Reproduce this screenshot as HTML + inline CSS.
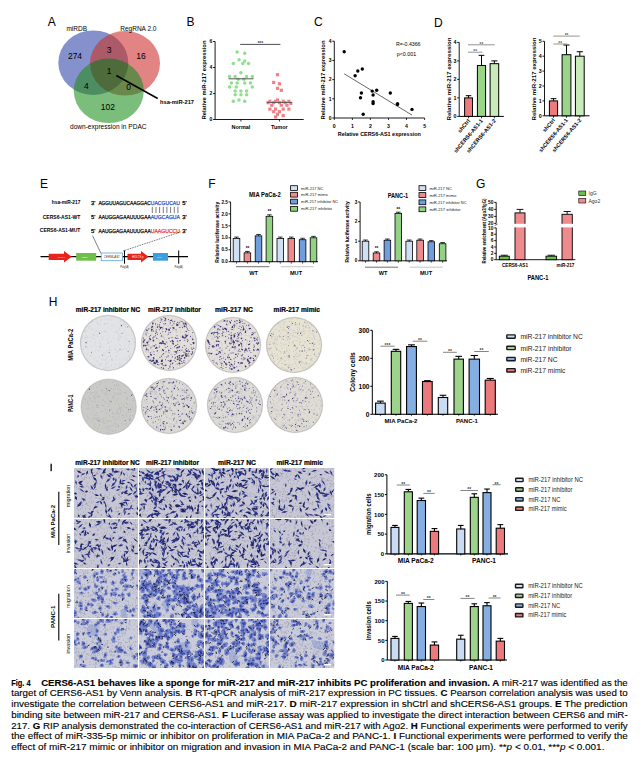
<!DOCTYPE html><html><head><meta charset="utf-8"><style>html,body{margin:0;padding:0;background:#fff}body{width:641px;height:766px;position:relative;overflow:hidden;font-family:"Liberation Sans",sans-serif}svg{position:absolute;left:0;top:0}svg text{font-family:"Liberation Sans",sans-serif}.cap{position:absolute;left:11.2px;width:616.5px;font-size:8.6px;line-height:10.7px;white-space:nowrap;text-align:justify;text-align-last:justify;color:#111}.cap b{font-weight:bold}</style></head><body>
<svg width="641" height="766" viewBox="0 0 641 766">
<text x="47.7" y="25.8" font-size="12">A</text>
<text x="186.5" y="26.2" font-size="12">B</text>
<text x="314" y="26" font-size="12">C</text>
<text x="434" y="26.5" font-size="12">D</text>
<text x="40" y="187.7" font-size="12">E</text>
<text x="208.3" y="187.7" font-size="12">F</text>
<text x="475.9" y="187.9" font-size="12">G</text>
<text x="48.7" y="306.2" font-size="12">H</text>
<rect x="50.5" y="463.7" width="1.3" height="7.5" fill="#000"/>
<g>
<ellipse cx="93.3" cy="62.7" rx="35" ry="32.3" fill="#5567b8" fill-opacity="0.72"/>
<ellipse cx="125" cy="63.3" rx="35" ry="32.3" fill="#d64a4a" fill-opacity="0.68"/>
<ellipse cx="108.8" cy="90.8" rx="35" ry="32.3" fill="#3c9e3c" fill-opacity="0.68"/>
<defs><clipPath id="vb"><ellipse cx="93.3" cy="62.7" rx="35" ry="32.3"/></clipPath><clipPath id="vr"><ellipse cx="125" cy="63.3" rx="35" ry="32.3"/></clipPath></defs>
<ellipse cx="125" cy="63.3" rx="35" ry="32.3" fill="#000" fill-opacity="0.08" clip-path="url(#vb)"/>
<ellipse cx="108.8" cy="90.8" rx="35" ry="32.3" fill="#000" fill-opacity="0.08" clip-path="url(#vb)"/>
<ellipse cx="108.8" cy="90.8" rx="35" ry="32.3" fill="#000" fill-opacity="0.08" clip-path="url(#vr)"/>
</g>
<text x="66.4" y="31" font-size="7" textLength="20.6" lengthAdjust="spacingAndGlyphs">miRDB</text>
<text x="120.2" y="31" font-size="7" textLength="36.3" lengthAdjust="spacingAndGlyphs">RegRNA 2.0</text>
<text x="75" y="59" font-size="8.5" text-anchor="middle">274</text>
<text x="109.2" y="53" font-size="8.5" text-anchor="middle">3</text>
<text x="140.9" y="58.5" font-size="8.5" text-anchor="middle">16</text>
<text x="109.2" y="74" font-size="8.5" text-anchor="middle">1</text>
<text x="86.3" y="88.5" font-size="8.5" text-anchor="middle">4</text>
<text x="128.5" y="89.5" font-size="8.5" text-anchor="middle">0</text>
<text x="107.8" y="109.5" font-size="8.5" text-anchor="middle">102</text>
<text x="70" y="129" font-size="7" textLength="76.5" lengthAdjust="spacingAndGlyphs">down-expression in PDAC</text>
<line x1="116.3" y1="75.5" x2="157.7" y2="98.5" stroke="#000" stroke-width="1.5"/>
<text x="160" y="104" font-size="6" font-weight="bold" textLength="34" lengthAdjust="spacingAndGlyphs">hsa-miR-217</text>
<line x1="215.1" y1="41.5" x2="215.1" y2="119.5" stroke="#000" stroke-width="0.9"/><line x1="213.1" y1="119.5" x2="215.1" y2="119.5" stroke="#000" stroke-width="0.9"/><text x="212.29999999999998" y="121.3" font-size="5" font-weight="bold" text-anchor="end">0</text><line x1="213.1" y1="93.5" x2="215.1" y2="93.5" stroke="#000" stroke-width="0.9"/><text x="212.29999999999998" y="95.3" font-size="5" font-weight="bold" text-anchor="end">2</text><line x1="213.1" y1="67.5" x2="215.1" y2="67.5" stroke="#000" stroke-width="0.9"/><text x="212.29999999999998" y="69.3" font-size="5" font-weight="bold" text-anchor="end">4</text><line x1="213.1" y1="41.5" x2="215.1" y2="41.5" stroke="#000" stroke-width="0.9"/><text x="212.29999999999998" y="43.3" font-size="5" font-weight="bold" text-anchor="end">6</text>
<line x1="215.1" y1="119.5" x2="303.7" y2="119.5" stroke="#000" stroke-width="0.9"/>
<line x1="240.9" y1="119.5" x2="240.9" y2="121.5" stroke="#000" stroke-width="0.8"/>
<line x1="279.4" y1="119.5" x2="279.4" y2="121.5" stroke="#000" stroke-width="0.8"/>
<text x="240.9" y="128.5" font-size="5.5" font-weight="bold" text-anchor="middle">Normal</text>
<text x="279.4" y="128.5" font-size="5.5" font-weight="bold" text-anchor="middle">Tumor</text>
<text transform="translate(206.0 80.0) rotate(-90)" font-size="5.6" text-anchor="middle" font-weight="bold" textLength="79" lengthAdjust="spacingAndGlyphs">Relative miR-217 expression</text>
<line x1="240.2" y1="44.4" x2="280.4" y2="44.4" stroke="#000" stroke-width="0.7"/><text x="260.29999999999995" y="45.3" font-size="5" font-weight="bold" text-anchor="middle" fill="#444">***</text>
<circle cx="237.1" cy="51.9" r="1.75" fill="#8ee08e"/>
<circle cx="244.7" cy="53.2" r="1.75" fill="#8ee08e"/>
<circle cx="239.0" cy="59.7" r="1.75" fill="#8ee08e"/>
<circle cx="244.7" cy="61.0" r="1.75" fill="#8ee08e"/>
<circle cx="233.3" cy="63.6" r="1.75" fill="#8ee08e"/>
<circle cx="242.8" cy="63.6" r="1.75" fill="#8ee08e"/>
<circle cx="248.5" cy="63.6" r="1.75" fill="#8ee08e"/>
<circle cx="240.9" cy="72.7" r="1.75" fill="#8ee08e"/>
<circle cx="229.5" cy="76.6" r="1.75" fill="#8ee08e"/>
<circle cx="235.2" cy="76.6" r="1.75" fill="#8ee08e"/>
<circle cx="246.6" cy="76.6" r="1.75" fill="#8ee08e"/>
<circle cx="252.3" cy="76.6" r="1.75" fill="#8ee08e"/>
<circle cx="238.1" cy="79.2" r="1.75" fill="#8ee08e"/>
<circle cx="243.8" cy="79.2" r="1.75" fill="#8ee08e"/>
<circle cx="231.4" cy="83.1" r="1.75" fill="#8ee08e"/>
<circle cx="237.1" cy="83.1" r="1.75" fill="#8ee08e"/>
<circle cx="244.7" cy="83.1" r="1.75" fill="#8ee08e"/>
<circle cx="250.4" cy="83.1" r="1.75" fill="#8ee08e"/>
<circle cx="229.5" cy="87.0" r="1.75" fill="#8ee08e"/>
<circle cx="252.3" cy="87.0" r="1.75" fill="#8ee08e"/>
<circle cx="236.2" cy="87.0" r="1.75" fill="#8ee08e"/>
<circle cx="235.2" cy="90.9" r="1.75" fill="#8ee08e"/>
<circle cx="240.9" cy="90.9" r="1.75" fill="#8ee08e"/>
<circle cx="246.6" cy="90.9" r="1.75" fill="#8ee08e"/>
<circle cx="235.2" cy="94.8" r="1.75" fill="#8ee08e"/>
<circle cx="240.9" cy="94.8" r="1.75" fill="#8ee08e"/>
<circle cx="246.6" cy="94.8" r="1.75" fill="#8ee08e"/>
<circle cx="239.0" cy="100.0" r="1.75" fill="#8ee08e"/>
<circle cx="233.3" cy="101.3" r="1.75" fill="#8ee08e"/>
<circle cx="244.7" cy="101.3" r="1.75" fill="#8ee08e"/>
<rect x="275.9" y="73.1" width="3.2" height="3.2" fill="#f27f85"/>
<rect x="272.1" y="80.8" width="3.2" height="3.2" fill="#f27f85"/>
<rect x="277.8" y="82.2" width="3.2" height="3.2" fill="#f27f85"/>
<rect x="275.9" y="86.7" width="3.2" height="3.2" fill="#f27f85"/>
<rect x="279.7" y="88.7" width="3.2" height="3.2" fill="#f27f85"/>
<rect x="275.9" y="98.4" width="3.2" height="3.2" fill="#f27f85"/>
<rect x="268.3" y="99.7" width="3.2" height="3.2" fill="#f27f85"/>
<rect x="274.0" y="99.7" width="3.2" height="3.2" fill="#f27f85"/>
<rect x="281.6" y="99.7" width="3.2" height="3.2" fill="#f27f85"/>
<rect x="287.3" y="99.7" width="3.2" height="3.2" fill="#f27f85"/>
<rect x="266.4" y="101.0" width="3.2" height="3.2" fill="#f27f85"/>
<rect x="272.1" y="101.0" width="3.2" height="3.2" fill="#f27f85"/>
<rect x="277.8" y="101.0" width="3.2" height="3.2" fill="#f27f85"/>
<rect x="283.5" y="101.0" width="3.2" height="3.2" fill="#f27f85"/>
<rect x="289.2" y="101.7" width="3.2" height="3.2" fill="#f27f85"/>
<rect x="270.2" y="103.6" width="3.2" height="3.2" fill="#f27f85"/>
<rect x="279.7" y="103.6" width="3.2" height="3.2" fill="#f27f85"/>
<rect x="285.4" y="103.6" width="3.2" height="3.2" fill="#f27f85"/>
<rect x="268.3" y="107.5" width="3.2" height="3.2" fill="#f27f85"/>
<rect x="274.0" y="107.5" width="3.2" height="3.2" fill="#f27f85"/>
<rect x="281.6" y="107.5" width="3.2" height="3.2" fill="#f27f85"/>
<rect x="287.3" y="107.5" width="3.2" height="3.2" fill="#f27f85"/>
<rect x="272.1" y="110.1" width="3.2" height="3.2" fill="#f27f85"/>
<rect x="277.8" y="110.1" width="3.2" height="3.2" fill="#f27f85"/>
<rect x="275.9" y="112.7" width="3.2" height="3.2" fill="#f27f85"/>
<rect x="281.6" y="114.0" width="3.2" height="3.2" fill="#f27f85"/>
<rect x="274.0" y="115.3" width="3.2" height="3.2" fill="#f27f85"/>
<line x1="228.5" y1="78.8" x2="253.5" y2="78.8" stroke="#555" stroke-width="1"/>
<line x1="267" y1="102.5" x2="292" y2="102.5" stroke="#555" stroke-width="0.9"/>
<line x1="334.3" y1="41.2" x2="334.3" y2="118.0" stroke="#000" stroke-width="0.9"/><line x1="332.3" y1="118.0" x2="334.3" y2="118.0" stroke="#000" stroke-width="0.9"/><text x="331.5" y="119.8" font-size="5" font-weight="bold" text-anchor="end">0</text><line x1="332.3" y1="98.8" x2="334.3" y2="98.8" stroke="#000" stroke-width="0.9"/><text x="331.5" y="100.6" font-size="5" font-weight="bold" text-anchor="end">1</text><line x1="332.3" y1="79.6" x2="334.3" y2="79.6" stroke="#000" stroke-width="0.9"/><text x="331.5" y="81.39999999999999" font-size="5" font-weight="bold" text-anchor="end">2</text><line x1="332.3" y1="60.400000000000006" x2="334.3" y2="60.400000000000006" stroke="#000" stroke-width="0.9"/><text x="331.5" y="62.2" font-size="5" font-weight="bold" text-anchor="end">3</text><line x1="332.3" y1="41.2" x2="334.3" y2="41.2" stroke="#000" stroke-width="0.9"/><text x="331.5" y="43.0" font-size="5" font-weight="bold" text-anchor="end">4</text>
<line x1="334.3" y1="118" x2="424.6" y2="118" stroke="#000" stroke-width="0.9"/>
<line x1="334.3" y1="118" x2="334.3" y2="120" stroke="#000" stroke-width="0.8"/>
<text x="334.3" y="127.8" font-size="5.2" font-weight="bold" text-anchor="middle">0</text>
<line x1="352.4" y1="118" x2="352.4" y2="120" stroke="#000" stroke-width="0.8"/>
<text x="352.4" y="127.8" font-size="5.2" font-weight="bold" text-anchor="middle">1</text>
<line x1="370.4" y1="118" x2="370.4" y2="120" stroke="#000" stroke-width="0.8"/>
<text x="370.4" y="127.8" font-size="5.2" font-weight="bold" text-anchor="middle">2</text>
<line x1="388.5" y1="118" x2="388.5" y2="120" stroke="#000" stroke-width="0.8"/>
<text x="388.5" y="127.8" font-size="5.2" font-weight="bold" text-anchor="middle">3</text>
<line x1="406.5" y1="118" x2="406.5" y2="120" stroke="#000" stroke-width="0.8"/>
<text x="406.5" y="127.8" font-size="5.2" font-weight="bold" text-anchor="middle">4</text>
<line x1="424.6" y1="118" x2="424.6" y2="120" stroke="#000" stroke-width="0.8"/>
<text x="424.6" y="127.8" font-size="5.2" font-weight="bold" text-anchor="middle">5</text>
<text x="337.8" y="136.3" font-size="5.8" font-weight="bold" textLength="83" lengthAdjust="spacingAndGlyphs">Relative CERS6-AS1 expression</text>
<text transform="translate(324.5 80.0) rotate(-90)" font-size="5.6" text-anchor="middle" font-weight="bold" textLength="79" lengthAdjust="spacingAndGlyphs">Relative miR-217 expression</text>
<circle cx="344.2" cy="51.8" r="1.7" fill="#000"/>
<circle cx="355.1" cy="75.8" r="1.7" fill="#000"/>
<circle cx="357.8" cy="71.0" r="1.7" fill="#000"/>
<circle cx="362.3" cy="69.0" r="1.7" fill="#000"/>
<circle cx="361.4" cy="93.0" r="1.7" fill="#000"/>
<circle cx="360.5" cy="97.8" r="1.7" fill="#000"/>
<circle cx="363.2" cy="114.2" r="1.7" fill="#000"/>
<circle cx="372.2" cy="91.1" r="1.7" fill="#000"/>
<circle cx="373.1" cy="95.0" r="1.7" fill="#000"/>
<circle cx="376.7" cy="90.2" r="1.7" fill="#000"/>
<circle cx="373.1" cy="101.7" r="1.7" fill="#000"/>
<circle cx="373.1" cy="103.6" r="1.7" fill="#000"/>
<circle cx="390.3" cy="93.0" r="1.7" fill="#000"/>
<circle cx="397.5" cy="103.6" r="1.7" fill="#000"/>
<circle cx="397.5" cy="104.6" r="1.7" fill="#000"/>
<circle cx="412.0" cy="109.4" r="1.7" fill="#000"/>
<line x1="344.2" y1="73.8" x2="412.0" y2="115.1" stroke="#000" stroke-width="0.6"/>
<text x="396" y="46" font-size="5.3" textLength="24.5" lengthAdjust="spacingAndGlyphs">R=-0.4366</text>
<text x="396.7" y="56" font-size="5.3" textLength="19.5" lengthAdjust="spacingAndGlyphs">p&lt;0.001</text>
<line x1="459.2" y1="42.400000000000006" x2="459.2" y2="116.4" stroke="#000" stroke-width="0.9"/><line x1="457.2" y1="116.4" x2="459.2" y2="116.4" stroke="#000" stroke-width="0.9"/><text x="456.4" y="118.308" font-size="5.3" font-weight="bold" text-anchor="end">0</text><line x1="457.2" y1="97.9" x2="459.2" y2="97.9" stroke="#000" stroke-width="0.9"/><text x="456.4" y="99.808" font-size="5.3" font-weight="bold" text-anchor="end">1</text><line x1="457.2" y1="79.4" x2="459.2" y2="79.4" stroke="#000" stroke-width="0.9"/><text x="456.4" y="81.308" font-size="5.3" font-weight="bold" text-anchor="end">2</text><line x1="457.2" y1="60.900000000000006" x2="459.2" y2="60.900000000000006" stroke="#000" stroke-width="0.9"/><text x="456.4" y="62.80800000000001" font-size="5.3" font-weight="bold" text-anchor="end">3</text><line x1="457.2" y1="42.400000000000006" x2="459.2" y2="42.400000000000006" stroke="#000" stroke-width="0.9"/><text x="456.4" y="44.30800000000001" font-size="5.3" font-weight="bold" text-anchor="end">4</text><line x1="459.2" y1="116.4" x2="503.8" y2="116.4" stroke="#000" stroke-width="1"/><line x1="468.55" y1="95.68" x2="468.55" y2="97.9" stroke="#000" stroke-width="1"/><line x1="465.785" y1="95.68" x2="471.315" y2="95.68" stroke="#000" stroke-width="1"/><rect x="464.6" y="97.9" width="7.899999999999977" height="18.5" fill="#ec7b7d" stroke="#000" stroke-width="1"/><line x1="468.55" y1="116.4" x2="468.55" y2="118.4" stroke="#000" stroke-width="0.8"/><line x1="481.5" y1="55.35000000000001" x2="481.5" y2="65.525" stroke="#000" stroke-width="1"/><line x1="478.63" y1="55.35000000000001" x2="484.37" y2="55.35000000000001" stroke="#000" stroke-width="1"/><rect x="477.4" y="65.525" width="8.200000000000045" height="50.875" fill="#9ad489" stroke="#000" stroke-width="1"/><line x1="481.5" y1="116.4" x2="481.5" y2="118.4" stroke="#000" stroke-width="0.8"/><line x1="494.4" y1="60.900000000000006" x2="494.4" y2="63.675000000000004" stroke="#000" stroke-width="1"/><line x1="491.39" y1="60.900000000000006" x2="497.40999999999997" y2="60.900000000000006" stroke="#000" stroke-width="1"/><rect x="490.1" y="63.675000000000004" width="8.599999999999966" height="52.725" fill="#c9eab9" stroke="#000" stroke-width="1"/><line x1="494.4" y1="116.4" x2="494.4" y2="118.4" stroke="#000" stroke-width="0.8"/><line x1="468" y1="52.2" x2="482.3" y2="52.2" stroke="#888" stroke-width="0.9"/><text x="475.15" y="53.400000000000006" font-size="4.6" font-weight="bold" text-anchor="middle" fill="#555">**</text><line x1="468" y1="44.8" x2="494.8" y2="44.8" stroke="#888" stroke-width="0.9"/><text x="481.4" y="46.0" font-size="4.6" font-weight="bold" text-anchor="middle" fill="#555">**</text><text transform="translate(450.5 79.0) rotate(-90)" font-size="5.9" text-anchor="middle" font-weight="bold" textLength="83" lengthAdjust="spacingAndGlyphs">Relative miR-217 expression</text><text transform="translate(470.4 121.0) rotate(-50)" font-size="5.5" font-weight="bold" text-anchor="end">shCtrl</text><text transform="translate(483.3 121.0) rotate(-50)" font-size="5.5" font-weight="bold" text-anchor="end">shCERS6-AS1-1</text><text transform="translate(496.2 121.0) rotate(-50)" font-size="5.5" font-weight="bold" text-anchor="end">shCERS6-AS1-2</text>
<line x1="544.5" y1="41.3" x2="544.5" y2="115.8" stroke="#000" stroke-width="0.9"/><line x1="542.5" y1="115.8" x2="544.5" y2="115.8" stroke="#000" stroke-width="0.9"/><text x="541.7" y="117.708" font-size="5.3" font-weight="bold" text-anchor="end">0</text><line x1="542.5" y1="100.89999999999999" x2="544.5" y2="100.89999999999999" stroke="#000" stroke-width="0.9"/><text x="541.7" y="102.80799999999999" font-size="5.3" font-weight="bold" text-anchor="end">1</text><line x1="542.5" y1="86.0" x2="544.5" y2="86.0" stroke="#000" stroke-width="0.9"/><text x="541.7" y="87.908" font-size="5.3" font-weight="bold" text-anchor="end">2</text><line x1="542.5" y1="71.1" x2="544.5" y2="71.1" stroke="#000" stroke-width="0.9"/><text x="541.7" y="73.008" font-size="5.3" font-weight="bold" text-anchor="end">3</text><line x1="542.5" y1="56.199999999999996" x2="544.5" y2="56.199999999999996" stroke="#000" stroke-width="0.9"/><text x="541.7" y="58.108" font-size="5.3" font-weight="bold" text-anchor="end">4</text><line x1="542.5" y1="41.3" x2="544.5" y2="41.3" stroke="#000" stroke-width="0.9"/><text x="541.7" y="43.208" font-size="5.3" font-weight="bold" text-anchor="end">5</text><line x1="544.5" y1="115.8" x2="589.5" y2="115.8" stroke="#000" stroke-width="1"/><line x1="553.5" y1="98.66499999999999" x2="553.5" y2="100.89999999999999" stroke="#000" stroke-width="1"/><line x1="550.63" y1="98.66499999999999" x2="556.37" y2="98.66499999999999" stroke="#000" stroke-width="1"/><rect x="549.4" y="100.89999999999999" width="8.200000000000045" height="14.900000000000006" fill="#ec7b7d" stroke="#000" stroke-width="1"/><line x1="553.5" y1="115.8" x2="553.5" y2="117.8" stroke="#000" stroke-width="0.8"/><line x1="566.5" y1="45.02499999999999" x2="566.5" y2="54.71" stroke="#000" stroke-width="1"/><line x1="563.4200000000001" y1="45.02499999999999" x2="569.5799999999999" y2="45.02499999999999" stroke="#000" stroke-width="1"/><rect x="562.1" y="54.71" width="8.799999999999955" height="61.089999999999996" fill="#9ad489" stroke="#000" stroke-width="1"/><line x1="566.5" y1="115.8" x2="566.5" y2="117.8" stroke="#000" stroke-width="0.8"/><line x1="579.8" y1="51.730000000000004" x2="579.8" y2="56.199999999999996" stroke="#000" stroke-width="1"/><line x1="576.7199999999999" y1="51.730000000000004" x2="582.88" y2="51.730000000000004" stroke="#000" stroke-width="1"/><rect x="575.4" y="56.199999999999996" width="8.800000000000068" height="59.6" fill="#c9eab9" stroke="#000" stroke-width="1"/><line x1="579.8" y1="115.8" x2="579.8" y2="117.8" stroke="#000" stroke-width="0.8"/><line x1="553.3" y1="44" x2="567" y2="44" stroke="#888" stroke-width="0.9"/><text x="560.15" y="45.2" font-size="4.6" font-weight="bold" text-anchor="middle" fill="#555">**</text><line x1="553.3" y1="36.1" x2="579.7" y2="36.1" stroke="#888" stroke-width="0.9"/><text x="566.5" y="37.300000000000004" font-size="4.6" font-weight="bold" text-anchor="middle" fill="#555">**</text><text transform="translate(535.8 79.0) rotate(-90)" font-size="5.9" text-anchor="middle" font-weight="bold" textLength="83" lengthAdjust="spacingAndGlyphs">Relative miR-217 expression</text><text transform="translate(555.3 120.4) rotate(-50)" font-size="5.5" font-weight="bold" text-anchor="end">shCtrl</text><text transform="translate(568.3 120.4) rotate(-50)" font-size="5.5" font-weight="bold" text-anchor="end">shCERS6-AS1-1</text><text transform="translate(581.6 120.4) rotate(-50)" font-size="5.5" font-weight="bold" text-anchor="end">shCERS6-AS1-2</text>
<text x="51.8" y="204.3" font-size="5.6" font-weight="bold" textLength="28.6" lengthAdjust="spacingAndGlyphs">hsa-miR-217</text>
<text x="42.7" y="218.6" font-size="5.6" font-weight="bold" textLength="37.7" lengthAdjust="spacingAndGlyphs">CERS6-AS1-WT</text>
<text x="39.8" y="232.2" font-size="5.6" font-weight="bold" textLength="40.6" lengthAdjust="spacingAndGlyphs">CERS6-AS1-MUT</text>
<text x="91" y="204.70000000000002" font-size="5.8" stroke="#000" stroke-width="0.25">3'</text>
<text x="98.4" y="204.70000000000002" font-size="5.8" textLength="52.3" lengthAdjust="spacingAndGlyphs" stroke="#000" stroke-width="0.25">AGGUUAGUCAAGGAC</text>
<text x="150.7" y="204.70000000000002" font-size="5.8" fill="#2a4dc0" textLength="29.3" lengthAdjust="spacingAndGlyphs" stroke="#2a4dc0" stroke-width="0.25">UACGUCAU</text>
<text x="182.3" y="204.70000000000002" font-size="5.8" stroke="#000" stroke-width="0.25">5'</text>
<text x="91" y="219.0" font-size="5.8" stroke="#000" stroke-width="0.25">5'</text>
<text x="98.4" y="219.0" font-size="5.8" textLength="52.3" lengthAdjust="spacingAndGlyphs" stroke="#000" stroke-width="0.25">AAUGGAGAAUUUGAA</text>
<text x="150.7" y="219.0" font-size="5.8" fill="#2a4dc0" textLength="29.3" lengthAdjust="spacingAndGlyphs" stroke="#2a4dc0" stroke-width="0.25">AUGCAGUA</text>
<text x="182.3" y="219.0" font-size="5.8" stroke="#000" stroke-width="0.25">3'</text>
<text x="91" y="232.6" font-size="5.8" stroke="#000" stroke-width="0.25">5'</text>
<text x="98.4" y="232.6" font-size="5.8" textLength="52.3" lengthAdjust="spacingAndGlyphs" stroke="#000" stroke-width="0.25">AAUGGAGAAUUUGAA</text>
<text x="150.7" y="232.6" font-size="5.8" fill="#e8302a" textLength="29.3" lengthAdjust="spacingAndGlyphs" stroke="#e8302a" stroke-width="0.25">UAAGUCCU</text>
<text x="182.3" y="232.6" font-size="5.8" stroke="#000" stroke-width="0.25">3'</text>
<line x1="152.3" y1="206.8" x2="152.3" y2="213" stroke="#222" stroke-width="0.6"/>
<line x1="156.0" y1="206.8" x2="156.0" y2="213" stroke="#222" stroke-width="0.6"/>
<line x1="159.6" y1="206.8" x2="159.6" y2="213" stroke="#222" stroke-width="0.6"/>
<line x1="163.3" y1="206.8" x2="163.3" y2="213" stroke="#222" stroke-width="0.6"/>
<line x1="166.9" y1="206.8" x2="166.9" y2="213" stroke="#222" stroke-width="0.6"/>
<line x1="170.6" y1="206.8" x2="170.6" y2="213" stroke="#222" stroke-width="0.6"/>
<line x1="174.3" y1="206.8" x2="174.3" y2="213" stroke="#222" stroke-width="0.6"/>
<line x1="177.9" y1="206.8" x2="177.9" y2="213" stroke="#222" stroke-width="0.6"/>
<line x1="40.5" y1="256.7" x2="188" y2="256.7" stroke="#000" stroke-width="1.2"/>
<polygon points="48.7,253.7 64,253.7 64,251 71.7,256.8 64,262.5 64,260 48.7,260" fill="#e8231c"/>
<polygon points="127.5,253.7 141,253.7 141,251 148.7,256.8 141,262.5 141,260 127.5,260" fill="#e8231c"/>
<rect x="76.2" y="253" width="20" height="7.7" fill="#6ec04a"/>
<rect x="101.2" y="253" width="21.3" height="7.7" fill="#fff" stroke="#58a7e0" stroke-width="0.8"/>
<rect x="153" y="253" width="15" height="7.7" fill="#3b9ede"/>
<line x1="124.5" y1="250.5" x2="124.5" y2="263.7" stroke="#000" stroke-width="1"/>
<line x1="178.7" y1="250.5" x2="178.7" y2="263.7" stroke="#000" stroke-width="1"/>
<text x="58" y="258" font-size="2.2" fill="#fdd">EF1a p</text>
<text x="82" y="258" font-size="2.2" fill="#efe">hRluc</text>
<text x="111.8" y="258.2" font-size="2.8" text-anchor="middle" fill="#333" font-style="italic">CERS6-AS1</text>
<text x="132" y="258" font-size="2.6" fill="#fee">HSV-TK p</text>
<text x="157" y="258" font-size="2.2" fill="#def">hluc+</text>
<text x="124.5" y="267.5" font-size="2.6" text-anchor="middle" fill="#222">Poly(A)</text>
<text x="178.7" y="267.5" font-size="2.6" text-anchor="middle" fill="#222">Poly(A)</text>
<line x1="92.5" y1="235.5" x2="100.8" y2="253" stroke="#000" stroke-width="0.5"/>
<line x1="180.5" y1="232" x2="123" y2="251" stroke="#000" stroke-width="0.6" stroke-dasharray="1,0.8"/>
<line x1="230.6" y1="201.95" x2="230.6" y2="261.7" stroke="#000" stroke-width="0.9"/><line x1="228.6" y1="261.7" x2="230.6" y2="261.7" stroke="#000" stroke-width="0.9"/><text x="227.79999999999998" y="263.356" font-size="4.6" font-weight="bold" text-anchor="end">0.0</text><line x1="228.6" y1="249.75" x2="230.6" y2="249.75" stroke="#000" stroke-width="0.9"/><text x="227.79999999999998" y="251.406" font-size="4.6" font-weight="bold" text-anchor="end">0.5</text><line x1="228.6" y1="237.79999999999998" x2="230.6" y2="237.79999999999998" stroke="#000" stroke-width="0.9"/><text x="227.79999999999998" y="239.456" font-size="4.6" font-weight="bold" text-anchor="end">1.0</text><line x1="228.6" y1="225.85" x2="230.6" y2="225.85" stroke="#000" stroke-width="0.9"/><text x="227.79999999999998" y="227.506" font-size="4.6" font-weight="bold" text-anchor="end">1.5</text><line x1="228.6" y1="213.89999999999998" x2="230.6" y2="213.89999999999998" stroke="#000" stroke-width="0.9"/><text x="227.79999999999998" y="215.55599999999998" font-size="4.6" font-weight="bold" text-anchor="end">2.0</text><line x1="228.6" y1="201.95" x2="230.6" y2="201.95" stroke="#000" stroke-width="0.9"/><text x="227.79999999999998" y="203.606" font-size="4.6" font-weight="bold" text-anchor="end">2.5</text><line x1="230.6" y1="261.7" x2="318" y2="261.7" stroke="#000" stroke-width="0.9"/><line x1="236.5" y1="237.083" x2="236.5" y2="238.517" stroke="#000" stroke-width="0.8"/><line x1="234.19" y1="237.083" x2="238.81" y2="237.083" stroke="#000" stroke-width="0.8"/><rect x="233.2" y="238.517" width="6.600000000000023" height="23.182999999999993" fill="#cfe0f5" stroke="#000" stroke-width="0.8"/><line x1="236.5" y1="261.7" x2="236.5" y2="263.7" stroke="#000" stroke-width="0.6"/><line x1="247.4" y1="251.423" x2="247.4" y2="252.857" stroke="#000" stroke-width="0.8"/><line x1="245.09" y1="251.423" x2="249.71" y2="251.423" stroke="#000" stroke-width="0.8"/><rect x="244.1" y="252.857" width="6.600000000000023" height="8.84299999999999" fill="#ef8b8e" stroke="#000" stroke-width="0.8"/><line x1="247.4" y1="261.7" x2="247.4" y2="263.7" stroke="#000" stroke-width="0.6"/><text x="247.4" y="249.923" font-size="4.5" font-weight="bold" text-anchor="middle">**</text><line x1="258.5" y1="234.45399999999998" x2="258.5" y2="235.88799999999998" stroke="#000" stroke-width="0.8"/><line x1="256.19" y1="234.45399999999998" x2="260.81" y2="234.45399999999998" stroke="#000" stroke-width="0.8"/><rect x="255.2" y="235.88799999999998" width="6.600000000000023" height="25.812000000000012" fill="#6f9ddd" stroke="#000" stroke-width="0.8"/><line x1="258.5" y1="261.7" x2="258.5" y2="263.7" stroke="#000" stroke-width="0.6"/><line x1="269.4" y1="214.856" x2="269.4" y2="216.29" stroke="#000" stroke-width="0.8"/><line x1="267.09" y1="214.856" x2="271.71" y2="214.856" stroke="#000" stroke-width="0.8"/><rect x="266.09999999999997" y="216.29" width="6.600000000000023" height="45.41" fill="#92d383" stroke="#000" stroke-width="0.8"/><line x1="269.4" y1="261.7" x2="269.4" y2="263.7" stroke="#000" stroke-width="0.6"/><text x="269.4" y="213.356" font-size="4.5" font-weight="bold" text-anchor="middle">**</text><line x1="280.3" y1="237.083" x2="280.3" y2="238.517" stroke="#000" stroke-width="0.8"/><line x1="277.99" y1="237.083" x2="282.61" y2="237.083" stroke="#000" stroke-width="0.8"/><rect x="277.0" y="238.517" width="6.600000000000023" height="23.182999999999993" fill="#cfe0f5" stroke="#000" stroke-width="0.8"/><line x1="280.3" y1="261.7" x2="280.3" y2="263.7" stroke="#000" stroke-width="0.6"/><line x1="291.3" y1="237.083" x2="291.3" y2="238.517" stroke="#000" stroke-width="0.8"/><line x1="288.99" y1="237.083" x2="293.61" y2="237.083" stroke="#000" stroke-width="0.8"/><rect x="288.0" y="238.517" width="6.600000000000023" height="23.182999999999993" fill="#ef8b8e" stroke="#000" stroke-width="0.8"/><line x1="291.3" y1="261.7" x2="291.3" y2="263.7" stroke="#000" stroke-width="0.6"/><line x1="302.6" y1="238.278" x2="302.6" y2="239.712" stroke="#000" stroke-width="0.8"/><line x1="300.29" y1="238.278" x2="304.91" y2="238.278" stroke="#000" stroke-width="0.8"/><rect x="299.3" y="239.712" width="6.600000000000023" height="21.988" fill="#6f9ddd" stroke="#000" stroke-width="0.8"/><line x1="302.6" y1="261.7" x2="302.6" y2="263.7" stroke="#000" stroke-width="0.6"/><line x1="313.5" y1="236.36599999999999" x2="313.5" y2="237.79999999999998" stroke="#000" stroke-width="0.8"/><line x1="311.19" y1="236.36599999999999" x2="315.81" y2="236.36599999999999" stroke="#000" stroke-width="0.8"/><rect x="310.2" y="237.79999999999998" width="6.600000000000023" height="23.900000000000006" fill="#92d383" stroke="#000" stroke-width="0.8"/><line x1="313.5" y1="261.7" x2="313.5" y2="263.7" stroke="#000" stroke-width="0.6"/><text x="264.9" y="196.6" font-size="6.6" font-weight="bold" text-anchor="middle" textLength="31.8" lengthAdjust="spacingAndGlyphs">MIA PaCa-2</text><text transform="translate(219.2 232.3) rotate(-90)" font-size="4.8" text-anchor="middle" font-weight="bold" textLength="61" lengthAdjust="spacingAndGlyphs">Relative luciferase activity</text><rect x="290.6" y="185.7" width="6.8" height="4.8" fill="#cfe0f5" stroke="#000" stroke-width="0.8"/><text x="301.1" y="189.7" font-size="4.4" fill="#222" textLength="22.4" lengthAdjust="spacingAndGlyphs">miR-217 NC</text><rect x="290.6" y="192.29999999999998" width="6.8" height="4.8" fill="#ef8b8e" stroke="#000" stroke-width="0.8"/><text x="301.1" y="196.29999999999998" font-size="4.4" fill="#222" textLength="27.3" lengthAdjust="spacingAndGlyphs">miR-217 mimic</text><rect x="290.6" y="199.2" width="6.8" height="4.8" fill="#6f9ddd" stroke="#000" stroke-width="0.8"/><text x="301.1" y="203.2" font-size="4.4" fill="#222" textLength="37.1" lengthAdjust="spacingAndGlyphs">miR-217 inhibitor NC</text><rect x="290.6" y="206.4" width="6.8" height="4.8" fill="#92d383" stroke="#000" stroke-width="0.8"/><text x="301.1" y="210.4" font-size="4.4" fill="#222" textLength="31.1" lengthAdjust="spacingAndGlyphs">miR-217 inhibitor</text><line x1="236" y1="266.7" x2="269.4" y2="266.7" stroke="#333" stroke-width="0.7"/><line x1="280.8" y1="266.7" x2="313.5" y2="266.7" stroke="#aaa" stroke-width="0.7"/><text x="253.5" y="274.7" font-size="5.6" font-weight="bold" text-anchor="middle">WT</text><text x="296" y="274.7" font-size="5.6" font-weight="bold" text-anchor="middle">MUT</text>
<line x1="360.1" y1="202.0" x2="360.1" y2="260.8" stroke="#000" stroke-width="0.9"/><line x1="358.1" y1="260.8" x2="360.1" y2="260.8" stroke="#000" stroke-width="0.9"/><text x="357.3" y="262.456" font-size="4.6" font-weight="bold" text-anchor="end">0</text><line x1="358.1" y1="241.20000000000002" x2="360.1" y2="241.20000000000002" stroke="#000" stroke-width="0.9"/><text x="357.3" y="242.85600000000002" font-size="4.6" font-weight="bold" text-anchor="end">1</text><line x1="358.1" y1="221.60000000000002" x2="360.1" y2="221.60000000000002" stroke="#000" stroke-width="0.9"/><text x="357.3" y="223.25600000000003" font-size="4.6" font-weight="bold" text-anchor="end">2</text><line x1="358.1" y1="202.0" x2="360.1" y2="202.0" stroke="#000" stroke-width="0.9"/><text x="357.3" y="203.656" font-size="4.6" font-weight="bold" text-anchor="end">3</text><line x1="360.1" y1="260.8" x2="447" y2="260.8" stroke="#000" stroke-width="0.9"/><line x1="365.5" y1="240.024" x2="365.5" y2="241.20000000000002" stroke="#000" stroke-width="0.8"/><line x1="363.19" y1="240.024" x2="367.81" y2="240.024" stroke="#000" stroke-width="0.8"/><rect x="362.2" y="241.20000000000002" width="6.600000000000023" height="19.599999999999994" fill="#cfe0f5" stroke="#000" stroke-width="0.8"/><line x1="365.5" y1="260.8" x2="365.5" y2="262.8" stroke="#000" stroke-width="0.6"/><line x1="376.5" y1="251.78400000000002" x2="376.5" y2="252.96" stroke="#000" stroke-width="0.8"/><line x1="374.19" y1="251.78400000000002" x2="378.81" y2="251.78400000000002" stroke="#000" stroke-width="0.8"/><rect x="373.2" y="252.96" width="6.600000000000023" height="7.840000000000003" fill="#ef8b8e" stroke="#000" stroke-width="0.8"/><line x1="376.5" y1="260.8" x2="376.5" y2="262.8" stroke="#000" stroke-width="0.6"/><text x="376.5" y="250.28400000000002" font-size="4.5" font-weight="bold" text-anchor="middle">**</text><line x1="387.4" y1="239.044" x2="387.4" y2="240.22" stroke="#000" stroke-width="0.8"/><line x1="385.09" y1="239.044" x2="389.71" y2="239.044" stroke="#000" stroke-width="0.8"/><rect x="384.09999999999997" y="240.22" width="6.600000000000023" height="20.580000000000013" fill="#6f9ddd" stroke="#000" stroke-width="0.8"/><line x1="387.4" y1="260.8" x2="387.4" y2="262.8" stroke="#000" stroke-width="0.6"/><line x1="398.3" y1="212.192" x2="398.3" y2="213.368" stroke="#000" stroke-width="0.8"/><line x1="395.99" y1="212.192" x2="400.61" y2="212.192" stroke="#000" stroke-width="0.8"/><rect x="395.0" y="213.368" width="6.600000000000023" height="47.432000000000016" fill="#92d383" stroke="#000" stroke-width="0.8"/><line x1="398.3" y1="260.8" x2="398.3" y2="262.8" stroke="#000" stroke-width="0.6"/><text x="398.3" y="210.692" font-size="4.5" font-weight="bold" text-anchor="middle">**</text><line x1="409.2" y1="240.024" x2="409.2" y2="241.20000000000002" stroke="#000" stroke-width="0.8"/><line x1="406.89" y1="240.024" x2="411.51" y2="240.024" stroke="#000" stroke-width="0.8"/><rect x="405.9" y="241.20000000000002" width="6.600000000000023" height="19.599999999999994" fill="#cfe0f5" stroke="#000" stroke-width="0.8"/><line x1="409.2" y1="260.8" x2="409.2" y2="262.8" stroke="#000" stroke-width="0.6"/><line x1="420.1" y1="239.044" x2="420.1" y2="240.22" stroke="#000" stroke-width="0.8"/><line x1="417.79" y1="239.044" x2="422.41" y2="239.044" stroke="#000" stroke-width="0.8"/><rect x="416.8" y="240.22" width="6.600000000000023" height="20.580000000000013" fill="#ef8b8e" stroke="#000" stroke-width="0.8"/><line x1="420.1" y1="260.8" x2="420.1" y2="262.8" stroke="#000" stroke-width="0.6"/><line x1="431.3" y1="240.61200000000002" x2="431.3" y2="241.788" stroke="#000" stroke-width="0.8"/><line x1="428.99" y1="240.61200000000002" x2="433.61" y2="240.61200000000002" stroke="#000" stroke-width="0.8"/><rect x="428.0" y="241.788" width="6.600000000000023" height="19.012" fill="#6f9ddd" stroke="#000" stroke-width="0.8"/><line x1="431.3" y1="260.8" x2="431.3" y2="262.8" stroke="#000" stroke-width="0.6"/><line x1="442.6" y1="242.572" x2="442.6" y2="243.74800000000002" stroke="#000" stroke-width="0.8"/><line x1="440.29" y1="242.572" x2="444.91" y2="242.572" stroke="#000" stroke-width="0.8"/><rect x="439.3" y="243.74800000000002" width="6.600000000000023" height="17.051999999999992" fill="#92d383" stroke="#000" stroke-width="0.8"/><line x1="442.6" y1="260.8" x2="442.6" y2="262.8" stroke="#000" stroke-width="0.6"/><text x="397.9" y="197.6" font-size="6.6" font-weight="bold" text-anchor="middle" textLength="20.5" lengthAdjust="spacingAndGlyphs">PANC-1</text><text transform="translate(348.7 231.9) rotate(-90)" font-size="4.8" text-anchor="middle" font-weight="bold" textLength="61" lengthAdjust="spacingAndGlyphs">Relative luciferase activity</text><rect x="419" y="185.7" width="6.8" height="4.8" fill="#cfe0f5" stroke="#000" stroke-width="0.8"/><text x="429.5" y="189.7" font-size="4.4" fill="#222" textLength="22.4" lengthAdjust="spacingAndGlyphs">miR-217 NC</text><rect x="419" y="192.6" width="6.8" height="4.8" fill="#ef8b8e" stroke="#000" stroke-width="0.8"/><text x="429.5" y="196.6" font-size="4.4" fill="#222" textLength="27.3" lengthAdjust="spacingAndGlyphs">miR-217 mimic</text><rect x="419" y="199.9" width="6.8" height="4.8" fill="#6f9ddd" stroke="#000" stroke-width="0.8"/><text x="429.5" y="203.9" font-size="4.4" fill="#222" textLength="37.1" lengthAdjust="spacingAndGlyphs">miR-217 inhibitor NC</text><rect x="419" y="206.9" width="6.8" height="4.8" fill="#92d383" stroke="#000" stroke-width="0.8"/><text x="429.5" y="210.9" font-size="4.4" fill="#222" textLength="31.1" lengthAdjust="spacingAndGlyphs">miR-217 inhibitor</text><line x1="365" y1="267.2" x2="398" y2="267.2" stroke="#333" stroke-width="0.7"/><line x1="409.5" y1="267.2" x2="442.6" y2="267.2" stroke="#aaa" stroke-width="0.7"/><text x="383" y="275.2" font-size="5.6" font-weight="bold" text-anchor="middle">WT</text><text x="426" y="275.2" font-size="5.6" font-weight="bold" text-anchor="middle">MUT</text>
<line x1="496.2" y1="227.9" x2="496.2" y2="259.7" stroke="#000" stroke-width="0.9"/><line x1="494.2" y1="259.7" x2="496.2" y2="259.7" stroke="#000" stroke-width="0.9"/><text x="493.4" y="261.428" font-size="4.8" font-weight="bold" text-anchor="end">0</text><line x1="494.2" y1="253.34" x2="496.2" y2="253.34" stroke="#000" stroke-width="0.9"/><text x="493.4" y="255.068" font-size="4.8" font-weight="bold" text-anchor="end">2</text><line x1="494.2" y1="246.98" x2="496.2" y2="246.98" stroke="#000" stroke-width="0.9"/><text x="493.4" y="248.708" font-size="4.8" font-weight="bold" text-anchor="end">4</text><line x1="494.2" y1="240.62" x2="496.2" y2="240.62" stroke="#000" stroke-width="0.9"/><text x="493.4" y="242.348" font-size="4.8" font-weight="bold" text-anchor="end">6</text><line x1="494.2" y1="234.26" x2="496.2" y2="234.26" stroke="#000" stroke-width="0.9"/><text x="493.4" y="235.988" font-size="4.8" font-weight="bold" text-anchor="end">8</text><line x1="494.2" y1="227.9" x2="496.2" y2="227.9" stroke="#000" stroke-width="0.9"/><text x="493.4" y="229.62800000000001" font-size="4.8" font-weight="bold" text-anchor="end">10</text>
<line x1="496.2" y1="202.4" x2="496.2" y2="223.4" stroke="#000" stroke-width="0.9"/><line x1="494.2" y1="223.4" x2="496.2" y2="223.4" stroke="#000" stroke-width="0.9"/><text x="493.4" y="225.12800000000001" font-size="4.8" font-weight="bold" text-anchor="end">20</text><line x1="494.2" y1="216.4" x2="496.2" y2="216.4" stroke="#000" stroke-width="0.9"/><text x="493.4" y="218.12800000000001" font-size="4.8" font-weight="bold" text-anchor="end">30</text><line x1="494.2" y1="209.4" x2="496.2" y2="209.4" stroke="#000" stroke-width="0.9"/><text x="493.4" y="211.12800000000001" font-size="4.8" font-weight="bold" text-anchor="end">40</text><line x1="494.2" y1="202.4" x2="496.2" y2="202.4" stroke="#000" stroke-width="0.9"/><text x="493.4" y="204.12800000000001" font-size="4.8" font-weight="bold" text-anchor="end">50</text>
<line x1="496.2" y1="259.7" x2="575.4" y2="259.7" stroke="#000" stroke-width="0.9"/>
<line x1="494.7" y1="225.5" x2="497.7" y2="224" stroke="#000" stroke-width="0.6"/>
<line x1="504.3" y1="255.248" x2="504.3" y2="256.202" stroke="#000" stroke-width="0.9"/><line x1="500.8" y1="255.248" x2="507.8" y2="255.248" stroke="#000" stroke-width="0.9"/><rect x="499.3" y="256.202" width="10.0" height="3.4979999999999905" fill="#6cc04a" stroke="#000" stroke-width="0.9"/>
<line x1="520.0" y1="209.4" x2="520.0" y2="212.9" stroke="#000" stroke-width="0.9"/><line x1="516.5" y1="209.4" x2="523.5" y2="209.4" stroke="#000" stroke-width="0.9"/><rect x="515" y="212.9" width="10" height="46.79999999999998" fill="#ef8b8e" stroke="#000" stroke-width="0.9"/>
<line x1="551.3" y1="255.248" x2="551.3" y2="256.202" stroke="#000" stroke-width="0.9"/><line x1="547.5899999999999" y1="255.248" x2="555.01" y2="255.248" stroke="#000" stroke-width="0.9"/><rect x="546" y="256.202" width="10.600000000000023" height="3.4979999999999905" fill="#6cc04a" stroke="#000" stroke-width="0.9"/>
<line x1="567.15" y1="211.5" x2="567.15" y2="214.3" stroke="#000" stroke-width="0.9"/><line x1="563.545" y1="211.5" x2="570.755" y2="211.5" stroke="#000" stroke-width="0.9"/><rect x="562" y="214.3" width="10.299999999999955" height="45.39999999999998" fill="#ef8b8e" stroke="#000" stroke-width="0.9"/>
<rect x="510" y="223.8" width="70" height="3.6" fill="#fff"/>
<line x1="496.2" y1="223.4" x2="496.2" y2="227.9" stroke="#000" stroke-width="0" />
<text x="502" y="267" font-size="6" font-weight="bold" textLength="26" lengthAdjust="spacingAndGlyphs">CERS6-AS1</text>
<text x="556.6" y="267" font-size="6.2" font-weight="bold" textLength="17.8" lengthAdjust="spacingAndGlyphs">miR-217</text>
<text x="527.4" y="279.8" font-size="6.6" font-weight="bold" textLength="21" lengthAdjust="spacingAndGlyphs">PANC-1</text>
<text transform="translate(486.2 231.0) rotate(-90)" font-size="4.8" text-anchor="middle" font-weight="bold" textLength="65" lengthAdjust="spacingAndGlyphs">Relative enrichment (Ago2/IgG)</text>
<rect x="578.8" y="191" width="7" height="4.6" fill="#6cc04a" stroke="#000" stroke-width="0.6"/>
<rect x="578.8" y="198.4" width="7" height="4.6" fill="#ef8b8e" stroke="#000" stroke-width="0.6"/>
<text x="588.5" y="195.3" font-size="5" fill="#333">IgG</text>
<text x="588.5" y="202.7" font-size="5" fill="#333">Ago2</text>
<line x1="372.3" y1="330.3" x2="372.3" y2="414.3" stroke="#000" stroke-width="1"/><line x1="370.3" y1="414.3" x2="372.3" y2="414.3" stroke="#000" stroke-width="1"/><text x="369.5" y="416.676" font-size="6.6" font-weight="bold" text-anchor="end">0</text><line x1="370.3" y1="386.3" x2="372.3" y2="386.3" stroke="#000" stroke-width="1"/><text x="369.5" y="388.676" font-size="6.6" font-weight="bold" text-anchor="end">100</text><line x1="370.3" y1="358.3" x2="372.3" y2="358.3" stroke="#000" stroke-width="1"/><text x="369.5" y="360.676" font-size="6.6" font-weight="bold" text-anchor="end">200</text><line x1="370.3" y1="330.3" x2="372.3" y2="330.3" stroke="#000" stroke-width="1"/><text x="369.5" y="332.676" font-size="6.6" font-weight="bold" text-anchor="end">300</text><line x1="372.3" y1="414.3" x2="498" y2="414.3" stroke="#000" stroke-width="1.1"/><line x1="380.4" y1="401.14" x2="380.4" y2="403.1" stroke="#000" stroke-width="1.1"/><line x1="377.03999999999996" y1="401.14" x2="383.76" y2="401.14" stroke="#000" stroke-width="1.1"/><rect x="375.6" y="403.1" width="9.599999999999966" height="11.199999999999989" fill="#c9dcf3" stroke="#000" stroke-width="1.1"/><line x1="396.0" y1="349.34000000000003" x2="396.0" y2="351.3" stroke="#000" stroke-width="1.1"/><line x1="392.71000000000004" y1="349.34000000000003" x2="399.28999999999996" y2="349.34000000000003" stroke="#000" stroke-width="1.1"/><rect x="391.3" y="351.3" width="9.399999999999977" height="63.0" fill="#9ed38b" stroke="#000" stroke-width="1.1"/><line x1="411.5" y1="344.86" x2="411.5" y2="346.54" stroke="#000" stroke-width="1.1"/><line x1="408.07" y1="344.86" x2="414.93" y2="344.86" stroke="#000" stroke-width="1.1"/><rect x="406.6" y="346.54" width="9.799999999999955" height="67.75999999999999" fill="#85afe3" stroke="#000" stroke-width="1.1"/><line x1="427.35" y1="380.7" x2="427.35" y2="381.54" stroke="#000" stroke-width="1.1"/><line x1="423.95500000000004" y1="380.7" x2="430.745" y2="380.7" stroke="#000" stroke-width="1.1"/><rect x="422.5" y="381.54" width="9.699999999999989" height="32.75999999999999" fill="#ec7a7c" stroke="#000" stroke-width="1.1"/><line x1="443.0" y1="395.26" x2="443.0" y2="397.5" stroke="#000" stroke-width="1.1"/><line x1="439.71000000000004" y1="395.26" x2="446.28999999999996" y2="395.26" stroke="#000" stroke-width="1.1"/><rect x="438.3" y="397.5" width="9.399999999999977" height="16.80000000000001" fill="#c9dcf3" stroke="#000" stroke-width="1.1"/><line x1="458.7" y1="356.34000000000003" x2="458.7" y2="359.14" stroke="#000" stroke-width="1.1"/><line x1="455.40999999999997" y1="356.34000000000003" x2="461.99" y2="356.34000000000003" stroke="#000" stroke-width="1.1"/><rect x="454" y="359.14" width="9.399999999999977" height="55.160000000000025" fill="#9ed38b" stroke="#000" stroke-width="1.1"/><line x1="474.3" y1="355.5" x2="474.3" y2="359.14" stroke="#000" stroke-width="1.1"/><line x1="470.66" y1="355.5" x2="477.94" y2="355.5" stroke="#000" stroke-width="1.1"/><rect x="469.1" y="359.14" width="10.399999999999977" height="55.160000000000025" fill="#85afe3" stroke="#000" stroke-width="1.1"/><line x1="490.25" y1="378.46000000000004" x2="490.25" y2="380.14" stroke="#000" stroke-width="1.1"/><line x1="486.715" y1="378.46000000000004" x2="493.785" y2="378.46000000000004" stroke="#000" stroke-width="1.1"/><rect x="485.2" y="380.14" width="10.100000000000023" height="34.160000000000025" fill="#ec7a7c" stroke="#000" stroke-width="1.1"/><line x1="380.4" y1="414.3" x2="380.4" y2="416.1" stroke="#000" stroke-width="0.6"/><line x1="396.0" y1="414.3" x2="396.0" y2="416.1" stroke="#000" stroke-width="0.6"/><line x1="411.5" y1="414.3" x2="411.5" y2="416.1" stroke="#000" stroke-width="0.6"/><line x1="427.35" y1="414.3" x2="427.35" y2="416.1" stroke="#000" stroke-width="0.6"/><line x1="443.0" y1="414.3" x2="443.0" y2="416.1" stroke="#000" stroke-width="0.6"/><line x1="458.7" y1="414.3" x2="458.7" y2="416.1" stroke="#000" stroke-width="0.6"/><line x1="474.3" y1="414.3" x2="474.3" y2="416.1" stroke="#000" stroke-width="0.6"/><line x1="490.25" y1="414.3" x2="490.25" y2="416.1" stroke="#000" stroke-width="0.6"/><line x1="380.4" y1="346.2" x2="394.6" y2="346.2" stroke="#666" stroke-width="0.8"/><text x="387.5" y="347.09999999999997" font-size="5" font-weight="bold" text-anchor="middle" fill="#444">***</text><line x1="412.7" y1="341.2" x2="427.3" y2="341.2" stroke="#666" stroke-width="0.8"/><text x="420.0" y="342.09999999999997" font-size="5" font-weight="bold" text-anchor="middle" fill="#444">**</text><line x1="443" y1="352.3" x2="456.8" y2="352.3" stroke="#666" stroke-width="0.8"/><text x="449.9" y="353.2" font-size="5" font-weight="bold" text-anchor="middle" fill="#444">**</text><line x1="474.2" y1="351.5" x2="488.8" y2="351.5" stroke="#666" stroke-width="0.8"/><text x="481.5" y="352.4" font-size="5" font-weight="bold" text-anchor="middle" fill="#444">**</text><text transform="translate(354.6 372.0) rotate(-90)" font-size="7.3" text-anchor="middle" font-weight="bold" textLength="39.5" lengthAdjust="spacingAndGlyphs">Colony cells</text><text x="401" y="423" font-size="6" font-weight="bold" text-anchor="middle">MIA PaCa-2</text><text x="466.9" y="423" font-size="6" font-weight="bold" text-anchor="middle">PANC-1</text><rect x="506.8" y="334.90000000000003" width="8.4" height="3.4" fill="#c9dcf3" stroke="#1a1a1a" stroke-width="1.4" rx="0.5"/><text x="520.5" y="339.48" font-size="8" fill="#222" textLength="62.3" lengthAdjust="spacingAndGlyphs">miR-217 inhibitor NC</text><rect x="506.8" y="346.2" width="8.4" height="3.4" fill="#9ed38b" stroke="#1a1a1a" stroke-width="1.4" rx="0.5"/><text x="520.5" y="350.78" font-size="8" fill="#222" textLength="51.1" lengthAdjust="spacingAndGlyphs">miR-217 inhibitor</text><rect x="506.8" y="357.40000000000003" width="8.4" height="3.4" fill="#85afe3" stroke="#1a1a1a" stroke-width="1.4" rx="0.5"/><text x="520.5" y="361.98" font-size="8" fill="#222" textLength="37.1" lengthAdjust="spacingAndGlyphs">miR-217 NC</text><rect x="506.8" y="368.6" width="8.4" height="3.4" fill="#ec7a7c" stroke="#1a1a1a" stroke-width="1.4" rx="0.5"/><text x="520.5" y="373.18" font-size="8" fill="#222" textLength="44.9" lengthAdjust="spacingAndGlyphs">miR-217 mimic</text>
<line x1="386.9" y1="474.8" x2="386.9" y2="553.9" stroke="#000" stroke-width="1"/><line x1="384.9" y1="553.9" x2="386.9" y2="553.9" stroke="#000" stroke-width="1"/><text x="384.09999999999997" y="556.06" font-size="6" font-weight="bold" text-anchor="end">0</text><line x1="384.9" y1="534.125" x2="386.9" y2="534.125" stroke="#000" stroke-width="1"/><text x="384.09999999999997" y="536.285" font-size="6" font-weight="bold" text-anchor="end">50</text><line x1="384.9" y1="514.35" x2="386.9" y2="514.35" stroke="#000" stroke-width="1"/><text x="384.09999999999997" y="516.51" font-size="6" font-weight="bold" text-anchor="end">100</text><line x1="384.9" y1="494.575" x2="386.9" y2="494.575" stroke="#000" stroke-width="1"/><text x="384.09999999999997" y="496.735" font-size="6" font-weight="bold" text-anchor="end">150</text><line x1="384.9" y1="474.8" x2="386.9" y2="474.8" stroke="#000" stroke-width="1"/><text x="384.09999999999997" y="476.96000000000004" font-size="6" font-weight="bold" text-anchor="end">200</text><line x1="386.9" y1="553.9" x2="508" y2="553.9" stroke="#000" stroke-width="1.1"/><line x1="394.95" y1="525.424" x2="394.95" y2="527.4014999999999" stroke="#000" stroke-width="1.1"/><line x1="392.185" y1="525.424" x2="397.715" y2="525.424" stroke="#000" stroke-width="1.1"/><rect x="391" y="527.4014999999999" width="7.899999999999977" height="26.498500000000035" fill="#c9dcf3" stroke="#000" stroke-width="1.1"/><line x1="408.35" y1="489.4335" x2="408.35" y2="491.8065" stroke="#000" stroke-width="1.1"/><line x1="405.51500000000004" y1="489.4335" x2="411.185" y2="489.4335" stroke="#000" stroke-width="1.1"/><rect x="404.3" y="491.8065" width="8.099999999999966" height="62.09349999999995" fill="#9ed38b" stroke="#000" stroke-width="1.1"/><line x1="421.35" y1="498.1345" x2="421.35" y2="500.5075" stroke="#000" stroke-width="1.1"/><line x1="418.445" y1="498.1345" x2="424.25500000000005" y2="498.1345" stroke="#000" stroke-width="1.1"/><rect x="417.2" y="500.5075" width="8.300000000000011" height="53.392499999999984" fill="#85afe3" stroke="#000" stroke-width="1.1"/><line x1="434.45000000000005" y1="528.588" x2="434.45000000000005" y2="531.3565" stroke="#000" stroke-width="1.1"/><line x1="431.545" y1="528.588" x2="437.3550000000001" y2="528.588" stroke="#000" stroke-width="1.1"/><rect x="430.3" y="531.3565" width="8.300000000000011" height="22.543499999999995" fill="#ec7a7c" stroke="#000" stroke-width="1.1"/><line x1="460.75" y1="525.424" x2="460.75" y2="528.9834999999999" stroke="#000" stroke-width="1.1"/><line x1="457.91499999999996" y1="525.424" x2="463.58500000000004" y2="525.424" stroke="#000" stroke-width="1.1"/><rect x="456.7" y="528.9834999999999" width="8.100000000000023" height="24.916500000000042" fill="#c9dcf3" stroke="#000" stroke-width="1.1"/><line x1="474.3" y1="493.784" x2="474.3" y2="497.3435" stroke="#000" stroke-width="1.1"/><line x1="471.5" y1="493.784" x2="477.1" y2="493.784" stroke="#000" stroke-width="1.1"/><rect x="470.3" y="497.3435" width="8.0" height="56.55649999999997" fill="#9ed38b" stroke="#000" stroke-width="1.1"/><line x1="487.0" y1="489.038" x2="487.0" y2="492.5975" stroke="#000" stroke-width="1.1"/><line x1="484.2" y1="489.038" x2="489.8" y2="489.038" stroke="#000" stroke-width="1.1"/><rect x="483" y="492.5975" width="8" height="61.30249999999995" fill="#85afe3" stroke="#000" stroke-width="1.1"/><line x1="500.35" y1="524.633" x2="500.35" y2="528.1925" stroke="#000" stroke-width="1.1"/><line x1="497.445" y1="524.633" x2="503.25500000000005" y2="524.633" stroke="#000" stroke-width="1.1"/><rect x="496.2" y="528.1925" width="8.300000000000011" height="25.707499999999982" fill="#ec7a7c" stroke="#000" stroke-width="1.1"/><line x1="394.95" y1="553.9" x2="394.95" y2="555.6999999999999" stroke="#000" stroke-width="0.6"/><line x1="408.35" y1="553.9" x2="408.35" y2="555.6999999999999" stroke="#000" stroke-width="0.6"/><line x1="421.35" y1="553.9" x2="421.35" y2="555.6999999999999" stroke="#000" stroke-width="0.6"/><line x1="434.45000000000005" y1="553.9" x2="434.45000000000005" y2="555.6999999999999" stroke="#000" stroke-width="0.6"/><line x1="460.75" y1="553.9" x2="460.75" y2="555.6999999999999" stroke="#000" stroke-width="0.6"/><line x1="474.3" y1="553.9" x2="474.3" y2="555.6999999999999" stroke="#000" stroke-width="0.6"/><line x1="487.0" y1="553.9" x2="487.0" y2="555.6999999999999" stroke="#000" stroke-width="0.6"/><line x1="500.35" y1="553.9" x2="500.35" y2="555.6999999999999" stroke="#000" stroke-width="0.6"/><line x1="396.7" y1="485" x2="409.8" y2="485" stroke="#666" stroke-width="0.8"/><text x="403.25" y="485.9" font-size="5" font-weight="bold" text-anchor="middle" fill="#444">**</text><line x1="423.3" y1="493.4" x2="434.7" y2="493.4" stroke="#666" stroke-width="0.8"/><text x="429.0" y="494.29999999999995" font-size="5" font-weight="bold" text-anchor="middle" fill="#444">**</text><line x1="460.4" y1="490.5" x2="478" y2="490.5" stroke="#666" stroke-width="0.8"/><text x="469.2" y="491.4" font-size="5" font-weight="bold" text-anchor="middle" fill="#444">**</text><line x1="492.5" y1="484.7" x2="500.6" y2="484.7" stroke="#666" stroke-width="0.8"/><text x="496.55" y="485.59999999999997" font-size="5" font-weight="bold" text-anchor="middle" fill="#444">**</text><text transform="translate(370.9 514.2) rotate(-90)" font-size="6.3" text-anchor="middle" font-weight="bold" textLength="41.5" lengthAdjust="spacingAndGlyphs">migration cells</text><text x="415.7" y="563.3" font-size="6.6" font-weight="bold" text-anchor="middle">MIA PaCa-2</text><text x="484" y="563.3" font-size="6.6" font-weight="bold" text-anchor="middle">PANC-1</text><rect x="515.6999999999999" y="478.2" width="7.4" height="3.4" fill="#c9dcf3" stroke="#1a1a1a" stroke-width="1.4" rx="0.5"/><text x="528.4" y="482.16799999999995" font-size="6.3" fill="#222" textLength="54.6" lengthAdjust="spacingAndGlyphs">miR-217 inhibitor NC</text><rect x="515.6999999999999" y="487.8" width="7.4" height="3.4" fill="#9ed38b" stroke="#1a1a1a" stroke-width="1.4" rx="0.5"/><text x="528.4" y="491.768" font-size="6.3" fill="#222" textLength="44.1" lengthAdjust="spacingAndGlyphs">miR-217 inhibitor</text><rect x="515.6999999999999" y="497.6" width="7.4" height="3.4" fill="#85afe3" stroke="#1a1a1a" stroke-width="1.4" rx="0.5"/><text x="528.4" y="501.568" font-size="6.3" fill="#222" textLength="32.1" lengthAdjust="spacingAndGlyphs">miR-217 NC</text><rect x="515.6999999999999" y="507.0" width="7.4" height="3.4" fill="#ec7a7c" stroke="#1a1a1a" stroke-width="1.4" rx="0.5"/><text x="528.4" y="510.96799999999996" font-size="6.3" fill="#222" textLength="38.2" lengthAdjust="spacingAndGlyphs">miR-217 mimic</text>
<line x1="387.3" y1="581.4" x2="387.3" y2="660.0" stroke="#000" stroke-width="1"/><line x1="385.3" y1="660.0" x2="387.3" y2="660.0" stroke="#000" stroke-width="1"/><text x="384.5" y="662.16" font-size="6" font-weight="bold" text-anchor="end">0</text><line x1="385.3" y1="640.35" x2="387.3" y2="640.35" stroke="#000" stroke-width="1"/><text x="384.5" y="642.51" font-size="6" font-weight="bold" text-anchor="end">50</text><line x1="385.3" y1="620.7" x2="387.3" y2="620.7" stroke="#000" stroke-width="1"/><text x="384.5" y="622.86" font-size="6" font-weight="bold" text-anchor="end">100</text><line x1="385.3" y1="601.05" x2="387.3" y2="601.05" stroke="#000" stroke-width="1"/><text x="384.5" y="603.2099999999999" font-size="6" font-weight="bold" text-anchor="end">150</text><line x1="385.3" y1="581.4" x2="387.3" y2="581.4" stroke="#000" stroke-width="1"/><text x="384.5" y="583.56" font-size="6" font-weight="bold" text-anchor="end">200</text><line x1="387.3" y1="660" x2="507" y2="660" stroke="#000" stroke-width="1.1"/><line x1="394.95" y1="636.42" x2="394.95" y2="638.385" stroke="#000" stroke-width="1.1"/><line x1="392.185" y1="636.42" x2="397.715" y2="636.42" stroke="#000" stroke-width="1.1"/><rect x="391" y="638.385" width="7.899999999999977" height="21.61500000000001" fill="#c9dcf3" stroke="#000" stroke-width="1.1"/><line x1="408.35" y1="601.443" x2="408.35" y2="603.408" stroke="#000" stroke-width="1.1"/><line x1="405.51500000000004" y1="601.443" x2="411.185" y2="601.443" stroke="#000" stroke-width="1.1"/><rect x="404.3" y="603.408" width="8.099999999999966" height="56.591999999999985" fill="#9ed38b" stroke="#000" stroke-width="1.1"/><line x1="421.35" y1="603.015" x2="421.35" y2="606.552" stroke="#000" stroke-width="1.1"/><line x1="418.445" y1="603.015" x2="424.25500000000005" y2="603.015" stroke="#000" stroke-width="1.1"/><rect x="417.2" y="606.552" width="8.300000000000011" height="53.44799999999998" fill="#85afe3" stroke="#000" stroke-width="1.1"/><line x1="434.45000000000005" y1="641.922" x2="434.45000000000005" y2="645.066" stroke="#000" stroke-width="1.1"/><line x1="431.545" y1="641.922" x2="437.3550000000001" y2="641.922" stroke="#000" stroke-width="1.1"/><rect x="430.3" y="645.066" width="8.300000000000011" height="14.933999999999969" fill="#ec7a7c" stroke="#000" stroke-width="1.1"/><line x1="460.75" y1="635.241" x2="460.75" y2="639.171" stroke="#000" stroke-width="1.1"/><line x1="457.91499999999996" y1="635.241" x2="463.58500000000004" y2="635.241" stroke="#000" stroke-width="1.1"/><rect x="456.7" y="639.171" width="8.100000000000023" height="20.82899999999995" fill="#c9dcf3" stroke="#000" stroke-width="1.1"/><line x1="474.3" y1="603.8009999999999" x2="474.3" y2="606.552" stroke="#000" stroke-width="1.1"/><line x1="471.5" y1="603.8009999999999" x2="477.1" y2="603.8009999999999" stroke="#000" stroke-width="1.1"/><rect x="470.3" y="606.552" width="8.0" height="53.44799999999998" fill="#9ed38b" stroke="#000" stroke-width="1.1"/><line x1="487.0" y1="602.622" x2="487.0" y2="605.766" stroke="#000" stroke-width="1.1"/><line x1="484.2" y1="602.622" x2="489.8" y2="602.622" stroke="#000" stroke-width="1.1"/><rect x="483" y="605.766" width="8" height="54.23400000000004" fill="#85afe3" stroke="#000" stroke-width="1.1"/><line x1="500.35" y1="638.385" x2="500.35" y2="641.136" stroke="#000" stroke-width="1.1"/><line x1="497.445" y1="638.385" x2="503.25500000000005" y2="638.385" stroke="#000" stroke-width="1.1"/><rect x="496.2" y="641.136" width="8.300000000000011" height="18.864000000000033" fill="#ec7a7c" stroke="#000" stroke-width="1.1"/><line x1="394.95" y1="660" x2="394.95" y2="661.8" stroke="#000" stroke-width="0.6"/><line x1="408.35" y1="660" x2="408.35" y2="661.8" stroke="#000" stroke-width="0.6"/><line x1="421.35" y1="660" x2="421.35" y2="661.8" stroke="#000" stroke-width="0.6"/><line x1="434.45000000000005" y1="660" x2="434.45000000000005" y2="661.8" stroke="#000" stroke-width="0.6"/><line x1="460.75" y1="660" x2="460.75" y2="661.8" stroke="#000" stroke-width="0.6"/><line x1="474.3" y1="660" x2="474.3" y2="661.8" stroke="#000" stroke-width="0.6"/><line x1="487.0" y1="660" x2="487.0" y2="661.8" stroke="#000" stroke-width="0.6"/><line x1="500.35" y1="660" x2="500.35" y2="661.8" stroke="#000" stroke-width="0.6"/><line x1="396" y1="595.1" x2="409.8" y2="595.1" stroke="#666" stroke-width="0.8"/><text x="402.9" y="596.0" font-size="5" font-weight="bold" text-anchor="middle" fill="#444">**</text><line x1="423.3" y1="599.5" x2="434.3" y2="599.5" stroke="#666" stroke-width="0.8"/><text x="428.8" y="600.4" font-size="5" font-weight="bold" text-anchor="middle" fill="#444">**</text><line x1="460.4" y1="598.4" x2="474.6" y2="598.4" stroke="#666" stroke-width="0.8"/><text x="467.5" y="599.3" font-size="5" font-weight="bold" text-anchor="middle" fill="#444">**</text><line x1="488.6" y1="598" x2="500.6" y2="598" stroke="#666" stroke-width="0.8"/><text x="494.6" y="598.9" font-size="5" font-weight="bold" text-anchor="middle" fill="#444">**</text><text transform="translate(370.9 620.8) rotate(-90)" font-size="6.3" text-anchor="middle" font-weight="bold" textLength="39" lengthAdjust="spacingAndGlyphs">invasion cells</text><text x="415.7" y="669.5" font-size="6.6" font-weight="bold" text-anchor="middle">MIA PaCa-2</text><text x="481" y="669.5" font-size="6.6" font-weight="bold" text-anchor="middle">PANC-1</text><rect x="515.5" y="584.3" width="7.4" height="3.4" fill="#c9dcf3" stroke="#1a1a1a" stroke-width="1.4" rx="0.5"/><text x="528.2" y="588.268" font-size="6.3" fill="#222" textLength="54.6" lengthAdjust="spacingAndGlyphs">miR-217 inhibitor NC</text><rect x="515.5" y="594.0999999999999" width="7.4" height="3.4" fill="#9ed38b" stroke="#1a1a1a" stroke-width="1.4" rx="0.5"/><text x="528.2" y="598.068" font-size="6.3" fill="#222" textLength="44.1" lengthAdjust="spacingAndGlyphs">miR-217 inhibitor</text><rect x="515.5" y="603.9" width="7.4" height="3.4" fill="#85afe3" stroke="#1a1a1a" stroke-width="1.4" rx="0.5"/><text x="528.2" y="607.868" font-size="6.3" fill="#222" textLength="32.1" lengthAdjust="spacingAndGlyphs">miR-217 NC</text><rect x="515.5" y="613.5" width="7.4" height="3.4" fill="#ec7a7c" stroke="#1a1a1a" stroke-width="1.4" rx="0.5"/><text x="528.2" y="617.4680000000001" font-size="6.3" fill="#222" textLength="38.2" lengthAdjust="spacingAndGlyphs">miR-217 mimic</text>
<defs><clipPath id="pc"><circle cx="0" cy="0" r="27.2"/></clipPath><filter id="bl" x="-5%" y="-5%" width="110%" height="110%"><feGaussianBlur stdDeviation="0.3"/></filter><filter id="bl2" x="-5%" y="-5%" width="110%" height="110%"><feGaussianBlur stdDeviation="0.4"/></filter><filter id="bl3" x="-5%" y="-5%" width="110%" height="110%"><feGaussianBlur stdDeviation="0.6"/></filter></defs>
<g transform="translate(108 343)" filter="url(#bl)"><circle r="28.2" fill="#d8d8d8"/><circle r="27.6" fill="#b9bbc0"/><circle r="27" fill="#e2e3e5"/><g clip-path="url(#pc)"><path d="M20.9 3.3h0M2.3 13.7h0M-10.1 -20.4h0M21.4 13.0h0M16.9 3.2h0M-12.4 -0.4h0M1.4 4.1h0M-20.5 -6.0h0M-10.5 -6.6h0M23.8 1.0h0M-7.6 -22.5h0M8.6 12.8h0M-13.4 22.2h0M6.6 4.6h0M-19.4 -14.8h0M-3.0 -23.6h0M19.1 -3.3h0M-15.4 -5.2h0M-17.7 -16.4h0M-21.8 -11.5h0M21.3 6.3h0M-3.1 12.3h0M0.8 7.4h0M-1.5 8.3h0M-14.0 15.9h0M4.1 15.6h0M12.6 -5.3h0M-16.5 -13.5h0M-1.4 -10.9h0M-7.8 7.4h0M-16.8 -20.3h0M-7.9 -18.1h0M4.0 -24.0h0M12.4 2.5h0M-1.7 14.8h0M11.4 -4.3h0M-9.8 22.8h0M-17.0 13.1h0M-24.5 6.5h0M0.3 13.6h0M-1.6 19.8h0M16.2 -12.1h0M3.2 16.4h0M-26.4 -1.6h0M7.6 2.3h0M-6.1 -6.3h0M-20.8 11.1h0M-4.9 4.5h0M-26.0 -4.8h0M16.7 -20.0h0M-0.5 -2.8h0M-21.3 -5.0h0M-8.7 -10.6h0M-8.1 3.5h0M17.1 -5.1h0M-2.1 24.7h0M8.1 16.9h0M17.4 -18.4h0M-9.3 -11.1h0M11.9 16.9h0M-22.4 -5.7h0M-23.0 -4.4h0M-0.3 0.6h0M3.3 -1.6h0M12.2 -21.6h0M13.7 5.2h0M23.5 -8.1h0M-7.7 0.7h0M0.5 -7.0h0M16.0 16.7h0M-17.4 -5.6h0M9.5 -9.8h0M4.1 16.7h0M-2.4 -19.3h0M-4.5 11.0h0M-15.6 -21.4h0M-17.4 -1.9h0M1.5 9.1h0M-13.1 -8.1h0M2.4 12.5h0M-4.8 -5.2h0M10.5 -7.1h0M22.2 10.6h0M-6.3 -11.3h0M8.3 9.1h0M-23.1 -11.1h0M3.9 -17.8h0M8.7 22.2h0M-7.5 3.5h0M-16.9 3.5h0M-10.5 -20.1h0M21.4 15.2h0M-8.9 14.2h0M0.2 24.6h0M-11.0 3.7h0M-3.1 16.9h0M11.7 -6.1h0M11.4 -13.5h0M18.7 6.1h0M13.6 -22.7h0M23.3 -11.6h0M12.3 21.1h0M4.2 18.0h0M15.7 6.0h0M16.2 -1.5h0M2.9 -13.3h0M-15.8 8.3h0M25.9 -0.7h0M-3.9 -19.4h0M-3.0 10.0h0M-22.9 -12.4h0M-0.2 -19.5h0M-5.5 -3.2h0M11.3 -15.0h0M10.2 -2.6h0M2.9 6.9h0M-9.3 -18.2h0M9.4 8.8h0M0.6 25.0h0M-14.9 -13.9h0M-14.8 -8.6h0M17.6 -7.6h0M-2.5 -11.7h0M-10.3 7.9h0M-6.7 20.7h0M0.2 -14.9h0M-6.9 1.8h0M26.5 -0.6h0M1.6 7.0h0M12.5 -5.6h0M18.1 -17.1h0M8.8 13.5h0M-7.0 -23.2h0M20.7 -1.7h0M21.4 1.1h0M-7.3 22.8h0M20.0 -8.1h0M7.3 6.4h0M-8.2 -2.8h0M-10.9 -8.5h0M6.5 21.5h0M-1.9 21.0h0M15.3 -10.4h0M20.4 13.4h0M-2.9 17.0h0M0.2 -1.6h0M-1.6 21.1h0M-21.6 -7.3h0M17.3 1.1h0M5.4 -4.9h0M-24.2 -7.1h0M-21.0 -12.0h0M7.1 7.3h0M11.8 -8.7h0M15.2 -18.2h0M6.2 24.3h0M10.6 8.0h0M17.5 -15.6h0M-12.3 -11.6h0M9.4 -4.4h0M24.4 -3.7h0M17.5 -16.2h0M-0.4 -4.2h0M13.9 -6.4h0M15.6 -17.9h0M-2.5 23.7h0M18.3 14.8h0M15.6 -19.2h0M5.1 -11.4h0M-6.1 16.9h0M3.3 23.4h0M1.4 3.8h0M10.0 -11.4h0M-4.7 25.6h0M-17.1 12.5h0M-25.6 -5.9h0M19.2 17.0h0M11.3 23.5h0M-2.5 25.9h0M-8.0 3.5h0M-8.8 20.8h0M-20.6 -1.5h0M-14.6 -7.6h0M-3.4 -12.9h0M1.0 -0.5h0M-3.7 -19.1h0M-10.9 -20.0h0M14.5 6.8h0M-10.4 18.9h0M8.6 -12.1h0M-7.0 21.4h0M-12.4 8.0h0M-4.8 16.1h0M-8.3 4.5h0M-11.3 -23.1h0M-18.8 -16.7h0M-13.9 -4.3h0M-0.1 0.5h0M-15.2 -8.4h0M-20.9 4.7h0M4.0 17.2h0M14.8 -10.6h0M11.4 20.7h0M-7.7 -0.7h0M-10.8 18.1h0M0.2 -24.0h0M3.4 21.5h0M11.7 1.8h0M-13.0 2.0h0M21.9 10.8h0M-11.7 -12.4h0M-3.9 -11.0h0M0.7 18.6h0M21.5 0.7h0M2.9 -22.8h0M-7.7 3.9h0M10.7 -2.9h0M18.1 5.9h0M7.7 -10.8h0M5.7 -17.0h0" stroke="#4a3c8a" stroke-width="0.6" stroke-linecap="round" opacity="0.22"/><path d="M21.2 -1.6h0M19.7 -16.0h0M-22.1 3.6h0M12.0 6.4h0M-5.7 12.3h0M1.1 9.6h0M20.1 8.6h0M-16.5 9.7h0M13.9 -9.5h0" stroke="#30267a" stroke-width="0.71" stroke-linecap="round" opacity="0.85"/><path d="M-22.0 -0.7l0.1 0.6M-8.4 -9.8l0.0 0.2M13.5 -17.0l-0.2 -0.8" stroke="#261e68" stroke-width="0.89" stroke-linecap="round" opacity="0.85"/></g></g>
<g transform="translate(169 343)" filter="url(#bl)"><circle r="28.2" fill="#d8d8d8"/><circle r="27.6" fill="#b9b6b0"/><circle r="27" fill="#e3e0d9"/><g clip-path="url(#pc)"><path d="M0.3 -15.7h0M23.4 -7.1h0M-0.3 -17.2h0M-15.6 -11.8h0M2.4 12.2h0M17.2 3.2h0M-6.6 -13.9h0M8.6 14.5h0M12.6 13.0h0M20.6 3.5h0M-15.3 -6.5h0M-2.7 -3.4h0M-9.5 2.3h0M-4.3 4.1h0M-5.7 10.8h0M-16.8 15.9h0M11.3 -20.0h0M11.6 6.6h0M-3.6 -0.9h0M-15.6 21.4h0M4.2 -21.0h0M0.6 -21.4h0M8.1 24.5h0M2.2 3.1h0M-4.6 -8.2h0M4.0 19.5h0M2.3 -22.0h0M-8.5 -6.8h0M17.2 15.1h0M23.4 -5.3h0M8.6 1.4h0M-6.5 -13.3h0M-20.7 15.7h0M19.9 10.3h0M-15.4 -15.8h0M1.2 -8.4h0M-19.7 -14.4h0M9.2 -0.9h0M-13.4 19.2h0M-11.9 12.6h0M-10.2 15.8h0M10.7 -21.9h0M8.3 -2.1h0M10.0 -18.6h0M-20.5 8.8h0M22.2 -4.9h0M4.9 -12.9h0M-19.3 2.0h0M-2.1 -17.4h0M8.2 -11.0h0M20.7 12.5h0M1.0 24.9h0M-13.9 -11.5h0M16.0 2.9h0M10.2 22.2h0M3.6 -11.7h0M11.3 -10.6h0M-3.6 21.9h0M2.5 -0.9h0M-1.4 -7.6h0M0.9 -18.5h0M-13.4 -17.5h0M4.9 -17.9h0M1.4 8.0h0M-7.6 20.7h0M-19.9 3.4h0M-17.2 8.7h0M-11.1 20.0h0M-2.9 22.0h0M9.6 9.1h0M8.5 7.9h0M1.5 -19.3h0M2.4 11.1h0M-2.9 -18.2h0M-25.9 -4.0h0M11.4 8.3h0M1.6 11.6h0M11.2 1.0h0M-2.9 19.1h0M-24.7 -8.6h0M15.5 15.8h0M-24.7 1.4h0M-22.1 -11.1h0M-16.9 6.6h0M10.8 3.6h0M-25.5 3.6h0M-19.5 14.0h0M-5.0 -5.2h0M3.6 4.9h0M-6.6 18.8h0M19.4 17.9h0M-18.2 -14.4h0M3.6 23.3h0M-18.2 5.9h0M11.3 -13.6h0M-9.0 24.8h0M-16.1 -13.3h0M21.6 -7.4h0M2.9 11.7h0M11.9 18.0h0M9.8 5.0h0M-1.3 0.4h0M-5.2 19.7h0M-3.4 -12.3h0M-21.3 6.3h0M19.5 -10.1h0M-16.6 -16.6h0M19.7 -8.7h0M-16.6 -4.8h0M17.9 -11.6h0M21.7 10.5h0M-3.8 10.1h0M-20.8 -9.7h0M10.1 10.0h0M-6.8 -20.9h0M-25.7 -0.1h0M16.3 9.0h0M-4.8 2.2h0M-0.0 15.0h0M7.8 -1.9h0M-21.6 -11.0h0M25.8 -0.1h0M-2.7 21.6h0M0.2 -5.3h0M-10.5 -14.8h0M10.6 23.0h0M-13.4 -15.2h0M15.6 10.1h0M-7.8 13.5h0M13.6 -16.9h0M-5.3 -14.3h0M13.4 -4.8h0M-22.7 -7.4h0M-7.0 16.4h0M14.8 -2.8h0M-16.8 -1.5h0M-14.4 -22.0h0M-16.7 10.1h0M-7.4 8.8h0M-16.3 -16.3h0M6.6 22.1h0M17.6 -8.6h0M-5.6 -16.6h0M9.1 -1.6h0M1.4 20.6h0M-10.0 -3.3h0M16.4 10.9h0M22.5 -13.7h0M13.3 12.1h0M-24.2 0.2h0M-22.4 -1.2h0M7.0 -11.9h0M1.0 26.2h0M-14.6 13.1h0M-25.4 -1.3h0M16.3 -18.7h0M3.5 -13.5h0M15.6 -6.9h0M8.1 -17.1h0M-4.2 13.4h0M20.3 -0.1h0M11.0 14.9h0M-10.9 16.1h0M-19.0 -5.3h0M-7.8 16.1h0M-3.7 -10.9h0M2.1 19.9h0M22.5 6.3h0M-6.3 -22.0h0M-18.0 15.7h0M9.3 -19.5h0M-26.2 0.8h0M-5.1 -0.1h0M13.9 -14.9h0M-23.1 9.1h0M-18.5 5.1h0M-19.0 12.1h0M12.1 17.7h0M17.8 -3.5h0M-5.4 -14.4h0M12.7 -17.1h0M15.5 -18.9h0M-6.6 14.9h0M1.3 -22.4h0M24.1 5.5h0M-4.7 -5.1h0M25.4 -0.4h0M-21.0 9.2h0M-5.5 -6.2h0M-23.2 8.6h0M18.1 -12.6h0M1.6 -5.4h0M-10.1 10.2h0M-9.9 -2.0h0M5.3 -19.2h0M9.6 5.2h0M-18.1 -16.9h0M11.1 -6.8h0M-9.7 2.4h0M-0.4 13.3h0M0.9 -2.4h0M-11.1 -22.6h0M-9.8 3.8h0M-13.3 -8.1h0M-18.8 9.7h0M7.5 -10.9h0M-8.9 7.8h0M1.5 18.4h0M-17.9 -9.1h0M-7.4 25.3h0M-14.3 -22.0h0M-12.7 -5.6h0M-0.7 -21.9h0M-4.6 -3.6h0M15.4 -10.6h0M4.3 -13.5h0M-12.4 16.5h0M-15.3 -14.6h0M-4.0 -21.5h0M11.3 -18.3h0" stroke="#4a3c8a" stroke-width="0.6" stroke-linecap="round" opacity="0.35"/><path d="M16.9 -11.8h0M-13.5 5.3h0M18.8 11.9h0M10.1 20.1h0M18.8 -3.4h0M12.0 -21.7h0M8.6 -2.0h0M-8.2 -15.5h0M3.1 -2.7h0M4.5 24.5h0M19.9 -12.7h0M6.2 -5.3h0M12.6 18.5h0M-8.2 0.5h0M24.8 5.2h0M19.0 -2.7h0M6.1 15.2h0M-23.0 6.7h0M-17.1 -11.9h0M0.9 23.0h0M-11.5 21.4h0M5.9 11.6h0M3.1 -17.7h0M-24.0 -3.3h0M23.7 9.5h0M-6.4 -15.2h0M22.2 11.0h0M18.6 8.1h0M-19.7 -6.2h0M-25.5 -4.9h0M-4.2 -22.4h0M2.4 17.3h0M-15.1 8.8h0M-8.6 -14.6h0M9.0 -4.7h0M19.8 13.1h0M8.5 -20.7h0M-18.4 -7.5h0M-5.5 7.2h0M-13.6 -7.3h0M3.4 20.8h0M-7.9 20.3h0M1.4 -1.5h0M10.3 12.8h0M-0.1 -4.6h0M-9.1 14.2h0M3.7 -21.8h0M7.2 2.5h0M-9.4 -18.1h0M-21.1 1.9h0M0.4 -13.6h0M-3.5 16.7h0M-9.0 -15.7h0M-13.3 -9.6h0M3.4 13.9h0M-6.2 11.6h0M10.1 20.1h0M23.3 6.3h0M16.2 -19.0h0M-5.0 -19.1h0M8.7 1.2h0M1.0 23.9h0M-14.9 11.5h0M-7.6 13.1h0M14.0 12.2h0M7.7 10.1h0M1.3 -20.1h0M1.6 -10.8h0M1.4 -22.5h0M-23.0 -9.9h0M13.5 -15.5h0M9.2 4.2h0M-2.2 14.1h0M-6.9 17.2h0M3.0 -5.4h0M14.8 -19.1h0M-18.0 4.3h0M18.4 -14.1h0M-13.5 -19.1h0M10.5 14.6h0M6.7 -5.0h0M-22.0 -0.6h0M-12.0 4.9h0M10.2 15.8h0M-11.6 7.5h0M4.9 -19.5h0M5.5 3.7h0M-2.3 -13.7h0M17.3 -17.7h0M12.5 15.4h0M-8.1 -24.2h0M18.6 -7.6h0M-8.8 -20.5h0M-18.5 9.7h0M6.6 14.2h0M-25.2 2.2h0M17.7 -15.9h0M1.5 -15.0h0M-9.8 4.0h0M1.7 21.3h0M-0.1 -13.9h0M-0.0 9.7h0M-22.9 -8.2h0M14.2 -19.2h0M4.4 24.9h0M15.2 2.6h0M13.3 -21.2h0M15.0 17.6h0M-7.9 -22.3h0M-20.7 6.9h0M14.5 12.1h0M13.6 4.2h0M-22.3 6.2h0M-20.3 -14.1h0M0.9 18.6h0M-12.8 -11.2h0M-8.6 -14.4h0M23.4 10.6h0M18.5 -1.4h0M-16.0 3.0h0M-0.6 25.7h0M-11.0 19.4h0M7.5 -17.7h0M-22.4 5.1h0M7.8 -19.1h0M-22.1 6.0h0M1.7 5.2h0M8.2 21.0h0M15.3 -17.2h0M15.9 -2.7h0M16.3 -8.4h0M-3.3 -23.0h0M8.9 -18.1h0M12.9 7.1h0M-11.5 -8.7h0M-12.9 17.3h0M22.6 11.5h0M4.9 -14.9h0M15.8 19.8h0M22.4 5.0h0M-15.3 17.1h0M-15.5 -12.0h0M-9.7 -13.2h0M-0.8 -8.7h0M-15.0 -6.1h0M14.8 9.1h0M-10.1 21.7h0M5.2 -14.9h0M17.4 10.5h0M-5.1 -25.5h0M10.1 -20.4h0M-16.1 -20.0h0M10.8 -2.3h0M23.3 8.5h0M5.2 8.7h0M-8.6 -9.8h0M-3.0 8.7h0M4.2 1.2h0M-12.8 -13.1h0M6.5 2.6h0M5.2 17.3h0M-6.5 6.8h0M-14.4 3.1h0M10.6 7.4h0M-12.1 -10.7h0M13.0 20.4h0M-6.6 17.1h0M10.9 -15.6h0M6.7 18.5h0M17.6 5.2h0M-14.8 2.5h0M-20.1 -2.0h0M7.1 -13.3h0M-3.5 -19.4h0M-7.4 -7.8h0M14.3 19.1h0M4.4 -1.5h0M-1.4 3.3h0M20.6 8.5h0M-5.4 10.5h0M-7.3 17.4h0M-13.6 20.8h0M-4.2 -22.5h0M-16.7 -13.8h0M-12.1 -4.6h0M-7.6 24.5h0M-3.3 -11.4h0M-5.9 22.6h0M-12.5 18.1h0M-13.1 1.7h0M17.4 -7.8h0M-7.2 -6.4h0M-6.2 -11.2h0M19.6 6.7h0M11.3 -2.6h0M17.5 -11.4h0M8.0 -7.3h0M24.9 -0.4h0M-2.3 -1.0h0M14.9 -20.3h0M8.7 7.4h0M-0.8 17.6h0M5.7 -21.6h0M16.0 9.7h0M7.1 8.6h0M-0.9 12.9h0M21.6 -6.4h0M22.0 1.6h0M20.0 8.2h0M-11.9 8.1h0M-7.1 -23.6h0M7.7 -4.5h0M3.9 20.0h0M-0.1 -10.2h0M-16.0 -5.1h0M-9.8 -16.4h0M19.2 10.3h0M-6.2 -1.9h0M11.6 15.9h0M14.0 12.5h0M16.7 10.7h0M-22.4 6.7h0M16.4 6.2h0M-3.9 -23.0h0M-0.6 -23.5h0M-3.1 4.6h0M23.8 -10.4h0M24.6 5.0h0M-11.3 -18.3h0M-12.1 17.2h0" stroke="#30267a" stroke-width="1.11" stroke-linecap="round" opacity="0.85"/><path d="M-23.5 2.7l0.4 -0.3M16.3 -19.7l0.8 0.7M-15.5 17.4l-0.8 0.1M8.7 -17.9l-0.6 -0.4M10.6 12.8l-0.3 -0.0M-8.4 -15.4l0.7 -0.1M16.5 -5.3l-0.6 0.3M17.7 8.2l-0.5 -0.5M24.7 0.4l-0.6 -0.6M4.2 0.4l-0.4 -0.3M10.3 3.5l0.0 0.4M-8.6 -0.2l-0.7 0.5M16.4 11.8l0.6 0.2M15.2 -16.6l0.7 0.2M-16.1 17.7l0.1 0.5M23.6 -3.8l0.2 0.2M3.8 -1.8l-0.4 -0.5M-21.8 -0.0l0.5 -0.7M-17.2 -15.7l0.7 -0.7M-14.5 20.1l0.5 0.5M4.1 -15.4l0.3 0.5M8.5 4.5l-0.6 0.4M8.4 13.6l0.4 0.5M-6.9 17.7l-0.0 0.5M14.9 -5.1l-0.1 -0.3M-15.8 -2.8l0.5 0.5M-3.2 22.5l-0.6 -0.1M1.6 18.3l-0.2 -0.8M-0.3 7.3l0.1 0.4M-13.0 19.1l0.2 0.4M-25.0 -2.4l0.1 -0.4M-6.2 6.8l0.4 0.6M-14.6 19.4l-0.4 0.8M-17.6 18.2l0.1 0.0M-12.5 4.4l-0.3 0.7M13.1 12.7l-0.1 0.6M-6.4 -1.7l0.6 0.3M-16.2 -19.1l0.0 -0.6M7.5 8.9l-0.8 0.1M-12.0 17.8l0.4 0.2M-12.4 18.0l0.6 0.6M9.0 16.1l-0.6 0.3M-17.4 -13.5l0.1 0.5M-11.5 -16.1l-0.1 0.2M-25.3 2.7l0.3 -0.3M-2.9 -14.3l0.6 0.8M-7.6 18.2l-0.0 0.0M-25.3 -0.9l-0.5 -0.2M-5.8 0.2l0.2 -0.0M-3.4 -24.2l-0.2 -0.2M-7.0 -0.2l-0.4 0.8M15.7 14.6l-0.2 0.5M14.0 -5.7l-0.5 0.0M10.6 17.4l0.4 -0.3M-6.7 20.8l-0.2 0.3M-22.3 -12.9l0.4 0.3M-4.2 0.7l0.5 0.4M-18.3 11.5l0.7 0.6M14.0 -6.2l-0.4 -0.6M-15.6 14.7l0.5 0.7M17.8 13.0l-0.8 0.1M-20.9 13.8l0.6 -0.0M-19.2 -4.3l0.7 0.7M16.9 -7.1l0.7 0.6M-5.6 25.2l0.1 -0.0M10.2 20.2l0.6 0.5M0.4 -12.9l-0.7 -0.1M2.3 -22.7l0.2 -0.1M-19.2 17.4l0.7 -0.2M-18.7 -3.4l-0.4 -0.8" stroke="#261e68" stroke-width="1.39" stroke-linecap="round" opacity="0.85"/></g></g>
<g transform="translate(233 345)" filter="url(#bl)"><circle r="28.2" fill="#d8d8d8"/><circle r="27.6" fill="#b9b6b0"/><circle r="27" fill="#e3e0da"/><g clip-path="url(#pc)"><path d="M-1.2 3.8h0M-20.9 -6.0h0M8.6 -17.3h0M-7.5 10.8h0M12.9 -5.3h0M17.1 14.7h0M-20.8 11.6h0M17.3 -15.5h0M0.9 3.2h0M8.2 1.8h0M-5.9 -19.6h0M-0.3 -5.8h0M1.7 16.7h0M8.1 -9.3h0M-6.3 -0.2h0M5.7 -13.1h0M-9.5 20.6h0M-9.6 -18.1h0M-4.8 14.2h0M-5.4 -8.5h0M-3.9 11.8h0M6.2 -2.1h0M21.1 -13.1h0M-18.8 9.3h0M18.4 -3.2h0M-12.2 -22.6h0M-9.8 21.3h0M10.1 13.8h0M0.5 -16.3h0M10.7 -14.8h0M-3.8 -14.0h0M20.5 -12.1h0M19.5 -4.0h0M13.2 14.8h0M3.8 12.5h0M18.8 -10.0h0M20.4 13.4h0M8.2 21.0h0M-6.3 -12.2h0M14.4 -14.7h0M0.8 -11.5h0M-21.0 -8.2h0M12.5 -13.4h0M14.7 -4.1h0M3.0 -1.3h0M19.2 17.5h0M-26.3 3.5h0M-10.3 -8.0h0M10.3 -6.1h0M3.1 -19.4h0M-16.0 -3.4h0M-1.2 15.8h0M-19.0 0.3h0M8.3 -1.0h0M9.7 -15.3h0M-17.4 18.4h0M-15.8 -6.5h0M7.6 9.9h0M12.4 -5.4h0M-17.5 10.0h0M-5.0 9.1h0M8.2 -14.1h0M-10.6 -15.5h0M-1.0 21.9h0M23.5 -5.0h0M-21.2 1.3h0M3.0 -10.4h0M-2.0 -10.7h0M16.1 -9.2h0M-12.3 -15.2h0M6.3 1.4h0M23.0 -8.2h0M1.9 -21.6h0M9.3 -14.2h0M-3.4 -12.3h0M-2.5 -0.1h0M-12.0 -10.9h0M-16.1 -14.5h0M-18.4 1.4h0M-2.0 -0.7h0M-2.8 -0.5h0M13.8 -2.0h0M1.3 -3.2h0M7.5 -20.4h0M19.8 15.7h0M4.9 6.6h0M-11.4 -1.9h0M-2.6 23.8h0M-11.7 11.9h0M-15.5 -6.7h0M4.0 26.1h0M12.6 -17.9h0M13.5 -16.7h0M19.2 12.8h0M-15.4 -5.3h0M6.3 0.4h0M-11.0 0.0h0M3.7 -17.1h0M12.5 -15.5h0M-8.1 -1.4h0M1.3 5.3h0M18.8 -16.0h0M17.5 5.3h0M6.5 -3.3h0M-23.2 -9.8h0M4.3 -2.1h0M14.4 -3.6h0M0.3 -20.3h0M-18.0 13.3h0M3.8 6.3h0M6.6 -11.2h0M13.2 -10.0h0M0.5 -15.3h0M9.9 -0.7h0M-22.6 -0.1h0M24.7 8.7h0M9.3 -14.9h0M1.8 -15.4h0M-20.6 15.7h0M22.9 4.3h0M13.8 -0.6h0M-11.5 14.6h0M-23.4 10.7h0M-11.6 -18.5h0M-5.7 -5.3h0M-5.4 -23.0h0M4.3 6.3h0M-14.9 -16.7h0M-9.3 20.8h0M8.6 0.3h0M-9.4 11.3h0M9.3 10.2h0M-10.9 3.6h0M-16.5 10.8h0M-2.6 3.4h0M-6.6 -4.7h0M-11.3 10.0h0M-10.9 9.3h0M6.3 -4.5h0M25.0 -3.4h0M9.7 17.5h0M10.5 12.5h0M-14.5 0.6h0M-6.1 2.7h0M-17.1 1.7h0M-0.1 7.3h0M-9.3 -9.3h0M6.9 19.2h0M-2.9 8.2h0M-12.7 22.4h0M7.0 -19.7h0M-7.7 13.1h0M15.2 -18.5h0M17.2 19.7h0M14.2 -4.9h0M-4.7 10.9h0M25.5 -5.1h0M-4.8 -13.5h0M-16.5 -8.5h0M-9.3 9.2h0M-18.7 14.9h0M-8.2 -3.5h0M-19.6 -5.8h0M-20.8 -6.8h0M-25.1 6.2h0M-20.7 8.4h0M-5.0 -13.4h0M6.8 -23.0h0M-17.0 0.1h0M1.1 21.1h0M-4.7 -21.0h0M21.0 10.6h0M-26.2 3.4h0M-16.8 -0.7h0M-9.1 -23.7h0M4.9 -18.9h0M12.6 -9.7h0M-12.5 -14.8h0M0.9 -7.7h0M-13.2 17.0h0M20.5 5.9h0M-11.6 -23.6h0M0.3 -16.7h0M-23.6 11.0h0M-0.1 2.7h0M-18.8 -2.2h0M-18.0 -9.2h0M-13.7 11.2h0M-19.8 -12.3h0M-10.5 15.5h0M3.3 2.5h0M16.6 -4.1h0M8.4 -3.3h0M-3.8 9.2h0M4.8 17.2h0M-18.2 2.7h0M-5.8 -16.6h0M-4.6 14.2h0M17.9 15.8h0M-14.6 -19.6h0M11.2 18.7h0M1.0 26.3h0M5.9 9.4h0M19.2 -5.1h0M-10.6 7.2h0M-7.2 -8.8h0M17.1 3.2h0M6.7 19.6h0M-15.6 13.1h0M6.1 21.4h0M8.3 -21.4h0M5.3 4.0h0M9.5 22.8h0M-14.6 4.0h0M8.8 -10.3h0M-12.4 -14.8h0M-15.7 -13.2h0M-11.7 16.6h0M-18.0 -16.4h0M-6.5 -23.0h0" stroke="#4a3c8a" stroke-width="0.6" stroke-linecap="round" opacity="0.35"/><path d="M-10.7 -9.3h0M7.0 6.4h0M-3.9 -10.4h0M10.9 12.8h0M-7.4 -8.4h0M20.9 -0.0h0M11.6 14.0h0M16.5 5.8h0M-7.3 -16.8h0M-23.8 1.7h0M0.3 -4.6h0M-13.3 -3.2h0M-1.0 -5.2h0M-24.7 8.1h0M-19.9 -12.3h0M-14.7 -16.2h0M2.6 9.3h0M-3.7 5.1h0M24.0 -2.2h0M1.7 -23.6h0M-16.1 -8.5h0M-16.0 5.0h0M20.3 13.5h0M12.6 -5.3h0M-11.8 22.4h0M14.3 6.0h0M-11.0 5.2h0M6.4 -11.9h0M-18.1 -8.0h0M-6.3 -13.9h0M1.7 -8.0h0M5.7 -7.1h0M0.7 -0.2h0M14.6 15.9h0M9.5 -4.3h0M-0.1 21.0h0M12.5 21.3h0M-4.5 -13.7h0M-6.0 -20.2h0M12.1 13.3h0M21.4 1.3h0M23.4 -1.7h0M8.5 4.1h0M17.8 13.3h0M16.2 20.3h0M-1.4 -1.9h0M-15.3 -15.9h0M-19.1 -12.0h0M-10.1 23.5h0M11.8 6.9h0M-6.7 20.0h0M-0.3 -18.6h0M-15.3 -10.2h0M-13.0 14.7h0M12.9 3.3h0M-23.1 -1.0h0M-3.5 20.1h0M10.5 -17.9h0M-7.0 3.1h0M-6.6 -20.9h0M1.8 -9.1h0M3.3 -24.3h0M-3.2 23.1h0M-19.4 -10.2h0M-11.2 13.5h0M-13.2 14.5h0M3.6 -4.1h0M-13.2 12.0h0M15.7 -19.6h0M-1.5 -24.8h0M24.7 -7.3h0M0.7 2.2h0M-10.3 -10.0h0M0.7 22.7h0M1.8 16.6h0M-3.4 -23.7h0M1.4 18.9h0M6.3 4.3h0M21.0 10.7h0M16.7 -3.8h0M-2.0 14.5h0M2.2 -11.5h0M5.3 8.8h0M9.8 9.2h0M9.9 -19.1h0M2.7 -4.5h0M0.1 7.9h0M-8.2 -16.7h0M25.4 5.0h0M-0.2 -17.5h0M5.9 -16.7h0M-10.8 -11.6h0M-23.2 8.6h0M11.8 -21.7h0M-5.2 1.3h0M8.6 -17.7h0M-1.8 -4.1h0M4.6 11.1h0M23.9 5.3h0M-3.6 12.4h0M17.9 7.2h0M-4.6 10.0h0M4.4 -24.2h0M-4.5 -6.9h0M20.4 -11.7h0M13.4 -19.7h0M6.9 -18.8h0M-14.4 0.9h0M2.4 12.3h0M0.6 -0.3h0M23.4 -5.9h0M-20.0 15.4h0M9.3 10.8h0M9.0 17.8h0M24.4 -5.1h0M18.0 -7.6h0M-2.0 -7.5h0M-23.1 8.1h0M11.8 5.4h0M8.5 0.1h0M15.4 11.4h0M-14.1 -19.6h0M22.7 11.4h0M-1.8 -15.8h0M20.5 13.6h0M-20.2 2.2h0M4.3 11.0h0M-2.8 -21.9h0M1.1 13.8h0M10.5 -16.6h0M-14.0 6.9h0M-17.1 -12.5h0M2.0 3.7h0M4.1 -6.2h0M-16.4 1.1h0M-7.5 -2.1h0M-16.7 17.9h0M-13.0 2.9h0M9.9 -21.7h0M12.8 -14.1h0M-24.1 3.6h0M-5.5 -24.1h0M7.7 -23.4h0M9.2 -23.9h0M16.9 -1.2h0M22.7 10.2h0M-7.5 14.6h0M-14.5 8.6h0M-1.9 8.1h0M-12.9 8.1h0M-14.0 -11.5h0M8.4 10.7h0M-2.7 14.1h0M7.9 -15.4h0M-10.2 -13.3h0M-23.5 -2.3h0M-14.5 -0.6h0M17.4 -16.5h0M-7.0 -23.9h0M-23.6 -0.8h0M9.0 1.7h0M8.4 13.8h0M15.9 -20.0h0M-2.6 21.3h0M-16.8 -12.4h0M4.4 -12.3h0M-16.0 -20.0h0M-9.3 13.0h0M-6.1 19.4h0M6.6 -0.5h0M-10.7 -17.0h0M3.8 21.8h0M19.2 -12.8h0M5.6 5.8h0M1.9 -23.3h0M-11.0 18.4h0M-0.6 -15.5h0M-11.3 20.1h0M8.4 -11.3h0M12.4 -13.6h0M4.0 -21.6h0M9.2 18.5h0M1.5 -18.1h0M-13.6 -15.2h0M-19.0 17.1h0M-8.1 8.3h0M7.4 -12.8h0M-15.0 -15.3h0M-12.1 18.0h0M-13.7 -8.5h0M-7.0 22.5h0M-18.2 -12.6h0M24.5 -0.7h0M-15.6 19.1h0M22.0 -12.4h0M-1.8 -12.3h0M-18.8 -11.9h0M-9.2 -12.8h0M-0.9 24.3h0M5.7 -0.2h0M20.9 2.6h0M-12.3 11.5h0M10.2 14.7h0M-6.5 19.6h0M-2.6 21.0h0M4.7 -8.4h0" stroke="#30267a" stroke-width="1.07" stroke-linecap="round" opacity="0.85"/><path d="M1.7 1.9l0.7 0.0M-0.8 -17.6l0.1 -0.6M1.4 -8.7l-0.2 0.5M20.7 15.5l0.4 -0.3M-21.8 8.8l0.4 -0.4M-8.5 17.1l-0.3 -0.4M7.8 -1.9l0.7 0.8M16.9 17.3l-0.4 0.3M-2.5 -22.7l-0.1 0.3M15.9 18.5l0.4 -0.6M-6.5 -15.4l-0.7 -0.6M-15.7 -12.6l0.3 0.6M4.9 -3.6l-0.0 -0.6M25.6 -2.1l-0.6 0.6M21.8 -6.4l-0.8 -0.7M-15.9 9.3l-0.7 0.1M5.4 17.8l0.1 -0.2M-2.1 -6.3l0.6 -0.7M-7.4 18.9l0.4 -0.6M-25.1 -3.7l0.4 -0.5M-7.5 -3.7l-0.4 0.0M-12.8 7.4l-0.4 -0.7M-15.9 -0.2l-0.5 0.5M-3.6 17.4l-0.3 0.1M-20.0 0.8l-0.5 0.6M17.1 -16.6l-0.8 0.3M6.4 -0.1l-0.7 0.7M-24.4 -3.0l-0.2 0.8M-5.3 12.2l0.3 0.4M-16.2 -3.7l-0.5 -0.3M1.4 -2.5l-0.6 0.5M-1.1 19.8l-0.8 -0.7M3.0 9.2l0.0 0.2M6.5 -22.4l0.5 -0.2M-19.1 1.8l0.0 -0.2M-25.4 -4.8l0.8 0.8M5.0 25.5l0.5 -0.2M24.5 4.4l0.7 0.1M7.4 18.1l0.6 -0.0M-1.9 -9.2l0.6 -0.3M-3.3 -2.0l0.4 0.6M6.6 -24.5l0.2 -0.5M-8.9 -24.0l0.5 -0.4M15.0 15.5l0.7 0.7M16.3 -0.6l-0.7 0.2M1.7 22.4l-0.5 0.6M21.8 -4.3l-0.0 -0.2M9.4 4.7l-0.3 -0.3M12.8 21.7l-0.5 -0.6M12.5 5.1l0.3 -0.7M-14.7 -3.9l0.1 0.1M14.9 14.0l-0.5 0.8M-18.1 -18.6l-0.4 0.7M12.3 -12.6l0.2 0.0M1.0 -19.9l0.7 0.1M21.0 5.2l-0.3 -0.4M19.7 -10.7l-0.8 0.5M17.7 12.6l-0.6 0.8M5.4 -10.7l0.4 0.6M5.7 -9.9l-0.4 -0.1M8.8 18.0l0.1 -0.2M8.3 -6.5l0.3 -0.3M0.7 -3.6l-0.8 0.7M-7.8 -15.9l-0.2 -0.6M-9.7 -15.8l-0.2 0.2M-1.7 24.1l0.6 -0.3M1.0 -10.0l0.5 0.5M-12.4 -18.3l-0.4 -0.1M15.8 3.6l0.1 -0.5M10.4 -15.3l0.6 -0.5M-20.9 -12.1l-0.7 0.6M13.4 4.7l-0.6 -0.5M-15.1 -7.0l-0.1 -0.3M-0.3 1.8l-0.5 0.4" stroke="#261e68" stroke-width="1.33" stroke-linecap="round" opacity="0.85"/></g></g>
<g transform="translate(294 345)" filter="url(#bl)"><circle r="28.2" fill="#d8d8d8"/><circle r="27.6" fill="#b8b5a8"/><circle r="27" fill="#e6e3d3"/><g clip-path="url(#pc)"><path d="M16.6 15.1h0M7.0 5.5h0M3.7 11.2h0M-13.4 -2.0h0M-3.4 -11.4h0M14.0 3.5h0M4.9 18.0h0M-12.4 22.4h0M-0.7 -1.2h0M12.9 -21.7h0M12.8 17.5h0M-7.9 -0.6h0M18.1 13.4h0M1.6 13.3h0M-7.5 25.3h0M14.6 10.6h0M10.7 2.7h0M4.6 -13.5h0M-1.1 -14.8h0M0.4 -8.2h0M3.4 -4.6h0M10.3 18.9h0M-14.6 6.0h0M15.1 -14.4h0M3.2 -7.4h0M-9.2 6.6h0M-3.6 25.8h0M9.7 -13.3h0M-14.1 -19.1h0M17.9 15.4h0M20.6 8.0h0M13.9 21.7h0M-14.4 -9.2h0M-10.3 -21.4h0M-8.2 7.7h0M15.6 2.9h0M11.6 -18.6h0M17.8 19.1h0M19.3 16.6h0M16.3 4.8h0M-5.3 12.5h0M-9.7 -20.0h0M-20.6 -10.8h0M19.7 -2.8h0M-11.4 18.4h0M-5.9 -18.2h0M-4.3 -7.0h0M-7.5 10.9h0M-16.3 14.4h0M-22.7 -8.7h0M24.8 8.9h0M11.7 17.7h0M14.6 -19.6h0M22.0 11.2h0M1.1 18.6h0M24.8 8.1h0M-7.8 -9.8h0M1.6 16.8h0M5.7 -17.0h0M11.0 -13.9h0M13.0 12.0h0M-10.7 -15.3h0M-7.2 4.4h0M19.8 0.0h0M-6.3 -4.9h0M-7.0 19.6h0M5.1 18.2h0M20.7 -6.7h0M15.1 5.3h0M-12.0 3.5h0M-14.5 -13.6h0M-10.0 -15.2h0M16.9 14.7h0M4.1 22.7h0M7.4 -13.6h0M-6.8 25.1h0M-5.7 -18.3h0M2.9 4.9h0M-2.1 -9.7h0M17.6 14.0h0M7.9 19.1h0M-20.0 15.9h0M3.5 -17.6h0M17.5 14.1h0M15.3 -7.6h0M-20.6 -12.8h0M-22.2 7.1h0M20.7 -5.8h0M-9.7 0.1h0M18.4 5.8h0M13.6 -21.7h0M-18.4 -1.0h0M11.2 22.8h0M-2.5 -20.0h0M-7.2 6.2h0M15.2 -13.8h0M-14.1 12.5h0M22.7 -13.2h0M-3.4 22.9h0M25.6 -4.8h0M11.9 13.3h0M-5.3 -16.2h0M-6.9 21.9h0M14.2 -17.0h0M20.5 -8.8h0M6.4 20.1h0M-5.3 20.3h0M-7.3 -13.8h0M-15.4 -21.2h0M-25.9 -0.6h0M-9.7 19.8h0M-5.4 7.2h0M-16.6 -7.9h0M-18.8 10.7h0M12.4 -19.2h0M8.1 -11.6h0M-23.6 -3.4h0M2.6 3.3h0M6.7 20.6h0M12.2 19.5h0M-0.1 14.2h0M-8.9 -22.6h0M0.3 -14.4h0M1.9 -4.4h0M5.7 -6.3h0M15.1 -17.1h0M-21.2 -8.6h0M2.8 -12.6h0M-5.5 23.0h0M19.3 -9.6h0M15.9 -4.4h0M-10.0 24.2h0M19.6 1.6h0M-9.7 -9.1h0M16.0 -17.1h0M20.5 -12.7h0M-13.3 -17.8h0M-22.0 -6.6h0M3.4 -20.3h0M-7.1 25.0h0M-4.6 -10.2h0M5.3 10.2h0M-13.6 13.2h0M-16.3 -6.0h0M-8.3 -4.8h0M-6.5 11.7h0M12.6 18.4h0M-4.6 9.3h0M5.4 -2.5h0M-10.9 -17.7h0M-16.7 -8.2h0M3.4 -15.5h0M2.8 14.7h0M10.3 4.7h0M-16.3 9.5h0M16.3 10.6h0M2.8 12.1h0M-9.8 11.7h0M0.2 -12.4h0M19.3 -0.4h0M23.9 -2.8h0M-1.2 -2.2h0M14.6 -10.0h0M-15.0 -14.3h0M-10.7 -23.7h0M13.0 -7.6h0M-19.4 16.9h0M-4.0 19.1h0M11.1 -22.7h0M5.3 -15.3h0M17.0 4.8h0M8.9 23.5h0M18.0 -6.1h0M10.4 -2.9h0M19.4 0.9h0M-3.3 -5.9h0M15.4 -17.5h0M13.7 10.5h0M-5.7 -18.6h0M4.1 -25.9h0M19.8 -7.9h0M13.0 18.8h0M-8.8 15.6h0M7.4 2.6h0M-22.1 -8.4h0M2.8 19.9h0M-10.3 8.7h0M-19.2 8.6h0M-1.6 -3.1h0M-12.2 -15.0h0M0.8 -20.8h0M-6.2 -19.3h0M6.4 -3.1h0M2.0 -8.4h0M12.5 7.5h0M-21.4 8.8h0M-8.9 -14.1h0M-17.8 -3.8h0M-7.6 6.2h0M-22.7 -6.7h0M16.0 20.4h0M18.7 -11.2h0M-3.1 -23.4h0M15.4 -5.1h0M-18.5 -6.7h0M9.3 0.3h0M-19.9 -4.7h0M-8.7 24.3h0M18.8 -13.1h0M-13.3 8.1h0M-21.2 -1.7h0M1.9 10.5h0M8.3 22.7h0M3.5 -10.7h0M14.6 -19.7h0M25.6 -0.9h0M-17.1 -5.5h0M13.0 5.9h0M-1.3 -8.2h0M-9.0 16.2h0M-5.3 -7.9h0M-6.1 -5.7h0M-10.4 22.9h0M-13.2 -11.9h0M-12.6 -7.4h0M-13.1 15.0h0M-13.4 6.5h0M0.0 1.8h0M-0.8 -12.4h0M9.4 -14.8h0M-1.0 -9.7h0M-24.2 5.7h0M-5.4 14.9h0M8.9 17.6h0M11.3 -17.3h0M15.7 18.9h0M-1.6 19.4h0M22.1 11.5h0M7.2 0.8h0M18.5 3.7h0M-16.7 11.3h0M16.9 -11.3h0M-19.0 -5.3h0M-26.1 4.6h0M-15.5 17.4h0M1.7 -12.4h0M-5.8 21.9h0M-18.0 -1.2h0M-16.7 -0.2h0M12.5 -17.6h0M-17.9 -15.6h0M-10.7 -1.0h0M7.6 16.0h0M-13.9 -21.7h0M-2.3 -26.0h0M-11.6 14.3h0M-12.4 1.0h0M-4.5 4.9h0M1.5 5.3h0M-16.2 19.3h0M-17.4 5.1h0M5.7 -0.7h0M-4.3 -14.5h0M9.2 -16.8h0M-2.0 24.1h0M9.0 17.4h0M-14.2 16.0h0M11.0 -18.4h0M-13.6 13.4h0M-25.1 -2.6h0M10.6 -11.6h0M-18.4 2.1h0M-20.6 -0.2h0M5.0 8.5h0M-4.6 -5.8h0M4.7 11.2h0M-3.3 -15.6h0M1.1 9.0h0M-4.4 -23.5h0M-18.2 2.4h0M6.4 10.3h0M24.0 3.4h0M-4.9 -2.5h0M-7.3 -7.7h0M-4.7 -2.3h0M-0.3 6.3h0M10.9 -2.9h0M-18.9 -8.0h0M-0.7 -3.6h0M-4.5 21.1h0M-7.4 2.4h0M17.7 -19.6h0M5.3 -9.6h0M5.7 -19.7h0M10.0 21.8h0M-2.0 21.4h0M-12.4 18.8h0M-15.0 -9.6h0M-9.6 8.4h0M2.6 8.3h0" stroke="#4a3c8a" stroke-width="0.6" stroke-linecap="round" opacity="0.35"/><path d="M-24.1 -0.7h0M8.3 5.7h0M12.3 13.2h0M15.2 4.3h0M1.6 -22.3h0M5.4 6.1h0M7.9 -9.7h0M-20.4 13.2h0M5.4 -21.2h0M8.9 0.4h0M-8.7 19.7h0M-5.9 -8.3h0M-21.3 11.1h0M-12.4 13.1h0M-4.6 12.3h0M-5.4 -16.5h0M-9.8 7.0h0M1.6 1.0h0M-23.0 9.9h0M10.7 5.9h0M16.0 -1.6h0M-4.5 -18.2h0M10.8 -22.9h0M5.1 16.4h0M-5.2 22.7h0M-20.0 -2.0h0M10.4 2.4h0M-14.0 -8.4h0M20.3 9.3h0M-10.7 -8.5h0M-22.3 -11.4h0M13.0 10.3h0M-20.9 -10.6h0M-17.1 4.3h0M3.2 2.9h0M20.7 -0.8h0M0.3 23.7h0M9.2 -19.2h0M-24.8 3.7h0M0.0 11.7h0M1.8 -20.3h0M-5.3 0.6h0M22.3 -13.0h0M-10.9 -5.7h0M-23.0 3.2h0" stroke="#30267a" stroke-width="0.71" stroke-linecap="round" opacity="0.85"/><path d="M19.8 5.0l0.0 -0.6M18.9 -14.3l0.2 0.0M4.0 -11.8l-0.2 0.1M-5.8 -12.4l-0.1 0.5M-1.9 -21.8l0.3 0.4M-6.3 -18.2l-0.5 0.7M0.2 0.4l0.4 -0.2M6.7 -12.2l-0.2 0.7M13.3 -4.6l0.7 0.6M-23.6 -9.9l0.4 0.7M-5.0 11.4l0.0 -0.8M-2.9 24.4l0.3 0.7M5.7 17.5l0.6 -0.5M8.0 6.4l0.3 0.3M18.2 -1.7l0.6 -0.0" stroke="#261e68" stroke-width="0.89" stroke-linecap="round" opacity="0.85"/></g></g>
<g transform="translate(108.7 406.8)" filter="url(#bl)"><circle r="28.2" fill="#d8d8d8"/><circle r="27.6" fill="#b8b8b5"/><circle r="27" fill="#cacac7"/><g clip-path="url(#pc)"><path d="M-14.7 11.6h0M10.0 19.5h0M-8.4 -24.8h0M-6.7 -16.7h0M0.7 2.8h0M-9.2 18.0h0M-1.3 20.7h0M1.6 19.6h0M-13.8 -11.9h0M-16.0 0.1h0M-3.7 -11.6h0M9.9 -12.8h0M6.0 12.7h0M-8.5 -4.4h0M10.3 7.4h0M1.2 13.7h0M-12.8 11.9h0M9.8 -2.6h0M3.5 -9.6h0M-11.1 0.0h0M15.5 -21.5h0M-3.5 -18.7h0M-7.3 22.3h0M-18.1 -8.2h0M-6.1 -15.6h0M2.5 -6.0h0M-12.5 -13.3h0M-9.0 15.3h0M-14.8 -5.9h0M-1.2 25.6h0M2.7 2.6h0M24.0 -5.7h0M-10.5 -5.4h0M9.7 19.0h0M-14.4 18.5h0M-21.7 1.7h0M17.5 -14.5h0M-3.7 15.9h0M12.9 16.6h0M3.8 -10.1h0M-10.4 -11.3h0M11.7 -16.3h0M3.7 6.0h0M-5.2 11.6h0M-1.6 14.2h0M-2.8 21.1h0M11.5 -13.4h0M-13.6 -8.3h0M-22.3 13.4h0M11.2 1.6h0M-11.9 -19.2h0M-7.8 -24.5h0M3.7 6.5h0M7.8 3.3h0M-23.7 -7.4h0M-3.4 2.6h0M20.1 11.6h0M7.6 11.2h0M16.1 -14.1h0M0.2 14.7h0M-9.9 -10.1h0M5.1 -8.2h0M-2.3 -3.8h0M-11.2 21.9h0M18.1 -2.9h0M-2.7 19.3h0M17.4 -3.4h0M9.8 19.8h0M-13.9 -15.0h0M-19.4 -8.3h0M-12.3 -14.7h0M-8.5 12.1h0M6.6 -18.3h0M-11.7 13.2h0M-4.5 12.7h0M0.1 -0.2h0M-13.6 20.3h0M18.1 0.9h0M24.0 -8.3h0M18.3 1.0h0M-4.6 16.8h0M12.7 0.6h0M-13.8 8.5h0M-15.7 12.2h0M-0.9 -10.7h0M-11.9 11.4h0M-12.0 6.4h0M1.2 -12.9h0M8.9 -23.6h0M-4.7 21.4h0M8.2 -21.3h0M10.3 -13.6h0M-2.8 11.0h0M-15.6 -14.3h0M-9.9 -9.6h0M11.4 1.4h0M-5.8 -1.3h0M9.1 6.8h0M-3.0 -13.4h0M2.4 22.5h0M-10.3 0.4h0M-5.8 14.4h0M23.7 -0.3h0M4.6 -17.4h0M8.4 -12.7h0M24.3 8.9h0M21.0 10.1h0M6.5 17.0h0M10.0 -22.2h0M17.4 16.7h0M0.2 23.2h0M-21.8 8.2h0M22.3 4.8h0M2.4 -17.8h0M19.0 -2.1h0M-7.6 -16.6h0M-6.6 13.3h0M20.3 5.5h0M-25.4 -3.4h0M-8.6 -10.2h0M9.0 -7.7h0M5.0 24.1h0M-6.0 -6.6h0M7.5 13.1h0M10.2 9.5h0M23.5 1.3h0M1.1 -5.3h0M-15.0 -10.4h0M13.7 8.6h0M8.8 5.7h0M18.9 -8.8h0M-18.7 -18.7h0M-4.0 -5.1h0M5.7 -21.4h0M1.0 9.3h0M6.3 -25.5h0M7.9 -21.7h0M6.2 16.4h0M-13.8 17.1h0M7.8 -5.8h0M-17.1 7.1h0M-4.7 -13.6h0M4.5 10.6h0M-1.7 -15.5h0M6.8 -12.1h0M-23.9 -8.5h0M3.9 5.8h0M-1.2 14.4h0M16.1 0.1h0M-15.3 14.6h0M11.3 1.3h0M4.0 -24.2h0M-2.3 -12.7h0M-20.9 -5.2h0M-16.3 -2.5h0M-17.7 -5.9h0M-9.1 18.6h0M16.3 13.6h0M17.5 7.8h0M16.6 17.6h0M7.3 23.7h0M15.0 10.7h0M10.3 -17.2h0M-21.2 -3.5h0M-0.8 22.2h0M-12.6 -9.9h0M6.4 -3.0h0M-12.1 0.7h0M21.9 12.0h0M22.0 8.8h0M18.3 -7.5h0M-11.6 12.5h0M10.0 -20.0h0M13.2 3.5h0M-2.3 6.6h0M25.0 -6.3h0M-1.3 -8.2h0M7.2 17.9h0M0.1 19.2h0M9.1 18.9h0M-19.8 11.7h0M-5.5 -6.6h0M-15.3 4.1h0M16.0 -14.5h0M4.6 9.8h0M-8.8 14.3h0M10.5 -0.1h0M-10.6 14.1h0M14.9 -0.8h0M-10.5 10.9h0M-21.0 9.8h0M-17.5 -14.2h0M4.5 19.4h0M20.7 -10.4h0M13.0 -3.2h0M-14.1 10.7h0M22.5 -2.4h0M-20.3 -2.3h0M-8.5 25.0h0M2.6 14.3h0M24.3 3.3h0M-8.9 -22.3h0M-13.1 -4.6h0M17.7 -8.9h0M10.1 2.4h0M10.2 12.1h0M-14.0 -7.9h0M4.8 -11.9h0M-6.5 4.7h0M-2.5 -25.3h0M6.0 -21.7h0M5.0 -9.8h0M-19.5 -10.1h0M-20.9 -14.2h0M-1.7 -14.4h0M17.7 9.5h0M0.8 -6.2h0M6.4 -14.3h0M11.5 -12.6h0M3.6 24.5h0M-17.1 -12.8h0M0.5 -2.8h0M-5.5 15.4h0M-5.2 -1.3h0M-10.2 -0.2h0M11.8 3.9h0M-17.7 14.1h0M-14.6 -10.0h0M3.3 18.5h0M-11.2 8.8h0M8.4 4.8h0M19.1 6.1h0M14.4 8.5h0M2.8 -18.6h0M6.3 7.2h0M-19.8 1.5h0M7.1 20.2h0M-1.9 -20.7h0M11.8 5.7h0M-10.4 20.9h0" stroke="#4a3c8a" stroke-width="0.6" stroke-linecap="round" opacity="0.28"/><path d="M21.1 13.3h0M-9.8 13.8h0M19.8 3.0h0M2.3 -5.0h0M16.6 13.9h0M1.0 3.8h0M-11.6 -1.7h0M-2.3 -17.9h0M21.6 2.5h0" stroke="#30267a" stroke-width="0.71" stroke-linecap="round" opacity="0.85"/><path d="M-19.3 -17.2l-0.1 -0.6M0.8 -15.9l-0.6 -0.7M22.7 -11.3l0.5 -0.8" stroke="#261e68" stroke-width="0.89" stroke-linecap="round" opacity="0.85"/></g></g>
<g transform="translate(169 406)" filter="url(#bl)"><circle r="28.2" fill="#d8d8d8"/><circle r="27.6" fill="#b6b5b0"/><circle r="27" fill="#dbdad5"/><g clip-path="url(#pc)"><path d="M20.8 5.8h0M-2.3 10.7h0M-17.4 -15.9h0M-3.4 -5.0h0M-1.9 1.6h0M8.3 -11.1h0M14.2 -16.2h0M2.5 -2.7h0M2.5 21.2h0M16.2 -2.4h0M-3.3 7.7h0M-24.2 -4.9h0M-11.4 -0.0h0M16.0 -8.0h0M0.1 3.9h0M-9.7 16.7h0M9.2 13.9h0M-9.3 12.5h0M1.8 20.9h0M-26.2 -0.2h0M-16.8 -17.0h0M19.2 -15.8h0M23.5 4.4h0M-3.7 19.4h0M8.2 -6.2h0M18.3 11.3h0M15.9 -4.0h0M-14.6 -14.7h0M0.8 12.6h0M10.2 -1.9h0M-12.1 22.2h0M5.2 18.8h0M-9.5 -2.5h0M15.4 -18.0h0M-4.1 -14.1h0M12.7 14.4h0M26.1 -4.0h0M9.2 -4.1h0M-10.4 23.1h0M18.8 -6.3h0M-3.8 8.3h0M-3.6 -24.6h0M16.9 -15.9h0M-14.5 9.0h0M16.1 -7.1h0M22.9 -10.2h0M2.5 -13.6h0M3.5 7.9h0M-17.6 -15.0h0M-12.5 -5.6h0M1.4 12.7h0M-13.9 17.0h0M-21.7 3.2h0M-14.9 -11.5h0M-15.7 15.9h0M-24.4 1.3h0M3.4 9.2h0M0.4 -4.7h0M-0.4 3.2h0M-0.8 -17.0h0M1.3 -26.3h0M6.1 -3.0h0M17.7 -19.5h0M-8.4 16.5h0M0.4 17.9h0M16.3 4.4h0M-16.6 15.5h0M-11.3 -9.6h0M-19.0 -12.7h0M13.6 -13.5h0M-23.3 -3.0h0M8.3 -15.8h0M5.5 -0.1h0M-15.1 11.6h0M-21.2 -8.1h0M-13.0 -13.9h0M-1.5 5.7h0M-5.6 15.7h0M-23.4 5.8h0M-13.1 -11.2h0M-6.2 -0.7h0M4.8 -8.8h0M-3.0 -17.5h0M1.6 -8.8h0M-8.5 -24.2h0M-8.3 5.0h0M7.7 16.0h0M-4.7 -19.8h0M-11.4 3.3h0M-4.7 -12.4h0M7.3 -24.2h0M16.0 15.7h0M-8.5 2.8h0M-15.8 -2.4h0M4.2 -15.9h0M18.0 -5.9h0M-11.9 11.1h0M19.8 -12.2h0M-10.7 -16.8h0M7.0 -7.5h0M-2.6 -10.9h0M-6.3 16.0h0M-21.9 7.7h0M15.5 14.1h0M2.8 9.2h0M-0.4 20.9h0M11.0 -14.2h0M19.5 0.7h0M1.9 24.8h0M-20.1 3.1h0M14.9 8.1h0M0.7 20.5h0M-14.3 -13.4h0M9.0 -17.6h0M3.5 4.7h0M20.9 4.9h0M-12.2 -21.2h0M-7.3 23.1h0M24.2 7.7h0M7.5 15.4h0M-16.6 -14.0h0M-18.2 -12.4h0M10.4 21.1h0M-15.7 -8.5h0M21.3 14.1h0M-9.8 10.7h0M14.9 6.7h0M-16.5 -5.4h0M9.5 10.7h0M-3.4 21.8h0M-19.0 -3.0h0M-16.8 -14.3h0M-1.1 -8.7h0M20.9 -1.7h0M-6.9 -17.1h0M25.5 -2.2h0M-11.0 -9.0h0M-14.7 -2.4h0M-16.1 21.0h0M-8.8 -3.7h0M-12.9 -14.1h0M7.9 16.8h0M-5.3 -20.0h0M26.2 0.3h0M-2.9 -2.9h0M5.3 -7.4h0M23.7 -0.2h0M-8.6 14.7h0M-12.9 -15.1h0M0.9 2.7h0M3.5 -13.6h0M-14.7 -0.6h0M15.1 0.6h0M-11.9 18.4h0M-16.8 -15.0h0M2.0 4.0h0M-8.0 13.0h0M18.8 -10.9h0M-14.4 -18.8h0M-12.8 -13.2h0M-24.4 -5.8h0M3.3 -15.0h0M-0.8 -17.0h0M-7.4 23.1h0M-9.0 20.7h0M5.0 18.7h0M6.7 -20.9h0M-15.1 19.9h0M-5.0 25.6h0M4.7 -0.5h0M11.5 -17.5h0M-15.4 12.8h0M13.5 -15.4h0M-6.4 -22.1h0M14.6 2.9h0M-17.0 0.3h0M-12.3 3.8h0M5.5 25.3h0M11.1 9.4h0M4.1 -23.1h0M-23.8 8.8h0M-4.2 0.5h0M6.9 17.4h0M-2.8 -25.3h0M3.1 -18.9h0M6.9 -7.2h0M22.2 -9.1h0M14.6 16.1h0M-21.8 5.7h0M-22.2 -3.1h0M1.5 -0.7h0M-18.2 -12.3h0M-7.7 1.6h0M-5.6 -0.7h0M-8.2 19.9h0M-7.7 18.6h0M-10.8 22.6h0M-1.9 11.5h0M-14.0 5.4h0M5.4 7.3h0M13.8 1.3h0M-20.8 -1.8h0M-7.1 9.7h0M9.4 11.6h0M-4.6 21.8h0M11.8 5.7h0M-11.0 17.6h0M12.1 12.9h0M-8.2 -16.2h0M8.1 2.9h0M7.5 15.6h0M-17.1 -11.3h0M-7.6 -23.0h0M-8.0 19.2h0M-5.5 -23.3h0M-21.2 -4.5h0M0.9 -26.1h0M12.2 13.3h0M20.9 -11.6h0M-17.4 5.0h0M-5.4 -21.2h0M2.1 18.0h0M8.1 -9.6h0M17.8 -10.8h0M-5.2 -15.8h0M5.2 -21.0h0M-23.8 7.2h0M-4.6 0.7h0M-15.2 3.8h0M1.2 -10.9h0M14.3 14.8h0M3.5 -7.7h0M-10.9 21.0h0M5.6 -20.6h0M-15.7 11.3h0M-12.4 -11.7h0M19.4 -3.2h0M-8.9 13.8h0M-20.1 -12.9h0M-21.6 9.3h0" stroke="#4a3c8a" stroke-width="0.6" stroke-linecap="round" opacity="0.35"/><path d="M-22.2 -6.4h0M-19.5 4.6h0M3.1 -23.2h0M-9.8 -15.4h0M5.9 8.0h0M-14.3 -7.6h0M-8.7 19.6h0M12.9 8.1h0M-21.3 14.6h0M-9.6 10.3h0M-11.8 10.9h0M-20.9 3.3h0M14.1 15.9h0M-0.6 -3.2h0M17.1 -1.1h0M-18.0 10.5h0M-18.3 -14.1h0M-11.0 -0.7h0M-10.7 13.8h0M-16.0 -4.8h0M-22.4 5.0h0M20.8 12.9h0M21.7 -5.5h0M6.2 -19.8h0M-1.8 -17.7h0M7.6 -24.3h0M-6.4 1.1h0M8.6 -10.7h0M4.0 7.7h0M9.1 -4.0h0M16.9 15.1h0M-4.4 -15.4h0M6.8 -7.2h0M-23.8 7.9h0M-10.4 -23.3h0M-12.3 20.7h0M-4.6 -6.7h0M-5.5 -14.1h0M-7.9 2.8h0M4.8 13.0h0M7.3 -3.0h0M22.6 -7.3h0M6.1 -1.8h0M-5.4 -24.3h0M-6.3 -3.0h0M13.8 -10.5h0M19.0 -8.5h0M-25.2 1.5h0M10.5 -23.1h0M18.0 -7.8h0M-17.4 12.6h0M21.4 13.7h0M22.3 12.3h0M-13.6 -18.2h0M-3.8 3.4h0M17.3 -13.1h0M13.4 7.9h0M14.2 17.2h0M-18.4 -12.2h0M-6.3 -1.6h0M9.6 -16.4h0M25.2 6.0h0M22.2 6.1h0M-11.6 -20.3h0M15.1 -15.2h0M17.6 -9.0h0M-5.6 -8.1h0M8.3 -18.2h0M5.6 -17.5h0M14.6 -2.2h0M10.9 10.4h0M-5.5 -15.8h0M15.4 -7.8h0M4.7 -6.7h0M22.8 2.2h0M0.9 1.9h0M15.9 -13.7h0M3.3 -23.1h0M-7.5 -9.1h0M15.4 -6.3h0M2.1 4.6h0M9.3 8.5h0M-12.3 -19.2h0M3.3 -11.0h0M-25.3 4.1h0M20.5 5.7h0M-12.7 5.5h0M1.2 -23.3h0M19.9 -10.2h0M-22.9 2.2h0M-4.4 -24.2h0M4.7 14.1h0M2.7 -14.6h0M-13.3 11.4h0M20.1 7.9h0M-23.2 6.2h0M11.5 -10.0h0M-14.9 -17.6h0M18.2 -0.5h0M22.3 4.8h0M-8.5 -11.3h0M-15.9 16.8h0M13.2 -15.9h0M-12.2 21.3h0M-13.6 15.3h0M9.6 8.3h0M-7.4 9.9h0M-3.6 21.1h0M-15.2 1.3h0M-2.3 -8.8h0M-5.0 18.3h0M-23.7 6.4h0M13.8 -2.7h0M-5.4 7.8h0M-5.4 20.2h0M-9.3 -12.1h0M2.3 -9.2h0M-14.9 4.2h0M-5.9 -24.3h0M13.7 -21.7h0M12.1 17.4h0M-2.1 4.8h0M5.3 12.2h0M-2.0 4.4h0M-15.4 -3.9h0M12.5 -6.8h0M11.2 14.5h0M-21.5 3.6h0M25.1 -3.1h0" stroke="#30267a" stroke-width="0.84" stroke-linecap="round" opacity="0.85"/><path d="M18.7 9.9l0.1 -0.0M10.5 21.1l-0.7 -0.6M17.8 -15.3l0.2 -0.8M-8.4 23.4l-0.1 0.8M-1.7 -5.7l-0.2 0.6M2.2 24.1l-0.2 -0.3M14.3 -7.4l-0.6 0.8M-17.8 -9.5l-0.4 0.0M-23.4 -10.7l-0.6 -0.0M13.6 16.8l0.8 0.8M-3.3 5.0l-0.0 0.0M4.3 -2.3l0.4 0.1M5.9 -0.4l0.2 -0.3M-7.5 -0.3l-0.4 -0.6M-9.5 3.3l-0.4 0.3M5.5 -17.2l-0.3 -0.7M18.3 -0.7l-0.4 -0.1M5.1 20.1l-0.2 0.2M-5.2 15.6l0.4 0.1M-16.2 -18.9l-0.1 0.7M-0.1 -22.9l0.1 -0.5M-9.0 -17.0l-0.8 -0.6M16.0 15.0l-0.6 0.3M-22.6 -9.9l0.6 0.3M-12.8 2.7l0.2 0.7M-12.3 6.1l0.4 -0.3M9.4 4.7l-0.2 -0.3M-17.2 0.9l0.2 -0.5M11.3 14.3l-0.5 0.2M-4.1 -12.8l0.1 0.0M4.6 -23.4l0.1 -0.8M23.9 7.1l-0.6 -0.5M-2.0 5.4l-0.1 -0.5M-20.9 10.4l0.8 0.3M5.0 -8.2l0.4 0.1M-17.7 -18.2l-0.2 -0.8M-5.2 6.1l0.1 -0.4M-0.6 -8.1l-0.2 -0.4M-17.8 1.7l-0.6 0.7M-14.9 -16.3l-0.5 -0.6M10.5 -2.0l-0.7 0.6M-4.3 23.4l0.4 -0.4M-13.1 -7.1l0.1 -0.6M19.7 0.6l-0.7 -0.0M5.3 -17.2l-0.1 -0.4M19.4 1.5l0.7 -0.6M-6.1 17.0l0.6 0.4M-3.9 1.1l0.6 -0.2M-2.1 16.8l0.1 0.5M20.2 11.2l0.4 -0.7M-11.5 -22.5l-0.6 -0.2M17.7 7.9l-0.5 0.8M-22.1 -12.2l-0.5 0.4M21.9 -7.8l0.7 -0.7M-5.9 23.9l-0.6 -0.4M-21.7 0.5l0.0 0.2M2.7 24.1l0.2 -0.1M-6.6 -18.9l-0.1 -0.3M-13.2 1.3l0.4 -0.7M14.7 0.4l0.8 -0.3M-9.1 -4.0l-0.1 0.3" stroke="#261e68" stroke-width="1.06" stroke-linecap="round" opacity="0.85"/></g></g>
<g transform="translate(235 405)" filter="url(#bl)"><circle r="28.2" fill="#d8d8d8"/><circle r="27.6" fill="#b6b5b0"/><circle r="27" fill="#dcdbd7"/><g clip-path="url(#pc)"><path d="M18.4 -13.3h0M-9.4 -3.1h0M-12.0 8.5h0M-22.9 8.1h0M7.6 2.7h0M-18.4 -10.6h0M11.5 -4.9h0M13.8 2.0h0M-18.3 6.5h0M18.5 11.3h0M6.5 17.8h0M-11.8 -9.2h0M21.6 -14.0h0M9.5 12.8h0M-16.7 17.9h0M-3.5 15.8h0M15.6 -2.2h0M21.1 13.0h0M-21.2 7.8h0M8.7 -24.9h0M4.9 -13.4h0M-23.2 12.0h0M16.0 19.3h0M17.4 10.5h0M-11.9 1.9h0M24.6 -2.1h0M6.6 -1.7h0M19.6 12.2h0M14.6 -8.7h0M-16.0 -5.9h0M0.7 -22.3h0M3.8 9.0h0M-15.4 -5.4h0M2.5 -4.8h0M-8.0 22.8h0M-19.3 4.5h0M4.3 0.1h0M13.1 -3.7h0M-23.8 4.2h0M16.7 -13.4h0M-17.1 0.9h0M0.7 22.0h0M-1.6 9.0h0M24.1 10.8h0M-20.0 -11.2h0M13.5 -14.7h0M-20.8 3.1h0M16.1 15.1h0M-16.9 -8.6h0M12.7 20.8h0M-2.7 5.8h0M16.4 18.7h0M-1.5 10.6h0M14.6 -9.0h0M-3.9 15.3h0M17.8 -7.5h0M2.0 -18.9h0M9.4 6.3h0M-22.1 -6.2h0M11.5 -21.9h0M-6.9 20.8h0M-8.3 -20.3h0M-7.2 -4.0h0M24.0 1.9h0M-13.3 13.7h0M-9.9 15.6h0M20.2 15.2h0M1.9 10.2h0M9.2 -6.9h0M10.2 -18.1h0M-18.8 -3.8h0M0.8 -19.7h0M-8.7 2.2h0M3.1 -6.7h0M-25.3 3.3h0M-9.6 11.2h0M18.4 -15.3h0M1.7 -20.4h0M-3.9 -15.0h0M1.8 -4.1h0M7.8 -9.8h0M1.5 9.9h0M6.4 6.8h0M-2.7 -6.9h0M20.7 11.0h0M1.1 -23.3h0M4.3 3.4h0M-23.5 -2.0h0M4.7 4.4h0M12.2 5.4h0M0.6 -21.6h0M20.5 -11.3h0M9.8 -7.0h0M-6.8 9.2h0M4.5 -6.6h0M24.4 -8.1h0M8.3 13.2h0M-2.5 -18.6h0M-11.8 -5.6h0M-7.4 -3.9h0M0.6 3.1h0M-2.3 11.4h0M-24.5 -5.8h0M21.3 15.2h0M-12.3 -0.3h0M-14.9 16.6h0M-18.9 7.5h0M10.9 23.5h0M-11.5 10.8h0M1.7 12.1h0M8.9 -0.9h0M7.2 6.0h0M0.8 -9.7h0M-20.8 -7.8h0M-2.5 4.7h0M-1.9 8.8h0M-7.8 19.0h0M-24.6 9.0h0M-5.0 19.1h0M9.2 22.7h0M3.8 -5.9h0M-7.9 -16.5h0M11.2 -0.1h0M14.7 11.4h0M-9.5 -14.7h0M4.8 6.1h0M-14.1 -9.0h0M7.5 -3.8h0M24.1 10.4h0M-13.8 22.2h0M20.4 -1.2h0M4.9 -7.9h0M-4.0 22.2h0M-19.5 -11.0h0M3.4 -13.4h0M-17.2 12.5h0M-14.6 -11.0h0M-16.8 1.6h0M1.6 -13.9h0M-0.0 8.7h0M-12.9 -13.5h0M7.9 5.7h0M5.5 2.5h0M21.5 -3.8h0M-7.1 -14.8h0M-7.5 -7.2h0M7.3 3.8h0M2.5 -22.8h0M7.0 22.5h0M-21.5 1.3h0M-7.5 11.3h0M-23.5 -7.1h0M25.4 5.1h0M15.0 -8.9h0M-6.5 15.1h0M-15.7 4.1h0M-4.5 -1.7h0M-8.0 23.2h0M-22.2 1.2h0M-2.1 -9.5h0M14.3 11.7h0M-11.7 -18.4h0M-19.7 -9.6h0M11.1 -14.5h0M-14.6 11.9h0M18.3 -3.4h0M-12.5 16.6h0M-11.2 23.7h0M4.3 1.2h0M-14.1 19.7h0M22.5 3.8h0M-13.6 21.0h0M-4.7 6.8h0M-9.4 12.7h0M0.3 21.5h0M-17.8 -11.7h0M23.2 10.1h0M-7.7 12.5h0M-1.7 3.3h0M11.8 -13.6h0M16.3 -11.6h0M-4.6 -12.9h0M20.2 -1.8h0M-12.6 10.4h0M7.2 -18.7h0M-3.8 -7.5h0M-15.4 -0.3h0M-12.4 19.6h0M-13.6 15.7h0M-17.5 0.3h0M5.6 -23.7h0M-23.7 -5.4h0M13.6 4.2h0M-21.6 15.3h0M-0.6 -12.6h0M4.5 -6.7h0M-4.2 7.0h0M2.2 -6.5h0M4.6 17.7h0M-13.7 -19.3h0M4.9 -13.7h0M-16.9 -4.3h0M-9.7 6.8h0M-20.1 6.1h0M9.8 21.0h0M-1.0 -3.5h0M-21.8 -11.4h0M11.9 -2.9h0M-22.3 4.7h0M-25.1 -5.2h0M2.5 -20.6h0M-16.0 -7.0h0M-20.8 -2.9h0M9.6 12.8h0M-4.1 -9.4h0M-13.3 5.7h0M7.2 -13.1h0M1.9 6.4h0M7.6 -15.2h0M-0.9 21.3h0M-17.1 11.5h0M3.2 8.3h0M6.1 -11.6h0M-16.8 -6.6h0M-10.6 -14.0h0M2.7 4.3h0M-0.5 9.8h0M-12.9 -19.9h0M6.7 -8.9h0M-25.9 2.3h0M2.4 -2.9h0M-6.2 -4.6h0M20.0 -14.4h0M-11.1 12.8h0M18.1 11.5h0M-4.1 -25.4h0M7.6 6.4h0M20.7 -9.3h0M9.1 -16.8h0M23.5 -10.8h0" stroke="#4a3c8a" stroke-width="0.6" stroke-linecap="round" opacity="0.35"/><path d="M9.8 -8.7h0M3.2 -8.5h0M-19.9 1.2h0M-10.3 23.1h0M9.5 -19.8h0M5.2 -21.0h0M16.1 -2.2h0M3.4 -7.0h0M-18.9 12.6h0M-21.7 -0.9h0M-3.7 -4.6h0M15.2 17.5h0M-8.0 19.0h0M-1.5 22.2h0M7.2 -22.5h0M24.4 -4.0h0M10.6 19.0h0M-1.1 17.0h0M14.9 -5.1h0M-2.0 -8.7h0M4.8 -23.6h0M-6.1 -12.4h0M10.1 13.2h0M17.6 1.1h0M-5.2 -13.8h0M-3.1 5.5h0M21.6 6.3h0M-6.6 19.4h0M15.5 -3.2h0M-1.3 19.8h0M18.1 -17.4h0M-14.4 -2.8h0M8.5 2.4h0M12.2 2.8h0M-4.0 -15.0h0M10.2 22.0h0M-25.3 -4.2h0M-1.8 -3.8h0M3.6 -6.5h0M16.8 -4.9h0M1.9 -0.4h0M4.7 19.0h0M-9.3 18.7h0M6.6 -2.1h0M15.3 14.5h0M5.9 -16.0h0M14.6 15.8h0M-23.6 -1.9h0M-24.2 3.6h0M16.4 4.3h0M2.9 17.5h0M-10.2 0.3h0M-4.8 18.2h0M-24.5 3.5h0M5.0 2.6h0M-7.6 3.9h0M-19.2 -8.8h0M11.4 6.5h0M-4.6 -7.5h0M-8.7 6.9h0M-7.2 23.3h0M-8.4 -15.4h0M1.5 1.3h0M-17.1 13.2h0M9.2 0.8h0M-19.3 8.2h0M8.4 21.5h0M-17.5 2.9h0M-20.7 -12.3h0M9.9 -17.0h0M-18.4 -12.6h0M-14.0 1.1h0M-15.3 -12.9h0M17.0 -6.8h0M21.5 2.8h0M-6.3 9.5h0M10.3 -6.6h0M11.1 -16.9h0M-9.1 -7.2h0M16.8 -0.7h0M11.4 3.5h0M-15.2 19.1h0M18.6 -14.6h0M-5.9 2.8h0M1.5 8.9h0M-9.3 12.0h0M-2.7 24.2h0M-21.5 -2.1h0M19.6 -9.7h0M9.6 -14.7h0M4.2 3.3h0M20.6 -12.9h0M-13.1 5.0h0M18.1 13.0h0M0.2 -10.1h0M4.0 -11.8h0M2.7 3.6h0M21.9 -8.1h0M14.5 -1.7h0M0.4 -6.4h0M17.0 -12.0h0M-4.7 -20.1h0M-5.3 18.0h0M-20.2 -7.1h0M18.9 -12.1h0M4.8 -24.0h0M-3.7 10.9h0M11.6 7.6h0M0.8 -18.8h0M1.3 -4.2h0M-4.4 4.6h0M14.8 4.6h0M23.3 -1.6h0M-17.1 -17.7h0M-11.8 16.2h0M-5.0 -22.5h0M-21.8 -2.7h0M10.4 -19.3h0M5.0 -4.2h0M-11.8 12.7h0M-19.8 -2.4h0M-13.4 0.1h0M15.7 -7.2h0M11.5 -22.9h0M-2.2 -9.0h0M14.3 -16.5h0M-20.4 -15.1h0M-8.1 -3.9h0M14.5 18.0h0M13.1 12.6h0M-21.1 12.0h0" stroke="#30267a" stroke-width="0.84" stroke-linecap="round" opacity="0.85"/><path d="M-15.3 12.7l-0.4 -0.1M4.5 8.8l-0.1 -0.4M20.9 -4.9l0.7 -0.2M-20.1 -15.8l0.3 0.7M-7.0 18.0l-0.2 0.5M6.1 -6.7l-0.2 0.7M9.2 -7.6l0.2 0.6M10.7 -21.7l-0.0 -0.1M-4.9 -23.3l0.5 0.5M7.8 -18.6l-0.1 -0.8M-10.3 -1.1l0.5 0.4M-9.4 -22.0l-0.3 -0.0M6.9 15.2l0.7 0.6M11.7 -3.9l0.2 0.2M-20.2 8.7l-0.1 0.3M12.5 13.3l0.2 0.8M-9.8 -9.0l-0.2 0.3M-5.7 -21.2l-0.4 -0.6M24.8 -0.5l0.7 0.2M12.3 -20.9l0.7 -0.3M-18.5 -15.9l-0.4 -0.3M-9.8 22.5l0.4 -0.6M-13.2 -20.1l-0.7 -0.6M-20.1 8.5l0.7 -0.7M10.3 -15.0l-0.6 -0.7M-2.6 18.4l0.1 0.1M14.9 7.8l0.3 0.6M-13.8 -8.8l0.5 -0.6M-11.5 22.6l0.4 0.7M7.2 14.8l0.6 -0.7M12.5 20.5l-0.3 0.4M0.7 -16.9l0.2 -0.1M7.6 -5.3l0.0 -0.3M13.1 -2.8l-0.5 -0.5M-17.8 -13.7l-0.6 0.1M-6.4 -16.8l0.7 0.2M-13.3 -12.3l-0.2 0.3M3.2 -0.6l-0.5 0.2M6.1 8.7l0.7 -0.0M-1.6 -1.7l0.8 0.6M-23.4 1.8l0.0 -0.1M13.5 5.7l-0.1 -0.0M-2.5 9.1l0.7 0.5M-2.1 -21.2l0.5 0.6M-4.2 20.1l0.3 -0.6M-6.5 -5.4l0.7 0.5M9.7 11.5l-0.1 -0.1M0.7 22.8l-0.3 0.0M-5.3 5.5l-0.2 0.3M-16.1 4.3l0.5 -0.2M-13.5 -2.4l0.3 -0.1M-11.3 -3.2l0.2 0.3M-2.3 -14.9l-0.6 0.8M1.9 -12.6l0.8 -0.6M-2.7 8.8l-0.1 0.8M-12.9 -7.4l-0.2 -0.6M-11.8 2.0l0.7 -0.2M-7.0 7.4l-0.3 -0.0M4.5 -3.5l-0.5 0.5" stroke="#261e68" stroke-width="1.06" stroke-linecap="round" opacity="0.85"/></g></g>
<g transform="translate(295 405)" filter="url(#bl)"><circle r="28.2" fill="#d8d8d8"/><circle r="27.6" fill="#b7b5af"/><circle r="27" fill="#dedcd5"/><g clip-path="url(#pc)"><path d="M16.1 -11.7h0M-23.1 3.6h0M-17.7 -13.9h0M-23.1 -0.7h0M-17.1 5.6h0M11.9 -13.2h0M4.7 -14.4h0M-18.2 11.6h0M-10.1 7.8h0M18.8 -5.1h0M-2.2 -24.9h0M14.2 -15.9h0M-20.0 -9.7h0M-6.3 -22.8h0M14.1 13.9h0M7.0 18.5h0M-18.5 -9.7h0M-5.5 -2.6h0M-11.4 1.7h0M18.3 17.2h0M11.0 23.2h0M0.8 -3.6h0M-3.6 -12.6h0M-23.4 8.6h0M-18.6 -14.8h0M16.1 4.7h0M24.3 3.6h0M-15.1 8.9h0M-10.1 22.4h0M10.1 8.9h0M4.1 7.3h0M-0.4 10.1h0M-2.8 7.4h0M8.2 14.8h0M-9.5 18.5h0M4.1 1.6h0M-7.0 15.0h0M-7.7 15.2h0M7.6 -14.3h0M2.7 8.8h0M-19.7 -11.8h0M0.3 -18.6h0M12.3 10.9h0M-6.4 1.4h0M-16.8 1.7h0M1.7 16.8h0M-3.0 24.8h0M-11.8 -23.2h0M-12.4 -4.4h0M-7.9 22.1h0M14.6 8.5h0M6.1 20.2h0M-18.2 18.6h0M5.3 -25.8h0M-17.2 9.0h0M-24.1 7.6h0M-0.8 0.2h0M-5.9 23.4h0M26.1 0.1h0M-25.4 2.9h0M10.9 -17.3h0M-9.7 13.1h0M-18.1 -10.7h0M18.2 5.3h0M-21.0 -8.8h0M-11.5 8.9h0M5.9 7.1h0M-3.6 19.4h0M-13.4 -11.1h0M-10.8 23.6h0M-12.0 18.3h0M0.2 -13.5h0M0.5 17.8h0M-14.3 22.0h0M-14.6 -10.5h0M-1.2 -3.1h0M21.3 0.3h0M14.9 -10.6h0M-18.6 11.3h0M-7.3 -24.0h0M-22.5 -5.5h0M-13.9 -18.9h0M7.2 1.4h0M-11.4 -21.3h0M-13.1 17.3h0M11.2 -21.1h0M7.0 14.2h0M-7.6 -21.9h0M-2.4 0.6h0M-24.1 8.7h0M12.4 1.5h0M12.4 -6.7h0M13.4 8.5h0M-6.8 19.6h0M2.2 22.3h0M-12.1 14.1h0M11.6 -7.9h0M5.7 21.5h0M5.1 -10.6h0M11.4 -12.2h0M-20.0 0.8h0M-10.6 -16.6h0M-8.2 -18.2h0M18.3 8.0h0M8.7 3.8h0M-12.2 -5.7h0M-12.5 -1.8h0M8.4 21.9h0M21.8 -1.1h0M-21.6 -4.5h0M-12.4 -4.9h0M16.5 -6.8h0M19.9 -7.4h0M5.6 -2.3h0M17.4 -0.5h0M-5.9 -12.6h0M-11.7 13.8h0M17.2 -15.4h0M-2.2 12.4h0M-16.3 5.4h0M0.6 1.8h0M-6.8 -3.3h0M-0.3 -4.2h0M-23.3 12.1h0M0.0 7.2h0M-4.0 10.0h0M17.2 12.0h0M6.5 -17.2h0M-14.3 -14.5h0M-0.0 15.3h0M0.6 8.7h0M14.6 5.2h0M4.2 -14.7h0M4.1 -25.4h0M1.8 -20.8h0M-18.4 -10.0h0M7.2 2.9h0M-1.9 4.5h0M22.4 9.7h0M8.3 -4.6h0M-5.6 16.7h0M19.2 8.4h0M-20.3 -7.9h0M-10.6 9.8h0M0.1 -8.2h0M-10.4 -7.5h0M21.5 1.4h0M4.6 -15.8h0M-18.2 -16.9h0M14.3 -5.9h0M-22.5 6.7h0M5.4 14.2h0M-7.0 -4.8h0M1.7 -6.7h0M-10.4 -5.2h0M-0.8 21.1h0M-2.7 -17.0h0M0.8 17.7h0M22.0 8.8h0M-13.6 5.8h0M0.7 -26.0h0M11.1 -9.8h0M14.0 18.7h0M-8.1 12.3h0M16.1 0.8h0M-8.8 -18.3h0M-6.3 -0.3h0M15.3 -18.8h0M5.8 16.2h0M10.0 -6.5h0M-12.8 19.7h0M-7.4 -20.4h0M-21.3 -15.4h0M-13.4 -7.2h0M-19.4 -17.3h0M9.0 14.6h0M4.4 -17.3h0M1.0 5.3h0M0.3 1.6h0M-9.1 -8.9h0M-1.3 -12.9h0M-12.7 22.5h0M6.3 21.9h0M11.4 -0.7h0M14.3 7.1h0M3.4 3.0h0M4.9 13.4h0M2.0 -20.2h0M5.5 1.0h0M5.4 10.5h0M-4.9 -24.5h0M-14.6 -5.2h0M11.1 1.5h0M20.6 -13.0h0M-1.7 -3.4h0M3.8 -15.9h0M8.1 -3.4h0M0.9 14.6h0M-12.7 -20.2h0M25.4 -3.7h0M19.5 -17.9h0M22.8 9.9h0M8.9 -4.6h0M8.5 22.1h0M-11.5 11.6h0M20.3 -3.0h0M12.6 3.8h0M7.8 19.3h0M4.8 -18.8h0M14.3 5.0h0M16.5 -16.9h0M24.0 -4.8h0M6.3 24.1h0M-7.4 1.4h0M19.8 8.6h0M0.2 -18.9h0M-21.2 -1.2h0M-18.2 4.2h0M-10.6 10.7h0M-4.7 -21.6h0M-2.1 18.5h0M14.8 -8.0h0M19.7 4.6h0M3.6 11.9h0M-19.5 15.0h0M11.2 -9.4h0M18.4 -7.9h0M-15.4 -5.1h0M8.4 4.9h0M-10.5 14.2h0M-19.8 4.4h0M-18.7 9.4h0M-15.2 9.8h0M-9.7 21.7h0M7.0 14.8h0M-7.8 -10.1h0M13.8 7.9h0M-24.2 -2.0h0M4.8 -20.7h0M20.8 14.8h0M6.9 1.7h0M3.9 11.2h0M-4.9 14.4h0M-9.7 -21.9h0M-3.8 -13.3h0M26.5 -0.3h0M-1.5 -22.9h0M25.3 1.4h0M6.4 -13.0h0M-19.3 13.3h0M-14.8 -8.1h0M-21.1 3.8h0M1.3 -18.9h0M-8.2 6.1h0M-0.1 -12.6h0M-18.2 -1.8h0M1.1 -23.5h0M-21.9 5.4h0M-9.1 21.8h0M1.4 -11.4h0M5.6 21.4h0M-16.6 -6.4h0M-14.3 -7.6h0M8.9 -3.3h0M1.0 -2.4h0M-12.9 20.5h0M-6.7 -15.8h0M3.0 -16.6h0M-8.9 17.3h0M0.9 -3.9h0M14.5 20.9h0M-12.5 22.6h0M-16.8 -12.7h0M13.9 -15.3h0M7.4 25.2h0M-16.2 -3.6h0M8.9 7.3h0M-19.1 6.0h0M20.9 13.9h0M-8.1 -2.8h0" stroke="#4a3c8a" stroke-width="0.6" stroke-linecap="round" opacity="0.35"/><path d="M-1.7 -4.3h0M19.1 9.0h0M-8.4 -2.0h0M-4.3 -16.5h0M18.7 -7.5h0M-7.3 -16.9h0M1.4 1.8h0M5.8 -15.4h0M18.0 -17.1h0M-1.6 -19.7h0M7.5 -18.9h0M-10.1 -4.7h0M12.1 -7.1h0M4.5 21.6h0M-10.5 20.2h0M-13.1 -0.5h0M-19.2 14.5h0M7.6 -4.4h0M-22.4 2.2h0M11.4 20.9h0M-2.3 7.9h0M3.2 15.2h0M4.5 20.9h0M9.0 -22.0h0M17.6 -13.3h0M13.7 4.7h0M5.3 9.2h0M-4.0 7.5h0M3.0 10.9h0M18.3 17.3h0M7.2 13.8h0M-11.2 9.4h0M2.7 -6.1h0M14.4 6.5h0M15.3 -20.9h0M-8.9 -24.1h0M15.5 -13.8h0M-23.8 2.7h0M-17.5 -10.3h0M2.3 20.7h0M2.8 25.7h0M-4.5 4.5h0M2.9 9.7h0M-5.0 20.3h0M-11.7 20.9h0M15.9 -10.6h0M-13.8 5.2h0M21.9 10.3h0M13.0 16.1h0M-1.1 -7.2h0M0.7 22.1h0M-2.9 12.7h0M8.1 14.3h0M-12.4 12.4h0M4.6 5.3h0M3.8 9.5h0M-2.8 -18.2h0M-17.7 -11.0h0M4.5 -2.4h0M6.7 18.4h0M-7.1 -20.4h0M-2.3 -24.9h0M1.9 -4.5h0M-6.9 -20.2h0M-12.8 3.7h0M-24.5 -2.9h0M8.1 -14.8h0M14.0 -2.9h0M-5.7 15.0h0M-3.4 -24.1h0M3.5 -20.4h0M10.5 -23.6h0M-2.3 -6.5h0M-2.2 -20.9h0M-4.5 -15.3h0M10.5 -3.5h0M9.2 21.6h0M0.6 -11.1h0M-20.8 13.4h0M13.9 -15.1h0M-10.1 9.8h0" stroke="#30267a" stroke-width="0.76" stroke-linecap="round" opacity="0.85"/><path d="M10.2 4.8l-0.3 -0.4M8.8 16.5l-0.1 -0.5M6.5 -1.9l-0.6 -0.5M-23.5 6.6l0.3 -0.3M10.5 -7.6l-0.1 0.7M1.6 25.2l-0.4 0.2M-24.5 -8.4l-0.7 -0.6M-2.4 -6.6l-0.2 0.4M0.9 19.2l-0.6 0.5M14.4 7.6l0.3 -0.6M2.5 -22.7l-0.2 -0.4M-6.9 3.7l-0.3 -0.5M3.9 20.9l0.5 0.5M-11.6 -8.3l-0.6 0.1M-20.6 -14.9l0.3 0.3M-8.9 23.0l0.4 0.2M-20.4 -14.4l0.4 -0.3M-8.5 -10.8l0.0 0.8M-5.0 -12.0l0.2 -0.2M-6.6 -4.3l0.7 -0.4M-2.8 20.5l-0.7 0.8M-1.7 -18.4l0.5 0.5M-2.7 2.5l0.4 0.7M11.5 16.4l-0.4 -0.1M23.3 -9.2l-0.2 -0.0M11.2 -6.8l0.0 -0.0M-10.5 -7.8l0.5 -0.8M-14.1 -18.0l-0.2 0.1M-0.1 -9.8l-0.2 -0.3" stroke="#261e68" stroke-width="0.95" stroke-linecap="round" opacity="0.85"/></g></g>
<text x="108" y="311.6" font-size="6.9" font-weight="bold" text-anchor="middle" textLength="64.3" lengthAdjust="spacingAndGlyphs" stroke="#000" stroke-width="0.22">miR-217 inhibitor NC</text>
<text x="174.4" y="311.6" font-size="6.9" font-weight="bold" text-anchor="middle" textLength="53" lengthAdjust="spacingAndGlyphs" stroke="#000" stroke-width="0.22">miR-217 inhibitor</text>
<text x="234" y="311.6" font-size="6.9" font-weight="bold" text-anchor="middle" textLength="38" lengthAdjust="spacingAndGlyphs" stroke="#000" stroke-width="0.22">miR-217 NC</text>
<text x="296.8" y="311.6" font-size="6.9" font-weight="bold" text-anchor="middle" textLength="46.4" lengthAdjust="spacingAndGlyphs" stroke="#000" stroke-width="0.22">miR-217 mimic</text>
<text transform="translate(72.9 344.7) rotate(-90)" font-size="6.6" text-anchor="middle" font-weight="bold" textLength="32" lengthAdjust="spacingAndGlyphs">MIA PaCa-2</text>
<text transform="translate(72.9 403.2) rotate(-90)" font-size="6.6" text-anchor="middle" font-weight="bold" textLength="17" lengthAdjust="spacingAndGlyphs">PANC-1</text>
<rect x="74" y="468" width="64.0" height="50.0" fill="#c6c6d5"/><svg x="74" y="468" width="64.0" height="50.0" viewBox="74 468 64.0 50.0" overflow="hidden"><g filter="url(#bl)"><path d="M95.9 497.3h0M104.6 501.6h0M80.5 471.1h0M122.1 468.4h0M111.3 517.4h0M80.2 494.1h0M74.5 498.1h0M137.2 506.1h0M133.7 491.7h0M95.6 489.5h0M97.7 512.5h0M138.0 508.8h0M134.2 501.3h0M98.2 470.9h0M96.8 484.5h0M80.4 490.8h0M118.7 504.3h0M130.8 474.9h0M112.5 511.5h0M91.9 503.0h0M126.2 486.4h0M113.6 500.9h0M104.4 488.7h0M86.0 517.3h0M135.3 508.6h0M75.1 486.0h0M76.9 508.4h0M94.8 490.2h0M112.8 488.0h0M113.2 472.1h0M101.4 514.6h0M133.6 517.3h0M128.9 513.3h0M121.0 482.7h0M86.5 475.2h0M107.3 496.6h0M128.8 493.2h0M82.2 507.8h0M93.3 501.7h0M109.1 511.7h0M84.8 490.3h0M81.4 501.1h0M89.4 478.6h0M122.2 501.0h0M79.7 489.7h0M119.8 476.0h0M133.5 513.1h0M123.0 479.0h0M90.5 491.8h0M131.4 474.2h0M82.7 494.7h0M120.4 472.5h0M118.3 511.6h0M133.6 506.3h0M112.4 500.2h0M98.1 503.9h0M121.1 487.1h0M115.1 496.1h0M128.8 508.4h0M88.3 473.8h0M79.6 472.5h0M121.4 514.9h0M121.7 473.8h0M97.5 510.7h0M135.1 496.8h0M74.1 471.1h0M108.3 510.4h0M136.7 484.0h0M97.4 502.0h0M125.0 494.0h0M112.5 479.1h0M99.3 494.9h0M103.5 475.2h0M134.3 509.9h0M106.0 490.8h0M112.5 475.3h0M116.6 508.1h0M119.0 497.9h0M93.8 517.5h0M81.9 517.8h0M119.2 491.9h0M127.0 492.8h0M119.1 486.8h0M136.8 484.7h0M127.0 478.5h0M120.9 508.5h0M118.8 470.6h0M129.4 477.0h0M105.2 487.6h0M137.0 501.0h0M128.3 517.6h0M109.1 484.9h0M117.4 517.5h0M122.5 487.6h0M107.8 482.2h0M118.6 477.8h0M128.8 487.7h0M82.4 505.6h0M111.1 508.3h0M128.4 503.5h0M103.3 476.2h0M82.8 502.8h0M92.6 475.2h0M88.0 505.4h0M121.1 468.5h0M120.5 496.8h0M117.4 517.4h0M83.4 515.5h0M101.3 510.1h0M133.3 472.8h0M136.3 477.0h0M77.4 517.0h0M115.6 497.7h0M136.1 499.3h0M99.9 469.7h0M89.4 492.4h0M118.0 515.7h0M115.8 486.8h0M118.3 507.8h0M116.1 506.9h0M129.4 500.5h0M91.6 500.7h0M97.5 474.0h0M79.3 492.5h0M116.8 493.5h0M75.5 496.6h0M110.6 481.7h0M121.7 507.7h0M85.6 492.2h0M115.3 489.7h0M110.6 473.0h0M78.1 513.4h0M124.9 477.2h0M126.0 469.0h0M109.6 494.8h0M126.0 492.4h0M107.2 497.2h0M119.7 507.5h0M81.9 505.6h0M135.8 512.9h0M85.6 498.0h0M85.5 495.7h0M125.2 474.2h0M82.2 478.3h0M84.3 496.1h0M128.5 469.8h0M136.7 493.3h0M97.3 495.2h0M101.1 515.3h0M74.0 483.0h0M134.6 494.0h0M124.1 501.0h0M102.5 496.9h0M118.5 494.1h0M137.1 485.6h0M108.4 478.5h0M80.3 509.0h0M89.2 477.4h0M93.2 509.6h0M135.3 498.1h0M87.8 486.0h0M82.2 499.1h0M78.8 480.7h0M98.4 513.2h0M99.6 472.2h0M90.3 489.3h0M118.4 494.8h0M78.5 504.6h0M137.7 502.8h0M86.3 486.6h0M116.1 509.0h0M112.7 489.0h0M83.8 517.6h0M101.8 469.3h0M112.6 471.9h0M82.0 473.5h0M109.1 471.3h0M115.0 486.1h0M95.3 481.7h0M129.6 479.3h0M74.6 486.9h0M136.0 486.9h0M80.7 514.3h0M85.2 504.4h0M93.6 509.1h0M105.3 494.4h0M118.8 511.3h0M109.3 498.4h0M131.4 476.5h0M134.6 487.5h0M96.1 505.1h0M136.0 494.6h0M112.1 510.5h0M104.5 474.4h0M74.6 493.7h0M84.0 474.3h0M98.2 504.8h0M77.4 504.3h0M136.4 503.4h0M89.9 498.4h0M119.2 477.2h0M137.1 507.9h0M106.1 481.8h0M101.4 515.1h0M130.4 508.7h0M93.5 510.9h0M134.6 488.3h0M94.0 472.5h0M79.1 504.5h0M134.5 476.3h0M77.7 505.2h0M109.5 492.6h0M130.0 516.1h0M101.1 493.4h0M120.8 492.0h0M107.0 517.9h0M130.8 502.9h0M100.0 498.8h0M132.3 505.3h0M119.7 503.1h0M122.0 480.2h0M121.3 515.5h0M126.7 512.0h0M107.8 498.5h0M112.9 516.2h0M117.2 512.1h0M107.5 479.3h0M78.8 510.0h0M106.9 515.6h0M101.1 487.0h0M97.9 473.7h0M132.5 480.5h0M108.5 506.3h0M81.5 483.0h0M92.8 478.7h0M121.2 496.4h0M87.9 483.2h0M133.7 500.1h0M126.8 469.8h0M103.6 498.9h0M105.2 485.8h0M113.4 484.4h0M96.6 468.3h0M131.0 477.3h0M96.7 473.1h0M105.5 472.2h0M106.9 475.7h0M81.9 492.4h0M84.0 500.8h0M88.5 487.8h0M93.2 489.4h0M85.7 508.6h0M81.0 489.9h0M127.7 476.1h0M96.6 489.7h0M97.0 511.5h0M86.7 477.5h0M76.6 487.7h0M121.6 513.0h0M84.3 477.9h0M104.7 501.3h0M91.0 489.1h0M109.2 508.0h0M119.7 484.2h0M122.9 512.1h0M106.1 514.2h0M128.0 487.4h0M81.0 473.4h0M75.4 475.8h0M106.0 506.4h0M89.1 501.9h0M95.9 516.8h0M121.2 489.7h0M92.5 492.3h0M122.7 480.4h0M83.8 493.6h0M90.0 506.3h0M129.3 517.7h0M89.8 509.0h0M86.7 503.3h0M125.8 503.1h0M106.1 477.1h0M137.5 497.6h0M114.6 479.5h0M82.5 469.9h0M137.4 514.5h0M101.3 498.8h0M79.8 470.5h0M100.1 483.3h0M114.5 479.6h0M95.5 492.0h0M106.6 500.2h0M93.5 481.5h0M92.0 485.6h0M100.8 484.0h0M77.0 470.0h0M77.3 505.2h0M87.6 491.6h0M132.1 473.0h0M85.8 515.4h0M97.3 483.2h0M80.2 468.7h0M109.3 511.1h0M95.2 505.1h0M97.1 506.9h0M107.8 486.6h0M115.6 478.5h0M98.6 512.4h0M82.4 505.1h0M81.7 497.3h0M132.4 500.7h0M86.2 503.2h0M133.2 471.7h0M109.0 485.1h0M120.4 517.5h0M86.9 504.0h0M76.8 477.6h0M109.2 480.6h0M130.1 510.7h0M132.0 516.8h0M131.3 490.4h0M119.9 513.5h0M78.3 489.0h0M133.6 493.2h0M75.4 498.0h0M118.6 474.4h0M76.9 496.3h0M124.8 502.7h0M121.4 487.9h0M117.8 511.5h0M136.2 476.3h0M122.0 487.2h0M123.9 488.0h0M91.4 477.2h0M84.2 478.9h0M118.6 512.0h0M124.6 490.8h0M119.3 494.3h0M93.4 479.0h0M119.3 495.6h0M85.0 470.3h0M89.2 470.0h0M83.5 512.2h0M133.3 481.5h0M124.6 500.1h0M89.9 509.2h0M108.2 468.1h0M96.2 498.3h0M97.6 472.2h0M119.1 495.5h0M120.2 488.4h0M113.1 484.2h0M77.7 508.8h0M126.7 479.0h0M135.8 476.8h0M136.2 494.9h0M136.6 506.9h0M124.0 473.3h0M121.7 487.1h0M115.8 511.5h0M114.6 495.5h0M126.3 479.0h0M91.2 497.1h0M125.7 505.6h0M84.0 479.6h0M120.5 486.4h0M131.7 472.7h0M85.6 477.3h0M129.2 477.4h0M105.4 504.5h0M115.4 469.1h0M84.4 476.9h0M99.2 498.4h0M78.4 471.6h0M89.7 513.5h0M136.1 473.0h0M107.7 504.3h0M125.7 498.2h0M98.2 469.0h0M126.9 506.2h0M115.2 470.2h0M89.9 472.2h0M83.1 499.4h0M74.9 516.3h0M135.3 473.3h0M121.1 484.9h0M119.3 478.1h0M104.7 496.1h0M102.4 476.2h0M95.2 475.7h0M77.6 502.6h0M114.2 474.2h0M126.8 473.1h0M93.0 493.6h0M127.5 475.1h0M132.4 469.2h0M101.3 475.4h0M115.9 479.3h0M130.3 487.2h0M130.6 509.1h0M81.2 476.5h0M81.0 473.1h0M135.2 485.9h0M113.4 473.9h0M133.1 514.0h0M131.3 498.2h0M85.4 494.5h0M112.4 502.0h0M83.6 501.4h0M93.3 508.9h0M96.3 473.2h0M132.6 501.1h0M133.7 508.5h0M119.5 471.8h0M74.1 514.7h0M83.5 500.8h0M94.5 487.5h0M120.2 507.3h0M104.6 471.4h0M111.0 516.0h0" stroke="#2a2a40" stroke-width="0.65" stroke-linecap="round" opacity="0.42"/><path d="M90.5 469.0l.6 3.8l2.0 3.2l-.6-3.8zM123.9 503.1l-2.0-.6l-2.1 .7l2.1 .6zM113.0 471.4l3.3 1.4l3.4-.8l-3.2-1.4zM76.6 470.6l2.0 2.2l3.0 .3l-2.0-2.2zM120.7 502.5l.1 3.2l1.6 2.7l-.1-3.2zM126.0 502.0l-2.3 .1l-1.7 1.5l2.3-.1zM111.6 506.7l-2.9 2.3l-1.5 3.3l2.9-2.2zM81.6 515.6l2.0 2.1l2.9-.1l-2.0-2.0zM128.1 490.3l-2.4 .3l-1.4 2.0l2.4-.3zM119.7 483.2l2.6 1.2l2.9-.6l-2.7-1.3zM133.8 495.8l2.6 1.4l2.9-.6l-2.6-1.4zM133.7 466.2l0 2.4l1.4 2.0l.1-2.5zM118.6 503.2l3.2 2.1l3.8 .1l-3.2-2.0zM122.3 469.9l-1.6 3.0l-.2 3.4l1.6-3.0zM97.9 506.3l-2.4 .2l-1.7 1.8l2.4-.3zM131.8 504.5l-1.5 2.0l-.1 2.5l1.5-2.0zM105.9 515.5l2.9 1.6l3.3 .3l-2.9-1.6zM131.7 475.5l1.8 1.4l2.3-.2l-1.8-1.4zM85.5 473.0l-2.8 .6l-2.2 1.8l2.8-.6zM116.4 498.5l-3.1 1.0l-2.3 2.4l3.1-1.1zM126.8 482.1l1.6 1.2l2.0-.4l-1.6-1.2zM106.0 471.9l-2.7-.1l-2.1 1.7l2.7 .1zM82.2 502.2l-3.4 1.5l-1.9 3.2l3.4-1.5zM97.3 480.9l-2.9 2.5l-1.5 3.5l2.9-2.5zM92.6 468.2l-1.6 1.3l0 2.0l1.6-1.2zM75.0 495.9l0 2.6l2.0 1.7l0-2.6zM106.2 467.8l-2.8 2.3l-1.0 3.5l2.9-2.3zM132.4 492.7l-3.0 .9l-2.2 2.2l3.0-.9zM130.2 482.3l.8 3.2l2.1 2.5l-.8-3.2zM96.6 474.5l-2.6 .4l-2.0 1.7l2.6-.4zM105.7 508.3l-.5 3.2l1.3 2.9l.6-3.2zM94.0 494.2l2.1 1.9l2.9 0l-2.1-1.9zM138.3 506.7l-1.5 1.3l.3 1.9l1.5-1.2zM75.7 480.1l-.4 2.5l1.1 2.3l.4-2.5zM88.2 491.0l-2.0-.6l-1.4 1.5l2.0 .7zM125.3 500.3l.6 3.2l1.8 2.7l-.6-3.2zM93.8 510.7l-2.3 .4l-1.1 2.1l2.4-.4zM87.3 511.9l1.9 1.7l2.4 .6l-1.8-1.8zM87.8 470.3l-1.6 2.1l.2 2.7l1.6-2.1zM120.4 512.8l-1.8 .6l-.5 1.8l1.8-.6zM105.2 498.8l-2.4 0l-2.0 1.5l2.5 0zM92.3 511.9l-1.7 2.6l.3 3.0l1.6-2.5zM105.0 497.2l-1.9-.2l-1.4 1.3l1.9 .2zM105.5 482.7l-.7 3.4l.9 3.4l.7-3.4zM78.1 514.4l-.3 1.9l1.6 1.2l.3-1.9zM106.4 474.1l2.0 2.7l3.2 .9l-2.0-2.7zM73.8 492.9l1.3 1.7l2.1-.4l-1.3-1.7zM92.9 476.7l1.3 3.1l2.9 1.6l-1.3-3.1zM136.9 483.5l-2.5 1.4l-1.3 2.5l2.5-1.4zM78.5 474.8l-1.3 1.3l.5 1.7l1.2-1.2zM123.3 499.9l3.6 1.2l3.7-.5l-3.6-1.2zM95.7 505.5l-1.7 1.7l-.5 2.4l1.7-1.7zM122.8 472.2l.6 2.2l1.7 1.6l-.6-2.2zM83.2 480.7l-3.1 .2l-2.1 2.2l3.1-.2zM129.4 486.4l1.0 3.1l2.4 2.3l-1.0-3.1zM121.9 491.5l3.1 2.2l3.8 .6l-3.1-2.2zM120.9 478.6l-1.4 3.0l.3 3.3l1.4-3.0zM78.9 486.3l2.8 1.1l2.9-.2l-2.7-1.1zM78.1 482.6l2.2 2.3l3.0 .8l-2.1-2.3z" fill="#1e2266"/><path d="M99.9 500.6l.3 2.6l2.1 1.6l-.3-2.6zM116.1 477.9l-1.2 2.3l.7 2.6l1.1-2.4zM127.2 484.5l-1.5 2.5l.1 2.9l1.6-2.5zM108.1 512.7l1.0 3.5l2.3 2.9l-1.1-3.5zM131.4 508.0l-2.3 .3l-1.6 1.6l2.3-.3zM129.4 478.7l2.8 2.0l3.3 .8l-2.8-2.0zM118.4 485.4l-.4 1.9l1.6 1.0l.5-1.9zM122.9 491.9l-1.7 .7l.1 1.9l1.7-.7zM114.0 477.1l-1.4 1.7l.7 2.1l1.4-1.7zM123.5 499.9l1.7 1.2l2.1-.3l-1.7-1.1zM126.1 469.0l1.9 1.3l2.3-.4l-1.9-1.4zM111.3 508.5l-.5 2.2l1.0 2.1l.5-2.2zM81.6 500.8l-2.6 2.6l-.7 3.6l2.6-2.6zM85.5 513.8l-2.1 1.9l-.3 2.8l2.1-1.9zM81.4 498.3l1.9 2.1l2.8 .2l-1.9-2.1zM125.8 479.9l-2.7 .2l-2.0 1.7l2.6-.2zM130.4 513.0l-2.0 .1l-1.2 1.6l2.0-.1zM100.4 501.1l-2.7 .3l-2.2 1.7l2.8-.3zM113.7 470.8l.3 1.8l1.7 .9l-.3-1.9zM103.6 500.8l-.1 2.1l1.7 1.2l.1-2.1zM95.7 467.7l2.9 1.7l3.4-.1l-2.9-1.7zM116.0 481.5l-3.4 1.9l-1.7 3.5l3.3-1.9zM135.7 485.7l-.2 2.7l1.0 2.6l.3-2.8zM79.2 488.1l2.4 2.9l3.3 1.8l-2.4-2.9zM100.0 493.6l.1 2.0l1.6 1.3l-.1-2.0zM134.7 496.8l1.5 1.1l1.6-.9l-1.5-1.2zM100.4 474.2l.2 3.0l1.9 2.3l-.2-3.0zM120.1 489.4l-2.3-.4l-1.9 1.4l2.3 .4zM105.1 502.1l-.1 3.7l1.4 3.4l0-3.7zM129.1 508.6l-2.9-.4l-2.8 1.1l3.0 .5zM91.1 515.7l-2.2 .2l-1.1 1.8l2.1-.2zM108.5 472.9l1.9 2.5l3.1 .5l-1.9-2.5zM107.1 488.1l-1.1 1.7l1.1 1.7l1.0-1.7zM124.7 507.3l-1.3 2.7l.3 3.0l1.3-2.7zM110.7 478.1l-3.1 1.4l-1.8 2.9l3.1-1.4zM130.5 507.4l1.3 1.6l1.9 .4l-1.2-1.5zM112.6 465.9l-1.0 3.7l1.4 3.7l.9-3.8zM107.9 486.4l-1.7 1.2l-.4 2.0l1.6-1.2zM90.4 485.3l.7 2.9l2.4 1.8l-.7-2.9zM137.5 489.9l-3.1 1.9l-1.8 3.1l3.1-1.9zM112.9 496.1l.1 2.6l1.8 2.0l-.1-2.7zM125.8 510.3l-1.7 2.4l0 2.8l1.6-2.3zM96.1 484.6l-1.9 2.2l-.5 2.8l1.9-2.1zM136.6 511.5l-.4 2.4l1.7 1.7l.4-2.4zM129.9 469.1l2.6 1.5l3.0 .2l-2.6-1.5zM115.9 486.3l-3.1 .6l-2.4 2.2l3.2-.6z" fill="#2d3488"/></g></svg>
<rect x="139" y="468" width="65.0" height="50.0" fill="#c6c6d5"/><svg x="139" y="468" width="65.0" height="50.0" viewBox="139 468 65.0 50.0" overflow="hidden"><g filter="url(#bl)"><path d="M197.6 486.4h0M197.7 517.5h0M199.7 511.4h0M155.9 507.2h0M146.2 515.4h0M143.9 484.5h0M178.8 508.6h0M156.5 476.5h0M148.0 491.0h0M147.2 511.1h0M187.9 512.4h0M201.8 488.7h0M168.0 474.1h0M173.3 496.9h0M182.0 516.8h0M159.9 504.5h0M153.7 481.2h0M158.3 472.1h0M175.3 511.6h0M181.9 504.8h0M152.4 471.9h0M202.2 471.0h0M139.9 478.8h0M192.2 477.4h0M145.8 478.4h0M177.4 494.4h0M194.8 506.0h0M159.3 490.7h0M149.0 493.2h0M198.4 478.9h0M162.6 516.8h0M195.4 493.7h0M189.7 477.4h0M157.1 476.2h0M159.0 511.5h0M181.1 475.4h0M196.0 505.3h0M154.6 512.7h0M151.2 469.4h0M182.0 490.6h0M156.3 514.3h0M144.5 489.6h0M148.8 493.1h0M172.0 470.7h0M156.7 472.9h0M181.2 504.6h0M166.5 482.7h0M165.2 497.7h0M173.4 492.7h0M167.2 502.1h0M181.0 515.9h0M153.3 470.7h0M141.3 481.3h0M143.3 473.1h0M153.7 499.0h0M185.5 487.6h0M145.6 504.7h0M196.2 481.4h0M152.4 507.3h0M161.6 482.4h0M177.8 504.7h0M145.1 493.2h0M184.5 491.8h0M158.8 513.3h0M154.5 483.8h0M143.5 477.4h0M197.5 475.1h0M139.8 491.7h0M160.7 476.9h0M156.1 471.8h0M183.1 510.7h0M177.6 516.5h0M176.9 492.4h0M155.1 473.5h0M192.2 496.4h0M203.4 509.8h0M173.1 476.4h0M148.5 472.7h0M158.8 504.8h0M168.4 504.7h0M203.3 480.9h0M170.6 486.2h0M139.9 485.6h0M185.2 512.6h0M189.3 510.8h0M197.6 497.8h0M146.3 502.3h0M186.3 469.0h0M202.6 510.8h0M181.9 475.1h0M171.4 480.2h0M187.2 516.7h0M162.4 505.2h0M151.6 515.7h0M180.5 516.3h0M196.0 501.9h0M197.4 490.5h0M201.3 494.3h0M156.2 502.0h0M196.7 487.6h0M166.1 517.7h0M159.1 470.1h0M172.8 485.2h0M178.8 489.7h0M168.6 516.4h0M190.5 482.4h0M202.0 492.9h0M183.6 491.3h0M148.8 516.3h0M179.5 501.2h0M158.7 482.4h0M191.0 468.8h0M141.7 482.2h0M177.5 470.7h0M158.9 489.5h0M181.9 468.0h0M155.3 485.5h0M157.4 511.0h0M182.2 506.4h0M149.1 472.3h0M156.6 517.8h0M151.8 497.3h0M144.2 478.9h0M169.8 485.7h0M191.8 499.9h0M166.5 516.3h0M145.4 481.1h0M158.6 483.5h0M175.7 501.9h0M160.0 496.9h0M183.4 478.0h0M147.8 495.7h0M158.6 472.3h0M175.8 499.4h0M174.5 486.8h0M195.9 489.8h0M148.0 490.1h0M159.4 514.7h0M185.3 491.4h0M166.8 489.0h0M165.7 469.4h0M175.3 515.9h0M166.4 505.8h0M179.0 483.1h0M154.8 493.6h0M147.3 495.2h0M175.8 482.7h0M188.1 487.6h0M165.2 468.3h0M191.5 511.7h0M168.9 470.7h0M142.6 509.5h0M181.2 484.7h0M145.3 482.5h0M170.3 484.6h0M143.0 505.0h0M182.8 505.0h0M142.4 478.3h0M148.4 505.0h0M171.2 479.2h0M182.9 510.6h0M158.6 483.5h0M203.3 468.3h0M170.5 502.4h0M146.5 468.0h0M178.2 474.1h0M145.3 478.2h0M169.8 509.6h0M167.8 470.8h0M146.9 488.2h0M202.9 509.0h0M193.7 495.3h0M192.4 502.1h0M194.9 498.9h0M167.1 499.8h0M151.0 508.9h0M181.7 476.5h0M187.2 495.3h0M170.0 482.5h0M182.4 516.0h0M171.0 501.4h0M164.4 502.9h0M146.0 488.8h0M166.6 469.4h0M168.7 496.2h0M139.7 483.1h0M180.9 512.7h0M179.3 470.1h0M198.0 516.1h0M169.4 504.2h0M157.0 517.1h0M162.3 510.8h0M171.7 485.4h0M184.9 487.5h0M143.1 500.8h0M161.9 504.0h0M161.1 503.8h0M190.1 481.9h0M188.6 483.1h0M164.6 513.8h0M180.9 486.8h0M169.7 500.9h0M176.4 514.4h0M189.4 494.3h0M147.4 484.2h0M201.1 485.4h0M179.1 488.2h0M141.9 510.6h0M149.3 472.8h0M145.9 514.7h0M170.0 506.0h0M202.8 508.4h0M186.6 479.8h0M197.5 476.7h0M197.0 505.8h0M166.3 471.2h0M178.8 473.7h0M194.0 471.6h0M188.6 498.3h0M193.6 514.2h0M159.9 502.9h0M163.5 517.4h0M176.3 478.0h0M155.4 489.9h0M157.6 478.1h0M149.5 508.7h0M191.6 477.6h0M176.8 499.5h0M182.5 478.2h0M191.7 512.7h0M162.4 488.4h0M174.5 471.6h0M151.0 504.5h0M198.2 500.1h0M171.3 509.6h0M176.1 491.7h0M161.9 498.9h0M175.3 474.9h0M143.4 489.4h0M163.4 471.5h0M144.1 507.1h0M158.4 473.9h0M154.0 498.1h0M160.5 479.2h0M200.1 514.1h0M155.3 503.2h0M143.4 511.6h0M201.9 471.7h0M176.4 510.7h0M199.6 493.0h0M164.9 470.8h0M184.3 473.5h0M169.6 513.9h0M156.1 469.5h0M161.0 481.0h0M160.7 506.2h0M148.1 495.4h0M186.7 514.2h0M182.1 511.9h0M154.3 471.6h0M200.6 513.2h0M184.7 506.3h0M141.3 517.1h0M200.7 497.9h0M178.8 472.0h0M174.8 515.3h0M156.6 470.1h0M141.3 493.4h0M181.3 489.6h0M158.7 510.5h0M202.1 469.1h0M142.6 506.7h0M191.7 494.7h0M194.9 502.1h0M187.0 495.6h0M142.4 506.3h0M184.2 489.5h0M166.7 474.9h0M167.5 512.9h0M202.9 486.4h0M151.6 489.8h0M142.8 479.6h0M177.3 479.4h0M187.6 512.4h0M190.6 496.4h0M203.4 468.7h0M185.8 508.6h0M144.0 474.3h0M150.7 470.2h0M161.7 500.8h0M154.9 482.6h0M178.4 491.9h0M147.0 471.8h0M155.3 495.2h0M171.2 504.8h0M162.2 513.8h0M153.3 503.7h0M200.2 507.0h0M158.0 500.7h0M173.2 481.4h0M184.4 493.2h0M142.5 513.0h0M184.9 499.1h0M157.2 478.2h0M147.9 516.8h0M154.0 505.1h0M152.7 486.6h0M192.1 475.1h0M202.6 502.9h0M181.2 490.7h0M146.4 492.9h0M141.2 481.9h0M164.0 509.4h0M144.5 482.0h0M178.6 492.8h0M195.1 487.2h0M141.9 478.3h0M151.0 489.6h0M142.4 483.3h0M174.2 485.4h0M140.7 498.4h0M197.1 514.1h0M198.0 508.5h0M177.4 505.9h0M161.2 509.5h0M167.2 489.4h0M186.4 504.8h0M142.7 473.5h0M164.2 504.1h0M183.1 510.9h0M200.0 491.2h0M176.2 496.4h0M172.7 476.1h0M163.8 505.3h0M199.1 474.6h0M140.0 508.0h0M200.8 472.3h0M155.2 495.1h0M160.9 487.7h0M179.0 486.1h0M181.8 507.1h0M191.7 498.4h0M147.1 496.4h0M159.9 481.2h0M150.6 491.1h0M167.6 491.3h0M201.8 492.0h0M193.9 478.9h0M142.8 514.9h0M157.0 498.5h0M159.4 471.2h0M150.7 506.3h0M156.9 511.5h0M147.3 499.5h0M148.5 498.9h0M142.2 473.7h0M141.5 502.2h0M194.9 497.0h0M141.7 503.9h0M143.0 503.7h0M155.8 480.9h0M183.1 510.9h0M162.0 503.9h0M178.0 485.5h0M144.0 490.2h0M172.2 479.8h0M160.2 486.6h0M192.5 488.8h0M180.7 511.8h0M148.3 484.3h0M190.2 484.7h0M165.5 500.6h0M169.6 516.7h0M179.4 476.0h0M141.9 514.5h0M198.3 469.3h0M178.6 508.4h0M172.2 507.0h0M172.0 497.1h0M161.4 478.7h0M193.0 469.6h0M186.2 487.1h0M203.9 471.9h0M144.0 514.8h0M153.6 493.2h0M176.3 495.4h0M166.2 504.7h0M194.1 494.4h0M142.3 491.6h0M173.1 490.1h0M156.5 509.8h0M158.0 480.2h0M154.8 506.4h0M162.5 490.8h0M187.6 473.8h0M154.7 504.6h0M196.2 486.1h0M161.9 493.3h0M198.5 500.7h0M178.3 490.4h0M166.2 496.5h0M192.7 474.3h0M173.9 506.8h0M165.5 497.2h0M148.0 481.0h0M157.6 483.7h0M144.3 489.1h0M202.9 496.8h0M180.1 506.6h0M197.5 511.8h0M140.0 474.0h0M156.1 495.7h0M199.5 505.1h0M147.2 469.7h0M167.0 502.5h0M203.3 474.6h0M195.3 513.9h0M197.8 485.7h0M165.2 495.8h0M185.3 474.0h0" stroke="#2a2a40" stroke-width="0.65" stroke-linecap="round" opacity="0.42"/><path d="M200.2 512.9l-2.8-.9l-2.9 1.0l2.9 .9zM166.3 489.5l-2.8-.5l-2.4 1.4l2.8 .5zM204.2 493.3l-3.2 1.1l-2.5 2.2l3.2-1.1zM157.6 470.4l-.5 3.2l1.6 2.9l.5-3.2zM152.6 509.9l3.1 2.3l3.9 .4l-3.1-2.3zM144.2 504.5l-.9 3.1l.8 3.2l.8-3.1zM193.4 468.6l2.4 1.8l2.9 .6l-2.4-1.8zM136.9 469.9l1.9 2.1l2.8 .8l-2.0-2.1zM189.9 479.2l-2.5 2.8l-1.1 3.6l2.5-2.8zM168.5 506.5l1.3 2.4l2.5 1.1l-1.3-2.4zM174.4 510.3l-2.9 1.6l-2.0 2.7l2.9-1.6zM162.0 486.9l-2.6-.1l-2.2 1.5l2.6 .1zM150.8 475.6l-2.1 2.3l.1 3.1l2.0-2.3zM198.5 503.6l-1.1 2.7l.8 2.8l1.1-2.7zM200.1 484.2l-2.1-.6l-1.8 1.3l2.1 .7zM140.2 513.3l-.8 1.8l1.0 1.7l.7-1.8zM156.5 477.1l1.5 3.0l2.7 1.9l-1.5-3.0zM188.8 499.4l.4 2.0l2.0 .7l-.4-2.0zM157.6 482.2l1.2 2.4l2.3 1.6l-1.3-2.4zM172.9 489.7l1.9 3.1l3.2 1.8l-1.9-3.1zM169.1 486.9l1.9 1.7l2.5-.1l-1.9-1.7zM174.0 476.9l1.2 3.1l2.4 2.3l-1.2-3.2zM189.3 505.3l-2.0 2.1l-.5 2.7l2.0-2.0zM181.8 492.9l3.0 2.0l3.6-.3l-3.0-1.9zM186.7 484.5l-2.8 1.8l-1.7 2.8l2.8-1.8zM169.0 503.3l.9 2.7l2.4 1.7l-1.0-2.7zM159.2 511.3l-1.9 2.5l-.2 3.2l1.9-2.6zM191.7 474.7l2.6 1.1l2.8-.9l-2.7-1.2zM172.5 483.8l1.0 1.6l1.9-.1l-1.0-1.5zM194.8 495.1l-.3 2.4l1.6 1.8l.3-2.4zM175.3 499.7l-1.7 .8l-.5 1.7l1.6-.8zM158.5 470.9l-3.1 1.5l-1.8 2.9l3.1-1.5zM151.8 475.1l-3.5 .3l-3.1 1.9l3.6-.3zM172.3 487.0l-.8 3.0l.8 3.0l.8-3.0zM174.3 487.7l.3 2.4l1.6 1.8l-.4-2.4zM184.7 468.7l-2.9 1.9l-1.5 3.1l2.9-1.9zM154.0 495.3l-3.5 1.4l-2.3 3.1l3.5-1.4zM163.8 498.8l-2.7 .4l-1.6 2.1l2.6-.4zM194.9 485.1l-2.2 1.7l-1.0 2.7l2.2-1.8zM190.3 469.3l-.4 3.3l1.1 3.1l.4-3.3zM147.0 499.1l-1.2 1.7l.2 2.0l1.2-1.7zM160.5 490.3l-2.0 .5l-1.2 1.7l2.0-.6zM174.8 488.0l.9 2.5l2.5 .9l-1.0-2.4zM200.0 493.0l-2.6-.7l-2.2 1.4l2.5 .7zM201.7 480.3l-.6 3.3l1.4 3.1l.7-3.3zM135.7 474.5l3.2 1.6l3.6 .1l-3.2-1.6zM154.0 471.6l-2.3 .1l-1.3 1.8l2.2-.1zM179.5 508.7l2.6 1.9l3.3-.1l-2.6-1.9zM175.5 504.1l2.8 2.4l3.7 .6l-2.9-2.4zM152.2 487.6l-.4 2.4l1.4 2.0l.5-2.4zM163.8 507.5l-.7 1.8l1.5 1.3l.7-1.8zM184.8 507.6l-2.0 1.7l-.8 2.5l2.0-1.7zM195.4 506.7l-1.1 1.3l.4 1.7l1.1-1.3zM171.3 489.9l-3.3 1.8l-2.2 3.0l3.3-1.8zM155.4 496.9l-.6 3.0l1.5 2.6l.6-2.9zM176.9 474.6l-.5 3.4l1.4 3.2l.6-3.4zM155.7 482.7l-1.3 2.0l.7 2.3l1.4-2.0zM162.9 466.7l-1.6 1.8l.3 2.5l1.6-1.9zM181.3 487.8l-2.1 1.1l-.3 2.4l2.2-1.1zM192.3 506.6l-.5 3.2l1.3 3.0l.5-3.2zM166.7 474.0l-3.8 .4l-3.1 2.3l3.8-.5zM201.9 468.5l-.1 3.7l1.8 3.3l.2-3.8zM203.4 479.4l-3.1 .5l-2.1 2.4l3.1-.5zM156.6 506.3l-2.3 1.0l-1.1 2.2l2.3-1.0zM182.4 479.3l0 2.5l1.3 2.2l0-2.5zM153.5 495.6l2.3 3.0l3.4 1.7l-2.3-3.0zM177.9 484.3l2.3 1.2l2.4-1.0l-2.3-1.2zM174.7 483.5l-.3 2.3l1.9 1.3l.2-2.3zM158.1 500.9l.9 1.6l1.8 0l-.9-1.6zM167.3 516.3l-1.4 1.3l.9 1.8l1.3-1.4zM155.9 513.2l-2.0 0l-1.2 1.6l2.0 .1zM159.6 492.4l-1.0 2.4l1.1 2.4l1.0-2.4zM202.3 495.3l.7 3.3l2.6 2.1l-.7-3.3zM178.5 493.9l2.5 2.6l3.5 .7l-2.5-2.6zM193.9 473.7l1.0 3.7l2.8 2.4l-.9-3.6zM191.6 514.2l-1.5 2.3l-.2 2.7l1.5-2.3zM196.3 475.9l2.5 1.2l2.6-1.1l-2.5-1.2zM179.3 510.5l3.4 1.9l3.9-.3l-3.4-1.8zM190.4 483.4l-2.2 2.4l-.6 3.1l2.2-2.3zM148.6 473.8l-2.2 .7l-.8 2.2l2.2-.7zM151.8 487.3l-2.5 .5l-1.1 2.2l2.4-.5zM145.3 498.4l-1.1 1.7l1.2 1.6l1.0-1.7zM176.2 504.9l.9 1.8l1.9 .5l-.9-1.7zM164.1 479.3l-2.1 3.0l-.9 3.6l2.2-3.0zM164.7 481.3l2.4 2.3l3.3 .5l-2.4-2.3zM149.1 483.7l.1 2.1l1.9 1.0l-.1-2.1zM138.2 513.9l1.2 2.1l2.3 .8l-1.2-2.0zM198.2 506.6l-1.3 3.3l.8 3.5l1.3-3.3zM150.9 499.2l.6 2.4l1.8 1.7l-.6-2.4zM178.1 494.4l-3.3-.8l-3.0 1.4l3.2 .8zM187.1 482.9l2.5 1.7l3.0 .4l-2.5-1.8zM179.4 489.4l-1.4 1.1l.5 1.8l1.4-1.2zM200.3 490.2l-.9 2.3l1.3 2.1l.9-2.3zM155.0 512.6l.6 2.7l2.4 1.5l-.6-2.7zM160.0 482.6l-.1 3.3l1.6 2.9l.1-3.3zM149.5 477.9l2.1 1.9l2.9-.2l-2.2-1.9zM163.3 491.7l-3.2-.6l-3.0 1.2l3.2 .6zM148.6 472.6l-3.0 1.4l-1.9 2.7l3.0-1.4zM146.8 474.9l1.9 1.3l2.3-.1l-1.9-1.3zM175.0 504.5l.5 2.2l2.0 1.1l-.5-2.2zM197.5 486.8l-.4 3.5l1.1 3.4l.4-3.5zM162.8 499.7l-2.7 1.7l-1.6 2.7l2.7-1.7z" fill="#1e2266"/><path d="M186.6 483.3l-.4 2.6l1.2 2.4l.4-2.7zM159.1 490.6l-1.8 .7l-.9 1.7l1.9-.6zM198.5 469.0l.5 3.6l2.3 2.9l-.5-3.7zM159.0 482.4l-1.8 2.4l.4 3.0l1.8-2.4zM164.7 483.2l1.7 1.6l2.3 .3l-1.7-1.6zM187.2 515.5l-1.3 1.7l.4 2.1l1.3-1.7zM145.1 480.5l-.4 1.9l1.1 1.6l.4-1.9zM161.4 513.0l-3.9-.1l-3.3 1.9l3.8 .1zM144.8 478.1l3.3 1.3l3.4-.7l-3.2-1.3zM152.4 512.3l-1.2 2.7l.8 2.9l1.2-2.8zM178.2 490.9l.9 3.3l2.7 2.1l-1.0-3.2zM170.1 513.0l-3.3 .9l-2.5 2.2l3.3-.8zM202.1 500.5l-2.1 .6l-1.4 1.7l2.2-.5zM160.5 476.4l-3.6 .5l-2.7 2.5l3.7-.5zM156.0 484.2l-.8 2.9l1.1 2.7l.8-2.8zM150.6 481.0l-.7 2.1l.9 1.9l.7-2.0zM162.1 485.0l2.2 1.5l2.6 .3l-2.1-1.6zM170.3 482.5l-1.9 .8l-.2 2.0l1.8-.8zM185.4 481.8l.2 3.4l1.7 3.0l-.2-3.4zM175.3 468.1l2.7 1.9l3.3-.2l-2.7-1.8zM149.9 474.1l1.3 2.6l2.8 1.0l-1.4-2.6zM140.6 504.0l3.2 1.0l3.2-.7l-3.1-1.0zM175.7 473.8l2.0 2.7l3.2 .9l-2.0-2.6zM153.7 500.1l2.2 1.5l2.7 0l-2.2-1.5zM202.8 485.9l-1.2 1.8l.4 2.2l1.2-1.9zM157.4 506.6l2.8 2.5l3.6 1.2l-2.9-2.4zM170.7 478.7l-.8 1.9l1.1 1.7l.8-1.9zM146.0 484.0l2.8 .9l2.7-.8l-2.7-.9zM166.1 515.8l.9 1.6l1.8 0l-.9-1.5zM182.2 472.6l-1.6 2.2l-.3 2.8l1.7-2.2zM175.2 480.0l-2.7-.5l-2.3 1.7l2.8 .5zM145.7 469.3l2.6 2.7l3.5 1.4l-2.6-2.7zM173.4 477.1l1.0 2.9l2.8 1.5l-1.1-2.9zM191.1 496.8l-2.4-.1l-1.5 1.8l2.4 .1zM166.6 475.5l2.8 2.0l3.5-.2l-2.8-2.0zM174.1 484.9l.6 2.5l2.0 1.4l-.5-2.4zM176.8 511.6l-3.5-.5l-3.2 1.7l3.5 .5zM187.4 508.3l-2.7 1.0l-1.7 2.4l2.8-1.0zM184.5 504.4l-2.0-.9l-2.0 .9l2.0 .9zM163.3 473.8l-.1 3.2l1.3 3.1l0-3.3zM138.2 482.3l.6 1.8l1.8 .6l-.6-1.8zM176.3 469.4l2.0 1.2l2.2-.6l-2.0-1.2zM158.8 497.7l-3.8 .6l-2.9 2.5l3.8-.6zM206.2 498.6l-2.7 .2l-2.1 1.8l2.7-.2zM190.1 469.2l.9 1.7l1.9-.3l-.9-1.6zM193.2 474.2l2.2 1.5l2.6-.6l-2.2-1.5zM140.8 471.3l1.6 2.5l2.9 .6l-1.6-2.5zM142.2 507.2l-2.7 2.2l-1.5 3.2l2.8-2.2zM176.3 512.7l-.3 2.9l1.9 2.2l.3-2.9zM166.2 480.8l1.2 1.8l2.1 .2l-1.2-1.8zM192.4 466.3l.3 2.3l1.7 1.4l-.3-2.2zM181.8 495.6l2.2 1.4l2.7 0l-2.3-1.4zM166.1 470.5l-3.1 .9l-2.4 2.2l3.1-.9zM194.4 477.0l3.0 1.2l3.3-.1l-3.0-1.3zM148.7 473.8l1.4 1.9l2.3 .6l-1.4-1.9zM150.4 479.7l-.7 3.1l.9 3.0l.7-3.1zM191.7 505.8l-1.0 2.0l1.0 1.9l1.0-1.9zM164.2 496.0l-1.5 1.1l.3 1.8l1.5-1.1zM137.4 488.4l1.8 1.6l2.5-.2l-1.9-1.6zM163.0 501.1l-2.4-.2l-1.6 1.8l2.4 .3zM144.4 493.2l-3.7-.7l-3.4 1.5l3.7 .7zM150.3 513.9l1.0 3.1l2.2 2.4l-1.0-3.1zM171.5 483.2l-2.3 1.5l-.7 2.7l2.3-1.5zM191.3 472.9l-3.3 .8l-2.2 2.7l3.4-.8zM167.7 486.5l-1.8 .6l-.5 1.8l1.8-.6zM151.9 495.6l.8 3.2l2.3 2.5l-.8-3.3zM171.9 483.1l-2.6 1.0l-1.6 2.4l2.6-1.1zM172.1 484.5l.8 3.0l2.2 2.3l-.9-3.0zM159.8 473.2l-2.7 .1l-2.2 1.7l2.7-.1zM139.4 504.3l1.8 1.3l2.1-.1l-1.7-1.3zM146.7 475.5l-.9 2.0l.7 2.2l.9-2.1zM188.2 504.9l-1.6 1.7l.2 2.3l1.6-1.7zM161.9 470.1l-2.4 .2l-1.3 2.0l2.4-.2zM159.5 488.7l1.4 2.4l2.6 .7l-1.4-2.3zM184.3 480.6l-1.7-.9l-1.4 1.2l1.6 .9zM150.7 516.3l2.1 2.0l2.8 .7l-2.1-2.0zM186.1 485.7l-.4 2.6l1.6 2.1l.4-2.6zM161.5 485.9l-1.9-.9l-1.5 1.3l1.8 .9zM190.5 487.7l1.6 3.3l2.8 2.3l-1.6-3.2zM160.0 489.4l-.4 2.2l1.8 1.3l.3-2.1zM199.7 487.3l2.3 2.1l3.0 .4l-2.2-2.1zM177.2 490.4l-1.8 .7l-.6 1.8l1.8-.7zM197.9 475.9l-1.5 2.2l-.1 2.6l1.5-2.1zM156.7 502.2l-1.7 1.1l.1 2.1l1.7-1.2zM139.6 489.1l.2 3.2l1.8 2.8l-.3-3.3zM157.4 480.7l-2.3 1.4l-.6 2.6l2.3-1.4zM163.1 498.6l.3 1.7l1.5 .8l-.3-1.7zM154.9 501.0l-.2 3.4l2.1 2.7l.1-3.4zM193.6 491.3l1.1 1.8l2.1 .2l-1.1-1.8zM189.2 504.5l-.4 3.0l1.2 2.9l.4-3.1zM177.0 478.7l-2.0 1.1l-.3 2.3l2.0-1.1zM155.8 500.1l-1.5 2.2l-.2 2.6l1.5-2.2zM148.2 476.5l-3.4 .4l-3.0 1.6l3.4-.3zM142.6 476.6l-.6 2.9l1.2 2.7l.7-2.9zM152.3 493.2l-1.3 1.7l.4 2.2l1.3-1.8zM192.1 471.6l2.3 2.9l3.4 1.1l-2.2-2.8zM148.9 491.2l.7 2.8l2.4 1.5l-.6-2.8zM154.7 479.1l-.3 2.9l1.3 2.5l.3-2.8zM142.9 487.5l-.7 2.3l1.5 2.0l.7-2.3zM171.5 475.1l1.9 2.8l3.2 1.2l-1.9-2.8zM160.4 492.9l-1.3 1.4l.1 1.9l1.4-1.4zM151.9 474.4l-3.4 .5l-2.4 2.4l3.4-.5zM152.1 513.6l-3.5 1.5l-2.3 3.1l3.5-1.5zM165.0 504.0l.1 2.7l2.0 1.6l0-2.6zM201.2 505.4l.6 1.7l1.8 .2l-.6-1.8zM157.0 484.8l.3 2.4l2.0 1.4l-.2-2.4zM179.6 499.7l1.6 3.3l2.9 2.2l-1.6-3.3zM162.2 470.4l.4 3.0l1.9 2.4l-.4-3.0zM187.4 468.7l1.0 3.3l2.6 2.2l-1.0-3.3zM144.4 488.2l2.2 1.2l2.5-.5l-2.2-1.2zM196.8 493.5l1.4 1.0l1.7-.7l-1.5-1.0zM192.0 505.1l-1.9 2.0l-.2 2.8l1.9-2.0zM178.4 514.8l-3.2 1.2l-2.1 2.7l3.2-1.2z" fill="#2d3488"/></g></svg>
<rect x="205" y="468" width="64.0" height="50.0" fill="#c6c6d5"/><svg x="205" y="468" width="64.0" height="50.0" viewBox="205 468 64.0 50.0" overflow="hidden"><g filter="url(#bl)"><path d="M210.6 514.1h0M244.0 517.6h0M253.1 506.4h0M232.6 481.8h0M233.9 512.0h0M252.3 500.5h0M209.7 500.4h0M226.7 494.4h0M249.3 509.0h0M232.7 469.1h0M241.8 468.3h0M258.0 468.9h0M219.4 489.4h0M221.6 479.1h0M248.2 484.3h0M234.3 501.3h0M254.3 496.7h0M227.7 512.0h0M260.5 475.6h0M254.5 478.3h0M216.6 469.3h0M243.5 510.2h0M254.9 495.0h0M266.1 484.4h0M225.2 479.5h0M218.4 483.1h0M232.2 481.6h0M264.9 478.9h0M227.7 474.9h0M262.5 490.0h0M258.4 486.8h0M233.4 505.2h0M252.4 487.0h0M233.6 488.0h0M218.2 487.0h0M257.1 472.6h0M216.2 513.7h0M251.4 474.1h0M253.4 474.0h0M236.3 498.2h0M253.0 483.8h0M217.2 517.3h0M256.2 486.0h0M221.3 473.6h0M234.2 468.4h0M256.4 488.0h0M259.9 485.7h0M265.5 509.8h0M232.8 510.4h0M224.2 518.0h0M210.4 500.2h0M229.9 491.6h0M265.9 481.7h0M246.4 484.2h0M214.0 480.4h0M241.1 474.4h0M215.0 502.8h0M253.8 471.1h0M256.4 511.3h0M247.3 486.6h0M231.6 475.9h0M216.0 514.8h0M266.8 505.1h0M256.9 477.1h0M261.3 473.5h0M215.4 492.9h0M224.6 499.3h0M263.2 481.3h0M225.5 507.2h0M226.2 512.4h0M207.2 511.6h0M263.5 470.3h0M229.1 497.9h0M238.6 475.9h0M206.0 512.9h0M210.9 517.4h0M212.2 491.8h0M267.9 510.8h0M239.4 474.7h0M243.6 499.8h0M224.9 491.5h0M262.8 474.4h0M247.0 486.3h0M244.3 503.8h0M235.6 505.4h0M259.5 477.8h0M219.0 474.5h0M265.3 479.3h0M210.3 472.7h0M230.8 512.3h0M211.7 479.3h0M216.8 501.0h0M226.0 516.7h0M247.8 494.0h0M241.9 512.2h0M253.6 474.6h0M232.0 501.1h0M242.1 514.7h0M207.2 513.3h0M229.6 470.4h0M217.7 477.1h0M214.1 469.7h0M255.9 476.1h0M225.6 496.6h0M236.0 485.2h0M245.2 508.8h0M241.9 490.6h0M218.7 499.1h0M239.9 473.9h0M222.9 506.4h0M264.1 484.9h0M262.1 480.8h0M256.6 492.4h0M240.1 501.2h0M247.8 485.1h0M238.2 471.2h0M228.4 500.1h0M266.7 474.3h0M219.5 490.9h0M212.1 495.5h0M223.9 511.7h0M224.6 489.8h0M268.0 472.1h0M260.5 493.2h0M230.4 515.1h0M268.9 477.7h0M258.8 479.1h0M206.1 504.7h0M227.7 498.0h0M214.7 511.0h0M238.6 508.0h0M228.2 479.5h0M265.6 494.5h0M229.0 473.0h0M215.6 499.7h0M244.6 510.2h0M253.1 475.6h0M265.3 498.5h0M259.9 481.9h0M266.4 515.4h0M224.0 513.0h0M267.2 512.7h0M235.0 474.8h0M265.0 468.0h0M221.1 495.8h0M224.9 514.2h0M244.2 516.0h0M208.8 488.5h0M214.2 509.1h0M253.9 508.3h0M265.9 480.1h0M255.3 500.3h0M230.0 477.7h0M258.4 471.5h0M266.7 481.8h0M262.1 474.2h0M252.3 515.2h0M214.7 490.2h0M248.0 506.0h0M205.7 473.9h0M224.9 473.1h0M245.2 491.6h0M247.3 482.9h0M213.0 505.1h0M234.1 471.5h0M267.7 513.5h0M226.8 481.6h0M268.2 487.1h0M262.0 473.6h0M234.9 497.2h0M261.1 502.6h0M255.8 505.9h0M219.4 473.2h0M268.8 498.2h0M243.3 486.1h0M260.6 501.2h0M258.5 516.2h0M232.0 499.9h0M260.4 482.0h0M251.3 481.8h0M221.1 493.4h0M231.9 509.8h0M267.9 472.2h0M211.5 508.3h0M220.5 492.7h0M242.8 501.3h0M211.7 507.0h0M250.3 496.0h0M258.6 486.8h0M238.2 514.3h0M229.5 498.1h0M242.8 507.7h0M266.1 496.8h0M212.5 506.2h0M228.1 501.6h0M262.8 489.1h0M230.2 505.2h0M227.2 507.4h0M259.5 496.7h0M238.5 515.0h0M257.0 499.4h0M254.8 501.5h0M206.6 496.3h0M206.5 515.3h0M211.3 514.0h0M256.3 504.5h0M259.4 480.7h0M257.4 485.2h0M267.3 480.4h0M233.5 470.4h0M234.3 517.5h0M221.8 507.7h0M218.4 506.5h0M240.0 484.1h0M230.7 485.4h0M257.2 510.2h0M259.8 484.7h0M244.4 505.0h0M258.5 479.4h0M258.0 473.1h0M251.2 500.0h0M225.0 492.9h0M216.9 487.1h0M221.9 503.4h0M227.4 508.3h0M262.3 505.7h0M266.4 484.1h0M212.1 497.1h0M263.2 503.0h0M240.9 505.8h0M239.4 487.9h0M249.5 477.9h0M210.8 497.9h0M261.1 488.2h0M221.9 503.8h0M239.1 487.8h0M264.0 473.2h0M266.2 508.7h0M261.8 482.7h0M241.5 472.1h0M269.0 490.1h0M207.6 495.4h0M247.7 481.7h0M236.6 509.7h0M267.9 480.3h0M219.5 500.4h0M218.8 468.6h0M220.6 469.0h0M244.2 509.9h0M231.5 495.6h0M241.4 488.6h0M259.3 497.0h0M245.1 512.4h0M267.7 505.3h0M250.2 517.1h0M256.4 481.2h0M228.7 513.0h0M265.0 484.0h0M227.9 515.9h0M213.6 511.0h0M268.1 480.3h0M239.4 474.4h0M267.8 507.2h0M237.5 491.8h0M225.1 508.4h0M243.7 504.0h0M250.9 500.2h0M240.5 517.3h0M234.8 496.7h0M208.4 498.9h0M236.8 489.8h0M266.0 476.6h0M240.8 495.9h0M208.7 485.4h0M260.5 475.4h0M248.6 471.3h0M251.0 496.5h0M265.6 504.4h0M250.7 492.5h0M250.1 515.1h0M268.1 478.8h0M233.9 494.9h0M248.2 484.5h0M241.5 511.8h0M265.6 475.2h0M239.5 502.1h0M225.1 468.3h0M244.0 503.6h0M227.9 474.0h0M267.6 498.7h0M238.9 504.5h0M251.9 480.4h0M243.5 505.9h0M216.5 477.1h0M246.6 492.7h0M212.6 472.5h0M265.6 496.7h0M265.7 487.4h0M231.1 502.8h0M213.9 485.2h0M211.1 485.8h0M250.3 512.0h0M237.0 477.2h0M230.7 479.3h0M268.1 499.7h0M226.7 505.6h0M238.5 469.0h0M243.8 517.1h0M208.8 486.7h0M215.8 516.2h0M238.9 468.2h0M229.6 469.4h0M262.9 496.2h0M260.0 515.8h0M217.1 499.0h0M216.6 478.9h0M227.1 511.6h0M263.4 498.0h0M241.7 512.6h0M250.2 512.0h0M216.4 475.4h0M257.4 469.5h0M207.5 494.9h0M266.3 515.0h0M256.7 483.6h0M223.7 485.5h0M216.5 493.9h0M262.6 492.9h0M243.6 517.9h0M263.9 514.9h0M264.4 495.4h0M229.9 490.4h0M212.4 495.7h0M226.7 486.3h0M220.3 508.9h0M217.1 488.2h0M227.9 513.8h0M264.0 508.5h0M263.2 503.4h0M258.7 472.9h0M238.3 501.2h0M225.5 494.4h0M241.8 494.6h0M230.2 495.3h0M217.9 484.0h0M233.7 477.9h0M265.4 489.3h0M232.8 472.1h0M206.5 473.2h0M240.9 498.5h0M224.6 517.6h0M254.3 506.5h0M249.7 494.4h0M207.7 515.3h0M224.7 497.4h0M262.6 495.1h0M246.0 505.0h0M239.2 470.4h0M224.4 477.4h0M266.7 470.6h0M257.8 511.7h0M252.3 494.2h0M216.4 486.5h0M249.7 513.5h0M211.3 515.5h0M262.1 503.6h0M209.7 478.2h0M218.2 500.0h0M206.0 514.1h0M218.2 502.5h0M264.2 468.2h0M220.4 508.7h0M258.2 517.2h0M268.2 509.3h0M228.8 509.9h0M207.9 475.1h0M220.8 501.4h0M261.4 489.1h0M241.5 511.2h0M245.1 478.2h0M261.2 504.8h0M222.4 502.5h0M231.6 488.7h0M222.8 513.1h0M257.3 492.4h0M243.4 499.3h0M230.3 502.8h0M233.7 501.1h0M219.3 499.9h0M212.4 513.1h0M236.3 477.2h0M226.0 515.2h0M221.4 502.0h0M264.6 487.9h0M239.3 482.2h0M241.5 473.4h0M212.6 509.1h0M261.6 515.5h0M240.5 492.9h0M213.1 517.8h0M235.0 473.5h0M219.6 509.7h0M216.8 506.1h0M256.6 480.1h0M244.4 489.9h0M214.1 497.9h0M207.6 514.7h0M254.1 477.4h0M218.5 483.9h0M241.4 515.4h0M226.8 515.5h0M264.0 485.5h0M217.8 500.2h0M230.0 475.7h0M223.7 471.2h0M216.8 477.7h0M247.1 489.9h0M260.8 471.5h0M220.7 494.4h0M240.6 475.2h0" stroke="#2a2a40" stroke-width="0.65" stroke-linecap="round" opacity="0.42"/><path d="M213.7 513.9l2.0 1.4l2.4 .1l-2.0-1.4zM226.3 494.9l2.7 2.2l3.5 .2l-2.7-2.1zM247.8 484.3l-3.8 .1l-3.4 1.8l3.8-.1zM270.9 510.8l-2.3 .8l-1.5 1.9l2.3-.8zM229.2 513.3l-2.3 1.2l-1.0 2.4l2.3-1.2zM231.3 484.5l-2.1 1.2l-.8 2.2l2.1-1.1zM264.0 492.5l-2.2 2.5l-.6 3.3l2.2-2.5zM243.2 469.6l1.3 1.8l2.2 .1l-1.3-1.8zM221.1 471.8l1.9 2.2l3.0 .3l-1.9-2.2zM245.8 511.5l2.9 2.5l3.7 .8l-2.9-2.5zM251.3 473.6l1.6 1.9l2.5 .5l-1.6-1.9zM213.4 497.0l-3.3 .5l-2.9 1.7l3.3-.5zM235.4 512.0l.3 1.8l1.5 .9l-.2-1.8zM232.3 466.9l-.6 3.3l1.4 3.0l.6-3.3zM242.8 471.8l-3.2 2.1l-1.8 3.4l3.2-2.1zM225.5 504.9l0 3.6l2.0 3.0l0-3.6zM263.9 469.2l-.9 3.0l.7 3.0l.9-3.0zM256.2 506.7l0 1.9l1.3 1.3l0-1.9zM262.4 498.1l-2.1-.2l-1.3 1.7l2.1 .1zM261.9 505.9l-1.6 1.0l-.5 1.8l1.6-1.0zM220.1 468.8l-1.0 1.6l.7 1.7l1.0-1.6zM258.7 470.1l1.3 1.6l2.0 .4l-1.3-1.6zM216.4 492.1l-3.0 2.4l-1.4 3.5l3.0-2.3zM241.6 498.2l-3.2 2.0l-2.1 3.1l3.2-2.0zM211.7 483.5l-3.2 .9l-2.1 2.5l3.2-.9zM260.7 485.5l2.8 1.6l3.1-.4l-2.7-1.5zM223.2 517.7l1.8 1.2l2.0-.7l-1.8-1.2zM238.3 490.8l-3.7-.8l-3.4 1.4l3.6 .8zM262.1 488.8l-.5 2.0l1.4 1.5l.5-2.0zM212.8 480.3l.2 3.8l2.1 3.3l-.2-3.9zM254.1 500.1l1.1 1.8l2.1 .3l-1.1-1.9zM229.3 473.4l.1 2.4l1.4 1.9l-.1-2.4zM267.4 493.9l-2.0 1.0l-.6 2.1l2.0-1.0zM269.3 475.5l-3.7-.2l-3.6 1.1l3.7 .2zM259.7 482.8l-.1 3.7l1.3 3.6l.1-3.8zM265.9 505.0l.6 2.8l2.2 1.9l-.6-2.8zM224.2 507.3l1.1 2.4l2.3 1.5l-1.2-2.4zM220.6 507.5l2.4 1.1l2.5-.9l-2.4-1.2zM211.3 468.5l2.6 1.7l3.2-.2l-2.7-1.8zM211.6 479.6l-.7 2.2l1.3 2.0l.7-2.2zM213.5 514.1l-1.4 1.6l.8 1.9l1.4-1.6zM226.4 501.6l-2.1 2.0l-.3 2.9l2.0-2.0zM258.5 470.2l2.9 1.3l3.2-.1l-2.9-1.3zM247.6 486.8l-2.1 .1l-1.0 1.9l2.1-.1zM206.8 508.9l1.1 1.8l2.0 .7l-1.1-1.7zM263.6 503.1l-1.0 2.1l.9 2.2l1.0-2.1zM216.4 496.7l.9 2.2l2.2 1.1l-1.0-2.2zM223.4 466.6l-1.1 2.8l.9 2.9l1.1-2.8zM219.9 468.8l-3.4 .3l-2.7 2.2l3.4-.3zM230.8 469.7l-3.1 .2l-2.3 1.9l3.0-.2zM236.7 481.8l.3 2.1l1.7 1.3l-.4-2.0zM239.0 497.2l-3.4-.3l-3.1 1.6l3.5 .3zM210.3 468.0l1.5 .7l1.6-.6l-1.5-.7zM202.0 489.3l2.7 2.0l3.3-.1l-2.7-2.0zM262.6 513.2l-1.8 1.0l-.7 1.9l1.8-1.0zM262.1 500.7l-1.1 1.9l.3 2.2l1.0-1.9zM246.9 478.5l2.3 1.1l2.5-.5l-2.3-1.2zM269.7 477.4l-3.1-1.0l-3.0 1.1l3.1 1.0zM232.8 495.5l-2.5 .7l-1.0 2.4l2.5-.7zM251.0 512.1l-3.1-.5l-2.9 1.2l3.1 .5zM250.8 512.4l-2.3-1.0l-2.2 1.2l2.3 1.0zM226.8 513.1l1.4 2.5l2.7 .9l-1.4-2.5zM262.3 475.9l-1.1 1.5l1.1 1.5l1.0-1.5zM236.4 472.5l3.3 1.0l3.3-.3l-3.2-1.0zM218.5 506.5l-1.8-.5l-1.5 1.0l1.8 .5zM226.8 485.3l.3 3.2l1.8 2.6l-.3-3.2zM229.9 497.1l2.4 1.3l2.7-.6l-2.4-1.3zM208.4 483.3l-1.8-.2l-1.0 1.5l1.8 .3zM237.9 468.9l-1.8-.4l-1.2 1.3l1.7 .4zM242.8 471.4l-3.3-.2l-2.8 1.7l3.3 .2zM235.1 511.4l.7 2.2l1.9 1.2l-.7-2.1zM211.9 472.4l-.6 3.4l.9 3.4l.6-3.5zM251.1 507.9l3.4 1.5l3.6-.5l-3.4-1.5zM246.1 470.8l-1.2 2.4l.3 2.6l1.2-2.3zM214.4 487.4l2.1 1.9l2.8 .6l-2.1-2.0zM253.8 476.6l2.2 1.6l2.7 0l-2.2-1.7zM260.7 468.8l-1.7 2.4l.6 2.8l1.7-2.4zM251.6 508.3l1.0 2.2l2.1 1.2l-1.0-2.2zM221.0 506.1l2.3 1.2l2.5-.2l-2.2-1.1zM261.1 472.5l.2 3.1l1.7 2.5l-.1-3.1zM255.5 512.0l.3 2.3l2.0 1.4l-.4-2.3zM263.8 495.3l-.6 3.1l1.2 2.8l.6-3.0zM234.5 483.2l1.2 2.6l2.5 1.2l-1.1-2.6zM241.3 483.2l-1.2 2.1l1.0 2.3l1.1-2.2zM224.7 488.2l-3.2 0l-2.4 2.0l3.1 0zM254.7 479.7l-1.2 2.9l.4 3.1l1.2-2.9zM219.7 504.5l-2.2 2.7l-.8 3.3l2.2-2.7zM221.0 490.1l-1.2 2.0l.7 2.2l1.2-2.0zM247.5 480.4l-3.7-.9l-3.6 1.3l3.7 .8zM241.1 490.5l1.6 1.9l2.4 .7l-1.6-1.9zM256.8 467.4l-1.3 3.2l.3 3.5l1.3-3.2zM205.0 482.0l-.1 3.0l1.4 2.7l.1-3.0zM246.4 495.5l-2.3 .2l-1.4 1.8l2.3-.2zM242.1 482.8l-2.3 .1l-1.1 2.0l2.2-.2zM246.1 515.6l-1.8-.9l-1.6 1.1l1.8 .9zM235.7 469.4l-.3 3.5l1.2 3.2l.3-3.4zM222.6 509.5l-1.2 2.5l.8 2.7l1.2-2.5zM241.6 501.5l1.2 2.3l2.5 .5l-1.2-2.2zM231.6 478.4l-1.4 1.8l.1 2.3l1.4-1.8zM212.7 480.7l-2.0-.8l-2.0 .8l2.0 .9zM270.8 485.4l-3.3 .2l-2.9 1.5l3.3-.2zM249.3 468.8l-.9 1.8l1.4 1.5l.9-1.8z" fill="#1e2266"/><path d="M267.0 467.8l-1.2 2.9l.5 3.1l1.2-2.9zM246.8 495.7l-1.9-.5l-1.3 1.4l1.9 .5zM248.3 480.1l-2.7 1.4l-1.4 2.7l2.7-1.4zM237.8 485.1l1.1 1.8l2.0 .1l-1.0-1.8zM233.6 500.9l.1 2.8l1.5 2.4l-.1-2.8zM219.8 475.8l-1.9 1.2l0 2.2l1.9-1.2zM216.6 471.9l-3.0 .8l-2.1 2.2l2.9-.8zM237.2 474.7l-.1 2.7l1.9 2.0l0-2.7zM221.7 502.7l.1 2.9l1.6 2.4l-.2-2.9zM215.3 487.5l1.9 2.0l2.8 0l-1.9-2.0zM227.9 513.6l-3.0 .2l-2.3 2.0l3.0-.2zM253.9 472.0l1.3 1.3l1.7-.8l-1.3-1.3zM223.5 511.9l1.1 1.8l2.0 .6l-1.1-1.8zM228.0 510.7l-.8 2.9l1.2 2.7l.9-2.9zM238.9 497.1l-.7 1.9l1.1 1.8l.7-1.9zM246.0 507.0l2.5 2.7l3.5 1.2l-2.5-2.7zM269.9 515.2l-2.8-1.0l-2.7 1.2l2.8 1.0zM207.5 473.8l1.6 1.7l2.3 .3l-1.6-1.8zM257.9 498.6l-2.9 2.4l-1.6 3.4l2.9-2.4zM215.9 508.6l-.9 1.9l.7 2.0l.9-1.9zM230.6 511.2l-1.8 1.7l-.6 2.3l1.8-1.6zM263.5 501.9l1.2 2.6l2.5 1.5l-1.2-2.7zM252.9 506.8l3.4 .8l3.5-.5l-3.4-.8zM251.0 472.0l1.7 1.1l1.7-1.1l-1.7-1.1zM215.9 515.1l1.2 2.7l2.3 1.8l-1.1-2.7zM218.5 480.7l-2.2 3.1l-.9 3.7l2.2-3.1zM245.3 492.2l-2.3 .4l-1.3 1.8l2.2-.3zM252.5 503.4l1.2 1.4l1.7-.6l-1.2-1.4zM258.7 487.4l-.9 3.2l.9 3.1l.9-3.1zM227.8 491.5l-2.3-.4l-1.9 1.2l2.2 .3zM232.5 466.6l-1.5 1.7l-.2 2.3l1.5-1.7zM233.6 472.7l-1.8 .8l-.5 1.9l1.7-.8zM217.3 482.6l.2 2.3l2.0 1.1l-.2-2.3zM210.9 482.2l1.5 2.8l2.9 1.1l-1.5-2.8zM217.6 508.8l2.5 1.0l2.7-.7l-2.6-1.0zM211.0 502.6l-.6 2.9l.8 2.9l.6-2.9zM263.6 514.6l-2.2 .7l-1.0 2.0l2.2-.7zM220.2 472.8l2.0 2.9l2.9 1.9l-2.0-2.9zM269.3 495.8l-2.1 2.0l-.3 2.9l2.2-2.0zM240.7 472.2l2.0 2.6l3.2 1.0l-2.0-2.6zM264.1 472.6l-1.7 2.5l0 3.1l1.7-2.5zM226.2 508.3l-1.1 1.4l.5 1.7l1.1-1.4zM217.3 491.6l-3.1 2.0l-2.1 3.0l3.1-1.9zM227.1 485.5l-1.3 3.0l.4 3.3l1.3-3.0zM213.3 511.7l-1.6 1.5l-.2 2.2l1.6-1.5zM216.7 509.7l-2.5 1.2l-1.3 2.4l2.5-1.2zM207.7 504.2l-2.3 1.6l-.7 2.6l2.3-1.5zM205.6 497.4l1.9 1.0l2.0-.9l-1.9-1.0zM239.5 484.2l2.3 2.8l3.2 1.6l-2.3-2.8zM244.7 504.2l-3.5 .3l-2.8 2.1l3.5-.3zM252.9 502.2l-2.4 1.2l-1.2 2.3l2.4-1.1zM244.3 514.1l1.4 3.0l2.6 1.9l-1.3-3.0zM223.8 468.0l-.5 1.9l1.0 1.6l.5-1.8zM269.7 513.5l-1.9-.7l-1.6 1.2l1.9 .7zM235.5 475.4l-1.7 .8l.3 1.9l1.6-.8zM259.0 501.2l1.5 2.8l2.7 1.8l-1.6-2.8zM243.2 509.2l-2.8 .9l-1.6 2.5l2.8-.9zM254.0 481.4l-1.9 .2l-1.0 1.6l1.9-.2zM227.2 510.4l.9 3.1l2.4 2.2l-.8-3.1zM220.7 471.3l-.4 3.7l1.5 3.4l.4-3.7zM227.6 496.5l-1.8 2.8l.3 3.4l1.8-2.9zM257.9 508.4l-2.6-.1l-1.9 1.9l2.7 .1zM240.3 491.2l-1.2 2.6l.3 2.9l1.2-2.6zM250.6 499.4l.9 3.3l2.5 2.3l-.9-3.3zM230.9 503.9l-.7 1.9l1.2 1.5l.7-1.8zM213.2 468.1l.3 3.7l1.8 3.3l-.3-3.7zM238.1 470.2l.5 3.2l2.3 2.2l-.6-3.1zM250.8 477.0l1.5 3.4l2.7 2.7l-1.6-3.4zM257.5 477.9l2.0 1.6l2.5 .3l-2.0-1.6zM254.7 512.3l-.6 2.6l1.2 2.4l.6-2.6zM230.6 511.4l-1.4 2.7l-.2 3.0l1.5-2.7zM226.2 498.8l-.2 3.5l1.4 3.2l.1-3.5zM265.1 472.8l-2.0-.7l-1.6 1.3l2.0 .7zM233.3 483.3l-.9 3.0l.4 3.1l.9-3.0zM208.1 477.7l.3 3.7l1.9 3.2l-.3-3.7zM263.4 510.0l-1.1 1.6l.3 1.9l1.1-1.6zM231.3 517.3l2.1 1.3l2.5-.3l-2.1-1.3zM248.4 468.0l1.2 1.5l1.9-.4l-1.2-1.5zM245.9 467.6l-3.6 .2l-3.1 1.5l3.5-.1zM242.5 493.8l2.8 2.0l3.3 .6l-2.8-2.0zM234.3 508.7l-2.2 2.5l-1.1 3.1l2.2-2.5zM226.8 497.0l2.8 2.3l3.6 .4l-2.8-2.3zM253.0 511.0l2.1 2.3l3.1 .5l-2.1-2.3zM267.0 491.6l-2.2 1.4l-.4 2.5l2.2-1.3zM224.9 481.7l-2.8 0l-2.3 1.5l2.8 0zM257.8 496.4l-2.1-.2l-1.4 1.6l2.1 .3zM220.7 514.6l-3.6-.8l-3.6 1.0l3.6 .8zM222.3 494.5l-.2 2.1l1.1 1.7l.2-2.1zM258.0 513.3l-3.1 .3l-2.6 1.7l3.1-.3zM215.1 477.6l.4 1.9l1.6 1.0l-.4-1.9zM241.5 486.8l1.7 1.2l2.1-.2l-1.7-1.2zM232.5 502.8l0 2.6l1.7 1.8l.1-2.6zM235.6 495.7l.4 3.5l2.2 2.7l-.4-3.5zM206.2 512.7l-.7 2.2l1.3 1.9l.7-2.2zM231.4 483.5l-2.2 1.2l-.9 2.4l2.3-1.2zM218.2 509.0l-3.0 .9l-1.9 2.4l3.0-.9zM258.0 479.0l1.4 3.4l2.6 2.5l-1.4-3.4zM221.1 471.6l-1.9 .3l-.6 1.7l1.9-.2z" fill="#2d3488"/></g></svg>
<rect x="270" y="468" width="64.3" height="50.0" fill="#c6c6d5"/><svg x="270" y="468" width="64.3" height="50.0" viewBox="270 468 64.3 50.0" overflow="hidden"><g filter="url(#bl)"><path d="M330.5 476.8h0M305.2 515.1h0M327.5 479.8h0M321.9 477.8h0M315.8 471.4h0M276.5 508.9h0M281.5 474.2h0M299.7 506.0h0M316.5 475.6h0M329.9 480.3h0M270.6 510.8h0M319.3 493.7h0M271.3 493.2h0M273.7 474.7h0M273.1 475.8h0M278.5 511.1h0M323.6 496.7h0M288.0 480.3h0M281.3 473.5h0M286.0 500.0h0M318.5 471.4h0M294.3 468.0h0M299.6 507.9h0M313.6 487.8h0M304.8 488.2h0M303.8 516.1h0M330.7 485.7h0M308.9 503.9h0M318.2 505.6h0M303.7 488.4h0M302.4 493.0h0M321.8 478.3h0M308.6 486.4h0M289.2 498.2h0M296.5 486.8h0M294.0 483.7h0M282.8 468.8h0M298.0 499.9h0M279.5 511.3h0M320.8 505.5h0M311.7 483.1h0M285.7 468.8h0M284.6 490.0h0M301.3 491.3h0M299.9 512.1h0M299.8 488.8h0M273.3 515.4h0M327.7 514.1h0M289.0 470.7h0M299.9 487.3h0M312.0 489.7h0M308.5 485.7h0M303.0 491.9h0M330.1 511.4h0M300.8 485.6h0M282.4 514.1h0M280.7 517.6h0M279.4 503.6h0M287.3 469.2h0M284.1 494.1h0M271.6 488.2h0M321.3 491.0h0M310.0 482.2h0M273.3 493.8h0M277.9 489.9h0M301.3 506.2h0M272.3 507.0h0M316.9 496.3h0M274.3 516.4h0M330.0 486.9h0M312.5 490.0h0M316.5 481.4h0M279.1 513.7h0M276.0 487.2h0M295.4 470.1h0M289.5 515.7h0M282.5 496.5h0M296.9 509.3h0M279.8 495.4h0M286.4 513.8h0M270.0 471.3h0M325.2 481.3h0M301.0 471.3h0M300.1 517.1h0M329.5 492.7h0M275.1 491.0h0M327.8 498.8h0M333.0 510.5h0M331.4 480.9h0M305.9 512.5h0M322.4 484.5h0M312.8 494.3h0M312.9 509.8h0M307.9 502.1h0M321.8 506.9h0M285.8 508.7h0M297.9 481.6h0M330.4 483.0h0M332.5 517.6h0M273.3 497.6h0M321.5 480.9h0M323.0 495.8h0M324.3 478.9h0M331.5 491.2h0M279.9 472.9h0M304.9 486.1h0M317.7 489.0h0M291.3 472.1h0M280.4 492.1h0M329.7 471.3h0M290.2 512.5h0M298.0 508.8h0M279.9 491.7h0M272.0 514.9h0M277.6 479.8h0M326.5 492.6h0M331.6 497.4h0M296.1 510.5h0M288.4 498.5h0M280.6 476.0h0M291.0 486.8h0M275.3 472.1h0M321.2 468.4h0M304.7 492.6h0M275.9 516.5h0M322.0 500.4h0M333.8 468.1h0M281.4 474.7h0M333.3 486.3h0M314.1 509.3h0M293.0 496.6h0M272.6 512.6h0M291.2 469.9h0M307.5 517.4h0M309.5 509.1h0M282.4 476.5h0M295.1 517.7h0M276.9 497.7h0M309.6 494.3h0M323.5 482.2h0M274.2 498.3h0M286.7 500.2h0M315.0 472.8h0M309.0 502.5h0M272.1 510.6h0M312.8 502.7h0M322.1 485.9h0M302.7 482.7h0M315.4 488.1h0M321.9 479.8h0M333.3 483.5h0M291.0 480.0h0M279.6 475.8h0M275.1 497.4h0M277.6 473.4h0M298.9 475.5h0M274.7 506.5h0M314.2 497.0h0M316.2 489.8h0M277.9 500.2h0M330.6 495.6h0M307.8 514.9h0M283.5 491.7h0M272.2 475.8h0M282.3 471.3h0M272.0 510.7h0M286.2 477.3h0M302.0 500.9h0M295.6 503.5h0M290.8 474.6h0M291.0 516.3h0M297.2 483.7h0M328.9 496.3h0M315.0 468.4h0M320.4 515.7h0M296.7 492.3h0M333.6 475.4h0M326.9 480.0h0M308.8 515.9h0M328.3 504.0h0M296.9 506.5h0M310.6 503.6h0M321.5 486.7h0M270.2 492.1h0M323.0 493.1h0M283.6 484.6h0M312.4 504.8h0M302.5 494.5h0M327.2 517.7h0M309.4 498.6h0M298.0 515.5h0M321.5 490.7h0M316.2 495.4h0M304.6 505.8h0M272.9 484.6h0M296.2 499.4h0M320.9 491.7h0M326.5 514.5h0M328.8 498.4h0M284.8 483.8h0M308.0 490.5h0M289.3 500.6h0M272.5 479.5h0M328.2 480.7h0M287.1 494.5h0M272.6 515.6h0M298.9 487.8h0M297.6 515.9h0M321.6 481.7h0M322.4 495.3h0M296.8 493.1h0M331.3 507.7h0M311.2 483.3h0M308.6 470.6h0M333.6 478.7h0M312.5 482.4h0M277.5 479.7h0M333.6 496.0h0M291.1 495.3h0M282.9 502.3h0M275.1 500.3h0M330.9 469.0h0M278.4 505.5h0M286.6 500.9h0M313.2 488.8h0M328.3 478.2h0M280.5 472.9h0M329.9 483.5h0M304.9 495.4h0M274.4 517.1h0M326.1 510.7h0M270.2 480.0h0M320.1 507.7h0M330.7 516.3h0M277.3 490.6h0M277.8 506.3h0M320.1 491.3h0M277.9 501.4h0M287.9 472.2h0M320.7 485.7h0M294.9 477.5h0M330.8 504.3h0M328.6 499.0h0M332.3 506.3h0M333.8 476.1h0M292.0 494.1h0M314.3 477.7h0M333.7 505.9h0M292.6 485.0h0M295.0 505.8h0M276.7 493.6h0M322.2 478.6h0M282.2 499.9h0M319.7 505.4h0M274.3 517.7h0M284.6 500.9h0M328.7 492.7h0M319.6 487.4h0M311.3 478.0h0M272.7 490.6h0M270.2 485.8h0M333.5 514.7h0M311.7 488.8h0M323.9 516.5h0M325.4 472.3h0M324.2 497.7h0M306.1 473.8h0M278.7 492.7h0M334.1 504.3h0M291.9 499.2h0M272.1 509.8h0M290.4 483.6h0M322.9 482.7h0M325.2 470.7h0M289.3 516.2h0M278.8 480.9h0M294.4 475.7h0M291.9 488.6h0M274.8 494.5h0M274.8 483.4h0M289.3 469.1h0M333.1 484.4h0M315.8 511.5h0M329.9 498.1h0M324.8 486.1h0M276.1 481.2h0M291.5 512.4h0M281.7 478.6h0M321.5 479.6h0M287.8 510.1h0M305.4 495.1h0M325.2 508.6h0M305.3 496.9h0M314.4 482.9h0M305.5 482.9h0M327.6 505.6h0M272.6 513.9h0M297.0 500.9h0M287.3 470.6h0M274.4 515.4h0M307.8 473.3h0M300.7 491.5h0M293.2 495.1h0M287.0 497.5h0M306.1 507.7h0M275.3 476.4h0M311.7 496.5h0M325.7 499.5h0M271.1 478.9h0M315.5 476.5h0M331.6 511.2h0M302.8 517.5h0M270.3 494.1h0M287.6 507.7h0M319.9 477.4h0M305.2 471.0h0M283.6 501.3h0M282.4 494.4h0M292.1 488.2h0M308.0 513.5h0M288.5 480.5h0M325.0 474.2h0M297.0 500.4h0M302.0 516.9h0M296.1 477.6h0M286.3 474.4h0M281.9 500.0h0M277.7 501.6h0M278.5 470.0h0M334.2 505.2h0M317.0 502.2h0M278.5 478.9h0M331.7 496.7h0M311.9 503.9h0M323.4 468.7h0M276.9 478.3h0M279.3 504.2h0M320.5 511.4h0M290.9 488.6h0M312.4 502.0h0M298.5 478.1h0M310.8 478.3h0M292.7 511.5h0M325.2 501.1h0M301.5 515.5h0M298.1 480.6h0M297.9 475.9h0M320.2 509.7h0M318.1 494.2h0M283.1 473.5h0M288.5 482.2h0M281.4 506.5h0M300.4 506.1h0M274.2 490.7h0M289.5 479.2h0M282.9 511.2h0M324.0 516.2h0M287.3 492.0h0M298.2 474.7h0M320.2 500.3h0M294.7 517.3h0M305.5 500.1h0M279.3 481.4h0M293.8 480.7h0M276.4 511.1h0M303.2 483.5h0M296.0 471.1h0M331.5 473.4h0M327.8 480.6h0M285.7 515.9h0M329.9 510.8h0M306.9 514.2h0M329.3 499.4h0M332.9 468.2h0M331.6 484.4h0M314.3 495.7h0M306.5 468.1h0M282.4 473.4h0M289.7 506.2h0M286.2 508.2h0M307.7 499.4h0M313.1 516.0h0M306.3 485.8h0M294.4 499.2h0M327.2 484.2h0M325.2 485.8h0M318.8 494.6h0M301.7 489.5h0M306.2 502.5h0M276.6 512.8h0M284.9 511.3h0M283.2 488.6h0M334.0 471.6h0M313.8 516.8h0M298.4 474.8h0M317.5 478.9h0M276.2 480.8h0M329.0 488.5h0M333.7 500.2h0M327.2 512.7h0M276.0 514.2h0M309.3 472.7h0M286.1 497.9h0M318.0 514.9h0M285.5 491.8h0M287.8 476.4h0M318.7 504.4h0M329.6 492.5h0M333.8 507.8h0M327.1 473.0h0M302.4 479.5h0M307.0 468.0h0M314.8 514.7h0M318.4 495.8h0M280.6 504.9h0M333.1 496.6h0M312.9 477.6h0M322.9 479.7h0M272.9 477.0h0M323.2 477.9h0" stroke="#2a2a40" stroke-width="0.65" stroke-linecap="round" opacity="0.42"/><path d="M319.3 484.7l-3.3 .7l-2.3 2.5l3.3-.7zM312.6 508.7l1.2 1.7l2.0 .2l-1.2-1.7zM279.1 509.0l1.8 1.8l2.5 .5l-1.8-1.7zM292.8 487.7l-2.5 2.5l-.8 3.4l2.5-2.5zM297.3 471.5l2.2 2.1l3.0 .1l-2.2-2.1zM276.8 473.1l-1.8 1.9l-.2 2.7l1.8-2.0zM317.4 488.4l.5 3.2l2.5 2.1l-.5-3.2zM273.2 467.7l-2.8 1.1l-2.2 2.3l2.9-1.2zM287.5 505.0l3.0 1.8l3.4-.1l-3.0-1.8zM277.6 508.9l2.0 1.2l2.3-.6l-2.0-1.3zM271.0 489.7l1.6 1.0l1.5-1.0l-1.5-.9zM294.7 494.6l.8 2.0l1.9 1.0l-.8-2.0zM292.5 499.6l-2.5 .6l-1.1 2.3l2.4-.6zM270.4 501.9l1.9 2.3l2.7 1.2l-1.9-2.3zM307.4 514.2l3.4 1.4l3.6 0l-3.3-1.4zM306.7 467.0l-3.0 .6l-2.2 1.9l2.9-.5zM297.5 474.3l-2.0 1.0l-.6 2.2l2.0-1.1zM318.2 493.1l-2.0 .7l-1.0 1.8l2.0-.6zM325.4 507.1l-.3 2.4l1.8 1.7l.3-2.5zM317.2 502.6l.4 3.5l1.7 3.1l-.4-3.5zM270.0 470.4l.8 2.4l2.2 1.2l-.8-2.3zM296.3 495.7l-2.7-.6l-2.5 .9l2.6 .6zM334.4 488.5l-2.4 2.4l-1.4 3.2l2.5-2.4zM317.5 470.0l-3.5 .1l-3.1 1.7l3.5-.2zM304.9 501.0l-1.9 2.8l-.2 3.4l1.9-2.8zM307.6 497.7l-.2 2.1l1.3 1.6l.2-2.1zM308.3 490.2l.3 3.3l1.9 2.7l-.3-3.3zM304.8 487.4l-2.9-.1l-2.3 1.9l3.0 .1zM275.2 472.4l1.3 2.8l2.8 1.2l-1.3-2.8zM302.5 503.0l-2.1-.7l-2.1 1.0l2.2 .6zM315.4 487.8l.6 1.7l1.8 .2l-.6-1.7zM319.3 474.3l1.4 1.1l1.8-.4l-1.4-1.1zM302.2 505.2l1.0 2.1l2.3 .7l-1.1-2.1zM299.9 507.2l-.2 3.0l1.8 2.4l.2-3.0zM313.7 514.4l2.6 1.5l3.0-.2l-2.6-1.5zM274.3 501.6l-1.8 .6l-.9 1.6l1.8-.5zM269.7 475.4l2.5 3.0l3.5 1.4l-2.5-2.9zM323.8 470.8l2.8 2.2l3.3 1.0l-2.7-2.2zM293.5 506.3l-1.3 2.4l.1 2.8l1.3-2.5zM310.5 472.8l-1.7 1.0l-.3 1.9l1.7-1.0zM319.2 492.6l3.5 1.7l3.8-.2l-3.5-1.7zM279.9 504.4l-1.5 2.5l.3 3.0l1.5-2.6zM296.4 487.1l2.5 2.7l3.5 .9l-2.5-2.6z" fill="#1e2266"/><path d="M286.5 470.8l2.4 1.2l2.6-.7l-2.4-1.2zM298.6 487.3l-2.5 2.0l-1.3 2.8l2.5-1.9zM330.3 494.1l-3.6-.5l-3.4 1.3l3.6 .6zM297.0 473.8l1.1 3.3l2.6 2.4l-1.1-3.3zM327.5 505.2l1.4 3.2l2.6 2.2l-1.4-3.1zM316.3 491.4l.2 3.5l2.0 3.0l-.2-3.6zM317.3 508.2l-1.8-.1l-1.2 1.3l1.8 .1zM282.1 469.7l3.1 1.7l3.6-.1l-3.1-1.7zM275.6 492.6l-1.0 1.6l.5 1.8l1.0-1.6zM275.5 490.5l-3.1 1.5l-2.3 2.6l3.2-1.5zM330.0 469.9l.4 3.4l2.2 2.6l-.5-3.4zM316.4 495.6l.8 3.2l2.7 2.0l-.8-3.2zM319.2 492.2l1.5 1.7l2.3 .4l-1.5-1.8zM279.7 498.7l-1.0 2.7l.6 2.7l1.0-2.6zM285.9 483.0l-.9 2.2l.7 2.3l.9-2.2zM322.2 495.8l2.8 1.2l3.0-.9l-2.9-1.2zM270.8 473.2l1.8 1.9l2.6-.1l-1.8-1.9zM329.6 489.6l.5 3.7l2.2 3.0l-.5-3.7zM301.9 470.8l1.9 1.1l2.2-.2l-1.9-1.2zM310.8 481.1l-1.8 1.1l-.1 2.1l1.7-1.1zM316.5 484.6l-3.1-.4l-2.9 1.2l3.1 .4zM309.0 507.0l-2.7 .9l-1.3 2.6l2.7-.9zM317.3 482.9l1.2 3.2l2.5 2.4l-1.2-3.2zM293.6 478.6l1.5 1.2l2.0-.1l-1.6-1.2zM287.9 511.6l-3.5-.5l-3.3 1.4l3.5 .6zM278.3 507.8l3.3 1.9l3.8 .6l-3.3-1.9zM292.5 487.5l-1.9 .8l-.1 2.0l1.9-.8zM291.0 492.8l-2.6 .4l-1.6 2.1l2.6-.4zM319.5 482.3l-.3 2.7l1.4 2.4l.3-2.7zM289.3 504.2l.9 1.7l1.8 .5l-.9-1.7zM325.5 486.7l-2.0 2.2l-.1 2.9l2.1-2.1zM321.3 479.5l1.5 3.4l2.7 2.6l-1.5-3.4zM318.7 515.0l1.8 2.8l3.0 1.6l-1.9-2.8zM326.6 503.2l1.6 2.3l2.6 1.0l-1.6-2.3zM304.8 512.5l1.5 2.8l2.8 1.7l-1.5-2.9zM295.2 495.2l-.4 3.0l1.8 2.4l.4-3.0zM323.2 508.8l-2.2 2.2l-.4 3.2l2.3-2.3zM314.9 500.9l2.8 1.9l3.4-.1l-2.8-1.9zM307.1 479.6l-1.8 2.9l.4 3.4l1.8-2.9zM328.2 514.0l-3.4 1.1l-2.7 2.3l3.4-1.1zM285.0 503.8l-1.5 3.0l.2 3.4l1.5-3.0zM272.2 498.4l.9 1.5l1.8 0l-.9-1.6z" fill="#2d3488"/></g></svg><rect x="324.1" y="514" width="7" height="1.3" fill="#fff"/>
<rect x="74" y="519" width="64.0" height="49.0" fill="#c6c6d5"/><svg x="74" y="519" width="64.0" height="49.0" viewBox="74 519 64.0 49.0" overflow="hidden"><g filter="url(#bl)"><path d="M109.9 567.7h0M88.6 548.7h0M94.8 551.5h0M132.1 550.9h0M131.5 544.5h0M116.1 546.5h0M75.1 559.1h0M92.2 519.2h0M96.1 539.0h0M116.5 567.1h0M131.7 546.7h0M101.8 520.5h0M125.5 557.4h0M100.0 556.4h0M108.8 526.2h0M116.3 523.6h0M109.2 547.1h0M96.1 549.9h0M133.1 529.6h0M110.0 558.6h0M80.3 559.7h0M130.5 556.6h0M125.7 534.4h0M95.6 564.3h0M81.7 560.3h0M123.7 538.5h0M83.5 547.8h0M123.5 560.6h0M91.4 563.1h0M128.7 559.8h0M84.5 555.9h0M74.1 551.7h0M106.9 548.4h0M132.1 538.1h0M137.9 524.7h0M136.7 538.0h0M86.9 523.0h0M86.4 549.0h0M126.7 559.3h0M75.6 565.3h0M98.0 521.7h0M115.5 522.9h0M114.3 522.6h0M121.2 521.7h0M100.1 527.7h0M114.3 528.6h0M111.3 540.7h0M100.3 526.0h0M120.7 529.8h0M91.9 519.8h0M105.7 540.7h0M92.0 527.0h0M119.7 541.0h0M82.9 538.8h0M129.2 551.9h0M112.2 535.9h0M109.5 523.5h0M129.8 554.5h0M126.9 564.2h0M133.1 567.1h0M110.2 564.7h0M78.3 557.1h0M75.5 564.9h0M117.2 531.9h0M136.1 528.7h0M103.0 523.4h0M82.5 564.6h0M96.9 564.6h0M87.0 563.9h0M99.7 541.9h0M133.3 541.7h0M87.1 567.8h0M132.1 552.2h0M79.0 527.0h0M98.3 529.7h0M101.0 559.4h0M136.7 534.6h0M103.9 545.8h0M136.5 537.4h0M86.2 540.9h0M131.0 545.7h0M93.7 548.0h0M120.5 527.3h0M111.0 521.3h0M129.3 533.4h0M76.8 559.1h0M101.6 533.0h0M77.4 541.1h0M117.7 559.8h0M99.5 545.2h0M133.4 563.3h0M121.4 543.5h0M106.9 563.8h0M78.8 559.9h0M114.9 562.0h0M131.2 547.9h0M126.9 524.0h0M86.4 544.5h0M136.3 527.4h0M109.0 555.0h0M105.4 554.8h0M112.8 530.5h0M101.3 559.5h0M130.0 545.4h0M130.1 560.6h0M85.3 552.4h0M94.4 520.4h0M88.7 555.8h0M135.4 520.1h0M124.3 547.8h0M120.0 540.0h0M117.6 567.7h0M103.0 553.3h0M99.8 565.0h0M89.1 538.8h0M123.9 526.2h0M124.7 536.9h0M74.1 545.5h0M79.4 560.2h0M85.5 549.8h0M95.0 526.8h0M137.5 552.3h0M116.2 519.7h0M95.4 567.5h0M134.0 552.7h0M99.9 526.4h0M78.7 550.9h0M134.0 522.6h0M110.5 535.0h0M99.5 541.4h0M112.0 520.9h0M111.8 556.9h0M91.2 540.1h0M113.0 533.2h0M109.0 519.8h0M84.1 562.7h0M76.4 535.2h0M76.2 548.7h0M120.7 551.5h0M108.7 566.8h0M112.3 552.9h0M106.5 533.3h0M82.3 562.2h0M95.6 555.0h0M106.8 549.8h0M115.4 532.9h0M102.9 545.7h0M103.3 558.7h0M132.4 553.1h0M102.2 536.5h0M85.5 562.9h0M99.7 538.1h0M86.5 556.7h0M116.0 520.3h0M113.4 532.5h0M123.9 566.2h0M78.1 549.8h0M136.3 543.3h0M108.1 537.8h0M83.6 549.6h0M132.6 543.8h0M120.0 526.5h0M127.4 534.7h0M110.9 543.2h0M122.0 557.7h0M108.1 552.4h0M74.0 550.5h0M117.7 557.8h0M97.6 553.1h0M130.5 551.5h0M129.5 556.0h0M99.0 554.7h0M95.2 541.4h0M76.5 552.0h0M84.7 563.1h0M85.3 555.6h0M128.6 532.1h0M85.7 544.7h0M103.5 538.3h0M83.0 559.5h0M113.1 528.1h0M89.8 565.6h0M117.7 555.2h0M128.2 557.7h0M127.1 529.9h0M134.2 545.8h0M131.7 547.1h0M80.6 538.8h0M90.7 552.5h0M132.6 528.1h0M122.7 554.4h0M133.7 527.7h0M134.5 538.1h0M136.0 527.4h0M134.5 529.9h0M118.5 535.8h0M112.9 552.6h0M80.5 561.2h0M134.1 524.2h0M119.5 537.1h0M75.6 550.6h0M107.2 565.9h0M134.8 546.4h0M75.0 534.7h0M105.2 552.3h0M126.8 530.0h0M86.4 549.8h0M81.7 552.1h0M106.8 547.3h0M133.3 524.5h0M104.8 542.7h0M77.0 544.6h0M119.1 547.5h0M91.2 520.8h0M127.7 529.3h0M93.7 534.9h0M103.0 535.0h0M95.0 524.3h0M120.7 536.9h0M130.7 559.1h0M104.5 560.4h0M107.6 530.7h0M101.3 560.7h0M76.9 566.0h0M91.0 560.5h0M118.6 550.5h0M81.0 565.6h0M124.7 520.7h0M96.6 541.4h0M113.4 565.5h0M81.8 548.0h0M104.3 521.9h0M120.9 525.5h0M104.6 532.3h0M82.3 560.4h0M107.7 561.0h0M96.3 527.0h0M82.8 535.2h0M125.8 558.7h0M101.4 521.9h0M94.8 556.9h0M106.4 557.8h0M102.8 540.7h0M93.1 527.2h0M105.5 535.6h0M95.6 555.3h0M116.8 545.5h0M95.7 547.8h0M135.7 558.0h0M94.3 553.9h0M113.3 527.7h0M82.2 565.9h0M132.3 566.4h0M126.0 540.0h0M95.3 525.7h0M128.5 562.2h0M76.7 558.3h0M97.8 530.2h0M115.4 530.4h0M135.3 525.4h0M130.2 562.3h0M126.9 558.2h0M129.6 522.4h0M74.4 535.7h0M76.2 529.0h0M114.5 546.2h0M85.7 523.9h0M93.4 560.7h0M107.6 537.8h0M111.5 567.8h0M105.4 543.5h0M128.4 567.5h0M88.2 541.0h0M114.8 540.6h0M134.8 550.5h0M83.6 519.3h0M97.4 544.3h0M121.3 527.2h0M97.6 529.2h0M135.4 544.8h0M125.5 527.5h0M108.8 559.0h0M121.2 528.3h0M78.0 528.8h0M83.2 560.2h0M74.5 533.9h0M79.9 537.5h0M74.5 523.4h0M89.7 531.9h0M84.2 554.2h0M103.6 520.2h0M84.6 542.1h0M107.2 523.3h0M103.2 557.6h0M131.6 542.5h0M94.5 555.6h0M97.2 549.8h0M105.0 537.6h0M129.2 565.2h0M94.8 549.3h0M106.7 557.0h0M116.9 541.2h0M131.6 546.1h0M120.7 538.2h0M109.2 527.9h0M102.1 524.9h0M104.0 522.1h0M118.0 528.7h0M124.4 554.7h0M133.3 551.1h0M135.9 565.9h0M133.3 535.0h0M85.0 547.3h0M110.3 549.1h0M121.4 562.2h0M135.1 554.9h0M125.2 551.2h0M111.5 550.4h0M89.1 546.0h0M89.1 527.2h0M115.8 553.4h0M89.6 547.3h0M131.2 529.0h0M109.6 534.1h0M100.7 543.0h0M115.3 555.1h0M130.5 529.7h0M125.7 533.2h0M134.3 547.0h0M90.7 531.4h0M125.9 557.0h0M113.1 554.5h0M85.5 540.9h0M126.8 561.2h0M102.1 528.2h0M85.2 522.4h0M77.5 531.1h0M131.7 542.0h0M107.7 543.4h0M81.2 543.0h0M131.3 535.0h0M111.1 546.4h0M132.6 530.9h0M83.6 558.8h0M122.2 523.8h0M124.8 538.5h0M124.6 561.3h0M109.1 527.5h0M130.5 532.0h0M109.5 548.7h0M134.1 562.4h0M107.2 543.8h0M110.4 536.1h0M87.5 555.3h0M119.1 537.2h0M106.9 528.0h0M114.8 538.3h0M77.9 560.1h0M122.0 567.9h0M123.2 528.9h0M91.8 533.8h0M133.0 550.6h0M126.1 560.9h0M110.7 524.4h0M78.3 559.9h0M84.4 529.3h0M120.6 563.0h0M129.5 520.1h0M83.5 547.3h0M123.9 554.8h0M111.6 536.1h0M75.5 533.8h0M104.6 551.0h0M121.0 528.4h0M113.2 528.6h0M74.3 539.4h0M104.1 529.3h0M112.0 523.6h0M135.9 526.1h0M77.1 526.4h0M83.7 529.2h0M81.6 552.7h0M118.8 541.6h0M103.9 551.3h0M77.4 548.7h0M121.7 523.4h0M81.2 538.7h0M82.3 527.9h0M81.7 554.4h0M102.6 554.4h0M116.3 564.4h0M122.6 564.7h0M86.7 549.5h0M120.7 520.8h0M110.6 540.1h0M95.6 545.3h0M116.3 541.3h0M130.1 558.8h0M123.7 524.1h0M122.9 532.8h0M80.4 532.9h0M124.5 552.5h0M114.0 525.9h0M95.6 519.4h0M116.6 567.1h0M83.6 533.0h0M82.2 560.2h0M111.8 553.3h0M97.5 566.4h0M120.2 560.1h0M78.2 555.4h0M115.9 558.5h0M87.7 551.7h0M112.2 525.3h0M118.5 543.3h0M75.1 523.8h0M136.0 524.8h0M91.6 539.8h0M97.0 535.0h0M97.5 534.0h0" stroke="#2a2a40" stroke-width="0.65" stroke-linecap="round" opacity="0.42"/><path d="M74.1 564.3l.7 3.6l2.3 2.9l-.7-3.6zM133.1 537.9l2.2 2.8l3.0 1.7l-2.2-2.7zM128.8 550.2l-2.4 1.9l-1.2 2.7l2.4-1.8zM89.1 522.3l-.2 3.1l1.9 2.4l.2-3.1zM131.2 548.4l.4 2.5l2.2 1.3l-.4-2.5zM101.5 548.5l.1 3.8l1.6 3.5l0-3.9zM88.5 541.3l.5 2.0l2.0 .5l-.5-2.0zM81.2 543.0l-1.2 3.2l.9 3.3l1.2-3.2zM72.6 562.6l2.8 1.9l3.4 .1l-2.8-1.9zM133.8 553.2l2.4 1.1l2.6-.4l-2.4-1.1zM98.8 543.8l-2.2 .6l-1.2 1.9l2.1-.6zM94.3 539.6l2.4 1.0l2.5-.5l-2.4-1.0zM71.9 527.0l1.8 2.6l3.1 .9l-1.8-2.6zM126.2 561.6l-.3 2.6l1.3 2.3l.2-2.6zM103.5 517.0l0 3.8l1.7 3.4l0-3.8zM115.9 532.2l-1.5-.8l-1.5 .8l1.5 .8zM126.6 519.4l-2.9 .9l-1.8 2.4l2.8-.9zM97.7 544.3l0 2.3l1.6 1.7l0-2.3zM86.8 531.9l.4 1.8l1.8 .6l-.5-1.8zM111.5 544.1l-.5 3.7l1.7 3.3l.5-3.7zM76.0 539.3l-1.4 2.5l.7 2.8l1.4-2.5zM129.7 559.5l-3.8 .1l-3.2 2.3l3.9-.1zM132.8 544.5l-.4 2.6l1.4 2.3l.4-2.6zM84.9 556.7l-.5 2.1l.8 2.1l.5-2.2zM114.5 556.9l-3.0 0l-2.4 1.7l2.9 0zM86.0 529.5l-1.6 3.3l.3 3.6l1.6-3.3zM84.6 529.9l-2.6 1.0l-1.1 2.6l2.7-1.0zM109.1 537.5l1.2 2.7l2.2 2.0l-1.1-2.8zM114.7 556.0l-3.2 2.2l-1.5 3.7l3.2-2.3zM91.2 554.1l-3.6-.6l-3.4 1.0l3.5 .6zM91.8 545.4l-1.9 .2l-1.0 1.5l1.8-.1zM82.7 562.5l1.6 1.7l2.2 .2l-1.5-1.7zM79.3 533.3l.4 1.7l1.5 .8l-.3-1.7zM117.7 544.3l-3.7 .6l-3.0 2.4l3.8-.6zM98.4 547.0l-.1 2.7l1.9 1.9l.1-2.7zM106.3 534.2l-2.5 2.0l-1.0 3.0l2.4-2.0zM80.0 543.9l1.9 1.2l2.2-.5l-1.9-1.2zM124.3 552.5l-.8 2.8l.8 2.7l.9-2.8zM123.6 530.6l0 1.9l1.7 .6l0-1.8zM95.4 533.5l-2.2 .3l-1.1 2.0l2.3-.3zM126.3 527.6l2.2 1.4l2.6-.6l-2.2-1.4zM114.3 536.7l-1.6 .9l-.5 1.8l1.6-.9zM95.6 521.8l3.2 1.3l3.2-1.0l-3.1-1.3zM87.9 545.9l-3.4 1.6l-2.3 2.9l3.4-1.6zM122.8 538.1l1.9 3.3l3.2 2.2l-1.9-3.3z" fill="#1e2266"/><path d="M134.6 528.9l-1.9-.5l-1.0 1.6l1.8 .5zM87.2 542.9l1.4 1.2l1.8-.6l-1.4-1.2zM89.6 548.3l1.8 3.1l3.0 2.1l-1.8-3.2zM123.1 521.6l-1.2 1.7l.7 2.0l1.1-1.7zM123.5 551.6l2.4 1.0l2.6-.5l-2.4-1.0zM87.8 541.3l1.9 1.0l2.1-.4l-1.9-1.0zM119.3 517.5l-1.0 2.7l.4 2.8l1.1-2.7zM129.1 521.4l-2.9 .6l-2.0 2.3l2.9-.7zM92.0 547.4l3.0 1.5l3.3-.5l-3.0-1.5zM117.6 523.3l-1.6 1.5l-.3 2.2l1.5-1.6zM110.0 564.0l-1.9 .4l-.5 1.9l1.9-.4zM128.3 555.9l-2.0 3.1l-.3 3.7l1.9-3.1zM116.0 549.1l-1.9 1.1l-.2 2.2l1.8-1.2zM87.1 534.6l-2.0-.8l-1.8 1.2l2.0 .8zM121.4 563.6l-1.9-.8l-1.8 .9l1.9 .8zM77.8 521.5l1.8 1.1l1.9-.8l-1.8-1.1zM117.7 523.0l-3.7-.5l-3.4 1.8l3.8 .4zM90.0 549.5l-1.8 2.8l-.1 3.3l1.9-2.8zM125.7 540.8l-1.9-.6l-1.7 .9l1.8 .5zM123.6 544.7l-3.1-.4l-2.6 1.7l3.1 .5zM81.7 553.9l.1 2.7l2.1 1.8l-.1-2.7zM76.7 559.4l3.1 1.7l3.4 .1l-3.0-1.7zM81.4 550.2l-1.8-.1l-1.4 1.2l1.9 .2zM123.7 536.5l-3.7 .8l-2.7 2.5l3.6-.8zM75.6 519.4l.8 2.4l2.4 .9l-.9-2.3zM126.8 539.0l-2.4 .1l-2.0 1.3l2.4 0zM101.4 522.7l-3.7 .7l-2.8 2.4l3.7-.7zM117.9 527.2l-3.1-.4l-2.6 1.8l3.1 .3zM90.5 547.1l1.0 2.3l2.2 1.2l-1.0-2.3zM73.4 541.1l2.2 .8l2.2-.6l-2.2-.8zM83.2 523.4l-3.3 1.9l-2.1 3.2l3.3-2.0zM100.4 543.9l-1.3 1.5l.5 2.0l1.3-1.6zM89.2 542.7l-1.8 2.2l-.1 2.9l1.8-2.3zM125.7 544.9l.5 3.3l2.3 2.5l-.5-3.3zM110.2 537.1l-.9 1.7l1.1 1.6l.9-1.7zM122.1 555.1l-1.0 1.7l.6 1.8l1.0-1.6zM109.4 522.1l-.9 1.6l.7 1.8l.9-1.7zM125.5 557.5l-2.1 2.2l-.1 3.1l2.1-2.2zM107.0 547.3l1.2 2.7l2.6 1.1l-1.1-2.6zM129.9 521.5l.6 2.3l1.9 1.5l-.6-2.3zM78.0 548.5l2.9 1.5l3.2-.4l-2.8-1.5zM81.1 521.3l-3.0 .9l-2.3 2.1l3.0-.9zM122.8 556.7l-.2 2.1l1.3 1.7l.2-2.1zM74.4 546.9l2.4 2.0l3.0 .5l-2.4-2.0zM110.3 525.8l.1 2.3l1.6 1.7l-.1-2.3zM97.8 553.8l-1.6 2.0l.6 2.4l1.6-1.9zM84.5 560.1l-2.6-.1l-1.7 1.9l2.5 .1zM96.5 547.2l-1.7 1.3l-.6 2.0l1.7-1.3zM86.1 527.9l-2.0-.6l-1.8 1.0l2.0 .6zM100.5 559.3l.1 3.2l1.8 2.6l-.1-3.2zM98.1 564.0l-1.4 2.5l.8 2.7l1.4-2.5zM104.2 537.2l2.4 2.3l3.3 .1l-2.4-2.2zM122.9 522.2l2.9 1.6l3.3-.5l-2.9-1.7zM87.4 553.9l.5 2.6l1.9 2.0l-.5-2.7zM100.3 555.7l-1.7-.8l-1.5 1.1l1.7 .8z" fill="#2d3488"/></g></svg>
<rect x="139" y="519" width="65.0" height="49.0" fill="#c6c6d5"/><svg x="139" y="519" width="65.0" height="49.0" viewBox="139 519 65.0 49.0" overflow="hidden"><g filter="url(#bl)"><path d="M163.0 532.0h0M172.4 534.2h0M147.0 546.3h0M187.8 543.7h0M196.1 536.7h0M187.9 565.6h0M142.1 552.1h0M166.9 534.0h0M162.9 551.0h0M161.0 526.1h0M151.8 562.1h0M146.2 565.3h0M149.0 553.9h0M168.1 556.7h0M179.0 555.1h0M202.5 552.4h0M179.4 559.0h0M144.5 540.5h0M189.3 556.4h0M154.8 533.4h0M180.7 555.4h0M170.8 520.5h0M195.4 546.2h0M163.7 527.3h0M143.7 542.3h0M185.4 551.1h0M143.0 560.5h0M178.4 538.0h0M155.1 521.0h0M160.4 550.1h0M141.2 548.8h0M190.5 530.2h0M185.7 543.6h0M148.4 549.6h0M153.9 560.5h0M196.3 519.6h0M194.8 561.3h0M190.2 555.3h0M172.5 554.0h0M164.8 542.2h0M157.6 563.3h0M193.8 535.9h0M150.2 531.5h0M198.6 565.8h0M156.0 539.9h0M192.7 529.3h0M173.8 536.7h0M143.3 548.5h0M153.1 553.5h0M174.9 519.8h0M183.6 556.0h0M191.0 551.8h0M154.7 548.2h0M148.6 541.4h0M171.7 551.4h0M195.8 555.0h0M191.3 546.8h0M166.7 547.7h0M172.4 526.6h0M196.6 552.8h0M143.0 567.7h0M159.4 547.4h0M147.6 542.5h0M156.8 541.0h0M147.9 537.5h0M141.4 523.4h0M186.4 548.3h0M187.6 537.7h0M155.4 532.1h0M197.8 559.8h0M181.2 548.0h0M149.6 530.5h0M175.9 524.1h0M202.4 567.3h0M181.9 543.5h0M164.5 559.0h0M200.3 546.8h0M202.9 544.3h0M172.5 521.4h0M176.6 564.3h0M149.9 524.9h0M192.1 519.7h0M154.0 562.6h0M140.1 552.9h0M164.1 540.3h0M146.4 563.6h0M172.0 549.9h0M182.6 546.3h0M191.1 542.6h0M164.1 519.5h0M144.4 533.5h0M163.2 558.0h0M157.8 563.9h0M154.3 546.1h0M199.4 550.8h0M180.7 523.2h0M172.2 521.3h0M170.4 539.6h0M187.8 561.0h0M180.7 528.6h0M159.1 561.5h0M177.3 559.8h0M190.4 520.7h0M151.9 556.9h0M140.1 559.9h0M165.3 527.9h0M163.1 559.0h0M200.3 565.7h0M177.2 540.4h0M143.8 520.0h0M183.8 540.4h0M202.2 551.8h0M166.4 523.5h0M139.8 550.7h0M198.5 533.7h0M144.6 523.4h0M193.6 567.7h0M153.6 532.8h0M191.5 545.5h0M145.5 549.1h0M199.0 548.0h0M189.2 542.0h0M173.0 519.7h0M189.2 556.3h0M166.9 545.9h0M158.1 525.9h0M173.7 546.8h0M179.4 526.8h0M178.5 557.5h0M173.3 545.5h0M175.3 544.5h0M180.3 524.8h0M173.4 552.4h0M180.7 557.3h0M143.7 520.5h0M191.2 540.0h0M162.6 560.4h0M176.0 562.9h0M140.5 548.1h0M147.2 565.2h0M147.6 562.2h0M188.7 536.6h0M194.2 549.9h0M176.5 559.7h0M151.1 519.7h0M202.6 546.1h0M139.4 565.2h0M197.3 537.1h0M148.0 522.6h0M169.0 535.4h0M159.4 565.9h0M168.9 541.4h0M184.9 551.9h0M148.0 533.5h0M178.1 557.4h0M145.3 552.0h0M193.3 546.0h0M157.2 548.8h0M177.5 565.1h0M167.3 527.7h0M148.2 565.2h0M160.7 547.8h0M168.2 558.7h0M196.3 563.8h0M156.2 554.8h0M156.3 525.5h0M192.5 536.0h0M158.1 542.8h0M193.3 534.6h0M189.7 525.2h0M193.9 525.9h0M193.9 537.0h0M193.0 553.8h0M140.2 555.0h0M143.1 538.6h0M199.1 563.0h0M165.7 565.6h0M168.9 529.4h0M147.8 560.5h0M169.6 527.7h0M149.6 546.4h0M160.3 554.3h0M190.2 519.2h0M144.8 544.5h0M200.4 559.0h0M150.9 552.8h0M185.6 530.8h0M147.9 539.6h0M164.3 564.8h0M199.1 557.9h0M163.3 542.6h0M142.8 536.2h0M175.6 553.2h0M200.7 523.5h0M176.3 566.8h0M178.7 560.3h0M196.6 524.4h0M192.1 523.2h0M151.1 523.0h0M196.2 555.4h0M153.8 559.0h0M190.6 521.6h0M176.0 528.8h0M141.1 522.5h0M167.0 534.4h0M140.0 565.9h0M155.7 553.3h0M203.2 523.2h0M171.8 557.5h0M175.5 535.0h0M158.0 558.7h0M148.2 546.8h0M169.4 548.1h0M176.3 561.4h0M165.8 525.4h0M155.7 565.9h0M188.8 539.3h0M186.6 566.0h0M190.5 544.2h0M148.2 542.2h0M191.3 558.7h0M144.4 563.2h0M186.1 522.5h0M155.8 521.2h0M161.9 546.5h0M178.7 529.9h0M150.9 541.9h0M158.3 566.6h0M189.9 554.7h0M167.5 544.7h0M196.3 530.9h0M195.6 526.4h0M173.4 538.9h0M156.7 545.7h0M141.5 540.0h0M151.6 545.8h0M203.3 567.8h0M196.9 564.6h0M171.7 545.8h0M201.9 534.6h0M153.8 564.1h0M190.9 549.9h0M194.2 538.9h0M148.0 521.3h0M160.7 540.8h0M167.9 532.6h0M142.3 536.6h0M179.3 536.3h0M162.7 538.5h0M152.4 528.0h0M192.6 548.1h0M174.2 535.3h0M188.8 524.2h0M171.1 553.3h0M186.5 551.6h0M178.0 562.6h0M145.5 523.1h0M145.5 557.2h0M200.2 523.6h0M203.1 519.9h0M160.4 533.5h0M200.3 552.4h0M142.5 553.4h0M149.9 520.2h0M185.6 537.2h0M154.2 559.1h0M199.6 553.2h0M144.4 527.7h0M139.0 523.1h0M147.8 540.4h0M159.4 557.9h0M175.8 561.7h0M142.9 526.7h0M166.1 558.8h0M198.7 522.9h0M146.2 529.5h0M185.8 528.0h0M196.1 566.4h0M181.6 552.6h0M155.9 550.1h0M179.1 520.6h0M157.4 565.8h0M171.0 556.5h0M184.8 560.4h0M169.1 546.0h0M199.5 553.7h0M177.3 536.9h0M140.8 530.3h0M187.8 522.2h0M139.6 538.2h0M201.2 549.5h0M202.0 556.9h0M139.8 552.8h0M176.6 519.1h0M161.6 564.9h0M196.1 540.0h0M171.9 553.2h0M188.4 522.2h0M174.3 549.7h0M198.1 565.8h0M203.4 535.5h0M179.0 562.7h0M201.4 536.6h0M188.4 530.9h0M163.3 546.8h0M148.5 536.7h0M143.6 521.9h0M201.6 546.9h0M176.5 550.6h0M164.9 540.0h0M198.4 559.4h0M142.8 545.8h0M185.6 542.4h0M141.9 553.1h0M154.7 542.5h0M156.4 552.3h0M185.6 565.9h0M182.0 546.9h0M157.8 547.5h0M201.6 537.4h0M153.6 519.1h0M170.9 537.5h0M194.1 526.7h0M160.3 529.7h0M180.1 559.6h0M143.7 529.4h0M163.7 531.5h0M197.4 528.0h0M145.9 545.3h0M150.9 522.0h0M151.1 565.4h0M184.7 526.3h0M190.3 534.1h0M194.6 522.4h0M186.9 520.6h0M141.6 562.9h0M166.4 552.2h0M162.2 519.3h0M188.7 545.5h0M198.4 544.0h0M154.8 526.4h0M197.7 523.3h0M164.5 529.8h0M147.8 564.4h0M157.3 552.2h0M201.2 564.3h0M168.7 556.0h0M203.7 546.3h0M202.8 541.1h0M194.7 561.2h0M144.7 548.1h0M177.6 539.8h0M149.9 521.3h0M201.0 530.8h0M182.6 562.2h0M190.8 562.4h0M148.2 537.1h0M172.8 522.8h0M169.0 541.7h0M140.6 548.2h0M139.1 540.8h0M144.9 535.9h0M149.5 554.0h0M174.8 527.9h0M167.0 565.9h0M145.4 558.0h0M186.2 527.4h0M161.9 563.6h0M190.1 544.6h0M198.1 554.4h0M183.6 546.7h0M167.2 556.9h0M171.7 529.4h0M163.1 546.0h0M144.3 547.8h0M159.3 555.7h0M183.9 542.1h0M184.8 523.6h0M175.1 521.2h0M142.3 567.6h0M161.1 530.6h0M173.8 558.6h0M178.3 529.6h0M174.6 537.4h0M200.3 543.9h0M176.8 563.1h0M191.2 532.5h0M201.5 534.2h0M142.5 523.7h0M172.4 527.2h0M188.0 527.0h0M142.5 546.0h0M179.0 545.3h0M179.6 560.1h0M153.9 551.5h0M149.1 531.3h0M157.0 542.9h0M157.1 529.4h0M147.6 555.7h0M173.1 524.4h0M166.4 565.7h0M162.4 548.5h0M151.8 519.5h0M147.2 549.7h0M139.8 520.8h0M152.5 521.5h0M199.9 553.1h0M153.2 525.4h0M185.6 543.4h0M194.3 525.2h0M195.9 530.9h0M185.7 521.0h0M189.5 525.4h0M145.1 535.4h0M142.1 531.4h0M151.8 552.4h0M192.6 535.9h0M190.5 530.3h0M192.8 541.4h0M162.1 563.3h0" stroke="#2a2a40" stroke-width="0.65" stroke-linecap="round" opacity="0.42"/><path d="M143.4 545.2l1.7 .8l1.9-.5l-1.8-.9zM180.3 536.8l-3.1 1.8l-1.7 3.3l3.1-1.9zM144.9 536.9l-2.1 .3l-.9 1.9l2.0-.4zM147.2 540.3l-1.3 2.4l.4 2.8l1.3-2.5zM164.0 549.7l-.8 3.6l.5 3.6l.9-3.6zM168.9 536.6l-2.1 3.2l-.3 3.8l2.1-3.2zM153.0 538.0l-.3 1.8l1.4 1.0l.4-1.8zM145.7 526.6l1.3 1.7l2.1-.4l-1.3-1.7zM150.6 528.4l-2.5 .6l-1.7 1.9l2.5-.6zM176.5 552.8l2.1 3.0l3.1 1.9l-2.1-3.0zM190.4 521.0l1.2 2.8l2.7 1.4l-1.2-2.8zM202.5 525.8l-.9 2.2l.4 2.4l.9-2.2zM153.5 526.6l1.7 3.1l3.1 1.5l-1.7-3.1zM163.7 538.8l-1.7 2.9l.5 3.2l1.7-2.8zM162.8 539.5l-2.9 .8l-1.6 2.6l2.9-.8zM187.9 560.5l.2 3.1l2.3 2.2l-.2-3.1zM170.6 564.9l.5 1.7l1.6 .8l-.5-1.7zM152.8 560.7l-2.1-.8l-2.0 1.0l2.1 .8zM158.5 564.4l-1.9 3.3l0 3.7l1.9-3.2zM195.5 562.3l1.1 3.2l2.5 2.4l-1.1-3.2zM187.8 519.9l-2.6 1.3l-1.6 2.4l2.6-1.3zM202.3 551.1l-1.6 .8l-.1 1.8l1.6-.8zM196.8 558.0l3.1 2.0l3.5 .6l-3.0-2.0zM171.5 521.8l2.8 2.4l3.5 1.0l-2.8-2.4zM153.0 559.9l2.8 1.4l3.1-.5l-2.8-1.4zM190.2 558.6l-.2 3.4l1.4 3.2l.1-3.4zM176.3 536.4l-.5 2.3l.9 2.1l.6-2.3zM183.2 520.6l-1.7 0l-1.1 1.4l1.7-.1zM149.5 533.8l-2.4-.6l-2.0 1.4l2.4 .5zM168.4 551.4l-1.5 1.5l.2 2.1l1.5-1.5zM156.1 529.9l-2.5-.7l-2.4 1.1l2.5 .7zM192.6 523.7l-2.7 .5l-2.0 1.8l2.7-.5zM204.2 526.5l-2.4 3.0l-.6 3.7l2.4-2.9zM149.6 526.2l-2.7 2.6l-1.5 3.5l2.7-2.6zM202.8 562.2l-2.6 1.2l-1.2 2.5l2.6-1.2zM185.6 552.1l-3.5-.3l-3.3 1.2l3.5 .3zM144.8 548.5l-2.1 1.8l-.8 2.7l2.1-1.8zM190.3 549.1l-1.6 1.6l-.5 2.3l1.6-1.6zM164.9 537.2l-1.7 .9l.1 1.9l1.7-.9zM176.5 527.4l.1 2.4l1.8 1.6l-.1-2.4zM169.6 517.3l-.4 1.9l1.1 1.6l.4-1.9zM141.9 547.3l-2.5 1.8l-1.4 2.7l2.5-1.8zM184.6 563.6l-1.3 2.6l.5 2.8l1.3-2.6zM158.2 523.2l0 2.0l1.7 .9l.1-2.0zM198.2 550.2l2.2 2.6l3.3 .9l-2.2-2.5zM143.2 523.9l-2.0 .3l-.5 1.9l1.9-.3zM166.3 567.0l-2.9-.2l-2.5 1.5l2.9 .2zM184.4 516.7l-.1 2.6l1.7 2.0l.1-2.6zM202.4 539.1l-1.7 1.1l.1 2.0l1.7-1.1zM150.2 534.3l-.2 2.0l1.2 1.6l.2-2.0zM177.6 546.4l-2.4-.3l-2.0 1.4l2.4 .3zM156.7 541.8l-1.5 2.8l.3 3.1l1.6-2.7zM145.6 552.6l1.6 1.1l1.9-.6l-1.6-1.1zM199.0 543.2l-2.1 .5l-.9 1.9l2.1-.4zM167.3 545.3l2.0 2.9l2.9 1.9l-1.9-2.9zM175.0 557.7l-.1 2.1l1.7 1.2l.1-2.1zM154.8 534.8l.5 2.3l1.7 1.4l-.4-2.2zM147.0 529.0l-2.8 .2l-2.3 1.7l2.9-.2zM152.6 539.7l-1.7 1.3l-.1 2.1l1.7-1.3zM203.0 523.6l-2.2 2.5l-1.0 3.3l2.2-2.6zM146.0 529.6l-3.4-.5l-3.1 1.6l3.4 .5zM151.6 560.6l.9 2.0l1.9 .9l-.8-2.0zM158.8 561.5l-.1 1.8l1.4 1.2l.1-1.8zM151.8 519.1l-2.3 .4l-1.1 2.2l2.4-.4zM174.6 562.4l-1.6 1.3l.1 2.1l1.7-1.3zM198.7 554.6l1.2 1.9l2.3 .3l-1.3-1.9zM137.9 543.9l.3 2.2l2.0 .9l-.2-2.2zM165.7 543.0l-2.5 0l-1.7 1.8l2.5 0zM150.5 563.5l1.6 2.5l2.6 1.3l-1.5-2.5zM197.5 539.3l.8 3.3l2.0 2.6l-.7-3.2zM168.1 561.1l-2.3 .7l-1.5 1.9l2.3-.7zM179.3 544.3l1.7 3.3l2.8 2.3l-1.7-3.2zM196.2 564.3l2.5 2.2l3.2 .8l-2.5-2.2zM143.2 530.2l-2.5 1.5l-.7 2.8l2.4-1.5zM193.9 543.5l.7 2.9l2.5 1.5l-.7-2.9zM186.4 524.0l2.0 1.3l2.4-.5l-2.0-1.3zM161.6 523.5l-3.1 1.5l-2.3 2.6l3.1-1.5zM186.1 556.3l1.3 1.5l1.9-.1l-1.2-1.5zM147.9 547.5l2.4 2.1l3.2 .6l-2.4-2.1zM167.5 545.8l-2.7 2.6l-1.5 3.5l2.8-2.6zM163.4 520.0l3.0 .8l3.1-.8l-3.0-.7zM151.1 552.0l2.7 2.6l3.6 .9l-2.7-2.6zM188.5 526.7l3.0 1.6l3.4-.3l-3.0-1.7zM147.6 565.5l-2.1 .4l-1.0 2.0l2.2-.4zM158.6 527.5l2.9 1.6l3.3-.4l-2.9-1.6zM188.6 555.9l-3.7-.1l-3.5 1.2l3.7 .1zM140.7 560.6l-1.9 2.1l-.6 2.7l1.9-2.1zM188.4 547.0l-.1 2.7l1.5 2.2l.2-2.7zM194.8 526.0l-2.5-.5l-2.2 1.2l2.5 .5zM160.7 526.4l3.0 1.9l3.6 .1l-3.0-1.9zM149.8 547.8l1.9 2.3l3.0 .5l-1.9-2.4zM177.6 549.0l-.1 3.0l1.1 2.7l.2-2.9z" fill="#1e2266"/><path d="M166.0 546.4l-2.9 1.9l-1.9 3.0l2.9-1.9zM148.2 556.0l-2.2 .8l-.7 2.2l2.2-.7zM196.2 557.8l-3.1 1.9l-2.0 3.1l3.2-1.9zM161.0 532.3l.8 2.3l2.2 .8l-.8-2.3zM182.7 551.3l-1.7 1.4l-.5 2.2l1.7-1.4zM183.1 565.7l-2.7-.8l-2.7 1.0l2.7 .8zM162.8 530.7l-1.8-1.1l-1.8 1.2l1.8 1.1zM192.2 558.1l.3 2.8l1.8 2.2l-.3-2.8zM166.4 541.4l-3.5-.1l-3.2 1.6l3.5 .1zM161.9 534.5l-1.7 2.4l.5 2.9l1.7-2.4zM198.9 562.0l.4 2.3l1.7 1.5l-.4-2.2zM176.6 531.4l.3 3.7l2.0 3.2l-.3-3.8zM161.6 550.7l.6 3.8l2.0 3.2l-.6-3.8zM205.4 531.7l-3.6 .2l-3.1 1.9l3.6-.2zM177.8 526.8l2.9 1.3l3.0-.8l-2.9-1.3zM199.2 549.3l-1.8 .7l-.1 1.9l1.8-.7zM191.2 563.2l-.4 2.0l1.7 1.0l.4-1.9zM137.3 532.4l3.0 2.3l3.8 .5l-3.0-2.3zM191.5 544.9l-2.9-.6l-2.9 .7l2.9 .7zM149.3 527.4l2.2 2.1l2.9 .6l-2.1-2.1zM152.3 552.2l-2.4 1.7l-1.3 2.6l2.4-1.7zM188.6 533.1l.4 3.3l2.4 2.3l-.4-3.3zM182.7 527.6l-1.5 1.5l-.2 2.2l1.5-1.6zM165.3 540.7l-3.2 .6l-2.1 2.5l3.2-.6zM141.9 519.3l2.7 2.6l3.4 1.5l-2.7-2.6zM146.2 541.4l-1.4 1.4l-.2 1.9l1.4-1.3zM144.2 558.2l-.4 3.2l1.6 2.7l.5-3.2zM154.3 558.3l.9 3.2l2.5 2.3l-.9-3.2zM204.6 532.3l-1.8 3.4l.3 3.9l1.8-3.4zM161.2 557.5l1.6 2.7l3.0 .9l-1.6-2.7zM197.3 527.4l-.8 3.6l1.3 3.4l.8-3.6zM148.1 529.5l-2.7 .4l-2.0 1.9l2.7-.4zM194.4 540.5l-2.0 1.3l-1.1 2.2l2.1-1.3zM144.7 534.1l-2.9-.5l-2.5 1.6l2.9 .5zM163.6 536.9l-1.3 2.9l0 3.2l1.3-2.9zM159.8 539.5l1.2 1.5l1.8-.6l-1.2-1.5zM158.4 562.4l-.4 2.9l1.6 2.5l.4-2.9zM165.8 542.2l-1.4 2.7l.2 3.1l1.4-2.7zM150.5 526.4l2.3 1.5l2.7-.2l-2.3-1.5zM186.1 525.2l2.9 1.2l3.0-.7l-2.9-1.2zM197.1 563.7l-3.7 .2l-3.2 2.0l3.8-.1zM182.9 538.0l-1.6 2.0l.2 2.6l1.6-2.0zM195.0 520.4l.8 3.3l2.3 2.6l-.8-3.3zM140.5 559.6l-.1 1.8l1.5 1.0l.1-1.8zM170.2 517.7l-1.8 2.9l.5 3.3l1.8-2.9zM184.8 528.0l-1.5 1.6l.4 2.2l1.5-1.6zM161.8 566.5l-3.6 0l-3.0 1.8l3.5 0zM169.4 532.9l-2.4-.1l-1.9 1.5l2.4 0zM189.4 533.4l-2.2 0l-1.7 1.3l2.1 0zM162.7 562.5l1.3 2.7l2.8 1.2l-1.3-2.7zM197.1 531.6l-2.6 .2l-2.1 1.6l2.6-.2zM141.9 532.6l-.8 2.5l1.2 2.4l.7-2.5zM203.4 549.1l-1.2 2.6l.8 2.8l1.2-2.6zM158.2 530.6l-1.9-.1l-1.4 1.2l1.9 .1zM155.1 539.2l1.5 2.0l2.4 0l-1.4-2.0zM148.8 553.9l-2.8 .1l-1.8 2.0l2.7-.1zM180.1 527.0l-2.9 .5l-2.0 2.2l2.9-.5zM176.2 537.0l-2.2 2.7l0 3.5l2.1-2.7zM149.2 558.8l1.3 1.7l2.1-.2l-1.3-1.6zM155.7 538.8l-2.3 1.8l-.9 2.8l2.3-1.8zM167.4 557.2l-3.1 1.5l-2.2 2.6l3.0-1.5zM179.1 551.1l1.5 3.3l3.0 2.1l-1.5-3.3zM195.6 520.5l.3 2.4l2.1 1.0l-.2-2.4zM190.2 547.7l1.3 1.9l2.3 .4l-1.3-1.9zM183.5 554.6l2.6 2.0l3.3 .6l-2.7-2.0zM179.0 528.7l-.1 1.9l1.2 1.5l.1-1.9zM143.0 549.9l-.4 3.1l1.2 2.9l.5-3.1zM140.3 559.2l-1.5 1.4l.3 2.0l1.4-1.4zM201.7 526.1l-2.1 .6l-.9 2.1l2.1-.7zM177.1 539.4l-3.6 1.2l-2.4 2.9l3.6-1.2zM196.4 518.6l1.8 1.9l2.6 .6l-1.8-1.9zM159.1 560.9l-1.9 .6l-.2 1.9l1.9-.6zM153.4 561.5l2.1 1.8l2.7-.2l-2.1-1.8zM178.6 552.1l1.8 1.5l2.4 0l-1.8-1.5zM176.5 558.0l.9 3.5l2.2 3.0l-1.0-3.5zM197.2 521.1l-2.1 .3l-.9 1.8l2.0-.3zM181.5 535.6l1.7 2.9l2.8 1.7l-1.7-2.9zM186.7 562.8l-.6 2.7l1.4 2.4l.5-2.7zM142.2 527.9l1.7 .9l1.8-.4l-1.6-.9zM202.3 518.0l-1.6 2.8l.6 3.3l1.6-2.9zM183.8 520.6l3.2 1.9l3.7-.3l-3.2-1.9zM198.1 542.1l-3.2-.4l-2.8 1.7l3.2 .4zM160.6 545.2l.6 2.9l1.9 2.3l-.5-2.9zM185.3 562.1l1.1 1.5l1.9 .3l-1.1-1.5zM195.7 524.8l-1.6 1.1l-.3 1.9l1.6-1.1zM158.2 561.4l-2.6-.4l-1.9 1.7l2.6 .5zM197.9 517.3l-1.0 2.6l.9 2.7l.9-2.6zM161.9 531.6l-1.7 0l-1.1 1.3l1.7 0zM182.4 540.6l-.1 3.1l1.9 2.4l.2-3.1zM188.0 551.0l-.6 2.5l1.2 2.3l.5-2.5zM150.7 536.1l-2.5 2.4l-.8 3.4l2.5-2.4zM141.9 535.2l-.9 2.2l.7 2.3l.9-2.2zM175.7 522.0l-1.5 1.4l-.3 2.1l1.5-1.4zM195.2 521.4l-3.3 1.1l-2.6 2.4l3.3-1.2zM165.0 531.2l-2.7 1.7l-1.0 3.0l2.7-1.7zM199.2 561.2l-.8 2.7l1.1 2.5l.8-2.6zM170.5 554.2l1.6 3.4l3.0 2.3l-1.5-3.5zM151.5 532.4l-1.3 1.3l.2 1.8l1.3-1.3zM193.8 523.7l-3.3-.3l-2.8 1.9l3.3 .3zM194.7 559.7l-.8 1.9l1.4 1.5l.8-1.9zM147.7 552.9l1.6 1.2l1.8-.6l-1.5-1.2zM199.0 553.1l.2 2.8l1.5 2.3l-.1-2.8zM137.6 548.4l1.1 2.1l2.1 1.0l-1.1-2.1zM177.0 539.5l-3.5-.3l-3.1 1.7l3.5 .3zM150.5 542.7l-1.1 3.5l1.1 3.5l1.1-3.5zM182.2 560.4l-.5 2.2l1.6 1.6l.5-2.2zM175.2 549.2l-3.7-.1l-3.0 2.0l3.6 .1zM189.3 525.2l-1.2 2.4l.4 2.6l1.2-2.4zM153.7 547.1l-1.0 1.7l.9 1.7l1.0-1.7zM163.1 548.6l.1 2.6l1.8 1.9l0-2.6zM175.0 522.8l-3.7 .9l-2.9 2.4l3.7-.9zM175.7 531.1l-2.2 2.2l-.9 2.9l2.2-2.2zM147.8 559.7l-.7 1.6l.9 1.5l.7-1.6z" fill="#2d3488"/></g></svg>
<rect x="205" y="519" width="64.0" height="49.0" fill="#c6c6d5"/><svg x="205" y="519" width="64.0" height="49.0" viewBox="205 519 64.0 49.0" overflow="hidden"><g filter="url(#bl)"><path d="M231.4 547.9h0M268.8 522.1h0M233.0 549.3h0M236.0 546.6h0M240.4 548.2h0M224.6 552.3h0M221.3 536.2h0M244.5 547.0h0M231.0 522.7h0M237.6 558.3h0M256.3 560.5h0M212.2 541.6h0M223.5 541.5h0M265.4 535.8h0M230.5 547.5h0M256.7 524.2h0M229.4 557.0h0M239.2 532.0h0M225.2 557.8h0M215.7 550.4h0M256.6 561.9h0M225.9 527.4h0M258.5 567.3h0M215.5 525.8h0M234.4 538.4h0M223.6 548.5h0M208.9 560.2h0M216.5 545.2h0M221.2 544.5h0M254.3 519.0h0M261.1 547.1h0M217.2 551.6h0M207.6 542.6h0M247.7 545.5h0M220.2 548.2h0M235.3 559.8h0M252.6 524.2h0M227.2 567.2h0M220.1 526.3h0M266.4 557.6h0M263.6 521.3h0M218.6 552.3h0M251.1 556.2h0M230.8 548.0h0M260.6 548.2h0M246.3 519.8h0M267.0 536.5h0M223.7 546.3h0M254.1 528.4h0M233.0 545.5h0M259.1 567.5h0M232.6 546.9h0M237.2 542.5h0M251.1 520.0h0M212.6 542.1h0M231.5 550.5h0M207.2 524.5h0M253.0 540.0h0M261.9 525.0h0M219.8 564.0h0M224.4 566.5h0M213.4 548.2h0M207.8 542.7h0M247.6 565.8h0M240.8 564.5h0M257.4 537.3h0M224.3 520.9h0M214.1 557.1h0M212.5 563.6h0M244.1 540.4h0M235.6 534.5h0M232.2 527.7h0M265.1 527.9h0M244.0 535.3h0M218.8 550.1h0M247.2 540.5h0M206.9 543.4h0M235.7 538.1h0M239.6 552.6h0M225.8 548.3h0M243.5 535.0h0M211.2 559.4h0M219.8 530.0h0M205.4 559.7h0M267.0 533.1h0M251.6 529.7h0M215.6 559.6h0M262.6 521.8h0M252.4 538.3h0M247.1 565.4h0M264.6 522.3h0M250.9 542.1h0M264.1 550.4h0M245.5 541.7h0M215.1 556.8h0M239.3 545.7h0M220.8 536.0h0M225.5 552.1h0M240.5 527.4h0M242.4 534.0h0M248.6 536.0h0M250.6 534.3h0M231.0 566.9h0M226.0 537.0h0M210.4 522.3h0M226.5 521.6h0M259.5 521.3h0M224.7 523.5h0M233.7 534.1h0M235.2 556.5h0M245.9 536.5h0M214.0 540.5h0M238.9 555.4h0M251.9 524.5h0M255.5 541.6h0M227.8 533.7h0M256.6 547.0h0M217.8 533.2h0M262.7 529.0h0M226.3 542.9h0M239.2 529.9h0M213.0 529.7h0M210.3 557.6h0M249.1 530.7h0M246.2 564.0h0M267.7 539.9h0M207.4 542.2h0M239.2 527.6h0M263.5 522.3h0M255.8 542.5h0M235.4 519.5h0M257.9 540.3h0M225.2 522.1h0M216.6 540.8h0M224.6 535.0h0M247.3 564.4h0M251.7 542.6h0M256.6 544.1h0M211.5 546.7h0M211.9 539.8h0M235.6 533.3h0M260.6 543.3h0M252.1 540.7h0M229.2 527.0h0M256.8 547.9h0M209.2 534.2h0M218.4 538.4h0M242.6 547.2h0M261.9 549.8h0M232.5 566.6h0M226.9 548.9h0M241.8 557.7h0M249.1 524.5h0M239.1 546.2h0M235.7 547.3h0M239.0 530.5h0M264.6 553.7h0M215.5 553.5h0M239.6 539.1h0M238.4 563.3h0M215.9 533.4h0M222.7 565.0h0M254.7 533.6h0M253.1 563.1h0M247.9 554.5h0M242.3 540.5h0M240.9 562.0h0M257.7 562.6h0M226.0 553.8h0M227.3 544.5h0M265.5 555.4h0M258.9 521.5h0M214.2 540.6h0M242.4 554.8h0M244.0 563.0h0M259.1 560.1h0M257.5 533.7h0M239.6 550.3h0M263.1 541.1h0M210.2 519.7h0M226.0 547.4h0M224.2 566.3h0M264.2 558.7h0M255.6 557.9h0M218.2 543.3h0M260.9 544.6h0M230.0 544.6h0M210.3 554.6h0M245.8 529.3h0M237.2 555.8h0M259.3 524.6h0M210.2 531.0h0M268.1 543.1h0M239.5 532.5h0M263.7 547.2h0M261.8 520.1h0M255.9 551.2h0M260.5 560.3h0M241.7 560.5h0M258.3 540.8h0M241.9 537.1h0M214.5 561.2h0M264.2 547.7h0M219.1 557.7h0M210.7 559.6h0M225.0 543.7h0M253.1 556.0h0M234.7 555.7h0M254.2 551.8h0M217.5 552.0h0M206.3 555.5h0M212.8 530.8h0M242.4 519.5h0M266.3 545.1h0M259.6 567.3h0M224.7 550.7h0M225.2 524.9h0M251.3 521.1h0M208.8 545.0h0M257.9 558.1h0M259.8 554.1h0M207.7 535.1h0M261.3 533.7h0M250.7 529.1h0M209.5 535.8h0M249.6 557.6h0M236.8 537.6h0M230.7 563.8h0M210.0 552.8h0M237.6 548.4h0M241.4 529.2h0M220.5 549.3h0M250.1 549.7h0M239.9 566.8h0M267.5 560.2h0M232.5 537.0h0M266.2 541.1h0M220.8 550.9h0M260.1 559.2h0M220.3 542.9h0M216.9 536.0h0M261.1 524.0h0M223.6 538.3h0M248.4 521.1h0M213.6 543.9h0M220.4 542.8h0M234.2 560.9h0M239.9 539.7h0M254.0 537.5h0M205.3 563.8h0M223.9 544.5h0M229.2 531.5h0M209.4 553.5h0M231.4 520.7h0M211.7 568.0h0M234.6 565.5h0M245.6 529.0h0M239.3 559.1h0M263.8 539.1h0M222.0 566.8h0M266.7 520.8h0M247.8 545.8h0M213.7 567.0h0M205.5 526.0h0M231.9 539.7h0M264.8 543.9h0M211.6 550.1h0M248.3 541.2h0M238.8 547.4h0M242.9 557.9h0M264.3 547.2h0M241.8 521.2h0M236.7 531.7h0M253.4 564.0h0M260.1 549.7h0M249.3 519.2h0M216.1 543.8h0M253.9 532.6h0M244.3 541.3h0M222.3 534.7h0M266.5 524.5h0M250.2 559.7h0M254.1 545.3h0M262.1 525.7h0M236.4 541.2h0M261.8 520.0h0M266.9 558.5h0M266.4 567.3h0M255.5 556.1h0M258.7 559.2h0M254.6 556.5h0M207.2 533.9h0M218.3 543.7h0M238.5 522.2h0M236.6 545.9h0M233.4 555.6h0M266.6 529.9h0M220.0 538.8h0M253.7 541.0h0M258.1 523.6h0M250.9 548.6h0M244.9 524.5h0M265.9 528.5h0M257.9 561.8h0M267.0 528.1h0M213.2 525.5h0M221.9 527.2h0M207.5 531.8h0M246.9 527.3h0M260.7 562.8h0M244.1 554.5h0M227.8 541.6h0M205.5 556.1h0M209.2 521.8h0M249.2 552.8h0M258.7 532.3h0M241.2 526.8h0M228.8 557.3h0M258.8 550.5h0M208.8 542.7h0M244.4 523.8h0M245.6 526.1h0M253.0 545.7h0M234.8 547.8h0M252.1 542.3h0M252.6 567.2h0M260.4 547.1h0M218.1 527.7h0M210.0 543.3h0M224.1 526.1h0M223.5 532.0h0M262.0 550.6h0M218.7 539.5h0M211.9 559.6h0M208.3 528.4h0M229.5 540.1h0M249.0 529.5h0M235.4 526.3h0M230.6 553.0h0M215.9 564.8h0M214.7 520.7h0M243.1 557.2h0M220.1 562.8h0M231.5 525.6h0M241.6 528.6h0M266.3 547.6h0M205.6 541.8h0M243.7 520.5h0M211.1 530.9h0M226.3 558.1h0M266.8 520.3h0M234.5 549.2h0M210.7 555.9h0M207.2 541.1h0M215.3 524.3h0M239.6 537.7h0M207.6 544.0h0M261.6 551.1h0M236.7 528.1h0M206.6 559.4h0M225.2 564.2h0M254.5 555.4h0M255.7 567.9h0M212.1 527.2h0M256.7 566.3h0M235.3 519.3h0M221.4 531.0h0M208.4 566.9h0M257.8 556.2h0M223.8 557.5h0M262.8 528.0h0M214.2 550.7h0M206.0 535.8h0M218.7 547.8h0M253.3 526.0h0M251.9 564.9h0M251.7 547.6h0M224.5 559.3h0M256.1 542.2h0M216.5 549.2h0M218.3 527.9h0M246.1 536.3h0M211.0 564.2h0M235.1 522.9h0M234.8 559.1h0M251.1 520.2h0M267.1 525.6h0M265.7 559.5h0M228.0 545.5h0M212.2 520.8h0M211.8 547.2h0M212.1 565.8h0M239.4 564.2h0M210.8 558.5h0M239.6 538.8h0M253.5 533.0h0M243.8 545.3h0M231.5 542.5h0M232.4 562.1h0M267.8 552.0h0M213.1 541.7h0M268.9 563.5h0M237.0 532.2h0M234.2 520.2h0M252.9 540.5h0M247.1 566.8h0M267.5 524.4h0M207.1 533.3h0M259.2 525.4h0M233.0 521.1h0M230.8 555.1h0M253.9 564.7h0M254.2 565.2h0M217.9 548.8h0M251.7 525.3h0M217.6 535.0h0M219.7 545.5h0M237.6 532.3h0M265.5 520.9h0M215.1 530.0h0" stroke="#2a2a40" stroke-width="0.65" stroke-linecap="round" opacity="0.42"/><path d="M268.1 537.4l-1.9 1.2l-.7 2.1l1.9-1.2zM212.3 526.6l-3.3-.3l-2.9 1.5l3.3 .3zM204.8 562.3l.7 1.5l1.6 .4l-.7-1.5zM207.4 542.8l-1.9 1.1l-.7 2.1l1.9-1.1zM262.1 536.1l-3.2 .9l-2.2 2.5l3.2-.9zM264.4 543.1l2.5 1.8l3.2 .4l-2.6-1.8zM260.0 565.1l-1.8 0l-1.3 1.2l1.8 .1zM205.2 534.6l-.1 2.4l1.3 1.9l.1-2.4zM258.4 539.8l1.7 1.0l1.9-.3l-1.7-1.0zM261.8 551.0l-1.4 3.2l.6 3.4l1.4-3.2zM209.8 520.1l2.4 1.2l2.6-.3l-2.4-1.2zM206.1 520.4l-.5 2.9l1.2 2.6l.6-2.9zM265.3 537.9l-1.7 1.7l-.4 2.3l1.7-1.6zM240.9 535.5l-2.5 1.2l-1.2 2.5l2.4-1.2zM260.8 530.6l-1.9 2.9l-.6 3.3l1.9-2.8zM236.0 524.3l-.4 2.2l1.4 1.7l.4-2.2zM233.8 524.7l-3.3 1.8l-1.8 3.3l3.3-1.8zM249.3 535.8l-.2 2.5l1.6 1.9l.3-2.5zM260.8 537.5l-2.0 2.9l-.6 3.4l2.0-2.8zM256.9 548.9l.3 2.9l2.1 2.2l-.3-3.0zM267.3 521.7l-.8 2.7l1.1 2.6l.7-2.7zM212.4 527.7l1.1 3.4l2.8 2.3l-1.1-3.5zM229.6 554.4l2.0 1.5l2.4 .1l-1.9-1.5zM254.7 538.3l0 2.3l1.8 1.4l0-2.3zM239.4 524.6l1.6 3.4l3.2 2.2l-1.7-3.4zM257.3 554.8l-1.0 1.7l1.1 1.8l.9-1.8zM241.5 542.8l-1.8 1.9l-.8 2.5l1.9-1.9zM218.3 523.8l-2.4 2.7l-.9 3.4l2.4-2.7zM255.3 524.9l.4 3.5l1.7 3.1l-.4-3.5zM252.6 543.4l-1.1 1.5l1.1 1.5l1.1-1.5zM249.8 560.3l1.2 2.3l2.6 .5l-1.2-2.3zM243.5 559.2l2.2 .9l2.3-.8l-2.2-.9zM219.4 538.8l-1.9 1.0l-.5 2.2l1.9-1.1zM264.3 543.3l-1.3 2.9l.9 3.1l1.3-2.9zM220.2 541.5l.2 1.9l1.5 1.2l-.2-1.9zM216.8 560.0l-3.5 1.3l-2.7 2.5l3.5-1.3zM222.5 550.4l-1.7 .7l0 1.9l1.7-.7zM234.9 552.3l-2.3-.5l-1.7 1.6l2.3 .5zM264.6 558.8l-2.5-.1l-2.1 1.2l2.4 .1zM239.3 531.0l2.1 2.9l3.2 1.5l-2.1-2.9zM265.8 553.6l-3.0 .7l-1.8 2.4l3.0-.6zM219.5 523.9l-.5 2.4l.8 2.2l.6-2.3zM258.2 544.1l-2.1 1.4l-.8 2.3l2.1-1.3zM248.3 561.5l-1.3 3.3l.2 3.5l1.3-3.3zM225.8 555.7l-.8 3.5l.8 3.5l.8-3.5zM227.7 530.5l-2.4-.4l-2.0 1.6l2.5 .4zM242.0 521.3l-2.6 .7l-1.5 2.2l2.5-.7zM241.8 554.1l.5 2.7l1.7 2.1l-.5-2.7zM259.3 547.1l-.7 3.3l1.5 3.1l.6-3.3zM253.3 537.4l.4 2.6l1.8 2.0l-.5-2.6zM216.7 542.7l2.1 .9l2.3-.7l-2.2-.9zM231.5 556.4l1.0 3.4l2.6 2.4l-1.1-3.4zM218.7 519.6l-2.6 1.2l-1.6 2.5l2.7-1.3zM239.0 563.6l-.9 3.5l.5 3.5l1.0-3.5zM208.9 537.6l-1.5 1.5l-.4 2.2l1.5-1.6zM216.9 541.4l.7 1.8l1.9 .2l-.6-1.9zM220.0 542.0l-2.0 2.6l-.1 3.3l2.1-2.6zM248.1 518.4l-1.3 2.0l1.0 2.2l1.3-2.0zM250.8 525.7l-3.0 1.2l-1.7 2.7l3.0-1.1zM229.2 518.5l-2.7 1.0l-1.3 2.5l2.7-.9zM245.2 553.7l-3.6 .9l-2.9 2.3l3.6-.9zM220.4 517.8l.2 2.2l1.9 1.1l-.2-2.2zM250.5 540.5l.9 3.5l2.5 2.6l-.9-3.5zM216.1 526.9l-2.1 .2l-1.3 1.7l2.1-.2zM216.5 521.1l1.2 1.9l2.2-.2l-1.2-1.9zM229.4 529.8l-1.4 3.2l.3 3.5l1.4-3.2zM242.1 520.6l-2.6 2.7l-1.3 3.6l2.6-2.7zM256.8 563.4l-3.4 .1l-3.0 1.5l3.3-.1zM253.0 560.1l1.0 3.1l2.7 1.7l-1.0-3.1zM216.1 558.2l-.3 2.2l1.7 1.3l.3-2.1zM271.0 542.3l-2.8 .2l-2.3 1.6l2.8-.3zM230.1 534.5l-1.4 1.4l.8 1.8l1.4-1.4zM211.8 538.0l.5 2.5l2.0 1.7l-.5-2.5zM260.8 544.0l-1.7 1.8l.5 2.4l1.7-1.8zM204.3 528.0l2.4 2.7l3.4 1.3l-2.4-2.7zM260.0 534.6l-3.7 .6l-3.2 2.0l3.7-.6zM224.2 533.1l1.6 2.9l3.1 1.2l-1.6-2.9zM235.1 544.5l1.6 2.5l2.8 .9l-1.6-2.5zM254.0 526.7l-.4 2.1l1.6 1.4l.4-2.1zM248.7 522.6l-3.1 1.6l-1.7 3.1l3.1-1.6zM241.5 546.6l2.1 3.0l3.2 2.0l-2.2-3.0zM226.3 565.7l-.1 1.9l1.2 1.4l.1-1.9zM225.4 533.8l-3.1-.1l-2.7 1.6l3.1 .1zM210.9 560.4l-.4 3.2l1.8 2.8l.4-3.3zM223.5 560.2l-1.9 1.2l-.6 2.2l1.8-1.3zM243.3 551.4l-1.3 3.5l.3 3.8l1.3-3.5zM229.9 548.0l2.2 2.6l3.1 1.5l-2.2-2.6zM211.7 535.3l-3.2-.6l-3.0 1.4l3.2 .6zM213.2 556.2l-.4 1.7l1.4 1.2l.3-1.7zM249.7 521.6l2.1 2.0l2.8 .7l-2.1-2.0zM231.6 552.4l-1.5 3.5l.3 3.8l1.5-3.5zM243.3 548.8l-.6 2.5l1.4 2.2l.7-2.5zM228.9 527.0l-1.7 1.0l.2 2.0l1.7-1.0zM217.4 520.7l2.0 2.5l2.9 1.5l-2.0-2.5zM217.6 547.5l-.6 1.9l1.0 1.7l.6-1.9zM254.4 559.1l-1.9-.4l-1.1 1.7l2.0 .4zM219.8 541.2l-1.5 3.4l-.1 3.6l1.4-3.3zM247.1 525.8l.2 3.5l1.7 3.1l-.2-3.5zM264.5 547.2l-.3 2.2l1.2 2.0l.2-2.2zM217.8 525.2l-1.3 2.5l.9 2.6l1.3-2.5zM230.6 563.1l.6 1.8l1.9 .1l-.6-1.8zM223.4 548.0l-.4 1.7l1.1 1.4l.4-1.7zM221.2 529.2l1.9 1.5l2.4-.4l-1.9-1.6zM219.0 532.7l-1.1 3.3l1.1 3.2l1.0-3.2zM229.3 526.7l-1.3 3.2l0 3.5l1.4-3.2z" fill="#1e2266"/><path d="M220.7 523.0l-1.2 1.3l.5 1.6l1.2-1.2zM267.2 524.8l1.7 1.2l1.8-.9l-1.7-1.2zM237.0 561.6l-1.3 3.1l.7 3.2l1.2-3.1zM251.9 552.4l-1.2 2.8l.4 2.9l1.3-2.7zM227.5 566.0l-3.8 .5l-2.8 2.5l3.7-.5zM237.7 531.1l-2.2-.2l-1.8 1.2l2.2 .2zM247.4 543.9l-.8 2.3l.8 2.4l.8-2.4zM264.1 531.5l2.0 3.2l3.1 2.2l-2.0-3.2zM226.3 562.5l-1.5 2.6l0 2.9l1.5-2.5zM238.3 561.3l-1.8 2.6l0 3.1l1.8-2.6zM267.3 522.8l-1.1 3.4l.4 3.6l1.1-3.4zM207.8 530.4l1.2 2.0l2.2 .9l-1.2-2.0zM244.1 527.0l1.0 2.3l2.4 .5l-1.0-2.2zM207.5 532.2l-1.9 .7l-.9 1.7l1.9-.7zM243.0 534.7l-2.9-.4l-2.5 1.5l2.9 .4zM256.5 564.8l-1.7 1.6l-.6 2.4l1.7-1.7zM249.6 554.8l1.3 1.8l2.2-.3l-1.3-1.8zM255.2 559.7l1.1 3.5l2.9 2.4l-1.2-3.5zM266.8 532.1l-.4 2.0l1.1 1.7l.4-2.0zM202.9 541.6l2.0 2.7l3.1 1.1l-2.0-2.7zM234.4 563.3l-1.2 2.4l1.1 2.4l1.2-2.4zM212.7 563.6l-.3 3.8l1.6 3.4l.3-3.8zM222.4 550.8l-3.4 .5l-2.6 2.2l3.4-.5zM251.6 542.8l-1.3 2.0l.8 2.2l1.3-2.0zM232.2 560.6l-1.9-.1l-.7 1.8l1.9 0zM250.7 521.8l-1.9 1.9l0 2.7l1.9-1.9zM206.5 522.1l1.0 2.2l2.4 .4l-1.0-2.2zM236.6 523.5l-1.9 .5l-.5 2.0l1.9-.6zM232.6 550.2l2.0 1.8l2.6-.2l-2.0-1.8zM231.6 561.7l-2.7 2.1l-.8 3.3l2.7-2.1zM254.3 519.1l-1.8 2.0l-.6 2.7l1.8-2.0zM213.5 538.7l-.7 3.3l1.3 3.1l.7-3.3zM212.9 517.5l-1.7 2.6l-.5 3.1l1.8-2.6zM215.7 559.9l-1.9 2.6l.2 3.2l1.9-2.6zM230.2 539.5l3.4 1.2l3.5-1.0l-3.4-1.2zM238.6 549.2l.7 3.2l2.1 2.4l-.7-3.2zM235.2 517.4l1.0 3.0l2.6 1.7l-1.0-2.9zM207.9 564.9l-1.5 2.7l.6 2.9l1.5-2.6zM254.1 560.7l-1.8 .8l-.7 1.9l1.9-.8zM231.0 564.5l-3.4 1.7l-2.0 3.2l3.3-1.7zM216.2 557.7l-2.1 2.5l-.2 3.2l2.1-2.5zM267.8 539.8l-.1 3.5l1.7 3.0l.1-3.5zM231.8 524.1l-2.9 1.8l-1.5 3.0l2.8-1.8zM205.3 525.9l.6 3.4l2.2 2.7l-.6-3.4zM253.1 538.8l-.8 3.8l1.2 3.7l.8-3.8zM249.3 565.4l1.8 1.8l2.6 .2l-1.9-1.8zM235.6 521.2l-3.0 1.0l-2.3 2.1l3.0-1.0zM253.6 556.6l-.9 3.4l1.1 3.3l.9-3.4zM265.4 523.3l1.2 1.8l2.1 0l-1.2-1.8zM214.3 522.6l1.4 2.2l2.5 .8l-1.4-2.3zM218.4 520.2l-2.0-.6l-1.8 1.1l2.0 .6zM257.6 519.3l-.6 2.9l1.4 2.5l.7-2.9zM211.9 556.8l-.4 2.0l1.1 1.7l.4-2.0zM265.0 517.8l-2.1 .8l-.7 2.1l2.1-.8zM227.0 518.7l-2.1 2.9l-.3 3.6l2.1-2.9zM224.0 552.5l1.5 1.7l2.2-.1l-1.5-1.7zM253.0 546.2l-1.0 1.5l.9 1.6l1.1-1.5zM226.6 516.9l-3.1 1.4l-1.5 3.1l3.1-1.5zM204.9 520.7l1.1 1.4l1.8-.4l-1.1-1.5zM260.8 547.6l-2.1-.4l-1.5 1.5l2.1 .4zM264.0 560.7l.9 1.9l1.9 1.1l-.9-2.0zM207.3 525.9l-2.3 .7l-1.5 1.9l2.3-.7zM234.2 517.4l-2.5 1.4l-1.3 2.5l2.5-1.4zM260.2 518.7l.1 3.4l2.1 2.7l-.2-3.4zM215.8 541.5l1.5 1.8l2.3 .3l-1.5-1.8zM230.3 544.8l-1.7 3.2l.3 3.6l1.6-3.2zM221.7 542.2l-2.1-.5l-1.9 1.2l2.2 .5zM256.0 518.3l-2.4 1.5l-1.4 2.5l2.4-1.5zM247.7 559.4l.9 2.3l2.1 1.2l-.9-2.3zM215.5 546.7l-1.9 .2l-1.2 1.5l1.9-.2zM233.0 561.4l-.4 2.6l.9 2.4l.5-2.6zM225.7 554.3l3.1 1.7l3.5 .3l-3.1-1.7zM253.5 530.8l-3.4-.1l-3.0 1.5l3.4 .1zM214.7 545.4l.4 2.8l2.0 2.2l-.5-2.9zM263.3 533.4l-2.5 1.2l-1.0 2.7l2.5-1.3zM257.4 541.9l-.1 3.8l1.5 3.4l.1-3.7zM244.1 525.9l-2.2 .8l-1.2 2.0l2.2-.8zM229.6 554.4l-2.7 1.0l-1.6 2.2l2.6-.9zM256.6 561.7l-3.0-.2l-2.8 1.2l3.0 .2zM221.3 530.3l-1.5 1.8l.3 2.3l1.5-1.8zM233.5 530.2l-3.3 .9l-2.6 2.4l3.3-.9zM244.4 537.6l-1.6-.5l-1.4 .8l1.6 .5zM213.7 541.3l-.3 1.8l1.3 1.2l.3-1.8zM216.9 530.8l-1.7 1.0l.1 2.0l1.7-1.0zM216.4 522.1l.5 2.5l2.3 1.1l-.5-2.5zM228.6 535.7l-2.7-.9l-2.6 .9l2.7 .9zM235.0 548.1l1.2 1.7l2.0 .4l-1.1-1.7zM224.8 545.5l-3.7 .8l-3.2 2.1l3.7-.8zM247.3 525.5l1.0 2.7l2.6 1.2l-1.1-2.6zM266.6 517.2l.3 2.4l1.9 1.5l-.3-2.4z" fill="#2d3488"/></g></svg>
<rect x="270" y="519" width="64.3" height="49.0" fill="#c6c6d5"/><svg x="270" y="519" width="64.3" height="49.0" viewBox="270 519 64.3 49.0" overflow="hidden"><g filter="url(#bl)"><path d="M301.0 565.2h0M281.2 538.1h0M287.9 534.7h0M307.9 519.8h0M321.3 547.5h0M284.2 545.1h0M286.8 539.9h0M289.6 560.5h0M310.8 555.1h0M288.9 541.3h0M331.5 544.6h0M287.7 541.4h0M295.5 537.4h0M304.9 541.1h0M311.9 561.0h0M326.5 531.6h0M296.6 541.9h0M313.7 538.0h0M285.0 546.1h0M322.0 566.3h0M274.3 551.3h0M326.7 523.3h0M294.0 544.4h0M309.2 520.6h0M273.8 541.2h0M329.4 527.2h0M324.2 519.5h0M303.2 535.4h0M314.8 550.8h0M323.9 537.9h0M288.7 530.6h0M296.5 562.2h0M272.1 563.1h0M284.7 531.2h0M287.2 539.8h0M302.7 529.4h0M295.5 550.6h0M312.8 520.1h0M296.0 553.3h0M327.1 524.9h0M330.0 528.0h0M281.8 539.1h0M325.1 563.7h0M311.3 557.0h0M309.5 556.8h0M299.1 550.7h0M297.7 529.7h0M318.9 552.1h0M322.0 521.3h0M300.3 529.1h0M296.7 533.9h0M322.3 553.1h0M314.6 561.6h0M302.4 542.6h0M295.7 555.4h0M290.2 567.7h0M290.7 520.1h0M313.1 533.8h0M278.9 559.6h0M314.7 521.9h0M311.7 546.5h0M319.2 556.5h0M305.0 538.7h0M316.5 520.5h0M295.1 528.2h0M273.9 522.4h0M319.1 547.3h0M331.9 562.9h0M271.0 528.4h0M322.1 547.5h0M319.3 543.9h0M309.6 552.0h0M306.4 545.3h0M280.3 524.9h0M279.9 553.4h0M332.1 556.7h0M319.7 530.4h0M275.8 555.1h0M329.3 545.2h0M322.9 534.1h0M286.9 538.9h0M288.8 520.5h0M316.2 548.0h0M314.2 551.6h0M332.5 523.3h0M319.6 565.9h0M289.4 567.5h0M308.7 519.9h0M288.2 557.0h0M309.3 539.5h0M271.7 537.6h0M281.6 549.2h0M322.7 540.5h0M270.1 531.7h0M309.0 527.0h0M334.3 530.4h0M328.7 555.4h0M287.9 557.5h0M322.2 553.2h0M320.3 553.0h0M322.9 522.7h0M316.6 524.5h0M300.3 561.1h0M270.4 550.1h0M331.3 532.3h0M284.3 524.6h0M326.8 544.9h0M325.5 556.2h0M329.2 524.0h0M311.8 531.4h0M319.7 564.1h0M312.3 563.2h0M312.1 523.6h0M270.1 565.0h0M319.8 524.6h0M273.5 548.4h0M280.0 549.9h0M272.7 562.1h0M283.1 544.1h0M304.7 544.4h0M327.8 566.1h0M274.2 526.8h0M279.7 527.1h0M330.8 546.0h0M311.9 556.7h0M323.6 560.3h0M291.0 565.4h0M312.5 519.9h0M279.5 543.9h0M307.3 535.6h0M306.3 550.4h0M300.0 532.5h0M274.8 545.5h0M297.2 548.0h0M277.2 548.4h0M327.5 561.1h0M281.0 542.1h0M295.2 519.8h0M272.1 525.5h0M271.1 549.6h0M299.3 550.1h0M321.7 567.7h0M297.1 552.0h0M326.7 532.7h0M284.0 558.4h0M294.5 550.9h0M311.3 535.4h0M303.6 559.2h0M301.2 519.3h0M281.5 555.1h0M289.0 551.4h0M312.3 533.6h0M312.3 537.3h0M296.2 519.9h0M275.8 564.4h0M331.5 541.5h0M286.0 527.9h0M328.5 546.9h0M296.0 559.0h0M315.3 531.2h0M294.2 556.3h0M270.0 564.0h0M288.9 537.4h0M278.5 556.5h0M314.3 521.1h0M292.8 553.2h0M297.3 543.6h0M275.1 545.1h0M298.3 537.0h0M330.5 552.3h0M332.4 561.8h0M323.2 532.3h0M326.4 544.0h0M279.4 536.3h0M316.1 541.1h0M302.0 544.4h0M287.8 553.9h0M296.4 568.0h0M331.8 530.3h0M272.5 538.8h0M299.8 557.0h0M332.4 539.0h0M307.6 525.3h0M307.4 546.8h0M301.2 563.7h0M327.1 563.3h0M278.7 521.5h0M286.5 548.6h0M294.9 527.1h0M296.4 549.4h0M270.7 539.4h0M274.7 541.2h0M329.9 547.6h0M281.4 562.7h0M294.2 567.3h0M328.4 565.5h0M312.3 526.6h0M328.8 548.6h0M331.2 545.9h0M283.8 555.8h0M317.2 561.4h0M295.7 544.2h0M315.7 541.1h0M282.0 563.9h0M297.9 533.8h0M285.9 544.7h0M273.1 565.4h0M321.9 562.9h0M322.3 523.7h0M282.9 544.9h0M282.2 556.5h0M275.4 567.6h0M295.9 520.4h0M327.7 533.2h0M273.2 567.0h0M314.9 564.6h0M279.4 549.2h0M318.0 522.3h0M321.0 555.3h0M312.5 560.8h0M326.0 554.8h0M306.3 529.7h0M277.6 529.0h0M322.2 543.3h0M279.8 550.1h0M305.0 525.5h0M308.0 545.5h0M311.4 559.8h0M294.7 526.8h0M320.5 565.1h0M278.7 563.5h0M291.2 566.5h0M311.7 521.7h0M281.7 535.5h0M284.9 546.9h0M301.2 539.9h0M309.1 558.2h0M310.0 531.8h0M328.2 538.6h0M328.9 546.9h0M332.8 557.1h0M329.2 567.0h0M272.2 567.4h0M293.8 545.2h0M326.5 523.2h0M312.4 531.1h0M330.1 541.0h0M296.3 523.9h0M303.8 547.0h0M332.9 526.5h0M319.2 563.9h0M311.3 556.8h0M324.6 519.3h0M285.9 565.0h0M301.6 524.9h0M280.5 530.1h0M274.7 528.5h0M312.5 534.5h0M296.0 519.6h0M301.9 543.3h0M311.3 522.6h0M333.7 536.1h0M284.5 523.2h0M307.0 551.5h0M332.1 526.2h0M291.4 549.5h0M323.7 548.3h0M274.6 528.7h0M301.1 529.3h0M272.6 533.6h0M281.8 533.4h0M334.1 532.5h0M298.8 545.9h0M270.0 532.3h0M297.7 540.8h0M331.6 539.4h0M278.3 530.0h0M333.4 564.2h0M326.9 552.9h0M300.2 534.7h0M320.0 548.8h0M320.6 549.9h0M332.9 552.7h0M324.9 566.8h0M275.8 553.1h0M331.8 527.2h0M304.6 536.0h0M287.2 537.8h0M332.5 520.8h0M322.3 546.4h0M292.8 519.1h0M292.3 555.4h0M316.9 558.6h0M290.6 559.9h0M286.8 554.2h0M309.8 551.8h0M286.0 551.7h0M329.3 521.3h0M301.6 542.2h0M273.3 519.6h0M285.8 559.6h0M270.8 534.3h0M327.4 524.7h0M287.8 519.9h0M318.9 548.6h0M320.7 545.8h0M281.5 558.4h0M271.6 529.2h0M294.6 556.7h0M319.3 555.2h0M272.6 544.2h0M328.9 545.7h0M295.7 565.5h0M310.4 553.0h0M271.4 540.8h0M304.8 526.4h0M290.7 548.8h0M291.7 566.6h0M294.6 552.9h0M315.6 529.1h0M283.1 530.6h0M316.3 525.5h0M273.6 528.3h0M333.4 533.7h0M324.7 543.7h0M302.6 521.6h0M319.4 540.2h0M272.7 554.3h0M308.9 542.7h0M332.3 548.2h0M272.6 552.3h0M277.6 553.3h0M276.0 560.1h0M322.9 549.8h0M333.0 561.4h0M275.1 528.8h0M325.1 526.1h0M295.1 523.9h0M291.6 532.5h0M291.8 521.3h0M280.5 538.6h0M282.0 524.8h0M308.2 538.8h0M289.0 541.3h0M314.0 567.4h0M279.4 534.4h0M308.6 542.0h0M270.5 542.4h0M287.5 553.8h0M289.0 554.6h0M331.6 521.8h0M304.2 562.7h0M319.7 564.0h0M327.6 522.9h0M318.3 533.2h0M318.0 559.3h0M306.8 554.7h0M307.1 539.6h0M321.0 558.4h0M334.2 525.5h0M296.2 531.2h0M315.2 547.2h0M329.3 536.8h0M332.8 525.8h0M294.7 555.3h0M289.4 525.4h0M301.3 546.2h0M298.8 529.6h0M295.0 538.7h0M291.3 558.8h0M295.3 521.0h0M295.5 540.3h0M270.5 521.2h0M317.0 562.5h0M275.6 550.0h0M287.1 519.4h0M305.0 524.9h0M325.3 547.7h0M308.1 567.4h0M273.8 555.3h0M311.1 526.0h0M278.7 548.8h0M291.8 552.7h0M319.3 541.5h0M293.9 541.9h0M308.4 530.3h0M277.2 550.8h0M282.0 538.2h0M273.2 554.1h0M297.7 525.5h0M332.2 536.1h0M322.4 543.2h0M289.0 534.8h0M322.2 567.1h0M308.0 525.7h0M290.5 555.6h0M331.9 532.8h0M288.3 535.1h0M303.0 525.1h0M271.0 546.5h0M316.2 548.2h0M292.4 536.2h0M283.6 562.4h0M324.4 556.3h0M295.6 538.9h0M325.7 548.3h0M314.1 526.3h0M301.7 543.3h0M290.2 539.0h0M270.8 566.5h0M296.3 558.7h0M324.0 534.2h0M297.2 540.9h0M289.1 561.3h0M279.9 539.7h0M329.3 519.8h0M282.7 558.2h0M274.0 543.7h0M271.7 537.3h0M282.8 519.2h0" stroke="#2a2a40" stroke-width="0.65" stroke-linecap="round" opacity="0.42"/><path d="M298.3 549.4l-.7 2.9l.8 3.0l.6-3.0zM294.9 535.0l2.0 1.6l2.6 .4l-2.0-1.6zM298.1 545.6l1.3 1.2l1.7-.7l-1.3-1.2zM302.4 556.8l-2.0-.1l-1.3 1.6l2.1 .1zM330.8 560.5l-1.7 2.1l.2 2.8l1.7-2.2zM303.0 561.3l-.1 1.8l1.6 .8l.1-1.8zM281.4 519.0l-3.4-.9l-3.3 1.2l3.4 .9zM316.6 518.9l-2.4 1.1l-.8 2.5l2.5-1.1zM320.6 516.6l.4 2.8l1.7 2.3l-.4-2.8zM310.6 524.9l-1.8 2.1l-.3 2.7l1.8-2.1zM299.6 538.5l-2.6 .1l-1.5 2.1l2.6-.1zM296.2 560.0l-3.4-.4l-3.2 1.3l3.4 .4zM319.1 557.1l-2.0 2.6l.1 3.3l2.0-2.6zM309.4 551.3l-1.8 1.9l0 2.7l1.8-2.0zM302.8 548.3l.6 3.1l2.4 2.0l-.5-3.1zM328.7 529.3l.7 1.7l1.9 0l-.8-1.7zM309.9 519.5l.9 3.1l2.7 1.6l-.9-3.0zM305.1 556.7l.7 2.0l2.1 .7l-.7-2.1zM271.6 561.1l1.9 1.8l2.6 .2l-1.9-1.8zM289.8 560.1l0 3.3l1.8 2.7l.1-3.3zM304.7 561.9l-3.2 2.0l-2.0 3.1l3.2-2.0zM300.9 520.3l0 3.8l1.6 3.4l-.1-3.8zM277.5 550.4l.3 2.4l1.8 1.7l-.3-2.4zM325.0 552.4l-.4 2.7l1.8 2.1l.4-2.7zM310.1 556.6l-1.2 2.1l1.0 2.1l1.2-2.1zM270.6 553.8l-.8 3.0l1.2 2.9l.9-3.1zM326.8 557.9l-2.9 .6l-2.0 2.1l2.9-.6zM278.5 530.7l.7 2.0l1.9 1.0l-.7-2.1zM273.8 548.9l-1.6 2.0l-.2 2.6l1.6-2.0zM310.6 555.3l-2.4 .4l-1.5 1.7l2.3-.3zM302.8 544.7l-2.6-.6l-2.4 1.3l2.6 .6zM282.6 517.9l-2.8 .4l-1.9 2.2l2.9-.4z" fill="#1e2266"/><path d="M273.3 529.4l.9 2.2l2.1 1.1l-.9-2.2zM334.2 553.6l-2.3 .7l-1.6 1.9l2.4-.7zM332.0 541.3l1.1 1.5l1.9-.3l-1.1-1.5zM274.3 548.0l0 2.8l1.7 2.3l0-2.9zM329.0 558.5l.6 2.5l1.9 1.7l-.6-2.5zM304.1 526.9l.8 2.3l2.2 1.0l-.8-2.3zM287.3 553.6l-2.4 1.3l-1.0 2.6l2.4-1.4zM283.1 517.8l2.1 2.3l3.0 .6l-2.1-2.3zM298.9 529.3l-2.0 1.0l-.2 2.2l2.0-1.0zM275.2 559.1l-3.2 1.8l-2.1 3.0l3.2-1.8zM278.8 541.2l1.2 2.0l2.4 0l-1.3-2.0zM324.4 550.1l.9 1.5l1.8 .2l-.9-1.5zM284.9 566.5l.6 1.8l1.9 .4l-.6-1.8zM304.1 531.6l-1.7 1.3l-.2 2.2l1.6-1.4zM274.4 557.4l.4 3.1l1.7 2.6l-.4-3.1zM296.0 538.6l1.9 2.6l3.0 1.0l-1.9-2.6zM281.8 555.3l-2.5 .8l-1.3 2.4l2.5-.9zM301.2 540.0l-.5 2.2l1.6 1.6l.5-2.2zM319.8 549.8l3.1 1.3l3.4-.2l-3.1-1.3zM289.9 549.7l-3.1 1.7l-1.9 3.1l3.1-1.8zM282.0 559.1l-2.2 .5l-1.2 1.9l2.2-.5zM297.3 519.8l-1.6 2.4l0 2.9l1.5-2.4zM284.9 543.3l-2.1 .6l-.9 2.0l2.1-.6zM287.9 559.7l1.6 2.6l2.9 .9l-1.6-2.6zM318.3 539.1l1.1 1.8l1.9 .8l-1.0-1.9zM327.9 522.3l-1.4 1.4l.5 1.9l1.4-1.4zM314.8 565.4l2.4 2.6l3.3 1.4l-2.4-2.6zM307.2 562.0l-3.5 1.2l-2.7 2.5l3.5-1.1zM280.3 536.0l-.8 2.6l.9 2.5l.9-2.6zM319.2 541.3l-.2 3.6l1.3 3.4l.2-3.6zM275.6 550.3l-3.0 2.4l-1.8 3.3l3.0-2.4zM294.2 530.8l-1.3 3.1l.6 3.2l1.3-3.0zM289.1 517.7l-2.4 2.0l-1.0 3.0l2.5-2.0zM308.2 563.3l1.4 1.5l2.0-.1l-1.4-1.5zM272.8 542.5l-.4 2.5l1.6 1.9l.4-2.5zM282.5 560.4l-3.1 1.7l-2.1 2.9l3.1-1.7zM298.9 532.4l.8 1.9l2.1 .3l-.8-2.0zM330.0 567.2l-1.8-.1l-.9 1.6l1.9 .2zM281.9 556.0l-1.4 1.9l-.1 2.3l1.4-1.9zM269.2 546.7l2.1 2.9l3.3 1.4l-2.0-3.0zM289.7 519.3l-.2 2.2l1.7 1.4l.2-2.2zM289.2 540.2l-.9 3.7l.9 3.7l1.0-3.7zM285.6 530.5l-1.7 .1l-.9 1.5l1.7-.1zM310.3 558.2l1.3 1.2l1.8-.3l-1.3-1.2zM283.4 533.2l-1.6 .7l-.6 1.6l1.6-.7zM292.2 543.5l-2.6-.1l-2.1 1.5l2.6 0zM309.3 559.5l1.2 3.0l2.8 1.7l-1.2-3.0zM279.8 548.7l-.7 2.2l1.6 1.7l.6-2.2z" fill="#2d3488"/></g></svg><rect x="324.1" y="564" width="7" height="1.3" fill="#fff"/>
<rect x="74" y="569" width="64.0" height="49.0" fill="#c9cbda"/><svg x="74" y="569" width="64.0" height="49.0" viewBox="74 569 64.0 49.0" overflow="hidden"><g filter="url(#bl)"><path d="M97.1 595.9h0M119.9 606.1h0M84.6 589.6h0M104.8 614.5h0M87.4 610.6h0M102.4 603.3h0M98.6 577.9h0M111.8 601.2h0M115.1 602.4h0M97.8 617.1h0M107.9 612.8h0M122.9 592.0h0M106.0 583.5h0M83.4 587.7h0M97.2 585.7h0M94.0 599.5h0M112.0 570.1h0M100.9 576.5h0M82.5 604.5h0M88.1 592.2h0M102.8 593.6h0M111.1 617.1h0M130.6 580.2h0M117.5 597.1h0M76.3 608.8h0M122.8 590.0h0M126.7 611.8h0M119.7 599.8h0M102.7 601.9h0M109.3 608.7h0M137.0 597.5h0M119.0 572.5h0M124.6 589.6h0M94.1 578.9h0M107.6 617.5h0M130.2 595.7h0M114.0 570.9h0M103.0 579.3h0M106.9 586.3h0M78.1 593.2h0M77.7 597.5h0M97.7 617.4h0M122.8 599.7h0M84.7 609.5h0M87.4 581.9h0M106.8 589.1h0M107.6 611.2h0M135.4 602.6h0M99.5 576.4h0M112.0 602.4h0M85.5 614.8h0M124.3 598.5h0M114.5 585.4h0M79.6 612.0h0M109.0 576.6h0M110.3 607.7h0M107.5 588.0h0M116.0 606.4h0M106.7 575.6h0M125.7 600.8h0M105.3 613.9h0M98.8 606.3h0M135.8 570.8h0M81.6 591.3h0M82.4 592.6h0M83.4 596.2h0M98.8 598.7h0M88.8 582.5h0M119.2 601.5h0M128.4 601.4h0M112.9 591.3h0M77.0 604.0h0M76.8 593.1h0M103.5 599.1h0M129.2 607.4h0M129.4 617.8h0M86.2 586.4h0M102.5 608.2h0M102.3 605.2h0M123.0 610.2h0M116.1 612.1h0M80.4 585.1h0M114.5 602.4h0M123.1 590.6h0M131.9 586.5h0M115.2 594.7h0M113.5 602.1h0M121.3 594.3h0M119.5 582.7h0M76.9 587.0h0M106.6 579.3h0M136.2 584.3h0M93.7 592.7h0M77.3 614.1h0M80.6 576.5h0M88.5 600.8h0M94.7 571.4h0M99.6 617.5h0M81.3 599.8h0M99.2 614.8h0M108.2 572.7h0M76.4 600.3h0M130.2 591.1h0M102.6 571.6h0M130.5 580.4h0M136.3 608.4h0M114.2 586.5h0M106.8 581.9h0M136.5 597.2h0M92.8 613.8h0M137.3 609.2h0M101.1 611.0h0M135.0 608.9h0M78.2 579.7h0M82.6 584.6h0M88.0 593.4h0M116.4 611.6h0M96.7 615.3h0M97.4 603.6h0M84.3 613.6h0M116.8 601.5h0M88.9 593.9h0M135.6 606.9h0M87.3 570.8h0M110.2 573.3h0M109.8 614.2h0M116.4 600.5h0M137.7 580.1h0M85.2 573.4h0M128.7 605.1h0M78.4 586.0h0M121.3 595.3h0M111.3 608.1h0M75.5 591.9h0M87.3 583.3h0M98.6 592.1h0M90.3 577.7h0M81.8 605.4h0M110.6 595.7h0M115.6 614.2h0M105.2 605.3h0M133.1 598.9h0M101.2 590.7h0M95.5 615.5h0M131.4 572.8h0M116.5 588.8h0M109.3 600.6h0M134.3 612.7h0M80.3 607.6h0M93.2 582.4h0M104.7 603.3h0M77.7 597.9h0M126.3 579.0h0M105.2 591.0h0M75.7 617.8h0M111.9 604.2h0M82.0 588.8h0M116.5 617.8h0M136.1 606.8h0M75.8 576.4h0M135.6 600.1h0M136.0 605.7h0M110.8 600.6h0M98.6 609.1h0M81.5 612.6h0M100.6 591.2h0M81.9 605.6h0M137.4 589.3h0M135.0 569.1h0M137.8 605.6h0M132.6 582.6h0M125.9 614.2h0M82.6 610.6h0M82.2 602.3h0M136.6 582.2h0M111.7 570.9h0M131.6 579.2h0M102.0 589.7h0M88.1 589.6h0M96.9 605.3h0M80.0 611.3h0M113.3 585.0h0M114.7 582.5h0M99.8 582.4h0M75.7 577.0h0M89.7 611.1h0M78.0 583.9h0M99.3 586.7h0M130.4 575.9h0M125.8 608.9h0M81.0 587.8h0M105.3 575.3h0M88.0 596.8h0M124.1 586.5h0M131.9 587.7h0M113.2 585.4h0M111.3 576.7h0M85.7 602.6h0M98.0 612.2h0M126.0 583.6h0M76.9 579.6h0M128.9 607.8h0M126.1 584.8h0M136.3 605.4h0M95.4 572.1h0M120.2 579.2h0M134.0 616.5h0M123.9 614.3h0M90.4 595.9h0M104.8 577.8h0M132.3 580.2h0M74.1 592.0h0M89.4 580.4h0M90.2 586.7h0M98.2 605.2h0M79.4 602.6h0M92.7 609.6h0M83.5 573.5h0M90.7 607.3h0M103.3 594.3h0M111.7 584.5h0M78.1 611.9h0M74.5 569.7h0M94.6 580.9h0M105.7 590.3h0M80.1 578.5h0M118.7 608.4h0M106.1 571.9h0M120.3 595.3h0M135.8 573.2h0M87.2 573.1h0M79.9 572.2h0M88.6 592.6h0M100.4 599.9h0M134.5 569.7h0M125.1 572.8h0M103.2 571.2h0M117.0 599.9h0M94.5 583.8h0M95.2 591.3h0M77.4 600.5h0M115.7 569.1h0M129.3 609.3h0M116.0 581.0h0M125.8 572.5h0M134.3 577.8h0M121.6 569.6h0M76.1 578.0h0M77.5 616.0h0M101.6 585.4h0M115.4 615.2h0M132.2 569.9h0M94.9 609.7h0M84.8 605.3h0M80.1 607.6h0M75.7 589.0h0M76.3 584.4h0M90.4 605.2h0M110.2 569.9h0M136.9 588.7h0M131.1 579.1h0M121.4 575.9h0M82.7 575.7h0M76.4 617.6h0M88.9 616.9h0M82.4 601.6h0M77.0 587.5h0M115.9 573.7h0M116.4 599.1h0M77.0 572.7h0M122.5 581.5h0M93.6 580.0h0M80.5 580.2h0M85.2 577.9h0M98.2 616.7h0M125.0 576.8h0M120.9 581.5h0M127.3 589.2h0M92.1 575.2h0M93.5 593.5h0M93.1 608.4h0M113.0 590.0h0M74.3 581.9h0M106.8 590.0h0M91.1 605.5h0M120.7 597.6h0M96.8 590.4h0M103.0 601.8h0M114.0 611.5h0M89.5 601.4h0M109.2 599.6h0M85.4 592.1h0M88.9 588.8h0M123.6 585.4h0M85.4 587.8h0M135.4 587.2h0M95.3 610.5h0M91.1 606.4h0M99.0 576.7h0M124.4 611.7h0M106.7 599.4h0M100.7 583.7h0M91.1 607.4h0M97.6 581.2h0M128.3 603.2h0M84.2 612.0h0M123.8 615.5h0M133.1 588.3h0M120.1 601.7h0M95.6 596.5h0M118.7 603.3h0M100.1 606.3h0M130.4 597.3h0M130.8 605.6h0M83.9 578.9h0M132.3 606.0h0M98.8 614.3h0M83.6 574.1h0M104.4 576.7h0M103.3 600.6h0M133.8 615.6h0M121.7 595.8h0M88.4 582.3h0M134.2 583.0h0M109.1 593.5h0M101.5 601.8h0M75.7 607.5h0M99.2 595.4h0M92.9 592.0h0M114.9 599.2h0M122.1 606.2h0M124.4 572.8h0M80.2 611.2h0M117.1 593.5h0M80.5 612.9h0M107.0 578.6h0M103.6 570.4h0M75.5 608.5h0M104.3 587.6h0M104.2 577.1h0M127.1 569.2h0M80.1 595.3h0M101.1 592.6h0M109.4 603.9h0M109.6 575.9h0M120.8 597.1h0M81.5 617.0h0M136.7 588.5h0M86.6 606.6h0M124.1 590.7h0M85.8 600.5h0M127.7 605.7h0M137.5 600.0h0M98.9 603.4h0M96.0 588.9h0M132.7 578.4h0M81.0 575.8h0M133.6 611.2h0M111.7 613.1h0M74.7 588.4h0M110.7 593.8h0M116.6 617.7h0M81.0 600.5h0M119.0 587.8h0M92.7 591.5h0M113.7 591.1h0M117.0 589.2h0M130.9 580.0h0M95.0 598.4h0M76.1 615.8h0M80.9 586.1h0M123.5 570.3h0M99.7 604.2h0M110.3 582.3h0M111.4 606.3h0M79.2 580.1h0M91.4 582.3h0M104.5 601.6h0M127.3 601.2h0M87.1 602.6h0M108.1 573.9h0M76.9 596.6h0M125.0 582.0h0M120.6 615.8h0M129.4 593.2h0M87.9 572.6h0M90.1 595.7h0M80.6 569.5h0M92.1 601.1h0M111.8 601.2h0M123.4 571.3h0M93.9 613.0h0M84.3 613.7h0M83.6 596.5h0M130.4 610.8h0M133.3 588.8h0M108.8 570.6h0M135.7 611.9h0M112.5 581.1h0M83.2 615.8h0M123.3 581.6h0M131.3 614.8h0M93.4 581.8h0M84.0 571.9h0M94.4 572.7h0M77.9 592.4h0M137.0 573.7h0M127.6 614.5h0M80.4 614.1h0M98.5 572.9h0M124.4 573.8h0M118.9 573.2h0M105.7 579.0h0M82.7 603.6h0M111.3 584.2h0M128.2 569.8h0M82.7 613.4h0M116.8 569.2h0M136.1 594.5h0M125.4 573.3h0M79.9 575.5h0M108.2 610.7h0M93.1 575.7h0M105.0 603.2h0M123.4 598.8h0M136.1 592.3h0M106.6 593.1h0M92.9 590.0h0M112.7 580.7h0M124.5 572.9h0M132.8 593.5h0M113.3 574.4h0M137.1 575.0h0M111.0 583.0h0M90.0 576.4h0M96.3 612.0h0M78.9 580.6h0M132.9 579.7h0M77.3 598.2h0M101.7 601.4h0M98.9 588.9h0M90.2 585.9h0M84.7 584.8h0M122.5 593.3h0M94.0 572.7h0M82.9 586.8h0M105.1 608.6h0M133.8 591.9h0M108.7 603.5h0M91.7 594.8h0M132.2 589.9h0M112.7 593.8h0M136.8 598.3h0M136.8 570.5h0M80.8 617.5h0M118.8 585.7h0M102.9 615.0h0M132.7 579.2h0M97.3 593.7h0M130.7 610.7h0M85.8 600.3h0M79.5 576.6h0M99.9 606.3h0M97.1 587.0h0M90.6 611.8h0M104.5 601.5h0M79.3 611.1h0M115.9 582.4h0M127.7 569.2h0M126.4 594.0h0M135.2 589.6h0M85.5 571.0h0M118.8 590.8h0M125.7 612.0h0M74.2 600.3h0M126.0 589.0h0M112.4 601.9h0M137.2 608.4h0M80.4 575.6h0M83.0 592.1h0M84.8 593.6h0M81.1 586.2h0M124.7 576.9h0M88.7 596.1h0M85.6 596.2h0M92.2 595.3h0M104.1 611.5h0M107.7 586.5h0M112.8 598.2h0M76.0 582.4h0M76.5 605.8h0M91.2 598.7h0M81.4 587.3h0M124.0 603.5h0M133.9 586.0h0M75.9 610.8h0M123.6 578.5h0M135.9 615.2h0M133.4 577.1h0M115.2 598.0h0M133.1 569.4h0M133.5 583.2h0M114.9 614.9h0M97.0 593.0h0M136.8 598.3h0M103.7 580.8h0M82.2 595.5h0M128.5 570.2h0M93.2 599.5h0M132.2 603.9h0M95.1 583.8h0M113.2 611.7h0M82.1 606.3h0M122.7 573.7h0M116.0 583.1h0M109.6 608.2h0M92.4 612.3h0M82.2 570.8h0M79.4 594.0h0M109.5 598.9h0" stroke="#2a2a40" stroke-width="0.65" stroke-linecap="round" opacity="0.42"/></g><g filter="url(#bl3)"><path d="M122.9 620.2l-1.5-2.9l-1.1-7.3l3.3-1.2l3.3 6.3l1.3 3.8l-2.6 3.6z" fill="#7f8fd0" opacity="0.45"/><path d="M74.5 578.9l1.7-.8l.8 1.4l.6 1.3l-2.1 .4l-2.5-.2l.4-1.4zM108.4 571.3l1.8-1.3l1.5 .8l-.1 1.4l-1.8 .1zM126.3 611.1l.9-1.1l2.4 .4l-.6 1.7l-1.8 0zM78.8 618.9l-.9 .1l-1.7-.1l.7-1.7l.7-.2l1.3-.8l.8 1.8zM87.3 586.9l.8 2.7l-2.7 .5l-1.0-.1l-1.7-.9l2.3-1.8zM100.4 588.6l-.5-1.5l1.7-.9l1.6 .3l.7 1.6l-1.7 .5zM124.3 577.0l-2.1-.6l.1-1.8l1.3-.8l1.4-.4l.7 2.0zM132.4 569.0l1.5-.5l.7 1.1l-.4 2.6l-1.6 .8l-.8-2.5zM118.1 573.7l-.3-1.3l.1-1.6l1.9 1.0l.5 1.0l-.7 1.1zM128.1 611.9l1.7-2.1l2.7 .7l-.7 1.9l-2.6 .7zM81.7 607.6l1.3 .4l-.5 2.2l-1.8 .3l-1.3-.6l.5-1.3zM94.4 594.7l0-2.1l2.3-1.1l1.6 1.0l-.9 2.8zM126.8 590.0l-1.0 .7l-2.0-.2l-.3-1.3l2.2-.8zM114.2 584.2l-1.9 1.1l-.6-1.4l-.6-1.3l1.6-2.1l1.5 1.4l1.4 1.4zM121.2 585.3l-1.7-2.5l.9-2.8l1.9 .8l.6 2.9zM114.6 588.4l.4-1.0l2.8 .3l1.5 1.4l-1.1 .8l-2.5 1.3l-1.7-1.3zM121.4 595.7l-1.5 1.0l-1.6-.1l-1.0-1.9l2.3-.6zM98.7 601.7l-1.3-2.3l.6-4.0l1.2 .8l1.5 2.5zM132.3 617.2l-.7-1.0l-.3-1.0l.7-1.8l1.3 1.2l1.3 .6l-.9 1.4zM112.5 575.0l-.3-1.3l2.0-.8l1.4 .7l0 .9l-.2 1.0l-1.2 .8zM84.3 593.6l-2.9 1.1l-2.1-1.7l.2-1.1l3.1 0zM99.9 598.7l-3.4-.6l1.4-1.9l.9-1.6l3.7 .5l-.9 2.5zM117.2 570.5l-1.1 .6l-1.7-1.2l1.3-1.5l2.0-.3zM112.9 595.0l-2.1 2.4l-.3-2.4l-.2-2.9l2.7 .6zM116.8 593.9l-1.0 2.8l-3.1-1.0l-.1-3.6l3.8-.5zM107.9 616.6l.4 1.6l-2.5-.1l-1.0 .1l-.2-1.6l.9-1.3l1.8 .6zM82.7 577.4l.8-1.7l1.8-1.0l1.6 2.0l.8 1.2l-3.4 1.0zM76.5 570.2l0 1.4l-.7 .7l-1.5-.1l-.6-1.4l1.2-2.5l.9 1.0zM129.6 584.6l1.6 .4l1.4 1.8l-.7 1.2l-3.0-.8zM125.7 604.3l1.2 .7l1.1 3.0l-1.2 2.8l-1.1 .7l-1.9-2.6l.8-2.8zM124.9 584.3l4.4 .3l.8 3.0l-4.2 1.4l-2.9-2.3zM101.0 605.3l1.0 2.6l-.3 2.0l-1.4 1.5l-1.4-2.1l-1.2-.9l1.7-1.3zM91.3 598.3l2.6 .3l2.3 .6l.9 1.5l-2.3 1.7l-1.7-.6l-2.6-1.7zM130.9 573.3l.7-.7l1.5 .5l-.1 2.5l-.7 1.1l-1.0-1.3zM124.1 578.8l-.2 2.0l-1.9 .6l-1.9-1.3l2.4-2.6zM114.1 589.9l-.7 .9l-1.4 .9l-1.3-2.0l1.6-1.4zM78.7 584.2l0-1.5l.9-1.1l1.6 1.2l-.2 1.9zM133.7 572.1l.1 1.1l-.2 .5l-1.6 1.3l-1.2-1.6l-.1-.9l1.6-.2zM103.6 603.6l-1.4 .3l-1.0-1.0l.1-2.6l1.5-.3l.5 1.2zM104.8 589.3l2.2 .4l.4 2.5l-1.1 1.8l-1.7-1.9zM125.3 579.8l-2.0-.3l-.3-1.9l.9-1.4l1.5-.9l2.0 .3l-.5 2.5zM102.6 580.9l1.1 .9l-1.5 1.4l-2.0 .6l-.1-2.9zM100.9 595.7l3.1 1.2l-1.3 2.0l-2.3-.2l-1.2-1.8zM73.0 617.0l.2-1.8l.9-1.0l1.0 .2l.4 2.5l-1.4 .8zM88.3 601.9l3.0 2.7l-2.3 1.5l-2.0 .1l-.3-1.7zM112.6 616.0l.9 2.5l-2.2 .5l-2.3-.8l1.3-2.2zM76.0 571.2l.5 1.2l-1.2 1.2l-1.2 1.0l-1.4-1.5l-.7-.8l2.1-.8zM138.2 588.8l-1.3-1.1l-.9-1.5l-.2-1.7l1.4 .1l1.8 .5l-.2 1.4zM92.4 606.8l-1.4-.3l-1.1-2.9l1.5-1.1l2.4 2.1zM97.0 575.3l-.8-.3l-.9-2.4l1.1-.7l1.5-.2l.6 1.7l-.3 1.7zM80.6 589.9l-1.9 0l-.3-2.0l2.8-1.0l0 2.0zM74.4 614.6l-.4-1.8l.5-1.2l.8-.4l.8 1.4l-.5 1.4zM79.2 576.4l.2 2.3l-.5 1.9l-1.1-1.0l-1.1-1.7l.8-.4zM90.2 585.8l-.1 2.3l-1.3 1.2l-1.5-1.2l-.2-2.3zM100.0 599.3l-.7-1.0l1.9-1.3l1.8 .6l1.0 1.0l.1 2.2l-2.9-.2zM93.8 586.4l.5-2.2l.8-2.1l.5 1.7l.4 1.9l-1.3 2.1zM100.1 573.8l.6-3.9l1.3-2.1l.8 2.6l1.2 1.1l-1.0 2.9l-1.2-.2zM93.0 614.4l-1.6-1.8l2.6-1.7l1.7 .2l3.0 1.5l-2.2 .8zM98.8 577.1l1.3-1.2l2.9 0l.7 1.6l-1.0 1.0l-2.2 .1zM121.7 572.8l-.5-2.4l1.1-1.5l1.5 .9l.1 2.7l-1.2 .4zM86.0 588.8l.3 2.3l-2.4-.6l.1-1.8l1.0-1.5zM98.4 591.9l-.4-1.9l.3-2.3l1.2 .6l1.0 2.9zM105.6 616.6l1.1-1.5l.2-2.0l2.1 .7l-.5 2.3l-.4 1.5l-.3 1.4zM101.9 617.2l-1.2-2.9l1.5-1.8l1.8 .1l-.3 3.4zM84.7 591.1l-1.7-1.5l2.2-.7l2.6-.6l-.5 2.3zM77.0 611.4l-.3 4.8l-2.6-.1l-1.5-3.9l1.8-2.9zM113.8 603.8l-1.1-.6l.3-1.8l1.4 .4l3.5 .5l-.1 1.0l-2.3 1.9zM79.1 582.9l-1.1 .8l-1.9-2.0l1.1-1.2l1.5 .1l2.1 .6zM84.4 609.4l.4-2.9l1.5-.4l1.3 1.2l-.4 2.5l-1.5 .9zM79.4 605.0l-1.1-2.8l1.6-1.0l1.1 .4l1.1 1.3l.2 1.1l-1.5 .2zM111.9 614.2l1.8-1.4l1.7-1.5l3.0 3.0l-2.2 1.3l-2.5-.1zM106.1 568.8l.1-1.6l2.5 1.1l.3 2.0l-1.4 2.6l-1.4-2.5zM107.4 592.2l.3 2.3l-1.1 .9l-2.2 .2l-1.1-.2l1.4-2.4l.4-.5zM129.2 592.2l1.5 .7l-.2 2.5l-1.8 1.7l-1.6-1.9l-.6-1.5zM106.4 607.7l-1.7-2.3l2.7-.2l2.7 .4l.3 1.3l-1.0 2.0zM124.9 582.0l-1.0-.7l-1.5-2.5l2.3-1.4l2.0 .6l1.6 1.8l-1.7 2.2zM104.4 582.6l-.4-1.4l.5-.7l2.1 0l.2 1.2l0 1.2l-1.0 .5zM121.9 597.9l1.4-.7l1.4-.5l-.1 2.1l-.4 .9l-2.7-.4zM134.7 611.8l-1.3 .4l-1.3-2.0l0-1.2l.9-1.8l1.8 .9l.8 1.7zM94.8 578.3l-1.5-.2l-.7-2.2l.9-2.8l2.9 .3l-.6 3.0zM121.1 593.5l1.4-1.8l.5 1.3l1.8 1.0l-.5 2.4l-1.8 1.1l-1.7-1.4zM98.9 586.0l-2.3 2.3l-2.9-.7l1.0-1.8l2.4-1.2zM98.2 581.9l-2.3-1.2l1.0-3.6l2.2 .8l.2 2.4zM92.8 570.2l-.9-1.0l.8-1.5l1.9 .1l-.1 1.7zM78.4 604.7l2.0-1.3l2.4 1.8l0 1.7l-2.2 .4l-2.5-.6z" fill="#5b6ec4" opacity="0.72"/><path d="M75.3 580.3l-.5-.9l.4-.7l1.1 .2l-.2 1.1zM110.7 570.7l-.3 .7l-.6 .4l-.2-.9l.5-.8zM126.7 610.3l1.1-.4l.1 .7l-.2 1.3l-.7-.5zM78.0 618.4l.1-.8l.5-.4l.5 1.2l-.8 .6zM84.5 588.1l.5-.5l.3 .8l-.1 .5l-.6 .5zM102.2 588.8l-.9 .2l.1-1.5l.3-.7l1.1 .5zM124.3 575.4l-.8 .1l-.4-.4l.2-.3l.7-.2zM133.2 569.8l.4 .7l-.8 .6l-.7-.5l.3-1.1zM119.3 573.4l-.9 .2l.1-1.2l.7 0l.5 .6zM130.6 612.5l-.8-1.1l.8-.5l.5 .1l.3 .7zM80.5 608.1l.8 .2l-.4 1.2l-1.0-.3l.1-1.1zM96.1 593.0l-.1-.9l1.1-.1l.3 .9l-.9 .3zM126.6 590.5l-.3 .7l-.8-.2l.2-1.1l.5-.3zM113.1 584.2l-.9-1.9l.8-1.2l.9-.1l0 2.4zM120.3 582.7l.4-1.0l.5 .5l.4 1.1l-1.0 .3zM115.8 589.0l-.5-1.0l1.3-.2l.6 .6l-.6 .7zM119.6 595.0l0 1.1l-1.2 .1l-.4-.8l.7-.8zM96.9 597.4l1.8-1.0l.8 1.1l-.2 1.5l-1.9-.3zM133.7 615.5l-1.2 .7l-.7-.6l.5-1.1l.7 .3zM113.9 572.8l.8 .7l.1 1.0l-.9 .1l-.3-.7zM80.6 593.0l.6-.9l.6-.1l.3 1.0l-.6 .5zM99.4 596.7l.7-1.2l.7 1.1l-.4 .5l-.9 .6zM115.5 568.9l1.1 .4l.1 .9l-1.9 0l.2-.6zM110.7 593.6l.9-.8l.8 2.0l-.8 .6l-.9-.2zM117.1 594.3l-1.1 1.3l-1.5-.5l0-.7l1.4-.3zM107.0 615.8l.3 .7l-.5 .5l-.8 0l.4-1.0zM84.4 576.5l.7-.5l.7 .8l-.3 1.3l-1.0-.7zM76.3 569.6l-.5 .6l-.5 0l-.3-.5l.6-.6zM131.6 585.9l-.5 .5l-1.2 0l.3-1.4l.8 .1zM125.9 608.3l-.7-1.0l1.9 0l1.0 .6l-1.1 .8zM127.3 585.3l.9 1.1l-.9 .9l-2.0-.9l1.0-.9zM101.2 608.2l-1.2 1.4l-1.1-.7l-.1-1.4l1.3 .1zM95.0 600.2l-1.6 .4l-1.1-.8l.7-.9l1.2 .5zM131.5 573.2l.9 .4l-.2 1.3l-.8-.1l-.1-.7zM122.4 579.0l1.1 .5l0 .6l-1.2 .1l-.5-.8zM111.7 590.6l.2-.8l.7-.2l.3 1.0l-.4 .4zM80.2 583.4l-.5 .4l-.9-.5l.5-.7l1.0-.1zM132.9 572.7l.1 1.2l-.5 .3l-.4-.1l-.1-1.4zM103.6 601.7l-1.0 .9l-1.9-.3l.7-1.1l.9 0zM106.9 591.4l-1.0 .1l-.9-.4l.2-.4l1.0-.3zM124.0 576.2l.8-.1l.8 .5l-.5 1.8l-1.5-.9zM101.8 582.5l-.6-.8l1.1-.4l.5 .5l-.2 .8zM101.5 597.1l.7 .8l-.5 .8l-.6 .2l-.1-.8zM75.1 615.4l-.2 .6l-1.1 .2l.2-.8l.5-.7zM89.5 604.6l-1.0 .5l-1.1-.6l0-1.2l1.3-.1zM112.3 617.8l-1.3 .2l-.6-1.0l.7-.9l1.7 .7zM73.7 572.1l.7-.6l.6 .9l-.4 1.1l-.6-.4zM137.3 586.4l-1.1-.8l1.1-.7l1.0 .2l-.4 1.0zM93.4 604.5l.3 .8l-1.2 .7l-1.2-.5l.2-.7zM97.1 574.9l-.8 0l0-.8l.3-1.1l.7 .6zM79.9 587.7l.2 .9l-.6 .1l-.4-.4l.2-.7zM75.3 613.2l-.9 .7l-.8-.8l1.0-.8l1.1 .1zM77.0 578.4l1.0-.3l.8 .3l-.6 .5l-.5-.1zM88.0 587.6l.3-1.1l1.3 .3l-.3 1.5l-.9 1.0zM103.8 599.3l-.6 1.2l-1.9-.2l0-1.0l1.4-1.0zM94.6 585.4l0-.6l.5-.4l1.2 .5l-.7 .7zM101.5 570.5l1.5 .3l.1 1.3l-1.8 .5l-1.1-1.3zM94.1 611.6l.8-.8l.7 .4l.1 2.4l-1.3 0zM101.5 578.1l-.9 .1l-.7-.4l.4-.3l1.3 0zM121.6 572.6l0-.8l.7-.5l.3 .7l-.4 .5zM85.0 589.6l-.7-.3l.3-.9l.7-.3l.4 .8zM99.7 589.9l-.6 .2l-.6-.5l.4-1.2l.8-.2zM108.4 614.8l.2 .7l-.5 .9l-1.1-.5l.1-1.4zM102.0 614.4l.9-.6l.7 .6l-.2 1.5l-.9-.2zM86.1 590.2l-1.2-.5l.1-.6l.9-.2l.8 .4zM76.1 613.4l-.7 .3l-.5-.8l.4-1.5l.8 1.0zM114.5 603.6l-.7 .2l.1-1.3l1.0-.6l.9 1.1zM78.3 581.5l-.1 .5l-.5 .8l-.4-1.1l.3-.4zM86.1 608.9l-.4-.6l.7-1.0l.9 .7l.1 .6zM81.6 602.9l0 1.1l-1.0-.4l-.3-.4l.5-1.2zM115.6 615.0l-1.1-.1l-.6-1.2l1.4-1.0l.5 1.3zM106.4 569.5l.7-.5l.7-.1l.2 1.0l-1.0 0zM106.6 593.1l0 1.2l-1.4 0l0-.8l.3-1.0zM128.2 596.2l.2-1.9l1.0-.6l.3 1.6l-.5 1.2zM109.0 606.5l-1.2 .7l-1.1-.8l.4-.7l1.3-.4zM126.4 579.4l-.5 1.7l-1.1-.8l.1-.9l.6-.7zM105.9 580.4l.9 .6l-.3 .6l-1.0-.1l-.3-.9zM122.0 599.1l.1-1.3l1.0 0l.6 1.2l-.6 .7zM133.4 610.5l-.7 .2l-.2-2.2l.7-.1l.7 .5zM95.6 576.4l-.9 .6l-.9-1.3l.8-1.1l.7 .6zM123.0 594.1l.7 .5l-1.3 .8l-.5-.6l.6-.8zM96.9 587.5l-1.0-.2l-.7-.7l1.5-.4l.7 .4zM97.2 580.6l.4-1.2l.6-.6l.2 1.2l-.4 1.3zM92.4 569.0l1.0-.3l.3 .5l-.3 .4l-.9-.2zM81.8 605.4l-.1 1.9l-1.1-.5l-1.0-1.4l1.3-.9z" fill="#26359a" opacity="0.7"/></g><g filter="url(#bl)"><path d="M111.2 570.6l-0.7 -0.1M130.7 610.3l0.1 -0.5M97.1 594.5l1.0 0.9M123.4 586.0l-0.5 0.5M124.5 579.3l1.2 0.9M115.9 574.1l-0.8 -1.3M87.7 580.1l-0.4 0.7M133.2 586.1l-0.9 1.3M125.0 606.9l0.1 0.1M133.3 577.9l-0.5 -0.4M123.1 583.2l-0.2 -0.8M102.2 589.1l0.5 -1.0M103.8 582.2l-0.3 -1.1M76.7 573.9l-1.5 -1.3M104.3 579.1l-0.1 0.1M104.4 619.1l0.0 0.7M100.5 612.4l0.7 0.2M72.7 613.9l0.1 0.1M87.1 610.5l-1.2 -0.2M76.7 601.8l-0.8 0.5M122.6 599.3l-0.2 1.1M97.8 576.8l-1.0 0.8M92.1 570.5l0.5 -1.4M77.2 602.8l0.1 -0.9" stroke="#0c0f25" stroke-width="0.95" stroke-linecap="round" opacity="0.9"/></g></svg>
<rect x="139" y="569" width="65.0" height="49.0" fill="#c9cbda"/><svg x="139" y="569" width="65.0" height="49.0" viewBox="139 569 65.0 49.0" overflow="hidden"><g filter="url(#bl)"><path d="M189.2 596.8h0M167.7 609.2h0M143.1 603.0h0M172.8 570.1h0M184.7 610.9h0M196.9 569.5h0M142.4 591.4h0M185.9 608.4h0M189.3 590.4h0M162.7 608.9h0M164.3 570.2h0M150.3 610.6h0M150.8 617.6h0M166.0 612.9h0M169.6 598.0h0M156.2 607.1h0M143.4 612.4h0M195.2 594.6h0M166.9 597.6h0M144.7 575.2h0M147.3 578.6h0M191.1 572.7h0M179.7 577.2h0M195.3 608.5h0M144.4 574.3h0M170.8 600.5h0M175.9 616.9h0M193.8 608.7h0M195.2 588.3h0M188.3 584.6h0M201.6 599.8h0M156.7 613.8h0M184.5 577.9h0M183.6 584.5h0M157.6 572.7h0M172.9 608.1h0M183.7 601.6h0M188.7 603.1h0M144.5 587.7h0M168.3 594.0h0M140.2 585.6h0M142.8 596.1h0M181.1 595.5h0M183.9 579.6h0M193.4 604.4h0M172.3 607.2h0M173.9 613.0h0M195.0 615.0h0M155.9 601.9h0M149.8 615.4h0M156.0 594.6h0M151.9 584.9h0M202.4 613.1h0M146.2 590.7h0M174.2 613.7h0M139.7 569.1h0M170.3 607.1h0M198.8 592.0h0M170.4 604.9h0M139.7 589.7h0M182.2 590.3h0M202.1 580.6h0M169.2 576.1h0M178.2 569.1h0M166.4 592.7h0M193.5 600.2h0M151.1 573.6h0M148.6 582.8h0M173.0 594.3h0M175.5 601.2h0M145.7 588.1h0M176.3 571.2h0M196.6 601.9h0M164.2 583.6h0M160.4 588.6h0M179.0 591.9h0M146.1 599.0h0M165.1 584.8h0M197.9 605.9h0M178.6 570.0h0M190.0 581.3h0M190.8 570.6h0M175.7 603.8h0M170.6 569.8h0M158.4 585.5h0M182.0 574.6h0M201.5 591.1h0M142.5 596.1h0M186.9 587.3h0M176.3 578.2h0M203.6 576.0h0M164.4 615.8h0M169.1 577.6h0M201.4 614.2h0M143.4 581.2h0M197.6 604.7h0M189.8 585.7h0M150.2 608.0h0M148.1 574.5h0M176.1 614.5h0M140.6 603.7h0M168.6 607.8h0M172.4 575.9h0M193.8 598.6h0M151.9 617.7h0M174.4 606.0h0M192.8 578.4h0M193.5 600.3h0M139.3 586.7h0M154.6 608.4h0M194.3 592.5h0M161.0 581.4h0M176.3 606.8h0M184.9 575.0h0M195.9 605.0h0M158.8 613.5h0M188.7 576.4h0M174.3 578.3h0M176.1 587.0h0M200.8 597.6h0M170.3 597.3h0M199.6 585.6h0M188.3 598.5h0M145.5 614.5h0M144.3 592.8h0M140.7 570.6h0M165.7 591.1h0M142.7 597.1h0M143.8 581.4h0M199.6 587.7h0M160.4 616.2h0M155.5 608.6h0M188.4 599.9h0M177.4 579.2h0M168.1 596.4h0M146.5 596.3h0M188.7 588.8h0M169.2 601.7h0M194.8 569.5h0M157.2 584.2h0M200.2 601.1h0M185.4 597.8h0M185.5 602.1h0M182.4 580.4h0M144.2 606.4h0M188.4 571.2h0M153.7 581.9h0M190.4 605.7h0M186.0 591.1h0M198.3 617.2h0M197.2 581.9h0M195.4 574.7h0M139.0 595.6h0M197.3 611.1h0M177.1 603.3h0M202.9 604.5h0M153.1 574.7h0M145.0 585.9h0M140.3 585.7h0M157.8 592.7h0M168.6 607.2h0M176.9 615.0h0M192.1 604.2h0M158.4 592.4h0M193.1 574.2h0M142.3 615.7h0M176.4 588.2h0M196.3 586.7h0M182.8 586.2h0M161.2 576.3h0M175.7 591.3h0M149.8 602.5h0M152.7 593.8h0M156.4 617.5h0M140.6 579.0h0M139.7 593.9h0M201.2 587.6h0M194.8 605.3h0M139.7 590.3h0M186.0 604.7h0M150.8 611.4h0M181.2 611.3h0M143.4 594.5h0M199.5 607.3h0M170.0 599.6h0M195.0 612.3h0M196.9 590.5h0M163.3 571.0h0M181.5 596.9h0M197.1 588.9h0M163.5 593.4h0M177.3 612.1h0M191.5 614.2h0M143.5 607.5h0M142.6 590.5h0M154.5 586.5h0M147.5 598.3h0M150.2 601.4h0M141.1 595.4h0M197.6 613.9h0M157.7 577.0h0M151.5 615.1h0M154.7 607.6h0M153.0 597.9h0M153.9 582.7h0M140.5 588.7h0M185.0 570.3h0M194.1 615.4h0M175.8 616.7h0M185.0 602.3h0M139.1 599.0h0M181.5 578.3h0M167.4 612.1h0M160.0 575.9h0M158.9 575.7h0M161.3 592.6h0M193.3 570.6h0M163.9 615.1h0M155.5 612.4h0M175.1 583.1h0M170.1 615.4h0M155.0 574.7h0M176.6 605.9h0M191.0 607.4h0M155.6 586.7h0M201.6 613.3h0M173.4 569.3h0M155.1 590.8h0M188.4 583.8h0M147.6 585.3h0M140.9 596.3h0M202.1 589.8h0M173.5 616.1h0M174.4 570.3h0M150.7 580.2h0M177.4 575.4h0M147.0 612.5h0M198.6 570.7h0M197.5 599.5h0M185.6 585.0h0M165.1 589.3h0M152.6 598.0h0M176.5 575.5h0M191.7 596.7h0M189.5 576.8h0M196.6 593.4h0M192.7 603.3h0M155.4 576.7h0M159.1 586.8h0M165.6 597.2h0M146.4 613.9h0M176.5 584.2h0M146.5 569.4h0M151.7 578.0h0M175.2 569.3h0M139.3 584.9h0M184.6 577.8h0M170.7 585.6h0M144.2 615.0h0M148.6 576.8h0M184.7 605.9h0M144.3 612.5h0M162.5 587.0h0M156.7 588.5h0M173.4 599.4h0M181.8 603.1h0M142.6 612.5h0M165.4 575.4h0M169.3 600.9h0M140.2 573.8h0M150.1 602.4h0M176.1 581.4h0M150.1 571.5h0M195.4 588.5h0M170.3 613.5h0M161.2 605.0h0M199.6 608.4h0M152.1 597.1h0M163.2 615.7h0M148.2 580.7h0M175.1 588.5h0M185.0 569.5h0M142.2 573.3h0M155.9 590.8h0M177.6 580.2h0M165.1 572.7h0M187.2 595.0h0M171.5 573.9h0M180.2 569.3h0M162.7 604.4h0M175.8 593.3h0M202.8 616.8h0M182.5 570.4h0M147.4 572.6h0M147.5 574.8h0M175.6 595.9h0M185.9 575.2h0M153.7 576.3h0M175.7 610.2h0M193.0 597.2h0" stroke="#2a2a40" stroke-width="0.65" stroke-linecap="round" opacity="0.42"/></g><g filter="url(#bl3)"><path d="M159.2 619.5l-7.8 2.2l-4.4-4.1l.4-6.8l7.0-9.0l3.0 2.2l1.4 8.4zM135.8 569.8l3.1-4.5l9.5 .1l2.1 6.3l2.2 3.4l-6.8 1.3l-10.0 .4zM168.2 596.2l4.0 5.1l-3.2 6.7l-2.4 5.5l-2.7-5.3l-2.7-3.6l3.9-6.7z" fill="#7f8fd0" opacity="0.45"/><path d="M196.9 608.2l-3.8-.6l-.8-1.0l-.1-1.4l2.0-1.1l1.5 .7l2.4 .8zM202.4 611.5l2.7 1.1l-1.1 3.4l-4.0 .7l-.8-4.4zM161.1 583.1l-1.3 1.0l-2.6 1.4l-.8-1.7l.6-2.3l2.7-1.1zM187.4 588.7l3.3-1.3l2.2-1.0l3.8 2.5l-2.3 1.0l-4.1 1.0zM148.4 585.0l-.4-3.8l2.5-1.3l1.5 3.7l-1.5 4.8zM145.9 587.8l-1.4 4.8l-1.3 .7l-2.9-.9l1.3-4.0l2.3-.9zM187.3 614.1l.2-.9l1.1 .2l.7 .6l-.2 1.4l-.4 1.8l-1.4-1.1zM193.4 572.1l-2.5 1.4l-.7 .6l-1.2-2.9l1.2-2.6l1.3 .2l1.2 1.0zM173.7 589.1l-1.0-.8l-.4-1.9l1.1-3.5l2.8 1.0l-.4 4.8zM184.8 598.1l-.2-2.2l2.6 1.0l2.0 1.4l.6 1.3l-2.9 1.2l-1.9-.6zM147.8 604.1l-1.9 1.2l-2.4-3.8l.9-2.1l2.2-.8l2.7 2.6zM169.2 574.8l-.8-2.7l2.4-1.2l2.7 1.7l-1.3 2.6l-1.7 .2zM181.7 567.1l1.4 1.1l.9 .8l-.8 1.9l-1.7 .7l-.3-2.2zM156.2 611.8l5.2 .8l.3 2.4l-2.2 1.8l-3.3 .4l-.8-2.5zM143.2 585.4l2.4-1.4l1.9-.5l-.7 2.3l-.3 2.4l-1.1 .9l-1.3 0zM175.3 583.9l-.9 .1l-.5-2.7l1.0-2.2l1.5-.7l.3 3.2zM202.9 614.2l-.4 2.9l-3.0 .3l-.8-1.0l1.2-2.8zM190.6 611.9l1.4-.5l2.2 2.2l-1.6 1.2l-1.9 1.1l-2.0-2.5zM146.8 609.2l-2.2 1.6l-1.1-1.0l-.2-1.4l1.2-2.0l2.6 1.1zM169.7 583.0l1.8-1.5l3.9-.4l-1.0 1.3l-2.0 2.2zM156.4 575.2l-2.4-1.5l1.6-2.9l3.7-.5l2.6 2.6l-1.5 3.4zM155.6 616.9l1.5 1.0l-.5 1.5l-3.6 .3l-1.7-1.6l1.2-1.0l1.6-1.6zM154.6 583.0l1.0 3.7l-2.4 2.3l-.8-3.8l.7-2.7zM150.2 586.6l-.7 0l-1.4 2.8l-1.3-5.0l1.3-1.5l.8-.5l1.3-.4zM162.8 595.6l1.3 .6l1.1 .8l.5 .8l-2.4 .8l-2.7-.7l1.3-1.4zM191.0 574.3l1.3-.8l2.4 .1l.2 2.0l-.6 1.4l-3.0-1.1l-1.6-1.2zM196.3 596.3l-.7 2.2l-3.2 1.6l-1.8-3.6l3.3-3.6zM175.7 588.3l3.7-2.8l3.0 .1l2.7 3.9l-3.6 .1l-3.1 .8zM177.2 596.2l.3 2.6l-1.0 1.6l-.9-.5l-2.2-2.2l2.5-1.6zM173.8 576.6l2.5-2.0l.9 .6l1.5 2.0l-.2 1.2l-1.9 .7l-2.4-.3zM152.2 586.1l1.5-.2l-.1 2.9l0 .8l-1.4 .4l-.9-.6l-.5-1.8zM149.2 616.7l-1.4 1.5l-1.4-1.0l0-1.8l1.0-.6l1.1-.6l.9 1.8zM143.4 567.0l3.2-.6l2.2 2.1l1.5 2.0l-1.6 1.2l-3.2-1.0l-2.2-1.3zM153.7 588.2l-2.8 1.3l-1.4-2.3l1.9-3.4l2.1 1.8zM195.2 609.9l-.6 1.1l-1.3 .8l-.5-1.1l-.4-2.5l1.0-.8l1.9-.4zM177.4 613.1l-.1 1.3l-1.8 1.0l-.6-1.5l.5-1.4zM146.8 571.2l2.4 1.0l1.8 2.4l-2.7 1.5l-4.0-.5l-1.9-2.4zM181.9 609.8l2.6-1.4l3.6-.8l2.5 1.3l-2.9 1.8l-3.1 1.5zM186.9 594.8l-.1 2.2l-1.2 2.3l-1.2 .1l-1.4-2.1l.4-.8l1.2-2.3zM156.3 579.2l1.1-1.2l1.2 .4l1.0 3.3l-1.5 .7l-1.0 .3l-1.6-1.0zM202.4 573.0l-1.2-1.5l0-1.7l1.5-2.4l1.6 1.4l0 4.2zM183.0 613.2l1.9 1.1l-1.0 2.4l-2.1 .5l-.9-2.4l1.0-1.7zM186.0 575.5l-.6 2.3l-3.1 .5l-.5-1.9l.2-1.0l1.4-.8zM143.6 595.2l2.4 1.9l.8 2.7l-3.0-.1l-3.5-.6l1.2-2.7zM194.5 606.0l-1.3 1.4l-1.2-.6l.2-2.0l1.4-1.2zM167.2 596.2l.3-1.8l3.2 .4l.8 1.3l-2.0 1.8zM137.2 588.4l2.6-2.3l3.9-.7l.2 1.9l.2 1.3l-2.4 2.3l-3.7-1.5zM184.9 596.0l-2.4 .4l-1.1-3.1l.6-3.1l2.8 .1l2.1 2.3zM182.1 613.2l1.8-2.3l1.0 1.7l-.1 2.8l-.5 2.2l-1.8 .2l-.8-2.9zM189.8 604.4l-2.7-1.7l2.1-1.8l3.3-.4l.5 2.3zM201.0 610.7l-1.6-1.9l1.2-3.7l1.5 .6l.2 3.2zM158.9 581.8l-1.3-2.1l2.6-1.2l2.3 .4l-1.2 3.0zM199.5 597.7l-1.1 0l-.6-1.1l.3-1.2l.4-1.4l1.0 .5l1.3 1.8zM173.1 594.2l-.7-2.5l-1.1-1.3l3.7-.3l2.6 1.2l-2.1 2.1zM171.7 608.4l-.5-3.1l3.5 0l.6 2.2l-2.3 2.8zM184.1 611.5l1.7 .3l1.4 .4l-.9 2.2l-1.1 .4l-.8-1.0zM159.7 572.6l.6-2.2l1.4 .7l1.5 1.5l-1.1 1.1l-1.0 .4l-1.8-.2zM154.8 589.6l-1.3 2.7l-1.6 .7l-.9-2.7l.4-2.4l2.4-1.2zM186.3 617.3l.1-3.5l2.9 .9l1.6 2.1l-1.3 1.6l-2.2 .9zM200.2 584.8l1.1-1.4l2.7 .6l-.3 1.0l-.2 2.6l-3.6-.4zM188.1 594.7l-2.0-1.8l-.6-4.3l3.0-1.3l1.7 1.3zM143.6 611.9l-.2 1.6l-1.6-.4l-1.3-1.1l-.4-2.2l1.9-2.5l1.1 1.2zM196.2 587.2l-2.1-.4l1.1-2.1l1.9-1.1l1.5 1.6l1.8 2.2l-2.9 .8zM162.2 581.3l2.8-1.1l.8 2.7l1.7 2.2l-2.4 2.6l-1.8 0l-.4-2.8zM190.9 568.4l1.4 2.0l-1.0 2.3l-1.5-1.7l-1.2-2.1zM156.2 610.2l-2.1 2.3l-1.6-2.4l0-2.5l1.8-1.6l.8 .7zM148.1 597.8l-.4 2.2l-2.0-1.0l-.5-1.4l-.4-3.8l2.0-.1l2.5 1.6zM152.5 617.1l.7-2.2l1.4-1.1l3.5 1.0l0 1.7l-3.2 .4zM167.5 608.4l1.5 1.3l-.8 1.7l-1.7 .1l-.9-2.3zM157.4 574.6l-2.4-.7l.6-3.9l2.1-1.0l.7 2.2zM178.1 588.2l-.2 2.6l-2.6 .2l-.5-1.6l1.3-1.7zM162.6 577.7l0 2.4l-2.6 0l0-3.1l.6-1.7l1.8 0zM200.8 587.9l.2-4.4l2.8 1.2l-.2 4.4l-2.4 2.4zM183.5 598.6l3.4 1.0l.2 3.3l-2.7 .6l-4.2-.8l1.4-2.7zM170.8 569.0l-.4 2.2l-.9 2.1l-2.2-1.9l-.1-3.0l1.8-1.9zM179.4 590.0l1.3-.6l2.0 .3l.2 1.6l-1.3 1.0l-2.9-.6zM160.1 585.7l-2.9-.3l-2.2-3.2l2.6-2.4l1.8 1.3l2.2 1.3zM198.5 613.5l-.1 3.7l-2.1 .4l-1.9 0l-2.0-1.6l-.4-1.5l4.6-1.9zM154.3 593.4l-2.1 1.2l-2.5 1.9l-1.1-2.9l-.6-2.4l3.4-.9zM141.1 583.6l-.9-1.3l4.0 .6l2.6 .9l-1.7 1.9l-2.5 .4l-2.6-.9zM160.2 592.3l-2.3 1.2l-1.1-2.8l.3-1.5l1.5-1.4l1.6 .6l.1 2.1zM150.0 616.1l-3.7-1.5l2.0-3.3l2.7 .6l2.1 2.9zM149.3 591.5l-2.5 1.0l-.3-1.7l-.1-2.7l1.8-.1l2.0 1.3zM176.7 594.1l2.5-2.0l3.7 2.6l-.6 2.1l-3.5 1.4zM182.6 573.0l.5-1.4l2.1-.6l.9 1.9l-.9 3.3l-1.3 0l-1.5 0zM200.8 605.0l2.0-1.6l.7 4.3l-1.0 2.1l-1.0 1.2l-1.2-.5l-.3-2.5zM181.0 588.5l2.6-.8l2.3 1.3l-.1 1.8l-3.1-.1l-2.3-.2zM195.3 575.9l.4 2.2l-2.4 1.0l-2.6 .2l-.4-3.1l2.3-2.8zM181.3 600.4l-1.8-1.6l.8-1.2l2.9-.6l2.1 .7l-1.0 1.9zM160.2 590.0l0 1.4l-.2 1.6l-2.5-.3l-.5-1.6l1.1-1.0l.7-.9zM182.1 588.9l.2-3.6l.9-.9l2.2 1.6l.1 1.6l-.9 3.0l-1.9 2.5zM188.2 600.4l-3.0 1.7l-3.6-.4l1.0-3.8l3.3-.5zM185.0 600.1l3.2-.9l1.0 1.0l-.3 1.3l-2.2 1.4l-1.6-.8zM197.6 611.2l1.1-2.9l4.0 .9l.6 2.6l-3.2 2.0zM198.3 618.7l-1.3 4.1l-.9-4.2l-1.2-2.7l1.6-1.3l2.2-1.9l-.2 3.5zM143.6 605.2l1.2 2.1l-1.4 1.7l-.8 1.0l-1.0-2.1l.1-2.9zM184.4 604.5l-2.2-1.0l-.1-2.6l3.5 .3l2.2 2.7zM182.0 568.9l-.6 1.6l-3.0 1.2l-2.8-.9l.2-2.6l4.1 .1zM161.6 576.9l-1.0-2.7l4.9-.8l2.5 1.4l-.7 2.4l-2.6 .6zM186.4 597.0l-.4-3.6l.2-1.8l2.8-.6l.6 2.2l-1.0 2.5l-.7 3.5zM146.5 609.3l-.9 3.2l-1.6 1.5l-2.3-.8l-1.0-2.0l.8-2.3l2.3 .4zM162.2 589.4l2.8 2.8l-2.0 2.4l-2.9 0l-1.8-2.2l1.6-2.2zM157.9 589.1l-3.9-.5l-1.4-1.3l.8-1.0l2.2-1.4l2.5 .5l-.7 1.8zM203.0 579.7l-.7 3.2l-4.2-1.4l1.0-3.3l2.4-.4zM156.8 597.7l.5-1.3l2.5-.8l.7 2.3l-.3 3.3l-1.9-1.2l-1.3 .1zM149.3 582.6l.3 1.7l-2.1 2.2l-1.6 0l-2.8-.8l1.9-3.4l.4-1.1zM150.8 598.5l-1.2-.8l-1.9-.5l.6-3.7l1.8 1.0l2.1 1.6zM147.2 614.9l.6 2.3l-2.5 1.2l-2.7-2.2l1.0-1.7zM174.7 577.6l1.2-2.0l1.8-.4l.5 2.2l-1.0 2.6l-2.1 .2zM156.8 578.9l1.7-2.4l1.6-.4l.8 1.7l-.8 2.8l-2.5-.2zM140.7 579.1l.3-3.4l1.5 .6l.9 1.7l-1.7 1.5zM176.4 592.2l1.6-.8l2.3 2.2l-.3 1.9l-3.1 1.0l-2.6-1.2l.2-2.4zM185.9 586.7l2.5-.7l1.5 .6l.1 2.5l-2.2 .7l-1.2-1.0l-1.9-.7zM187.3 592.0l1.8-1.0l1.2 1.0l-.3 2.0l-1.4-.3zM176.1 598.6l1.2 2.4l-5.3 1.2l-1.8-2.6l1.6-1.7zM177.6 576.6l-1.2-1.0l-1.9-1.2l2.4-1.0l1.7-.1l1.5 1.5l-.7 1.2zM146.1 578.1l-.7-1.5l.6-2.4l1.4 .7l1.2 1.6l-.7 3.2l-.9-.5zM168.6 601.5l1.1 3.3l-1.8 3.3l-1.2-2.5l-.4-2.0zM158.0 570.4l2.1 2.1l-1.5 .2l-3.1-.6l-2.0-1.0l.1-1.4l1.9-.9zM147.0 584.5l3.6 1.1l-3.4 2.9l-3.4 .4l1.2-3.4zM194.7 586.9l.9-1.9l1.4-1.4l3.0 1.7l.6 1.2l-1.5 .8l-2.4 .2zM188.9 609.2l-2.0-2.5l2.6-3.0l2.7 2.5l-1.1 3.1zM175.7 584.0l3.2 1.4l2.5 .3l-1.7 1.9l-2.2 1.1l-3.2-.3l-.6-3.0zM193.9 611.7l2.0-2.8l1.2 2.9l.4 1.5l-1.2 2.9l-2.2-1.7zM165.7 577.7l2.0 .3l-2.1 1.4l-1.8 1.1l-.8-1.6l.4-1.2zM156.5 608.8l1.3-2.3l3.0 .5l-.4 2.2l-3.0 1.3zM175.3 596.5l1.3 1.2l-1.1 3.2l-2.0-.2l-.2-2.4l.2-2.3zM166.4 578.0l2.5 2.1l-.4 3.4l-2.5-.6l-1.2-2.7zM155.7 598.7l2.0-1.7l2.9 .8l-.3 1.4l-1.3 1.1l-1.5-.3zM148.6 606.1l1.2 .2l-.4 1.2l-.8 1.1l-2.2 .4l-.1-1.1l.8-1.7zM170.4 586.9l1.1 2.6l-3.2 .6l-1.9-1.5l1.3-3.0zM146.4 616.7l.3 2.3l-2.1-1.0l-.9-.4l0-1.7l.8-1.8l2.2 1.3zM145.1 579.9l1.9 1.1l-.7 1.5l-.8 .8l-3.0 .2l-1.8-1.9l.6-1.0zM170.7 583.7l-1.5 .9l-2.0-.8l.9-2.3l1.6-1.0zM196.0 609.2l1.9-3.7l1.1 3.7l1.3 2.9l-2.0 2.9l-1.6-2.2zM196.7 595.9l2.0 .5l-.3 2.4l-1.9 .4l-.2-1.5zM186.6 578.9l-1.8 1.4l-2.8-.5l.8-2.4l2.6-.1zM166.0 591.5l-2.3 .2l-2.7 .3l0-1.6l1.9-1.0l2.0 .1l.5 1.0zM163.6 567.9l1.1 1.8l-1.4 3.4l-1.8-.3l-.4-3.4l1.6-2.5zM178.6 572.5l-.1 2.5l-1.8-.8l-.6-1.1l-.9-2.4l1.8-.4l1.6 .5zM164.1 602.1l2.0-2.9l1.0-2.1l5.5 1.4l-1.7 2.2l-3.1 2.7zM153.3 591.4l.8-3.3l2.3-.8l1.5 2.4l.3 3.7l-2.5 .1zM173.6 597.6l.4-1.7l.4-1.3l1.1 .1l1.0 .5l-.1 3.5l-1.1-.1zM185.1 607.6l1.3 .3l.8 2.1l-.1 .9l-.5 1.4l-1.6-.2l-1.1-1.6zM148.5 595.0l-.1 2.5l-3.8 1.0l-1.8-3.1l1.7-1.5l2.1 .1zM196.4 599.3l-1.7 1.8l-.8 1.4l-1.0-1.9l.1-2.4l2.1-1.2zM178.8 602.0l.9-2.0l1.0 2.2l-.7 4.5l-1.9-1.4zM197.0 581.0l-.2-3.7l1.0-3.6l1.8 1.3l.2 1.6l-.4 3.0zM149.1 570.8l2.6 .6l.2 1.9l-.9 2.0l-3.0-1.3zM170.7 614.8l1.2-1.5l2.2 1.5l-.4 2.9l-3.6 .9l-.3-2.5zM174.1 579.4l-1.8 2.2l-1.9-5.8l1.6-2.7l2.6 2.3l2.2 1.7zM177.0 600.9l2.2-1.2l2.5-.6l1.3 1.8l-1.2 1.4l-.8 1.0l-3.4 .1zM187.4 604.5l-1.6-.2l-.4-2.9l1.0-1.3l1.3-.5l1.9 .4l-.8 2.5zM153.9 597.0l-2.5-.9l.1-1.9l.8-1.3l1.9 .4l3.5 .4l-1.3 2.2zM143.1 604.2l2.0 2.0l.9 1.9l-2.0 .6l-1.2-.4l-.9-1.9z" fill="#5b6ec4" opacity="0.78"/><path d="M195.6 605.9l.2 .9l-2.0 .5l-.5-.5l.2-1.0zM202.6 612.2l.5 2.6l-1.2 .4l-.8-1.3l-.3-1.5zM159.2 584.1l-.8 .4l-.2-2.1l.7-1.4l.7 1.8zM191.2 587.5l1.1-.8l1.2 1.0l-.6 1.4l-1.6 .3zM148.6 583.5l1.0-.6l1.2 .3l.2 .7l-1.4 .3zM142.0 590.4l.7-1.2l.9 .4l.5 1.1l-1.3 .6zM188.8 614.7l.2 1.0l-1.4-.2l.1-1.4l.4-.5zM189.8 571.3l.1-.9l1.1-.7l1.3 1.1l0 .7zM173.0 586.0l2.0 .5l-.4 1.2l-.8 .5l-1.6-1.0zM188.1 598.9l-1.1 1.3l-1.5-.8l.8-1.3l.9-.5zM145.7 602.8l-.5-1.6l1.9-.4l1.2 .8l-1.4 1.5zM169.8 574.5l-.4-1.1l1.1-.4l.7 .2l-.3 1.7zM182.1 569.8l.2-.9l.7-.4l.6 .9l-.4 1.0zM158.7 614.8l.1-.9l1.2-1.1l.4 1.8l-1.1 1.7zM144.3 586.7l.8-.7l1.2-.2l.6 1.4l-2.1 .9zM175.9 581.5l-1.0-.1l-1.1-.6l.9-.7l1.3 .6zM199.7 615.1l.9-.5l.9 1.7l-1.1 1.6l-1.0-.7zM191.1 611.4l.7 1.1l0 1.4l-.8-.1l-.1-1.0zM143.7 608.9l-.2-1.0l.9-.4l.7 .7l-.9 1.3zM174.2 582.1l-.5 1.0l-.7 .5l-.5-1.0l.5-.9zM157.8 571.2l1.0 1.8l-.2 1.8l-1.4 .4l-.6-2.4zM153.1 617.6l1.0-.6l1.1 .4l-.9 1.2l-1.2-.2zM154.7 586.0l-.8-.4l-.9-1.1l.5-.9l1.5 .3zM148.5 583.8l.7 .4l.1 1.1l-1.8-.1l-.5-1.1zM164.7 597.2l-.4 1.3l-.9-.6l-.4-.6l1.3-.7zM191.4 574.2l.4-.6l.7 1.1l-.5 1.3l-.6-.5zM195.3 596.2l-.6 1.6l-.9 .4l-.4-1.7l.9-1.5zM181.3 589.5l-1.5-.4l-.3-1.5l1.5-.2l.5 .7zM175.2 599.0l-.3-.6l1.0-.7l.6 .6l-.2 .8zM176.9 577.2l-.4 .5l-.4-1.0l.5-1.1l.6 .7zM152.9 589.1l-1.1-.2l-.6-1.2l.9-.9l.5 1.2zM147.3 614.9l.5-.4l.3 .5l-.3 1.4l-.5-.1zM147.3 569.3l-.8 1.4l-1.9-.7l-.2-1.3l1.8-.4zM153.3 586.7l-.5 2.2l-1.0-.7l.1-2.2l.7-.5zM194.6 609.5l-1.1 1.0l-1.2-.5l-.3-.7l1.6-.1zM175.2 613.9l.4-.6l.9 .5l0 .8l-.9 0zM146.6 572.9l1.7 .6l-.3 1.1l-1.0 .9l-.9-1.0zM186.5 608.1l1.5 1.5l-1.4 .5l-1.9-.9l.4-.9zM184.6 596.2l1.1 1.1l-1.4 .5l-1.1 0l-.1-1.4zM157.7 580.5l-.9 .2l-.4-.9l.9-.5l.5 .4zM203.4 569.4l.5 .8l.2 1.6l-1.3-.4l-.3-1.4zM180.6 614.3l1.4-.7l1.8 1.1l-1.1 1.0l-1.8 0zM182.3 576.1l.8-1.1l1.5 .4l.8 .9l-1.3 1.1zM144.5 598.4l-1.0 1.2l-1.1-1.5l1.0-.9l.5-.1zM193.3 604.8l.3 1.0l-.8 .9l-1.1-.6l-.1-.9zM169.8 597.0l-.9-.2l-.7-.9l1.5-.9l.8 .8zM141.7 588.5l-.6-.6l.1-1.1l1.3-.6l.4 1.8zM185.6 592.7l-1.9 .4l-.8-.4l-.2-.7l1.9-.2zM182.8 614.8l-.1-1.0l1.5-.1l.3 1.2l-.9 .6zM191.0 602.1l.3 .9l-1.6 .4l-.7-1.1l.9-.4zM202.1 608.6l-1.4 .5l-.6-.8l.7-.8l1.2 .3zM158.4 580.2l.6-1.3l.5-.4l.4 1.1l-.4 1.4zM200.0 596.9l-1.1 .8l-.4-1.1l.5-.9l1.1-.3zM173.9 590.2l.8-.6l.6 1.2l-.3 1.4l-1.0 0zM172.4 607.6l.8-.2l.2 1.0l-.4 1.0l-.9-.9zM186.9 612.7l.1 1.5l-1.2 .2l-.6-.7l.7-1.0zM161.4 573.3l-.8 1.0l-.5-1.0l.3-1.3l.6-.1zM153.4 589.2l.1 1.8l-.8-.5l-1.1-.9l.8-.9zM188.5 614.6l.6 1.5l-.7 2.1l-1.1-.8l0-1.1zM202.5 584.7l.6 1.1l-1.4 .5l-.9-.2l.4-1.8zM189.6 589.3l-1.1 1.5l-.9 .1l-1.0-1.5l1.1-.4zM141.8 611.2l0-.8l1.2 .1l.2 .6l-.5 .4zM197.3 587.2l-1.1 0l-.2-1.3l1.0-1.0l.5 1.2zM165.7 584.4l-.3 1.4l-1.0-.2l-.7-1.9l.9-.6zM191.0 570.1l.2 .5l-.5 .5l-.6-.3l-.2-.8zM154.0 608.8l-1.0-.3l-.3-1.4l1.4-.3l.6 1.0zM146.1 597.3l.7-.9l.5-.2l0 1.8l-.5 1.0zM155.3 616.3l-1.1 .7l-.6-1.2l1.0-2.3l.7 .8zM168.5 609.8l0 .8l-.3 1.0l-.5-1.1l-.1-.9zM156.9 570.3l.7-1.1l.6 2.2l-.6 .7l-1.1-.5zM176.1 590.0l-.5-.4l.2-1.0l.8 0l-.1 .9zM161.6 577.4l-.8 .4l-.7-.8l.7-1.2l1.0 .5zM203.1 587.2l-.8 .9l-1.0-.2l.6-1.9l.9-.7zM183.7 600.6l1.5-.4l.3 1.5l-1.8 .3l-.9-.7zM169.6 569.5l1.1 0l-.4 1.0l-1.4 .4l-.9-1.1zM182.2 591.1l-.9 .9l-.5-.7l.2-1.3l1.1 .1zM157.5 582.8l.9-1.0l1.1 .3l.6 1.1l-1.5 0zM193.7 616.4l1.3-1.9l2.4 .3l.4 1.7l-2.7 .7zM152.4 593.2l-.6 1.0l-1.3-.3l-.4-.6l1.2-.9zM143.0 582.7l1.1 .5l.2 2.5l-1.3 .7l-.9-2.4zM158.7 590.7l-.2-.6l.7-.4l1.3 .5l-.8 .7zM149.3 615.4l-.2-1.5l1.4-.5l.8 .8l-.7 1.8zM147.4 588.7l1.0 .4l-.3 1.1l-1.0 .7l-1.1-1.0zM181.6 595.1l-.3 1.3l-1.9 0l-.1-1.0l1.2-.8zM183.8 573.0l.6 1.4l-.8 1.2l-.5-.6l.1-1.2zM202.2 609.0l-1.1 0l-.4-.8l1.3-.9l.7 .5zM183.4 589.4l-.5 1.3l-1.4-.5l-.1-2.3l1.5-.4zM191.9 575.4l1.7 1.6l-.5 1.7l-1.9-.2l-.5-1.8zM184.7 598.7l-1.0 1.4l-1.4-.8l-.3-1.0l1.4-.6zM158.4 591.6l-.5-.6l.6-.6l1.1 .1l-.2 .8zM183.5 588.9l-.7 .9l-.5-1.5l.4-.9l1.2 .2zM185.2 598.7l.2 1.6l-.6 1.4l-.7-1.2l0-1.3zM187.7 600.1l.7 .9l-.4 .9l-1.4-.4l.2-1.4zM200.6 607.9l1.3 2.7l-.7 2.9l-1.7-1.3l.3-2.1zM196.8 615.9l1.3 .9l.1 1.0l-2.2 1.0l-1.0-1.8zM142.6 608.5l-.5-.8l-.4-.6l.8-1.1l.5 1.3zM186.3 603.6l-1.1 .7l-1.9-.6l.4-1.6l1.9 .1zM177.7 570.3l.9-1.5l1.1 .6l-.3 1.4l-1.8 1.1zM163.5 574.6l1.6 .1l-.1 1.7l-1.0 .5l-.6-.8zM187.1 595.5l-1.2-.6l-.3-1.4l2.3 .3l.6 1.6zM142.7 610.6l1.3-.6l1.9 .2l-.5 1.2l-1.1 .1zM161.4 593.3l-.5-1.5l.8-2.2l1.2 1.3l-.5 1.7zM155.7 587.5l-1.0-.6l-.1-1.0l1.4-.2l.9 .4zM201.1 581.1l-1.2 1.0l-.7-2.3l.8-1.1l1.1 .8zM159.6 597.5l-.8 1.2l-.8-.2l0-.7l.9-.7zM147.2 583.6l.7 1.5l-1.4 .5l-.8-.6l.4-1.1zM149.6 597.4l-.9-.3l.5-.9l.8 .2l.1 .9zM143.6 616.0l1.8-.3l.4 .8l-.3 .6l-1.4-.1zM177.0 576.7l.4 1.3l-.3 1.6l-1.2-1.0l.2-1.0zM160.0 577.4l-.6 1.0l-1.3-.1l0-1.3l1.4-.4zM141.6 577.2l1.2 .5l.1 .7l-.9 .6l-.6-.9zM178.6 594.2l-.7 1.1l-1.6 .2l0-2.1l1.6 0zM186.6 588.8l-1.1-.8l.4-.8l1.7 0l.3 1.2zM189.7 594.0l-.2-.7l0-.8l.6-.2l.1 .9zM174.2 599.7l.5 .6l-.4 1.0l-.7-.6l.1-.6zM178.3 574.2l0 .7l-.3 .6l-.6 0l-.2-1.0zM145.9 576.2l0-.9l2.1 .4l-.4 .7l-1.1 .3zM168.1 604.5l-.7 1.3l-1.0-.8l.1-1.3l.8-.4zM157.1 570.8l-.3 1.1l-1.7 .8l-.2-1.0l.9-1.2zM146.7 588.3l-1.1-1.5l-.2-1.8l1.0-1.7l.4 1.5zM197.4 584.8l.7 .3l.9 .9l-1.5 .1l-1.0-.4zM189.6 606.9l1.1 1.1l-1.6 .7l-.8-.8l-.1-.8zM177.5 587.7l-1.0-.7l.4-1.4l1.5 .5l.2 .9zM196.5 612.3l.3 .8l-1.4 .2l-1.6-.9l1.6-.6zM164.7 579.9l.4-1.8l.6-.1l.3 1.5l-.7 .7zM160.2 607.2l-.4 1.6l-1.3 .2l-1.5-1.2l1.6-.8zM174.5 597.7l.8 .2l.5 .9l-.9 .8l-.7-.2zM168.3 581.9l-2.1-.5l-.3-1.4l1.8 0l1.3 .9zM158.6 599.8l-1.0-.2l.2-.9l.6-.4l.7 .3zM148.9 607.8l-.8 1.0l-.9-.5l-.5-1.1l1.6 0zM170.1 588.5l-2.1-.1l-.5-.4l1.1-1.0l1.1 .4zM145.4 616.5l.3 .5l-.7 .3l-1.1 .1l.7-1.3zM145.2 580.8l-.3 1.2l-.5 .3l-.9-.5l.6-.7zM170.3 583.4l-.7 .8l-1.7-.5l.8-.9l1.5-.2zM197.9 610.3l.6 .7l-.5 .8l-1.2-.6l-.1-1.1zM197.2 596.0l.6 .2l.4 1.2l-.5 1.6l-.7-1.5zM185.6 577.2l.5 1.2l-1.0 1.2l-.9-1.1l.3-1.0zM164.3 590.2l-.1 .9l-.5 .4l-.6-.8l.3-1.0zM162.9 570.0l1.3-.2l.5 1.5l-1.1 .4l-1.5-1.1zM176.8 571.4l.6-.3l.6 .4l-.6 1.4l-.6-.4zM168.7 599.2l1.3 .4l.3 1.8l-2.9 .1l-.3-1.3zM155.1 590.3l1.1-.3l.8 1.3l-.9 2.2l-1.4-1.6zM175.0 595.8l.5 .8l-.8 .3l-.6-.4l.1-.8zM185.5 610.8l-.6-1.1l1.3-.8l1.0 .5l-.6 1.1zM143.2 595.7l.6-1.8l2.3-.2l.3 2.4l-1.9 .5zM193.8 598.1l1.5 1.0l-.4 .9l-.4 .3l-1.2-.4zM179.5 601.4l1.1 1.1l-.5 1.1l-.6 .6l-.1-1.3zM199.7 576.6l-.4 1.1l-1.2-.6l-.2-1.0l.9-.7zM151.0 574.5l-.9 .2l-.1-2.9l.8-.1l.7 1.6zM172.3 615.8l-.5 .8l-.4 .3l-.9-.7l.7-.7zM173.5 576.2l1.3 1.0l-1.8 .8l-1.2-.2l.3-1.8zM180.3 601.3l-.7 .8l-1.4-.6l1.1-1.0l1.3-.2zM187.9 602.1l-1.4 .4l0-1.5l.6-1.0l2.0 .9zM153.9 593.4l1.3 1.2l-.8 1.1l-1.1 .1l.1-1.6zM143.1 606.9l1.1 .5l-.1 .9l-1.4-.3l-.2-.6z" fill="#26359a" opacity="0.7"/></g><g filter="url(#bl)"><path d="M195.9 603.4l0.5 1.4M204.4 612.0l0.1 -1.4M156.2 586.9l-1.2 -0.1M193.0 590.7l-1.0 0.8M140.8 588.7l1.0 -1.0M190.8 617.6l-1.1 -0.8M190.3 573.5l-1.3 0.5M186.5 601.0l0.7 1.5M145.6 600.8l1.1 -0.5M168.2 573.3l-0.4 0.1M179.0 566.3l-0.8 -1.0M142.9 583.8l0.9 -0.7M175.7 583.7l-1.1 -0.6M199.5 611.9l0.7 0.9M193.1 612.4l1.4 0.3M147.8 608.0l0.4 0.3M169.0 583.2l-1.0 -1.2M154.5 575.1l-0.1 1.0M150.3 616.6l0.4 -0.1M154.2 583.8l1.4 0.2M191.5 575.8l-0.1 -0.7M192.8 598.2l0.8 -1.3M179.8 594.7l1.3 0.6M155.1 589.0l1.4 0.8M149.7 616.0l0.3 -0.6M194.2 613.3l1.0 1.4M178.1 613.5l1.2 1.0M145.5 574.8l0.3 0.8M188.0 609.9l-1.3 0.9M182.0 594.6l0.6 0.0M156.3 582.1l1.5 -1.4M201.9 569.1l0.2 -0.4M186.3 618.0l0.2 -0.9M167.1 595.8l0.4 1.3M142.8 587.7l0.6 0.8M179.9 591.6l-0.6 -0.1M182.4 616.3l-0.2 -1.4M188.8 603.0l-1.4 -1.3M202.2 596.0l0.4 0.3M172.8 609.0l0.9 1.2M181.7 614.5l0.2 0.1M143.3 610.1l0.6 0.2M162.2 586.5l-0.8 0.4M153.2 607.5l0.9 -1.0M148.4 599.3l-1.4 1.2M160.8 568.3l0.4 -1.2M173.2 585.9l-0.8 -0.1M165.2 580.5l-1.0 -0.3M184.4 598.4l0.7 -0.1M184.0 593.9l0.8 1.3M155.7 584.6l1.5 1.0M154.9 596.0l0.4 -0.4M143.9 585.4l0.6 -0.0M161.6 589.7l1.4 -0.7M152.0 616.5l0.3 -0.9M145.4 588.2l0.8 0.5M184.7 572.7l0.2 0.5M200.9 611.4l-0.2 -0.9M192.6 576.8l-1.3 0.9M186.5 598.8l-0.2 0.9M188.3 597.0l-0.4 -1.3M201.4 609.6l-1.2 0.6M144.8 610.1l1.0 1.1M181.7 606.8l-1.3 -1.1M180.1 569.4l-0.3 -1.1M167.0 574.8l-1.4 0.1M184.3 597.1l1.2 0.4M158.1 588.6l1.3 -0.7M197.4 577.4l0.4 -0.8M162.0 597.9l-0.6 -0.9M149.9 594.7l1.1 -0.2M147.5 615.7l1.2 -0.3M174.2 574.5l-0.6 1.4M158.6 581.8l0.3 -0.3M139.4 580.6l-0.3 1.0M180.1 592.0l-0.5 -0.2M191.1 589.7l-0.4 -0.8M173.1 599.8l0.1 0.5M174.4 577.4l0.6 0.5M146.4 574.5l0.1 0.4M169.7 604.8l-0.7 -0.7M152.4 569.0l-0.2 0.4M187.2 606.0l-0.2 1.1M161.3 581.2l0.3 0.8M154.8 605.1l-0.4 0.9M162.3 595.8l1.5 -1.0M150.6 610.6l1.4 1.0M167.9 584.3l-0.5 0.4M147.6 612.9l-0.4 -1.1M145.0 580.4l0.9 -0.9M170.7 579.7l-1.5 1.4M199.4 593.6l-0.1 0.8M187.2 578.8l-0.4 -1.2M160.8 592.7l0.2 1.3M165.2 597.2l-1.2 0.7M154.0 587.3l0.4 -0.8M178.5 598.6l0.2 -0.7M185.2 613.4l-0.7 -0.9M149.0 596.4l-0.9 -1.0M177.6 605.2l-1.2 -1.0M194.8 575.7l0.7 -0.6M150.6 571.6l-0.6 0.4M178.5 600.9l-0.6 -1.3M154.4 590.6l-0.5 0.2M147.3 606.0l-1.4 -1.3" stroke="#0c0f25" stroke-width="0.95" stroke-linecap="round" opacity="0.9"/></g></svg>
<rect x="205" y="569" width="64.0" height="49.0" fill="#c9cbda"/><svg x="205" y="569" width="64.0" height="49.0" viewBox="205 569 64.0 49.0" overflow="hidden"><g filter="url(#bl)"><path d="M221.6 609.7h0M206.7 608.9h0M239.1 594.0h0M206.2 603.5h0M224.1 615.6h0M250.8 602.2h0M263.7 575.3h0M237.1 583.9h0M250.2 570.2h0M210.6 571.2h0M238.1 616.7h0M209.0 600.1h0M235.1 590.8h0M255.7 578.4h0M253.6 582.8h0M243.8 592.4h0M263.5 569.5h0M247.5 616.2h0M222.9 600.6h0M247.5 581.5h0M251.4 584.0h0M213.3 571.1h0M228.1 611.7h0M256.5 583.4h0M230.3 572.2h0M245.3 574.4h0M212.8 585.5h0M226.4 605.5h0M241.6 575.5h0M251.1 606.2h0M268.9 602.5h0M213.2 580.4h0M266.4 589.7h0M260.1 602.9h0M213.4 573.2h0M229.2 607.3h0M250.5 608.2h0M243.4 606.2h0M265.2 596.2h0M250.8 613.4h0M257.7 593.1h0M235.5 590.5h0M228.7 572.1h0M237.0 591.8h0M209.9 607.7h0M243.8 573.1h0M267.1 579.9h0M234.2 600.2h0M215.3 582.6h0M235.5 570.9h0M228.1 597.8h0M225.4 605.2h0M231.2 594.0h0M258.1 600.6h0M255.6 609.6h0M219.3 574.6h0M240.6 602.6h0M236.9 616.7h0M247.1 607.2h0M251.6 571.0h0M245.1 608.0h0M227.3 592.7h0M225.4 585.2h0M217.3 596.9h0M254.1 595.4h0M225.8 601.4h0M251.1 570.6h0M262.6 609.5h0M243.5 606.6h0M242.3 591.0h0M248.2 584.5h0M207.0 589.1h0M238.1 610.5h0M262.4 569.4h0M267.5 605.2h0M266.7 572.7h0M227.7 591.5h0M247.0 578.1h0M249.0 586.0h0M248.7 586.1h0M226.5 579.7h0M225.5 582.8h0M253.6 570.8h0M253.6 614.0h0M250.3 602.2h0M234.2 603.2h0M237.2 594.8h0M267.2 597.8h0M261.1 600.6h0M262.4 575.6h0M267.3 574.2h0M264.2 605.3h0M234.2 575.9h0M247.6 614.4h0M206.4 606.0h0M224.9 606.2h0M209.4 575.1h0M216.1 588.7h0M249.0 587.0h0M236.5 602.9h0M262.1 582.7h0M265.3 570.1h0M249.4 584.2h0M232.4 592.7h0M238.4 581.6h0M222.5 616.0h0M213.1 583.3h0M257.7 616.1h0M208.8 581.7h0M240.1 592.0h0M212.4 569.8h0M212.5 591.7h0M254.8 580.3h0M215.0 591.7h0M208.0 583.0h0M223.8 607.5h0M206.9 581.0h0M224.7 587.4h0M232.1 595.0h0M268.5 611.9h0M247.1 581.6h0M256.9 602.3h0M253.3 600.3h0M208.7 608.1h0M219.6 617.1h0M256.4 590.7h0M243.1 605.3h0M264.7 597.1h0M221.7 610.2h0M215.3 591.9h0M223.1 594.8h0M211.7 614.8h0M217.3 573.6h0M232.3 616.9h0M220.7 581.1h0M257.1 614.2h0M249.1 609.0h0M211.2 607.6h0M215.6 587.0h0M210.2 609.0h0M208.6 581.0h0M220.5 606.2h0M222.3 604.7h0M214.9 612.5h0M256.6 592.0h0M206.8 608.8h0M266.9 602.8h0M218.4 575.8h0M210.9 600.8h0M214.9 575.1h0M257.6 581.6h0M245.8 574.6h0M258.5 613.1h0M246.0 570.4h0M205.7 574.0h0M252.2 600.8h0M218.0 607.4h0M228.1 575.3h0M209.8 602.1h0M221.9 600.7h0M232.1 614.4h0M246.9 615.4h0M252.9 586.9h0M217.8 582.0h0M213.7 607.0h0M212.7 609.8h0M212.0 602.6h0M247.8 599.4h0M250.8 584.2h0M252.0 589.2h0M249.9 595.2h0M259.5 585.1h0M218.4 606.4h0M268.8 584.5h0M267.2 588.7h0M213.1 600.4h0M228.6 595.2h0M222.3 599.0h0M257.3 601.2h0M266.9 578.0h0M217.3 578.5h0M240.5 598.1h0M257.8 594.0h0M249.4 615.5h0M252.2 599.8h0M261.1 577.4h0M238.1 585.5h0M264.3 593.3h0M207.9 593.4h0M247.6 573.3h0M248.9 612.7h0M257.6 608.6h0M228.1 607.6h0M257.6 613.7h0M227.9 582.7h0M249.9 593.1h0M235.9 583.0h0M263.2 596.7h0M221.9 597.8h0M207.2 589.9h0M256.6 571.4h0M205.6 596.8h0M260.9 614.3h0M230.0 595.8h0M213.1 605.3h0M234.3 608.5h0M256.3 593.3h0M243.0 607.5h0M257.2 596.6h0M262.8 611.4h0M246.8 587.6h0M242.3 575.8h0M206.4 610.5h0M206.6 576.7h0M228.1 608.7h0M227.7 578.7h0M232.8 573.5h0M232.8 597.1h0M268.5 610.9h0M257.1 575.9h0M245.5 581.4h0M207.0 596.6h0M230.4 575.7h0M247.8 612.7h0M211.7 592.4h0M217.9 602.6h0M254.5 579.7h0M228.8 600.8h0M219.8 602.3h0M249.3 597.6h0M220.8 600.1h0M237.5 595.0h0M265.7 615.0h0M234.4 597.1h0M214.9 614.3h0M232.4 607.5h0M237.0 613.6h0M241.5 604.6h0M226.5 608.1h0M243.7 605.7h0M227.7 599.5h0M258.9 604.9h0M261.1 577.5h0M251.4 604.6h0M236.6 611.8h0M248.6 611.3h0M256.3 590.5h0M211.8 580.2h0M259.4 614.7h0M222.9 570.2h0M218.6 616.3h0M230.2 601.6h0M213.3 588.0h0M234.5 614.0h0M222.3 570.5h0M247.6 616.9h0M222.8 614.2h0M226.5 587.0h0M210.2 596.1h0M219.8 572.9h0M212.9 569.8h0M205.4 575.7h0M260.6 575.4h0M251.0 576.9h0M235.5 600.8h0M248.5 585.6h0M227.8 607.9h0M264.7 616.9h0M265.6 590.7h0M264.6 589.6h0M235.8 582.4h0M218.2 579.3h0M249.7 579.6h0M253.1 609.2h0M268.7 591.4h0M251.8 575.5h0M233.2 616.2h0M243.9 606.7h0M242.0 572.9h0M266.3 574.9h0M205.8 587.6h0M236.3 606.1h0M209.3 578.5h0M245.2 581.3h0M268.8 594.6h0M266.2 596.9h0M255.4 616.6h0M264.3 585.8h0M261.0 572.3h0M262.8 592.3h0M212.1 570.3h0M216.6 596.5h0M240.8 572.2h0M234.0 570.5h0M256.8 617.4h0M208.3 599.5h0M258.8 591.9h0M259.4 613.3h0M211.7 575.4h0M235.5 578.4h0" stroke="#2a2a40" stroke-width="0.65" stroke-linecap="round" opacity="0.42"/></g><g filter="url(#bl3)"><path d="M244.4 602.1l-.5 4.9l-4.6-3.7l-3.7-3.2l2.7-4.0l5.2-.1l2.0 2.9zM225.3 589.2l1.4 3.3l-2.8 2.2l-4.0 .5l-6.2-2.1l5.1-2.4l1.2-1.9zM209.9 605.4l4.3 2.4l7.8 1.6l2.3 3.7l-5.1 5.9l-10.0 1.0l-2.3-5.4z" fill="#7f8fd0" opacity="0.45"/><path d="M263.0 617.0l-1.9-1.5l1.6-2.0l3.6 .3l1.8-.3l1.1 1.7l-2.8 1.4zM237.3 593.0l-2.7-1.0l2.9-1.4l1.5 .2l2.5 1.5l-2.9 .5zM256.1 592.3l-1.1-4.0l2.2-2.1l3.2 1.8l.8 3.4l-3.7 2.7zM218.5 570.0l2.5-2.1l3.5 .9l-.2 1.7l-.3 2.3l-2.3-.3l-3.0-1.2zM212.8 612.8l1.3-2.6l2.5-.7l-.1 4.8l-1.9 1.1l-2.3 .3zM227.0 597.0l2.2 2.2l-1.4 3.6l-1.7 2.8l-1.7-1.5l.9-6.7zM223.6 611.8l.4 1.1l-.2 1.5l-3.4-1.0l-.6-.9l2.1-1.2zM232.7 608.9l2.1 1.2l1.3 2.4l-2.4 1.4l-3.2-.3l-.1-1.7zM260.9 595.9l-3.9 .4l-1.7-2.9l1.5-1.6l3.9 2.4zM249.4 592.2l0 2.0l-2.2 .7l-2.2-1.1l-.2-.8l0-2.9l3.1 1.5zM205.5 612.8l1.1-1.0l.8-1.0l2.2 .2l.2 2.0l-.7 1.5l-1.9-.5zM240.1 575.3l.6-2.4l1.0-.6l1.6 2.0l-1.6 1.6zM263.9 586.4l2.6 .3l.9 1.0l-1.4 1.9l-2.8-.3zM238.1 570.0l2.1 2.0l.3 1.7l-3.4 .7l-2.1 1.2l-1.6-3.4l1.3-1.7zM226.8 602.2l-.8 2.8l-1.0-1.9l-.4-1.0l.4-1.8l1.4-1.0zM205.7 596.7l-2.4-1.7l.7-4.7l2.8 .2l1.1 2.4zM252.7 573.7l1.4 .9l1.4 1.7l-2.0 .2l-1.7-.2l-2.0-1.7zM209.2 616.7l2.5-.9l3.2 .7l-.5 2.7l-3.4-.7zM257.2 590.4l-1.4 .7l-1.9-1.9l2.9-1.6l1.4 1.4zM261.4 598.8l.7 2.7l-1.4 1.6l-1.5-.6l-1.1-3.3l1.1-1.5zM254.1 607.0l2.7 1.7l-2.1 2.9l-3.9-.8l-.9-2.4zM229.1 605.8l-2.2-.1l.3-2.5l2.2-.1l1.9 1.0zM264.8 600.2l-2.0-2.0l-1.5-2.7l2.1-2.4l3.3 1.0l.8 2.7l-1.5 1.4zM224.0 597.9l-.6-1.8l1.4-1.3l2.1 .8l1.3 2.1l-1.1 1.1l-2.0 .4zM242.2 619.5l-4.1-.3l-2.9-2.1l4.1-2.0l2.4-1.0l.3 2.8zM221.8 575.0l-3.1 1.1l-1.3-2.7l1.6-2.0l3.5 1.5zM245.6 600.8l1.9 .6l1.2 3.3l-3.1-.5l-2.3 .1l-.4-3.8zM261.5 611.6l.8 2.6l-5.8-.3l.2-1.9l1.6-2.0zM238.7 612.7l-1.9-.4l-1.6-.7l.1-1.9l3.7-.2l.6 .8l1.6 1.4zM232.6 594.0l-.8 2.1l-1.3-.7l-1.7-1.3l1.0-2.5l1.5 .8zM237.1 595.4l0-2.7l1.7-.3l1.4-.4l-.3 2.0l-1.1 1.2zM212.1 607.5l-2.2-.4l1.2-2.8l1.3 .4l.6 1.4zM256.7 594.5l-1.2-3.8l1.9-1.5l3.0-1.3l-1.2 5.0zM253.8 574.6l-1.1 0l-1.1-4.2l.9-2.2l1.0-.1l1.7 1.4l.4 3.6zM219.6 591.8l3.1 1.0l-.5 2.2l-2.8 .4l-2.6-2.4zM246.1 573.2l-1.6-.6l-.4-1.0l1.0-2.9l1.3 .5l.1 2.6zM225.0 598.7l-2.7 .5l-1.1-2.6l.7-2.1l2.7 .2l2.8 1.5zM229.2 605.6l-2.2-1.3l-.1-6.3l1.7-.6l1.8 2.2l-.1 2.7zM232.0 577.6l-1.1 1.0l-3.0-.4l.2-2.0l2.6-.8zM206.8 605.1l-1.8 .7l-2.3-.3l-1.0-1.4l3.3-1.7l1.4 1.5zM255.7 576.4l1.1-2.0l2.4-.4l1.6 .4l-.1 2.1l-.9 1.5l-2.5 .1zM206.5 595.8l2.3-.9l.5 2.9l-.1 2.9l-1.9 .4l-1.5-1.4l-.8-3.1zM227.2 610.2l2.0-1.2l2.9 0l-1.3 2.3l-2.4 .2zM242.0 604.0l1.4 3.0l-2.1 1.5l-1.7 .2l-.2-3.1l.2-2.1l1.2-.2zM231.6 572.9l-1.3-1.5l2.6-1.1l2.6 1.3l.2 1.8zM234.6 593.1l-.3-2.9l1.4-.5l2.0-.1l1.6-.4l.1 3.7l-1.9 1.4zM209.8 580.5l-1.1 1.2l-1.7 1.3l-1.9-1.3l-.5-1.3l2.1-1.0l2.3 0zM226.8 604.9l.6-.6l1.6-1.2l.8 1.7l-.4 1.3l-1.0 .8l-1.2-.5zM227.6 600.5l1.0 .7l.1 .9l-.7 1.6l-3.3-.6l-.9-1.7l1.7-1.7zM227.1 583.7l.9-2.2l1.4 .6l1.4 1.1l-1.2 1.6l-1.0 .8l-2.0-.7zM235.1 579.1l2.6-.1l1.4 5.6l-2.9 .9l-1.5-2.1zM228.7 589.8l2.4 2.3l-2.1 1.1l-2.5 1.8l-.9-2.8l1.3-2.1zM242.8 608.2l1.6 1.7l-1.2 2.7l-2.4 .2l-2.1-.5l.8-2.8l-.1-1.5zM214.1 589.5l-2.8 1.4l-1.9-1.6l-1.8-1.3l1.1-2.0l3.7 .6l2.6 .3zM218.0 593.3l-5.4-.7l0-1.8l3.1-1.8l4.1 .2l.1 2.3zM264.8 602.0l-.8-.7l-1.2-1.5l2.5-1.8l.8 1.3l1.8 1.4zM211.3 602.0l-.8-1.2l-1.1-1.7l1.2-.5l1.5 0l.3 1.1l.6 1.6zM268.3 604.6l-3.3 1.6l-1.7-.7l.8-3.1l3.3-1.7l1.8 1.3zM205.6 615.2l-2.0-1.8l2.0-3.5l2.9-.5l1.8 3.0l-1.3 2.2l-1.1 .2zM263.8 613.1l.6 3.9l-1.2 .7l-2.0-1.6l.2-2.6l.4-1.5l1.2-.3zM223.3 598.0l-.6 3.0l-1.7 .6l-2.0-2.4l0-2.2l1.3-.6l1.4 .1zM204.5 614.0l.2-2.6l3.0 .5l.9 2.6l-1.8 2.1zM244.8 597.7l1.0-.9l2.6 3.5l-1.1 2.2l-2.1 1.2l-1.1-2.6zM212.9 579.8l-2.4 2.6l-2.3 .1l-.2-4.0l.4-1.7l2.4-1.6zM205.7 589.8l2.0-1.5l2.5-.1l0 2.5l.8 2.0l-3.8-.9zM220.4 585.6l-3.8 1.0l-3.4-.1l.4-2.1l2.1-1.1l2.7 .4zM257.7 582.5l2.5 1.6l-2.2 1.6l-2.5 .5l-.4-3.6zM215.7 594.5l2.9-.3l2.5 .5l-1.1 1.8l-2.7 1.1l-.7-1.5zM224.9 615.9l1.9-2.8l3.2-1.0l2.0 2.7l-1.0 2.1l-3.3-.5zM247.2 584.5l-.4-3.5l.8-3.3l2.0 1.8l.8 1.3l.6 1.3l-.6 2.7zM210.9 587.2l.1 3.3l-2.3 2.3l-2.4-2.1l-.1-2.2l3.0-2.3zM214.3 604.6l2.6 1.0l-.9 2.4l-1.3 .2l-1.4-1.8zM222.8 584.8l-.5-.8l.5-2.0l1.6 .2l1.5 0l.9 1.0l-1.7 1.9zM212.1 585.0l.1-2.6l2.0-.2l1.1 2.7l-1.1 .5zM252.3 613.0l-1.4-2.4l.5-2.0l2.9 0l-.2 2.4zM246.7 574.2l1.3-1.5l1.5 .4l1.6 2.8l-2.7 2.5l-1.8-.3zM259.9 595.2l-2.7-1.3l-.2-1.7l1.8-1.7l2.3 .4l-.2 2.0zM236.4 585.2l-2.5 0l.7-1.6l.3-2.5l1.8-.7l1.4 .9l-.3 3.6zM244.5 584.5l3.1-1.0l-.1 2.2l1.4 2.6l-2.6 1.9l-2.9-1.6l-.6-2.7zM216.2 596.2l2.3-1.0l1.6 5.2l-1.0 3.1l-2.1-2.1zM205.5 614.6l2.5 .1l1.9 2.5l-.9 3.0l-3.8-1.5zM215.7 572.4l3.0 .7l-1.9 2.0l-.8 1.5l-1.8-.7l-.6-2.2l-.6-2.1zM251.2 602.6l-1.0-3.3l1.2-2.0l2.8-.7l3.2 1.3l-.7 3.9l-1.9 .7zM222.2 581.7l1.0-.2l-.1 3.1l.2 2.1l-1.1 .2l-.7-2.5l-.5-1.9zM244.1 599.4l-.3-2.3l2.9-1.0l3.2 .6l-.6 3.0l-3.9 .7zM212.2 584.6l-2.0-1.3l-.9-1.6l3.9 .3l.8 1.7zM233.8 595.0l2.2 .7l.8 3.2l-2.6 2.1l-2.2-2.8zM228.6 615.9l-.1-2.1l-.5-2.5l2.0-.3l2.2 1.0l.7 1.9l-2.3 1.4zM242.3 572.4l-.1 3.5l-3.7-.3l-.9-3.3l.8-1.4l1.8-1.7l1.4 1.6zM240.6 608.3l1.5-.2l2.3 .2l1.0 1.3l-.3 2.7l-2.7-.5l-4.3-1.2zM249.4 572.4l2.2-.2l-.3 5.2l-2.0 1.0l-2.8-1.7l-.7-4.1zM218.8 603.9l4.6 .2l1.2 2.4l.4 1.9l-3.2 1.0l-2.7-1.8l-2.9-1.4zM236.1 607.4l2.4 .5l1.7 .1l1.2 1.6l-2.8 1.1l-2.3 1.0l-1.6-2.1zM243.5 601.7l.3 1.3l-1.8 2.6l-2.1-1.5l.9-3.3zM261.9 606.1l-2.5 .1l-2.0-3.8l3.4-.9l1.8 .8l1.1 2.0zM211.8 600.1l1.8-1.5l2.1 .8l2.2 1.8l-3.5 .5l-3.2 0zM256.7 568.8l-.9 3.4l-1.1 1.8l-1.1-3.9l.8-4.1zM247.9 611.7l-.7 3.3l-1.5 .5l-.9-2.2l-.3-2.1l2.3-1.9zM232.6 578.8l-.1-3.0l1.5 .4l1.6 1.5l.7 2.2l-2.5 .3zM232.0 589.8l3.0 .8l.7 1.7l-.2 3.1l-2.0-1.5l-3.1-.1l0-2.7zM254.7 581.9l1.6 1.5l.8 5.2l-2.3 .6l-1.9-4.1zM246.3 571.8l-.9-.6l-.9-1.1l1.3-1.1l1.9-.5l.5 1.6l-1.0 .8zM250.4 595.2l2.7 .4l-.3 2.7l-1.4 1.6l-1.1-.3l-1.5-1.9zM244.4 597.4l-.9 2.1l-.9 .7l-1.3-.5l-.5-2.1l2.3-1.7zM255.9 602.3l.3 1.9l.6 1.9l-2.2 1.8l-1.0-2.0l-1.1-1.6zM266.7 572.3l1.2 2.4l-4.0 1.6l-2.2-1.0l.4-3.1zM248.5 614.6l-2.5-.4l-2.1-.9l-.5-3.4l2.2-1.7l1.5 1.1l2.4 2.5zM214.7 607.4l3.4-1.0l1.1 3.6l-2.6 1.2l-1.3-1.1zM233.2 601.0l2.2-3.6l1.5 1.6l1.6 3.0l-3.0 1.8l-2.6 .3zM239.0 590.0l-1.5 2.3l-2.1-1.0l-1.8-2.5l2.8-1.1l2.2 0zM231.4 609.8l-.1-1.8l1.2-1.0l3.0 .4l2.4 2.3l-2.9 1.0zM210.5 615.9l-1.8 1.3l-2.1 .8l-.1-1.8l.4-1.0l2.7-.1zM246.3 586.4l.9-1.8l2.7-1.8l.2 3.1l.7 2.7l-2.3 .1zM240.4 613.7l-.2 3.0l-.2 3.0l-1.7-1.7l.3-2.8zM232.5 579.6l.1 2.7l-2.0 .8l-1.1-2.8l0-1.9zM219.0 589.1l1.9-.4l2.8 .5l-.9 2.9l-3.2-.1zM225.2 584.9l-.4-2.8l2.1-1.3l.4 2.2l.2 2.5l-1.5 1.0zM234.5 601.9l2.1 1.0l-2.0 1.5l-2.4-.3l-.1-2.2zM231.5 579.7l-.3-1.9l.4-1.9l1.6-.1l.1 2.0l.2 1.7l-1.2 .2zM211.7 618.5l-.8-2.2l1.4-1.1l3.0 .9l-.5 1.7zM245.9 573.6l2.7-.4l2.4 1.2l.7 1.4l-3.6 .6l-2.3-.8zM231.8 599.1l-2.3-.9l-1.2-.1l1.1-2.7l1.6-.9l.6 1.9zM262.2 600.9l0 2.6l.3 2.1l-1.1 2.0l-2.3-1.0l-1.6-1.4l2.5-3.6zM213.4 612.9l-2.1-.2l-1.5-2.1l1.9-1.2l2.4 1.4zM256.4 592.1l-1.4 1.5l-2.4 .4l.1-3.9l1.5-2.3l2.3 .4zM234.8 600.7l-1.7 .4l-3.5-1.8l1.1-2.0l2.9-1.1l2.7 .7l.3 1.1zM222.6 573.3l3.5 1.9l.8 1.6l-5.3 1.2l-1.0-1.7l-.3-1.5zM260.9 604.7l3.1 .1l1.7 .9l-.7 3.9l-1.2 .7l-1.3 .4l-2.4-2.2zM216.6 576.1l.1-2.4l1.0-1.7l3.3 1.9l-1.7 2.6zM236.1 617.2l-1.4-2.3l.3-3.8l2.0 1.0l0 2.0zM257.3 585.9l-2.9 2.9l-3.7-2.6l2.4-2.0l3.8-.7zM208.2 601.3l1.9 .9l-.2 1.8l-2.0 1.1l-1.8-.7l0-3.0zM250.5 578.7l-1.8 3.0l-2.8-2.5l.2-2.8l1.3-2.0l1.8 1.1zM245.3 600.5l1.0-2.2l2.4 1.4l-.5 1.1l-1.2 1.4l-1.5-.6zM262.2 590.5l-1.7 3.1l-4.2-.6l.2-3.2l1.6-3.2l3.4 2.7zM205.3 607.6l4.6 1.4l-2.0 1.9l-2.9 1.0l-2.0-1.3l-1.6-2.4zM238.8 576.8l.4 2.2l-1.5 .9l-1.7 .1l-.9-2.4l1.3-1.4zM212.0 601.3l0 2.0l-2.5 .6l-1.4-2.3l1.9-1.9zM266.8 601.9l-2.7 .6l-.1-2.4l.4-1.0l3.8-1.0l.5 2.1zM208.6 577.9l-2.1-2.0l1.5-2.7l3.1-1.2l1.6 3.5l-2.0 .9zM238.2 591.6l-1.9 .3l-1.9-2.5l1.7-1.0l2.5 .5zM212.0 611.1l-2.0-2.3l.6-2.3l3.4-.3l1.0 3.0zM208.1 607.3l.1-2.4l1.3-1.1l2.9-.6l-.1 1.5l-.9 2.3l-.6 .5zM265.4 603.8l-2.6 .3l-2.1-5.2l1.4-1.0l3.3-1.1l1.9 2.8zM217.9 592.5l-1.8 .6l-1.3-.3l-.3-3.0l1.4-.9l1.6 2.0zM261.3 609.6l-.9-1.1l1.7-1.0l1.1-.9l1.4 1.3l-.5 1.1l-.9 1.2zM220.6 581.5l-2.8 1.8l-1.5 1.5l-4.1-1.5l2.1-3.7l3.5-.2zM230.9 619.5l-.3-5.8l1.7-2.1l1.4 2.4l-1.0 3.8zM232.1 596.7l-.8-4.1l1.1-2.4l3.4 1.2l-1.8 3.3zM224.7 607.9l3.7 1.9l-1.0 3.7l-3.6 .3l-.2-3.4z" fill="#5b6ec4" opacity="0.78"/><path d="M266.4 616.2l-1.6-.5l-.8-.7l1.8-.6l.6 .8zM238.7 593.3l-.7-.6l0-1.6l.8-.3l.6 1.3zM257.5 589.7l1.4 .1l.7 2.0l-2.2-.1l-1.1-.9zM222.5 571.7l-1.3 .9l-.6-1.1l.5-.9l1.5-.2zM214.5 611.4l2.0 1.7l-.9 .9l-2.0-.3l-.8-1.1zM227.1 601.4l-.2 1.9l-.9-1.0l0-1.3l.5-.9zM221.8 610.9l.7 .9l.1 1.4l-2.0 .3l-.4-1.3zM232.8 613.6l-1.0-.8l-.1-1.4l1.6 .1l.8 1.0zM257.6 594.5l.7-1.4l1.5 .6l.1 1.5l-1.5 .7zM247.5 593.8l-1.6-.2l-.3-1.1l1.3-.5l1.2 .6zM206.7 612.6l.4-.7l1.1 .8l-.6 .5l-.9 0zM242.9 574.3l-.6 .6l-1.0 0l-.2-1.0l1.2-.3zM266.5 587.2l-.6 1.6l-.7-.3l-.6-1.0l.9-1.2zM237.9 572.3l.1 .7l-.6 1.0l-1.6-.2l.1-1.8zM225.4 601.1l1.1 .9l-.6 .7l-1.2-.2l.2-.7zM205.8 593.5l-.7-.5l.1-1.4l.8-.7l.5 1.7zM253.5 576.1l-1.0 .1l.2-.9l.9-1.1l.6 .8zM212.2 616.9l.9 .1l.4 1.7l-1.4-.1l-.4-1.0zM257.5 589.3l.1 .9l-.8 .7l-.5-.8l.2-.6zM260.7 599.4l.5 1.0l-.1 .9l-1.1-.1l-.4-1.0zM253.2 608.5l1.7 .3l-.2 1.5l-1.3 .5l-1.5-1.1zM229.4 604.4l-.8 1.0l-1.0-.7l-.1-.8l.9-.6zM265.1 598.0l-.5-1.3l.8-1.4l1.0 .9l-.1 1.2zM225.2 597.7l.2-1.4l1.1 0l.3 2.6l-.9-.3zM238.3 616.2l2.4 .6l0 1.4l-1.0 .2l-1.6-.6zM221.7 574.6l-1.5 .4l-1.3-.5l.9-.9l1.2-.3zM245.0 601.9l.5-1.1l2.0 .4l0 2.0l-1.1 .4zM257.9 611.1l1.2 .1l1.6 1.2l-1.9 .1l-1.6-.2zM238.9 612.5l-.6-.8l-.6-1.4l.9-.5l.9 1.0zM229.5 594.5l-.6-.9l.7-1.1l1.0 .5l0 .9zM238.4 593.8l-.8-.6l.2-1.1l1.3-.5l.1 1.4zM212.7 606.0l-.5 .6l-.9 .2l-.2-.9l.8-.4zM258.3 590.5l1.0 .4l.4 1.2l-1.1-.1l-.8-.6zM253.8 569.9l.7 .9l-.3 2.0l-1.5-.5l-.4-2.5zM219.3 593.4l1.2-.4l1.5 .1l-1.0 2.2l-1.9-.4zM246.1 572.4l-.9 0l-.1-1.1l1.0-.1l.3 .6zM224.4 596.1l.1 1.8l-1.2-.1l-.8-.8l.9-1.3zM229.3 601.4l-1.2-.2l-1.1-1.3l2.1-.6l1.1 .9zM230.1 577.8l-1.2 0l-.7-.9l.9-.1l.9-.3zM204.7 605.4l-.9-.2l.4-1.2l1.5 0l0 1.3zM259.0 575.0l.4 .8l0 .7l-1.2 .3l-.4-1.4zM207.9 598.9l-1.1-.8l-.1-2.3l.9 .4l.9 .9zM229.0 610.4l-.2-1.0l2.0 .2l-.3 1.0l-1.1 .5zM239.6 604.5l1.6 .6l1.0 1.3l-.7 1.3l-2.2-1.3zM233.1 571.1l.9 .1l-.4 1.3l-.4 .5l-.9-.6zM236.5 591.4l-.5-1.4l1.2-.8l.9 1.4l-.9 .9zM207.3 581.8l-.9 0l-.2-1.0l1.2-.9l1.3 1.3zM229.3 605.4l0 .6l-1.4-.1l-.6-.7l1.0-.1zM226.2 602.2l-.4-1.0l1.2-.5l.8 1.1l-.5 .7zM229.2 584.5l-.7 .4l-.9-.7l1.1-.6l1.1 .2zM237.4 583.7l-1.5-.8l.3-1.4l1.3-.2l.6 .5zM229.9 592.3l-1.9 .1l-1.7-.5l2.2-1.2l1.4 .4zM241.9 608.4l.1 2.2l-.7 .4l-1.1 .1l-.2-2.6zM210.7 589.6l-.5-1.9l1.4-.4l2.0 .3l-.5 2.0zM214.7 589.8l1.8 0l1.1 1.0l-1.3 1.3l-1.1 .4zM264.2 600.3l1.3-.5l1.4 .8l-1.1 .5l-2.1-.1zM212.0 599.8l.4 .4l-1.3 .4l-.5-.7l.6-.5zM264.4 603.1l.6-1.0l3.1 .3l.4 1.2l-1.3 1.0zM208.6 612.6l-.8 .6l-1.5-.3l.7-1.8l.7 .2zM262.7 614.4l-.2-1.8l1.2 .6l.1 1.7l-.6 .9zM222.2 597.5l-.1 1.5l-.4 .8l-.5-.9l0-1.2zM206.4 613.6l1.0-.4l.2 .7l0 1.7l-.9-.9zM246.7 601.6l-.9 1.1l-2.1-.9l1.0-1.4l2.0 .1zM208.8 577.5l1.8-.1l0 2.1l-1.1 .2l-1.0-.8zM208.6 589.1l.7 .4l-.3 1.4l-1.1 .1l-.3-1.4zM215.8 584.6l.4-1.9l1.8 1.2l-.5 2.9l-1.2-.6zM256.5 585.3l.6-1.3l1.0-.2l.3 2.1l-1.1 .8zM218.6 596.9l-.6-.5l-.4-.7l.8-.9l.6 1.0zM230.8 613.9l-1.0 1.8l-2.1 .8l-.5-2.1l1.1-.9zM248.0 581.9l-.9-1.2l1.2-1.0l1.0 .6l-.2 1.8zM208.0 590.5l-.7-.7l.3-1.8l1.4 .9l.9 1.5zM214.5 605.8l1.3 .5l.1 1.1l-.7 1.1l-.7-1.2zM224.7 584.0l-.2-.6l.5-.5l.4 .8l-.4 1.0zM213.3 583.9l.5-.9l.6 .6l-.1 .7l-.7 .5zM253.4 611.1l-1.1-.2l-.6-1.2l1.1-.3l1.3 .7zM248.0 576.7l-.9-.7l.1-.7l1.8-.5l.5 1.4zM257.6 592.2l.8-1.2l1.1 .7l.1 1.0l-1.7 0zM235.9 583.4l-.7-.3l.4-1.5l1.3 .5l-.3 .9zM246.3 585.8l.8 .9l-.1 1.4l-.9-.3l-.5-1.0zM218.1 598.3l1.2 .1l.7 .8l-1.2 1.2l-1.1-.5zM208.2 616.6l-.3 1.1l-.9 0l-.7-.4l.9-1.1zM213.8 574.2l.7-1.1l1.4 .5l1.1 1.3l-1.8 0zM253.7 599.2l.1 1.4l-1.0 .2l-.9-1.1l.6-1.2zM221.6 585.0l-.4-1.1l.7-.5l1.1 .5l-.6 .7zM245.9 598.8l-1.1-.6l-.7-1.2l1.8-.5l.9 1.0zM213.1 583.8l-1.1 .5l-1.2 .1l.1-.9l1.3-.2zM235.0 597.0l-.8 1.5l-.6-.3l-.2-1.0l1.2-1.4zM229.7 613.9l-.5-.9l.8-1.0l.8 .8l.1 1.4zM240.6 572.8l-.6 1.0l-.8 .2l0-2.5l.6-.5zM244.6 610.7l-1.8 .5l-1.0-1.3l.8-1.1l2.2 .2zM250.0 574.2l-.4 2.4l-1.2-.1l-.5-2.6l1.3-1.6zM222.0 605.4l0 1.3l-1.8 .5l-1.2-.7l1.0-2.1zM239.1 610.2l-.9 0l-.3-.6l.6-.6l.9 .3zM242.1 603.2l-.2-.9l2.1 .3l.2 1.0l-1.7 .5zM261.9 603.1l.6 .8l-.8 .9l-1.2-.8l-.6-.9zM213.7 599.4l.9 .8l-.8 1.1l-.9-.6l0-1.5zM254.4 571.9l-.4-2.4l1.1-.1l1.1 .1l-1.0 1.7zM244.5 611.7l.8-.4l1.1 .5l-.6 .6l-.7 .2zM234.3 576.7l.7 .8l-.6 1.6l-1.0-.4l-.5-1.3zM231.7 593.4l.7-2.1l1.5 .3l1.0 1.8l-1.8 .1zM253.0 584.7l1.1-1.5l2.8 1.0l-.7 1.3l-2.0 .2zM246.2 569.0l.7 .1l0 1.9l-.5 .6l-.6-1.1zM251.8 598.1l-.6 .8l-1.3 .3l-.3-.9l1.3-.9zM243.4 596.8l.2 1.8l-.1 1.2l-1.1-1.0l0-1.4zM255.7 606.0l-1.0-.1l-.1-1.1l1.2-.6l.5 .8zM264.0 575.2l0-1.0l.5-.1l.8 .7l-.6 1.4zM246.0 611.6l.6-1.2l1.7 .9l-.4 2.0l-2.2-.1zM217.4 609.5l-.9 .5l-1.1-.3l1.0-1.0l1.3-.3zM236.1 601.7l-.1 1.2l-1.3-.1l-.5-1.1l1.2-.7zM237.1 588.7l1.5 .1l-.1 1.6l-2.7 .4l0-1.9zM235.3 608.0l-.8 1.0l-.7 .4l-1.2-1.2l1.4-1.1zM208.3 616.1l.5-.5l.9 .1l-.3 .8l-.8 .2zM247.7 586.7l.2-1.7l1.0-.5l.5 2.2l-.7 .6zM239.2 617.3l-1.4-.4l.9-.5l1.2 0l-.1 .7zM230.0 580.9l1.3-.7l1.3 .8l-1.2 1.0l-1.1-.5zM220.7 592.0l-1.0-.9l-1.0-.6l1.7-1.0l.6 1.1zM227.7 583.8l-.6 1.1l-1.4-.3l0-1.0l1.2-.5zM233.1 604.3l-.1-.6l.8-.9l.4 .5l0 .7zM231.4 579.3l.1-1.3l.5-.2l1.3 .5l-.7 1.0zM212.8 616.8l.4-.8l.5-.1l.3 1.6l-.9 .1zM248.0 574.4l-.1-.7l1.4-.3l.7 .7l-1.1 1.1zM229.2 596.2l1.6-.5l.1 1.3l-.4 1.1l-1.3-1.1zM259.6 604.3l.9-1.2l.7 .8l-.1 .9l-1.0 .6zM212.8 611.5l-.7 .6l-.7-.8l.1-.7l.8 .3zM252.3 589.5l2.5-.2l1.0 .8l-1.3 1.1l-2.0 .2zM233.9 598.9l-.7 .1l-1.4-.9l1.2-1.5l.5 .6zM221.6 574.4l1.5-.3l.4 1.2l-1.2 .6l-.7-.7zM264.0 606.9l-.5 2.1l-.9 .5l-1.5-1.1l1.5-1.1zM218.3 574.0l-.1 1.3l-1.5-.3l.4-1.9l1.3-.4zM236.8 613.6l-.6 1.7l-1.0 0l.3-1.9l.8-.9zM253.3 587.0l0-1.2l.9-.6l1.2 .5l-.6 1.6zM208.0 602.9l.9-1.3l.7 1.2l.1 .8l-.8 .5zM247.3 577.5l.6-1.1l.8 .4l.3 1.2l-1.1 .3zM245.7 600.7l.4-1.4l.8 .8l-.1 .8l-.7 .4zM260.1 591.0l-2.0-.1l-1.2-1.0l1.7-.7l1.8 .5zM203.8 609.2l.9-1.0l1.4 .7l.4 1.8l-2.2-.2zM237.1 578.1l.8 .5l-.8 .6l-.6-.1l-.3-.7zM210.4 603.6l-1.0-.5l.1-1.9l.3-.3l.5 1.0zM265.9 598.9l1.4 1.2l.1 .7l-1.4 .7l-1.4-1.1zM210.0 576.2l-1.0 .6l-.8-1.0l-.1-1.3l1.3 .3zM236.4 588.7l1.2 .5l1.0 1.5l-1.3 1.0l-.8-.9zM212.1 607.5l.9 .8l-.4 1.3l-.8-.1l-.6-1.7zM209.7 606.1l.4-1.4l.7-.6l.6 1.1l-.3 1.8zM264.4 602.1l-1.5 .2l-.5-1.6l1.1-1.0l1.5 .8zM215.4 591.9l.1-.9l.7-.1l0 .8l-.5 .7zM263.2 609.2l-.9 .6l-.1-1.1l.3-1.1l1.1 .2zM217.8 582.7l-1.4 1.0l-1.8-1.1l.9-2.4l1.8 .8zM232.3 616.9l-1.2-.9l.7-2.2l.8-.4l.6 2.6zM234.1 594.0l-2.8-1.1l.5-1.2l2.1 .2l1.1 .8zM226.5 611.2l-.8-.2l-.5-.7l.3-1.3l1.1 .4z" fill="#26359a" opacity="0.7"/></g><g filter="url(#bl)"><path d="M268.1 617.6l1.2 1.2M238.6 588.5l-0.5 -0.6M261.1 594.0l0.8 -0.4M223.3 569.5l0.5 0.1M211.0 615.6l-1.5 0.2M255.2 596.2l0.7 -0.4M242.8 589.7l0.6 -0.4M207.6 611.6l0.6 -0.4M239.5 573.8l0.1 -1.1M268.5 585.0l1.5 1.0M236.8 571.1l0.7 -0.4M224.1 604.3l-1.2 1.2M256.1 590.6l-1.1 0.0M255.3 607.8l-0.1 0.3M267.9 598.8l1.2 -1.5M229.4 595.8l0.7 -0.3M217.8 577.4l-0.8 1.0M237.3 612.6l-1.2 0.8M232.0 590.0l-0.5 -0.5M241.5 594.0l-0.8 -1.5M213.2 603.1l1.4 0.9M256.7 594.4l-0.1 1.3M250.8 574.2l-1.4 0.9M242.0 571.5l-0.7 0.2M228.4 573.3l-1.2 -1.0M201.4 601.1l-1.3 -1.2M258.2 571.8l-0.6 0.4M237.3 603.5l0.1 -0.7M236.1 568.5l0.1 -0.0M237.2 587.4l-1.0 1.2M208.5 578.3l1.3 -1.3M224.8 606.0l1.0 1.3M225.0 602.3l-1.4 -1.3M240.0 581.4l1.3 -1.3M225.0 595.5l0.4 -0.2M209.7 585.9l-1.1 0.8M218.2 590.5l0.9 -1.4M266.6 603.9l-0.5 -0.1M210.6 598.7l0.0 1.5M261.9 614.0l0.3 -1.3M219.6 600.6l0.8 -1.5M247.6 601.7l-0.5 1.5M212.1 575.7l0.9 0.0M259.4 583.2l-0.9 -0.8M232.7 618.8l-0.3 -0.5M246.0 578.8l0.8 0.9M211.5 585.6l1.5 0.4M244.9 579.1l1.3 1.4M256.4 592.5l-1.2 0.3M236.3 580.7l0.1 -0.9M249.0 586.5l0.8 -0.8M205.8 614.9l-0.1 0.6M238.2 593.3l-0.9 0.4M229.5 610.1l0.2 -1.5M243.7 611.4l0.4 -0.0M219.8 610.2l-0.8 1.4M239.2 601.0l-1.4 -0.3M258.8 601.8l0.9 -0.7M257.6 572.6l1.4 1.1M242.8 609.6l1.2 -0.0M234.3 576.8l0.0 0.3M257.4 587.4l-1.4 0.2M247.5 599.2l-1.5 0.6M256.7 607.3l-0.9 -0.3M248.6 615.1l-0.5 0.6M238.8 600.9l0.5 1.1M240.7 587.2l-0.2 0.3M207.0 615.8l-0.6 0.7M248.9 584.6l-0.0 1.1M230.8 578.4l0.4 0.0M220.4 587.7l-0.6 -0.8M226.5 586.9l1.3 -1.4M212.6 613.0l0.5 -0.2M248.6 570.9l0.5 0.9M264.3 603.6l-1.0 -0.2M211.2 615.0l-1.3 1.0M224.3 575.0l-0.2 0.3M260.9 607.1l1.2 0.6M217.0 576.5l0.5 -0.8M239.6 613.0l0.4 1.3M253.0 585.1l-0.8 1.5M209.2 605.2l-1.0 0.2M244.2 604.1l-0.9 -0.9M202.0 608.1l-1.4 -0.1M240.8 581.5l1.4 -0.2M206.8 599.7l-0.8 -1.2M239.4 591.8l-0.1 -0.4M210.2 604.3l0.2 -0.1M266.8 603.7l1.2 -1.1M217.5 594.3l-0.5 1.4M216.2 579.1l-0.8 1.5M231.3 613.8l-0.4 -0.6M232.9 596.9l-0.2 -0.6M222.2 610.4l0.8 -0.9" stroke="#0c0f25" stroke-width="0.95" stroke-linecap="round" opacity="0.9"/></g></svg>
<rect x="270" y="569" width="64.3" height="49.0" fill="#c9cbda"/><svg x="270" y="569" width="64.3" height="49.0" viewBox="270 569 64.3 49.0" overflow="hidden"><g filter="url(#bl)"><path d="M330.3 605.6h0M287.9 590.3h0M331.2 590.9h0M334.1 603.2h0M304.6 572.9h0M316.9 581.9h0M334.0 570.6h0M290.2 571.7h0M331.6 586.7h0M275.5 612.8h0M293.8 602.8h0M291.0 592.7h0M333.5 569.5h0M320.6 571.4h0M316.9 600.7h0M321.4 598.5h0M308.4 580.9h0M329.5 570.2h0M284.4 581.6h0M310.4 583.9h0M272.1 605.1h0M304.6 588.0h0M300.8 597.0h0M324.2 607.4h0M287.5 590.2h0M289.9 581.6h0M332.8 569.7h0M327.2 570.8h0M288.8 589.2h0M324.6 581.3h0M299.7 594.9h0M283.6 604.9h0M304.4 590.6h0M281.0 588.9h0M288.1 612.9h0M307.4 576.0h0M288.1 589.8h0M290.3 589.7h0M275.3 578.4h0M272.5 592.1h0M291.3 572.9h0M333.5 574.5h0M312.9 574.2h0M322.4 586.3h0M313.8 587.3h0M305.8 574.8h0M306.4 598.5h0M289.8 574.3h0M330.4 590.5h0M323.9 610.7h0M319.9 581.6h0M310.6 602.5h0M300.9 608.4h0M325.1 616.6h0M312.5 612.0h0M322.6 609.8h0M276.5 571.0h0M331.9 580.2h0M322.9 603.3h0M277.8 591.5h0M300.3 576.9h0M289.8 587.4h0M296.6 581.4h0M288.8 587.6h0M297.0 586.9h0M331.0 593.7h0M328.0 577.8h0M313.9 573.1h0M312.7 580.2h0M302.7 606.9h0M325.7 611.0h0M321.1 611.3h0M310.7 582.3h0M318.0 602.4h0M319.3 614.7h0M308.3 603.8h0M320.2 591.4h0M316.1 617.0h0M275.9 611.1h0M328.9 583.7h0M304.1 614.1h0M333.8 570.0h0M270.3 601.4h0M294.7 610.7h0M325.6 581.5h0M296.1 612.2h0M321.2 576.6h0M318.1 596.5h0M324.2 593.7h0M306.0 600.6h0M300.6 581.0h0M295.5 600.3h0M321.8 589.5h0M286.4 597.0h0M329.5 591.2h0M272.9 581.2h0M325.1 586.2h0M306.2 610.9h0M299.2 589.7h0M324.4 597.0h0M289.7 590.3h0M299.4 589.8h0M331.1 605.9h0M314.5 573.0h0M277.7 578.3h0M293.5 587.6h0M286.3 585.8h0M312.3 598.9h0M277.3 590.3h0M307.3 610.4h0M324.5 595.0h0M292.8 605.8h0M298.8 597.2h0M271.7 587.4h0M312.0 604.9h0M283.7 612.7h0M308.0 601.9h0M333.0 592.8h0M312.5 610.9h0M320.5 592.4h0M300.9 609.4h0M277.1 570.7h0M321.8 610.4h0M300.1 614.3h0M278.7 586.9h0M331.2 569.9h0M275.5 587.1h0M288.1 599.3h0M272.3 609.7h0M309.9 599.5h0M304.6 591.5h0M290.8 587.1h0M333.9 579.6h0M286.6 613.4h0M330.0 595.9h0M293.0 604.9h0M315.6 601.1h0M295.1 609.8h0M318.4 589.1h0M285.6 585.6h0M287.5 578.0h0M315.6 617.2h0M271.7 596.7h0M292.0 579.6h0M270.6 591.0h0M300.2 605.0h0M278.4 599.6h0M314.7 576.0h0M295.0 585.0h0M302.6 596.3h0M273.9 604.2h0M307.4 582.4h0M330.3 576.7h0M326.7 617.1h0M322.5 570.1h0M296.3 589.8h0M309.2 570.5h0M310.9 607.1h0M298.0 611.9h0M287.0 577.5h0M328.2 598.4h0M323.0 617.4h0M282.6 586.7h0M273.6 592.6h0M323.4 608.3h0M297.8 580.0h0M301.9 607.3h0M313.8 581.5h0M287.9 574.2h0M333.9 596.6h0M274.2 574.5h0M282.4 602.3h0M307.4 570.1h0M323.8 592.1h0M281.2 598.8h0M292.1 573.9h0M309.0 586.1h0M309.4 595.0h0M300.9 594.0h0M283.4 592.4h0M273.0 594.7h0M282.6 606.0h0M318.2 609.4h0M307.3 575.9h0M330.9 592.5h0M284.9 609.7h0M297.8 611.2h0M281.3 607.2h0M310.1 573.8h0M270.2 603.1h0M313.3 600.3h0M328.4 599.0h0M277.6 603.0h0M306.8 583.7h0M327.9 570.9h0M274.4 574.2h0M280.0 591.6h0M308.6 573.6h0M297.9 586.5h0M292.4 616.9h0M312.0 570.3h0M282.1 580.3h0M322.3 605.7h0M273.8 587.0h0M331.2 617.2h0M313.7 600.7h0M286.3 579.6h0M330.9 583.2h0M282.1 602.1h0M316.4 586.5h0M325.4 605.5h0M334.1 612.4h0M304.1 583.7h0M285.6 604.3h0M285.5 599.8h0M310.5 584.9h0M317.3 569.5h0M333.1 577.8h0M298.8 607.7h0M314.0 572.9h0M299.2 579.0h0M274.8 576.8h0M273.0 610.2h0M292.7 576.7h0M298.5 598.7h0M287.9 610.3h0M310.7 602.1h0M315.2 581.1h0M300.0 588.3h0M305.9 591.6h0M315.5 597.9h0M285.5 594.0h0M312.8 596.9h0M287.3 598.1h0M321.5 610.9h0M332.2 590.7h0M302.6 592.5h0M302.0 595.4h0M329.1 573.1h0M288.9 590.7h0M315.3 611.0h0M280.6 587.5h0M309.9 607.9h0M290.2 609.9h0M288.1 605.4h0M301.3 572.6h0M303.0 575.9h0M288.4 581.9h0M315.3 569.4h0M321.8 596.8h0M278.7 607.0h0M288.0 607.5h0M286.0 571.8h0M329.5 589.7h0M298.2 614.2h0M288.7 588.4h0M321.5 584.6h0M275.1 579.3h0M283.4 572.1h0M275.1 612.2h0M316.2 594.0h0M293.8 590.7h0M284.5 611.9h0M322.3 592.4h0M314.7 604.5h0M316.0 617.4h0M314.6 582.5h0M282.3 613.4h0M299.0 589.3h0M271.8 593.5h0M285.0 578.1h0M276.7 614.7h0M334.2 610.6h0M298.6 591.2h0M285.2 598.2h0M322.2 601.3h0M275.4 612.4h0M270.4 601.4h0M330.7 596.7h0M296.6 572.8h0M321.4 596.0h0M324.8 614.0h0M280.2 604.6h0M327.6 569.8h0M270.0 572.8h0M303.7 585.4h0M324.4 598.1h0M329.6 571.6h0M328.9 584.3h0M275.5 615.6h0M286.0 595.6h0M272.7 582.6h0M300.3 572.1h0M305.8 610.8h0M333.9 570.6h0M289.5 571.6h0M327.5 605.6h0M329.3 603.7h0M306.8 585.1h0M332.2 612.8h0M329.2 599.7h0M273.7 616.2h0M301.0 598.4h0M282.3 612.5h0M325.5 608.0h0M333.1 593.2h0M301.2 590.4h0M273.2 585.0h0M328.7 610.3h0M291.4 576.3h0M300.4 569.4h0M287.6 577.8h0M295.8 581.8h0M273.7 597.9h0M286.9 605.6h0M302.2 606.1h0M320.2 606.2h0M291.7 581.6h0M276.8 594.4h0M302.1 593.5h0M321.0 583.7h0M305.9 607.6h0M294.6 587.1h0M305.8 615.4h0M306.5 601.9h0M325.5 586.4h0M301.5 596.3h0M295.8 605.2h0M294.5 615.9h0M327.1 581.9h0M317.2 573.5h0M289.2 617.2h0M318.0 599.6h0M329.4 606.5h0M318.1 593.2h0M310.5 595.0h0M273.9 586.0h0M272.8 585.1h0M278.0 590.5h0M302.9 589.3h0M319.6 577.7h0M302.8 612.0h0M330.9 590.8h0M288.9 581.5h0M296.4 596.6h0M302.5 583.4h0M326.2 614.4h0M298.6 587.7h0M304.7 590.5h0M270.7 590.0h0M275.0 582.0h0M297.4 597.3h0M279.9 614.7h0M308.3 600.9h0M300.1 589.1h0M276.7 571.3h0M286.2 611.4h0M320.4 584.8h0M271.9 593.2h0M270.9 602.7h0M326.0 586.0h0M331.8 603.8h0M304.5 569.3h0M327.8 613.7h0M305.6 577.8h0M288.3 587.0h0M299.4 574.0h0M310.2 614.1h0M301.0 571.2h0M297.5 575.4h0M275.9 604.6h0M321.3 577.7h0M318.9 583.7h0M325.6 581.7h0M270.7 600.1h0M321.2 574.4h0M280.2 615.7h0M317.9 599.5h0M304.4 578.6h0M331.3 591.7h0M332.6 607.5h0M273.5 594.7h0M307.1 577.4h0M319.5 585.9h0M307.6 582.1h0M288.4 591.8h0M326.5 588.2h0M317.2 595.1h0M325.3 570.4h0M281.3 606.9h0M292.0 588.8h0M278.3 595.1h0M296.7 605.4h0M325.3 595.4h0M279.6 593.1h0M312.3 607.8h0M324.6 611.9h0M280.8 571.3h0M312.0 604.2h0M299.4 580.1h0M293.9 585.5h0M292.6 612.3h0M276.8 575.0h0M298.2 587.6h0M274.9 603.6h0M279.8 597.1h0M326.3 616.4h0M304.8 588.4h0M326.2 578.5h0M325.0 571.7h0M320.2 580.9h0M325.4 594.2h0M282.1 576.1h0M273.9 576.3h0M291.0 582.5h0M273.0 595.9h0M330.8 570.0h0M309.5 569.9h0M298.2 608.2h0M299.8 579.0h0M331.6 600.8h0M305.9 613.7h0M322.5 595.3h0M282.9 612.6h0M327.4 606.0h0M333.2 600.3h0M298.1 584.8h0M288.8 583.1h0M331.7 616.2h0M324.8 606.0h0M320.8 580.3h0M271.8 569.3h0M297.7 580.0h0M322.2 610.0h0M315.9 569.1h0M304.3 603.1h0M331.2 593.3h0M272.5 582.5h0M325.4 602.5h0M300.2 599.6h0M270.3 582.9h0M326.8 616.9h0M310.9 615.4h0M318.1 609.3h0M273.7 592.0h0M278.1 601.1h0M307.1 576.8h0M299.3 581.9h0M277.3 578.2h0M314.1 606.6h0M290.6 599.9h0M273.2 610.9h0M327.5 595.7h0M331.1 613.9h0M291.1 592.6h0M328.1 593.9h0M270.0 582.9h0M301.2 570.2h0M280.3 577.1h0M290.9 569.1h0M280.5 584.4h0M281.8 587.2h0M279.0 595.3h0M274.7 610.3h0M327.8 574.7h0M291.2 581.4h0M275.2 608.2h0M305.5 592.2h0M318.9 607.0h0M270.9 586.7h0M283.4 611.4h0M318.0 574.9h0M304.1 582.1h0M303.0 586.6h0M276.0 583.2h0M278.2 616.4h0M330.2 569.2h0M286.6 614.3h0M332.9 605.0h0M294.0 585.2h0M307.3 613.8h0M283.7 608.3h0M279.9 589.0h0M310.2 607.4h0M294.6 597.0h0M329.0 582.0h0M284.5 591.8h0M309.3 571.1h0M330.2 602.0h0M281.5 579.0h0M273.1 617.0h0M293.6 578.7h0M322.2 590.5h0M279.6 609.6h0M324.5 579.0h0M283.2 610.4h0M309.6 575.7h0M290.1 617.4h0M274.5 579.9h0M297.7 597.4h0M325.9 590.1h0M283.3 589.9h0M313.6 578.6h0M312.3 613.2h0M332.3 603.0h0M308.3 607.8h0M294.0 589.6h0M318.9 587.0h0M318.5 597.6h0M333.8 613.9h0M294.5 580.4h0M312.0 617.0h0M304.3 599.3h0M307.2 612.0h0M320.2 580.8h0M313.3 571.3h0M282.8 582.8h0M322.1 579.3h0M322.3 602.9h0M303.8 606.2h0" stroke="#2a2a40" stroke-width="0.65" stroke-linecap="round" opacity="0.42"/></g><g filter="url(#bl3)"><path d="M309.1 566.3l3.2 2.8l-.7 4.9l-1.5 2.1l-2.6-.5l-2.9-3.5l3.2-3.9z" fill="#7f8fd0" opacity="0.45"/><path d="M276.0 597.8l-.3-.7l.9-1.2l2.1 .6l-1.3 1.6zM283.6 611.6l-1.8 .3l-1.8-1.2l1.1-2.1l2.0 1.4zM305.0 612.0l-.9 1.2l-1.0-.5l-.7-.7l.2-.8l1.2-.3l1.8 .1zM279.9 590.5l.6-1.2l-.1-1.7l2.5 .6l2.5 .7l-1.6 1.1l-1.9 1.6zM330.8 573.6l1.0-2.3l2.7 .4l3.0 1.7l-2.4 1.0l-1.9 .3zM327.5 608.0l-2.2-1.3l.7-1.1l2.3-.3l2.2 .6l-1.2 1.3zM314.7 597.5l-1.9-.7l-1.9 .1l.3-3.2l1.2-2.0l2.9 .3l-.5 1.9zM298.0 610.1l-2.5 .7l-1.8 .1l-.4-2.6l1.5-.4l2.3 .2zM290.0 600.4l2.6 .6l1.3 1.7l-1.5 .9l-1.7-.8l-1.5-.9zM286.3 582.2l1.9 1.4l.2 2.8l-1.7 .7l-1.6-2.3l-.3-1.3zM321.2 592.2l1.5 2.8l-.5 2.3l-3.1 .7l.2-4.4zM307.7 606.3l.6-1.2l2.2-1.0l2.8 1.1l.6 2.4l-1.3 .5l-2.7-.3zM287.3 598.9l-.6-1.3l.7-.4l1.9-.8l-.1 1.1l.8 1.0l-1.1 1.3zM287.4 586.0l-1.1 .3l-.1-1.7l.7-.5l1.9 .3l-.1 .8zM281.4 587.4l1.0-.1l2.4 1.3l-.9 1.1l-1.5 1.1l-3.0-.2l.4-2.3zM323.5 595.0l-.2 1.3l-.5 1.1l-1.6 .4l-.7-1.8l.6-1.5l1.0-.2zM296.2 571.0l1.5 1.0l.8 1.2l-.2 2.4l-2.0 .7l-.9-2.3zM293.4 598.3l-.2-1.7l1.2-.3l1.2 1.2l.8 1.1l-1.2 1.0l-1.0 .5zM310.9 596.9l-.9 1.4l-2.8 .3l-1.1-.9l.8-3.3l2.3 .5zM273.3 595.7l1.5-2.2l2.9 .5l0 2.4l-2.6 .9zM329.2 584.3l1.5 1.7l.8 1.7l-3.1 1.1l-.1-2.4zM326.1 574.5l.8 1.4l.9 2.2l-.7 2.2l-2.4-.6l0-2.6zM314.0 594.1l.6 1.8l-.4 1.3l-2.1 .2l-1.1-1.4l1.1-1.3zM308.8 585.2l1.3 1.3l-1.7 1.0l-2.5-.6l1.6-1.6zM279.5 609.7l-.6-2.0l1.7-.9l1.8 1.7l-1.1 1.1zM336.3 603.6l-.1 1.5l-2.4 1.2l-1.5-1.2l.2-3.1l1.4-2.4l.9 2.0zM292.1 579.2l-2.3-2.6l1.1-1.6l2.0-.1l1.7 2.0zM293.5 594.0l-1.5 1.2l-1.5 0l-.1-2.9l1.7-.5l1.7 1.2zM320.1 604.5l-1.4-2.0l.5-1.6l1.4-.6l1.4 1.5zM292.7 572.7l-.6-2.3l.7-2.2l1.2-1.4l1.2 1.2l.5 2.0l-1.1 1.3zM298.8 592.7l-3.4 2.5l-.6-3.1l0-3.6l3.2 .1zM288.7 592.9l1.9-1.0l3.3 .5l.8 1.0l-1.0 1.6l-3.2 .6l-1.8-.8zM302.0 597.2l-2.0 1.2l-2.3-1.0l-2.3-1.6l2.1-1.7l2.7 1.4zM273.4 599.4l-2.5 .5l-1.3-2.3l2.5-2.5l2.6 1.7zM324.2 576.8l-1.9-.4l-.6-1.8l1.8-.8l1.3 1.7zM302.0 591.0l.8 1.6l-2.2 .6l-1.3-.6l-.7-1.0l.9-1.0l1.7 .1zM310.2 579.6l-1.7 1.8l-3.7 .8l.1-2.6l2.5-.9zM273.0 592.5l-2.1 1.0l-.6-1.1l1.3-2.3l1.7 .7l.3 .7zM274.8 581.0l.1-2.2l.4-1.1l1.5 1.0l.8 1.2l-.3 1.3l-.8 .2zM305.6 600.4l-1.3 2.2l-2.1-.2l-1.2-1.7l1.8-1.0l1.9 .2zM330.5 602.7l.2 2.3l-.5 1.8l-1.6 1.3l-2.7-2.3l2.3-3.1zM294.2 582.4l2.6 .6l-1.7 1.6l-1.2 .1l-1.4-1.5zM305.6 612.9l1.3 .8l.3 1.5l-.6 2.1l-1.0-1.9zM271.1 606.3l1.7-1.6l1.7 1.6l-.4 2.1l-3.5 .2zM331.2 570.1l.8 2.3l-1.4 .8l-3.0 .7l-.2-1.6l.5-.9l.9-1.4zM326.3 593.2l1.6 3.5l-2.1 2.3l-1.3-.1l-.2-2.9zM308.1 618.4l-2.0-2.2l2.3-.5l1.4 0l1.1 1.1l-.8 1.8zM307.7 615.4l1.0 1.0l-.9 1.5l-1.2 1.2l-1.3-1.4l-.2-1.3zM283.1 575.4l-1.0-1.8l1.2-3.6l2.0-.3l.3 4.1zM280.6 600.7l1.3-1.0l1.8-.9l.7 2.1l-.8 .9l-.8 1.6l-2.5-.8zM280.0 595.5l1.4-2.5l1.5 .6l0 1.6l-1.0 .9zM295.8 591.1l1.1 1.5l.3 1.9l-2.3 .9l-.5-2.2zM298.2 576.4l-.7 1.5l-1.3 1.0l-1.3-1.5l-.1-1.3l.6-1.7l1.8 .4zM277.3 615.8l1.5-1.6l2.3-1.2l1.2 3.5l-1.8 1.7zM327.0 571.9l-1.6 1.4l-2.7-1.9l1.9-1.5l2.3-1.2l.5 1.2zM331.3 579.0l0 1.7l-.1 1.3l-1.7 1.3l-.4-1.6l-1.2-1.7l1.5-.7zM333.7 607.8l.8 .6l.1 .9l-1.7 .6l-.8-.5l-.5-1.7zM311.2 597.1l1.1 2.2l-2.6 1.0l-3.1-1.1l1.8-3.1zM323.0 588.2l-2.0 2.0l-1.0 .3l-2.4-2.5l1.9-2.5l2.2-.2zM326.6 610.7l-.8-2.0l.1-2.0l2.1 .8l2.4 .8l-1.4 3.6zM288.6 575.4l-1.8 .4l-3.2-1.0l1.9-1.4l1.8-.9l2.3 .4zM301.0 595.2l-1.8 .7l-1.6 0l-.7-1.0l.5-1.3l1.9 .1l1.5-.2zM328.0 595.0l-.2-.9l1.8-1.0l1.7 .8l.3 1.3l-.3 1.1l-2.3-.1zM274.6 600.1l-1.8 .2l.2-1.3l-.8-1.4l1.5-.9l2.5 .7l-.7 .8zM310.3 576.6l1.1 1.3l-1.9 1.3l-1.8 .2l-.5-2.0l.3-1.0zM308.2 590.4l-.2-1.5l1.2-.5l2.0 .6l-.1 2.0l-1.6 .1zM287.0 587.2l.6-2.0l.8-1.1l.8 1.2l1.3 .4l-1.2 3.5l-.9 .4zM289.8 609.3l-3.2 .6l-2.1-1.4l.6-.9l1.7-.8l1.8 .7zM275.5 605.7l-.7 1.6l-1.2 1.6l-.8-1.8l-1.0-2.4l1.3 .1l1.5-.2zM284.1 617.3l.8-2.0l1.1-1.8l1.5 .7l.5 1.4l-.9 3.0l-1.7-1.4zM304.8 586.3l.5 .1l-.1 1.8l-.9 1.8l-.7-1.4l-1.2-1.1l.8-1.0zM316.2 589.1l-1.3-1.2l-.4-1.0l1.7-.4l1.3 .3l.8 .6l-.4 2.1zM290.8 599.6l.9-.7l2.2-1.6l1.0 2.2l.2 2.9l-1.2-.1l-1.5-.4zM325.9 610.5l2.9-1.2l1.7 2.7l-.1 2.5l-4.0 .4zM277.0 587.0l-.7 2.7l-1.8 .5l-2.7-1.6l.8-1.2l2.1-.8zM332.7 573.5l-1.7 1.3l-2.3-2.1l-1.4-1.4l2.8-.8l1.8 .5zM310.3 592.2l.8 1.2l-.1 1.5l-1.4 .4l-2.5-.6l.2-1.2l1.1-1.1zM300.9 584.4l-1.2-1.1l.3-1.9l1.6-1.8l1.6 2.2l-1.7 2.5zM279.6 615.6l1.3 3.0l-2.2 .8l-1.2-1.8l.8-2.4zM275.1 615.3l.1 3.6l-.8 1.0l-2.2-.2l.4-4.3l1.3-1.0zM291.8 581.7l.7 1.7l-2.8 1.6l-1.6-.3l-1.3-1.8l2.2-1.9zM326.1 584.8l2.1 1.0l.4 1.4l-2.8 1.2l-.6-1.7zM314.8 615.1l-2.5-.2l-1.6-1.0l3.0-1.6l2.3 0l-.4 1.3zM279.6 609.8l-1.7-.8l-.2-1.3l1.2-1.2l2.9 .5l.1 1.9zM331.1 599.5l-1.5-1.7l-.4-2.2l1.6-2.3l1.2 2.2l.5 1.8zM270.4 571.7l-1.4-.5l0-2.2l1.3-1.8l1.7 1.3l.5 2.4zM288.4 573.1l2.6-.7l.7 2.7l-1.8 1.4l-2.1-1.7zM320.4 574.2l1.7-1.2l3.4-1.0l.6 1.9l-.7 1.0l-2.2 .2zM286.0 611.5l-.5 2.0l-1.8 0l.6-3.2l.9-.3zM279.0 577.5l-.3-1.2l2.9-.3l2.0 0l1.1 1.7l-3.1 .7l-2.5 .4z" fill="#5b6ec4" opacity="0.72"/><path d="M276.7 596.9l-.7 .2l.1-1.1l.3-.4l.5 .8zM282.5 610.0l.7 1.6l-.9 .6l-1.1-.9l.6-.8zM304.8 611.9l-.3 .8l-.8-.7l.1-1.0l.9 .2zM282.2 589.1l.9-.2l.7 .7l-1.4 1.0l-.8-.9zM334.0 574.4l-.6 .2l-.2-1.8l1.0-.3l.3 .7zM328.1 606.8l-.7-.2l.2-.5l.6-.2l.4 .5zM311.7 593.9l1.5-1.0l.7 1.4l-.3 1.4l-1.0-.1zM295.3 608.2l.2 1.2l-1.4 .7l-.4-1.0l.4-.6zM292.7 601.0l.7 1.2l-1.4 1.0l-.9-1.1l.5-1.4zM284.9 584.7l.2-1.0l.9-.6l1.5 .6l-.7 1.2zM320.8 595.7l-1.1-.4l0-1.6l2.3 .1l.7 1.2zM311.1 606.2l.3-.4l.6 .5l-.1 1.7l-.8 0zM288.9 598.3l-.5 .5l-1.1-.3l.2-.6l.9-.3zM287.4 584.4l.4 .5l0 .5l-.8-.1l-.2-.4zM281.3 589.7l-.8-1.2l1.1-.7l1.4 .4l-.2 1.1zM321.5 595.7l.5-.7l.8 .4l-.2 1.0l-.5 .1zM298.1 573.7l-.8 .4l0-1.1l.3-.4l.7 .3zM294.5 599.0l-.7 .1l.2-1.1l.8-.1l.7 .7zM309.1 596.7l-.3 .8l-1.2 .5l0-.9l.8-1.1zM276.4 595.8l-.6-.6l.2-.6l.8 .2l.2 .8zM329.8 586.4l.1 .7l-.6 .3l-1.1-.3l.5-.9zM326.4 575.8l.3 1.0l-.8 1.3l-.6-1.3l.5-1.1zM312.3 596.1l.3-1.1l.5-.1l.4 .8l-.5 .9zM307.9 587.4l-.8-.7l.8-.4l.7 .2l.1 .6zM281.4 609.2l-.9 .4l-1.1 0l.4-1.1l1.1-.1zM335.5 603.9l-1.0 .4l-1.2-.4l1.0-1.7l1.3 0zM291.6 576.7l.1-.8l1.4-.6l.5 1.5l-1.0 .5zM292.9 594.7l-1.1-.1l-.2-.8l.7-.5l.9 .3zM319.3 602.1l-.6-.4l.7-.4l1.0 0l-.2 1.1zM293.5 569.0l1.8 .9l-1.2 .6l-1.2-.1l-.6-.9zM296.1 590.6l.8 .3l.3 1.0l-1.1 0l-1.0-.2zM290.5 593.3l.8-.6l.9 1.0l-1.1 .6l-1.1-.5zM297.7 597.7l-.5-2.3l1.1 .1l.9 .8l-.1 1.2zM273.2 596.8l-.3 1.1l-.5 .2l-.6-.8l.5-.5zM323.3 575.1l.7-.9l.7 .3l-.2 1.0l-.6 0zM300.7 590.6l.1 1.1l-.6 .4l-.7-.4l.2-.8zM308.0 579.7l-.1 1.2l-.4 .8l-1.3-.7l.1-1.1zM271.3 592.9l.1-1.1l.8-.1l.5 .5l-.9 1.3zM276.6 580.1l-.3 .4l-.9 .1l.1-.6l.6-.1zM302.6 600.0l.7-.5l.4 .8l-.8 .3l-.8-.2zM329.5 604.1l.7 1.0l-.4 .5l-1.7 .6l.5-1.3zM294.3 583.5l.7 .1l.4 .6l-.7 .2l-.5-.2zM306.4 614.3l.2 .7l-1.2 .2l-.1-.7l.7-.5zM272.9 606.5l-.6 1.6l-.7-.6l-.6-1.1l1.1-.2zM329.4 570.6l.7-.5l.1 1.9l-.8 .2l-.5-.7zM324.6 596.1l1.2-.7l.4 .6l-.3 .7l-.8-.2zM308.3 617.5l.3-1.5l.8-.1l.7 .7l-.6 .8zM306.2 616.9l.7 .2l0 .6l-.3 .5l-.7-.1zM283.7 572.2l.3-.6l1.1 0l.6 .9l-1.5 .6zM284.3 600.5l-1.4 1.8l-1.1-.8l.2-1.7l1.3-.6zM281.9 595.4l-.8-.3l-.6-.4l.9-.6l.6 .4zM295.5 593.4l-.4-.7l.8-.1l1.0 .2l-.2 .9zM294.9 575.9l1.8-.4l1.1 1.0l-1.1 .8l-1.4 0zM280.6 615.4l-.4 .9l-.9-.8l.5-.9l.6 0zM326.2 569.5l.5 .4l0 1.2l-.9-.2l-.3-.9zM330.5 580.5l-.2 1.2l-.9 .7l-.1-1.2l.4-.9zM334.1 609.7l-.6-.4l0-.6l.7-.5l.3 .7zM309.8 598.2l-.1 .9l-1.0 .2l-.3-1.3l.8-.5zM321.8 587.6l-.7 .9l-1.2 .1l.2-1.2l.5-.4zM326.1 608.8l1.9-1.0l.6 1.5l-.9 1.3l-.7-.6zM287.9 573.6l-.8 .6l-.6 0l-.6-1.0l1.5-.2zM297.8 595.1l.1-1.0l1.0 .6l.2 .6l-.9 .6zM329.3 595.2l.8-.4l.4 .3l0 1.0l-.6 0zM273.9 597.6l.6 .2l0 1.6l-.3 .1l-.8-.8zM308.4 578.3l0-1.0l.8-.2l.3 .9l-.5 .5zM309.5 589.8l-.3 .6l-.6-.4l.1-.7l1.0 0zM288.1 586.2l-.4-.9l1.8 .1l.6 .9l-.8 .5zM287.5 609.8l-.7-.8l.1-1.5l1.0 .4l0 .9zM274.2 605.6l.6 1.0l-1.2 1.1l-.5-.8l-.1-1.0zM285.1 617.1l-.3-1.2l1.2-.2l.7 1.2l-.9 .6zM304.3 586.3l.9-.1l.3 1.4l-1.3-.1l-.3-.5zM315.7 587.7l.4-.7l1.0 .1l.6 .8l-.9 .2zM292.0 600.8l1.3-1.1l.8 .4l0 1.6l-1.0-.2zM329.0 613.5l-1.0-.3l-.3-.4l.2-1.0l1.4 .4zM273.9 589.3l-.7-.4l.2-.7l1.5-.2l.2 .6zM330.8 573.0l-.9-1.2l-.1-1.4l1.4 .2l.5 1.7zM307.7 593.8l0-1.3l1.3-.2l.6 1.3l-.6 .5zM300.2 584.5l-.7-1.5l1.2-.3l.8 .3l-.4 .9zM280.0 616.4l.4 1.0l-1.1 .2l-.7-.1l.1-.8zM274.2 617.6l-.8-.2l-.7-1.0l.9-.3l.7 .6zM290.5 582.4l.5 1.1l-1.1 1.2l-.9-.7l.4-.8zM326.4 586.0l.9 .5l-.3 1.0l-.8-.2l-.5-.8zM314.2 612.3l.8 .7l-.8 1.3l-1.0-.4l.5-1.4zM277.9 608.0l.9-.2l.7 .6l0 1.0l-1.2-.6zM330.7 596.7l-.2-.9l1.0-.7l.3 1.1l-.4 1.4zM270.6 570.9l-1.1-.5l-.4-1.1l1.2 0l.6 .4zM289.6 575.7l-.1-1.2l.4-.8l1.2 .2l-.3 1.6zM323.7 574.8l-.8-1.0l.7-1.0l1.4 .7l-.5 1.1zM285.2 613.2l-1.3-.1l-.2-.9l.7-.4l1.2 .4zM281.4 576.9l.8 .8l-1.4 .7l-1.5-.7l.3-1.1z" fill="#26359a" opacity="0.7"/></g><g filter="url(#bl)"><path d="M279.4 599.1l1.4 -1.1M285.3 610.1l0.9 0.5M306.2 615.5l1.2 0.1M284.3 592.4l0.1 -1.4M337.1 573.1l0.6 -0.3M325.0 608.2l1.3 0.2M309.8 597.3l-0.3 -0.6M288.3 585.6l1.1 -1.0M324.7 598.1l1.3 -1.1M321.8 598.9l1.1 0.3M332.4 589.1l-0.5 0.8M324.5 576.6l0.2 0.4M312.8 599.1l-0.7 0.9M278.8 605.9l0.2 1.2M290.8 596.7l-0.1 0.3M319.6 602.4l-0.0 1.2M291.2 567.2l0.6 -1.3M291.9 595.7l-1.1 0.1M302.4 598.4l1.2 -0.6M272.3 595.6l0.8 -0.9M325.6 571.8l0.9 1.0M303.4 588.4l1.2 -1.2M275.5 578.7l-1.2 -0.6M303.3 599.6l-0.1 -0.5M326.9 607.7l-0.5 -0.6M293.5 580.2l1.4 0.3M302.6 614.2l1.4 -0.2M271.2 604.2l1.2 0.2M321.5 596.5l-1.2 -0.1M310.7 614.5l1.1 0.3M308.5 615.1l-0.8 -1.4M294.3 596.3l-0.1 0.1M294.5 579.2l-0.2 0.0M325.9 572.0l1.4 -0.3M332.6 580.1l0.4 -1.0M325.2 612.9l1.3 0.1M284.7 573.2l-0.9 -0.2M299.7 596.3l1.2 -0.9M327.9 593.6l-1.0 0.2M312.1 588.5l1.1 -0.5M291.3 584.9l-1.0 -1.2M283.2 613.8l-1.5 -1.1M303.3 589.2l0.6 1.3M318.1 584.3l0.3 -0.2M327.1 568.9l-1.3 -1.0M310.1 596.4l-0.8 1.0M325.9 589.7l1.5 0.9M317.2 611.6l0.6 -0.1M268.4 567.0l-0.2 1.0M290.0 572.9l1.0 0.3M288.2 608.6l0.8 0.2M281.3 578.3l-0.7 -0.5" stroke="#0c0f25" stroke-width="0.95" stroke-linecap="round" opacity="0.9"/></g></svg><rect x="324.1" y="614" width="7" height="1.3" fill="#fff"/>
<rect x="74" y="619" width="64.0" height="49.0" fill="#c9cbda"/><svg x="74" y="619" width="64.0" height="49.0" viewBox="74 619 64.0 49.0" overflow="hidden"><g filter="url(#bl)"><path d="M112.4 636.2h0M135.4 646.2h0M97.4 619.9h0M114.7 647.8h0M79.5 654.3h0M112.5 656.1h0M136.8 661.9h0M128.9 664.8h0M93.0 640.0h0M110.2 649.7h0M84.0 621.1h0M103.7 657.3h0M106.5 652.4h0M118.1 632.5h0M128.5 664.2h0M79.2 622.5h0M135.0 666.0h0M104.3 626.9h0M91.9 657.4h0M93.3 655.2h0M91.3 631.6h0M127.9 647.2h0M85.2 628.0h0M132.3 644.3h0M99.5 655.0h0M127.8 667.0h0M105.6 628.1h0M75.4 621.7h0M114.8 620.1h0M103.2 620.0h0M110.5 643.4h0M129.3 666.3h0M116.1 667.7h0M102.6 652.6h0M116.1 649.2h0M95.1 667.7h0M131.9 656.2h0M129.9 639.7h0M75.6 652.7h0M91.2 659.1h0M120.7 619.1h0M95.7 651.0h0M81.1 657.2h0M98.3 626.5h0M119.0 633.4h0M115.3 652.5h0M124.2 652.2h0M74.3 666.7h0M96.1 647.0h0M76.5 662.9h0M102.7 625.8h0M118.4 657.3h0M77.2 665.0h0M125.8 642.2h0M105.0 626.8h0M92.4 642.5h0M92.5 637.9h0M135.0 665.9h0M134.4 645.0h0M95.3 625.5h0M108.3 620.5h0M113.6 661.1h0M117.2 620.8h0M118.2 639.5h0M91.1 641.5h0M114.2 652.1h0M106.3 659.2h0M130.9 625.6h0M117.4 626.7h0M75.0 657.3h0M110.1 661.9h0M103.2 629.5h0M123.7 640.2h0M109.5 651.0h0M86.0 643.6h0M104.7 635.9h0M102.8 654.7h0M96.2 635.3h0M100.5 634.9h0M98.6 645.5h0M75.6 665.9h0M122.8 632.1h0M135.9 642.4h0M84.7 638.6h0M130.0 644.0h0M81.1 621.2h0M77.4 635.8h0M90.7 650.4h0M95.8 631.2h0M92.3 649.5h0M96.3 647.7h0M114.7 666.8h0M92.3 641.3h0M92.3 624.8h0M118.7 637.2h0M95.1 655.5h0M87.6 628.6h0M76.6 648.6h0M95.4 624.2h0M78.2 624.1h0M99.2 624.9h0M108.2 640.6h0M130.0 651.1h0M96.3 646.6h0M84.5 647.2h0M134.1 651.6h0M89.8 664.6h0M83.7 622.8h0M116.7 641.6h0M135.6 641.6h0M79.6 644.5h0M129.1 654.0h0M98.2 653.2h0M103.5 665.1h0M86.4 621.5h0M90.9 649.6h0M74.2 648.1h0M95.2 626.6h0M80.4 631.7h0M117.8 647.1h0M91.4 631.4h0M112.7 666.5h0M93.6 642.5h0M118.6 644.3h0M111.3 654.1h0M100.7 638.2h0M121.2 653.3h0M107.7 642.5h0M103.4 634.0h0M120.5 644.7h0M77.6 633.4h0M79.2 649.3h0M114.6 627.0h0M78.3 653.0h0M127.6 655.1h0M115.0 620.4h0M94.6 651.5h0M82.6 639.6h0M97.7 653.1h0M105.4 622.0h0M132.0 667.8h0M108.0 664.5h0M133.3 649.4h0M108.4 666.5h0M102.3 647.1h0M98.0 661.7h0M80.0 627.4h0M107.0 630.1h0M105.7 630.8h0M129.5 624.4h0M107.3 652.8h0M96.3 664.0h0M81.0 655.1h0M123.0 667.5h0M95.0 654.1h0M86.9 658.7h0M118.4 621.7h0M121.9 633.2h0M94.4 643.5h0M132.7 656.5h0M137.6 658.7h0M103.8 656.8h0M95.3 663.6h0M92.1 625.2h0M126.6 628.9h0M105.7 621.7h0M87.2 641.8h0M114.6 665.9h0M82.3 655.4h0M76.8 637.6h0M124.0 660.8h0M98.8 659.7h0M91.5 629.2h0M117.5 619.1h0M115.6 666.4h0M121.8 666.6h0M87.3 654.5h0M99.5 622.6h0M99.8 627.8h0M125.5 651.5h0M105.7 658.8h0M95.2 623.6h0M120.1 661.9h0M91.2 650.4h0M120.6 665.4h0M128.7 623.7h0M82.4 628.7h0M98.4 643.9h0M76.8 654.8h0M124.8 634.3h0M97.3 638.0h0M114.5 655.8h0M126.6 667.6h0M95.4 651.1h0M83.8 627.3h0M76.3 634.7h0M120.4 636.6h0M126.0 630.6h0M122.9 662.8h0M135.5 667.7h0M113.2 619.2h0M97.4 645.0h0M112.7 642.2h0M128.1 627.1h0M91.1 643.8h0M76.3 637.3h0M110.0 663.2h0M137.5 630.0h0M95.4 665.6h0M99.7 643.9h0M111.8 622.1h0M123.3 646.3h0M130.5 649.0h0M123.8 633.6h0M124.6 647.4h0M76.7 661.8h0M119.9 642.9h0M135.4 659.5h0M127.8 663.5h0M74.2 649.6h0M121.0 625.2h0M114.3 619.0h0M117.1 619.5h0M90.1 662.3h0M97.7 624.0h0M125.7 619.8h0M100.4 660.1h0M96.2 634.8h0M112.1 649.0h0M135.8 620.9h0M99.5 645.2h0M99.4 647.9h0M129.4 655.7h0M119.6 627.0h0M84.8 627.9h0M90.1 619.9h0M99.6 652.8h0M110.7 661.5h0M126.9 660.8h0M104.0 660.4h0M121.3 631.1h0M122.6 635.7h0M79.0 651.9h0M125.4 660.4h0M136.9 626.2h0M77.2 660.0h0M109.0 624.3h0M126.2 629.6h0M109.4 652.3h0M132.6 656.3h0M91.3 654.1h0M82.4 633.1h0M95.1 625.7h0M90.7 648.1h0M84.9 630.8h0M83.5 652.9h0M123.5 621.7h0M75.7 628.3h0M102.6 665.0h0M85.0 651.3h0M84.3 651.5h0M95.3 650.4h0M127.5 646.8h0M119.7 630.4h0M88.7 626.9h0M94.7 637.7h0M114.7 642.8h0M100.3 647.8h0M131.2 653.1h0M91.6 655.0h0M125.2 633.0h0M131.6 645.3h0M135.9 661.2h0M129.6 641.5h0M133.8 629.6h0M78.4 632.5h0M109.3 619.0h0M103.8 648.3h0M99.1 662.9h0M89.2 621.7h0M105.0 628.2h0M81.8 666.5h0M101.1 660.1h0M84.5 622.4h0M121.7 663.8h0M86.7 628.2h0M83.3 634.7h0M112.3 645.7h0M104.1 641.1h0M103.1 645.7h0M121.4 652.9h0M86.4 643.6h0M78.1 640.2h0M112.0 627.1h0M137.5 665.4h0M128.7 628.6h0M120.1 623.1h0M106.0 664.5h0M85.3 627.0h0M95.6 667.7h0M98.6 642.8h0M75.8 647.5h0M119.1 664.0h0M126.4 621.1h0M120.0 623.7h0M91.8 622.6h0M93.9 664.3h0M85.9 667.4h0M90.1 637.1h0M102.3 620.3h0M116.6 650.6h0M88.1 653.6h0M131.9 653.2h0M96.3 632.7h0M132.2 653.0h0M113.3 628.3h0M115.1 641.5h0M81.2 664.2h0M129.0 646.1h0M126.0 662.4h0M129.3 629.2h0M107.4 643.9h0M134.4 636.9h0M113.9 654.8h0M125.6 648.9h0M95.8 656.4h0M111.1 655.5h0M95.8 642.6h0M110.5 621.9h0M118.8 628.1h0M125.8 642.4h0M88.4 655.3h0M117.6 619.7h0M104.9 646.4h0M129.9 622.4h0M101.9 658.9h0M106.2 633.6h0M117.6 633.0h0M120.0 655.9h0M84.8 649.4h0M91.2 631.2h0M97.5 650.7h0M129.6 621.0h0M114.8 637.7h0M82.7 660.1h0M103.3 665.0h0M133.9 619.0h0M85.1 659.1h0M117.4 637.1h0M125.3 651.7h0M90.9 649.7h0M124.9 655.6h0M78.0 655.8h0M97.5 655.2h0M85.4 633.9h0M78.6 639.7h0M100.1 639.6h0M115.3 620.3h0M115.4 646.9h0M91.0 621.4h0M94.0 638.7h0M105.0 631.2h0M101.2 632.1h0M127.8 660.3h0M94.8 628.7h0M119.8 620.1h0M94.5 660.7h0M120.9 625.9h0M100.1 622.3h0M137.3 633.6h0M77.8 651.6h0M131.3 656.6h0M127.3 642.4h0M96.1 662.6h0M119.5 628.3h0M81.7 648.8h0M95.4 660.3h0M100.3 631.1h0M132.3 649.3h0M131.2 636.9h0M120.5 665.5h0M121.8 628.1h0M137.4 627.0h0M129.0 638.7h0M111.5 632.8h0M109.1 622.0h0M102.1 649.7h0M98.4 632.8h0M106.4 649.7h0M129.6 620.8h0M136.9 655.1h0M103.5 622.9h0M76.5 622.4h0M76.3 625.6h0M138.0 666.5h0M107.5 619.5h0M99.1 650.4h0M134.3 624.1h0M121.3 642.6h0M119.9 651.0h0M75.6 631.6h0M78.5 621.7h0M136.0 654.4h0M102.1 653.2h0M118.0 654.9h0M125.6 664.0h0M85.1 620.5h0M110.4 629.2h0M119.6 639.3h0M77.6 632.0h0M82.3 621.9h0M76.6 660.5h0M117.8 629.1h0M75.9 636.1h0M124.3 629.6h0M97.3 644.6h0M103.2 634.5h0M98.8 619.8h0M101.6 666.4h0M96.9 624.7h0M81.4 644.6h0M96.1 622.5h0M99.8 646.8h0M81.7 654.2h0M133.6 642.2h0M117.9 622.2h0M123.8 645.5h0M81.4 666.3h0M81.8 622.9h0M119.4 627.5h0M120.4 660.5h0M90.4 655.8h0M113.4 631.9h0M76.3 624.1h0M128.8 666.2h0M74.7 631.5h0M118.6 643.4h0M134.6 636.0h0M81.8 653.2h0M105.8 643.5h0M78.8 626.1h0M102.1 634.8h0M76.0 650.7h0M93.6 658.9h0M121.8 633.7h0M75.3 644.4h0M120.0 620.7h0M113.0 652.0h0M82.2 656.5h0M88.7 630.5h0M76.5 651.9h0M133.1 647.5h0M115.9 647.2h0M124.1 659.8h0M111.8 623.8h0M123.5 660.0h0M123.4 620.3h0M112.1 652.5h0M81.3 659.9h0M129.1 641.1h0M119.3 667.7h0M111.6 651.4h0M128.1 650.5h0M107.0 640.9h0M131.5 654.9h0M95.5 648.0h0M131.8 649.5h0M125.2 632.0h0M86.3 653.7h0M126.5 626.3h0M101.3 650.6h0M104.7 645.1h0M119.4 649.6h0M128.7 660.2h0M131.2 645.9h0M130.2 620.8h0M78.5 656.5h0M110.2 654.7h0M118.7 641.9h0M126.4 628.3h0M121.1 643.1h0M105.9 644.3h0M116.4 641.3h0M106.5 619.6h0M74.2 652.9h0M82.6 666.1h0M106.2 657.8h0M114.5 623.1h0M118.5 662.4h0M86.2 656.3h0M137.6 641.3h0M85.4 646.5h0M117.0 657.8h0M98.7 659.6h0M98.8 627.0h0M79.3 659.5h0M132.7 647.9h0M135.9 654.9h0M117.5 637.7h0M127.9 638.7h0M130.4 646.6h0M129.3 665.6h0M101.1 624.4h0M79.6 666.2h0M109.5 619.1h0M89.3 620.3h0M110.4 651.3h0M117.0 668.0h0M99.0 642.7h0M122.5 620.0h0M107.8 630.2h0M125.5 629.7h0M111.3 650.8h0M96.2 638.2h0M118.9 650.5h0M105.6 619.4h0M119.8 636.4h0M107.7 620.3h0M76.4 659.7h0M77.1 648.8h0" stroke="#2a2a40" stroke-width="0.65" stroke-linecap="round" opacity="0.42"/></g><g filter="url(#bl3)"><path d="M99.3 630.8l-2.0 3.7l-4.0 1.8l-5.2-2.7l-1.6-3.6l2.9-6.1l7.6 2.2z" fill="#7f8fd0" opacity="0.45"/><path d="M107.5 622.5l-1.7-1.7l4.4-2.0l.9 2.3l-.2 1.4zM122.0 664.3l-1.7 1.4l-.5-2.5l.6-2.2l2.3-.2l.4 1.4l.8 1.3zM111.2 621.2l-1.3 1.9l-1.0-1.0l-1.1-.7l.9-2.6l1.0 0l1.6 1.6zM97.4 648.8l.3-2.1l2.1-.7l1.6 1.0l1.3 1.5l-1.7 1.0l-2.3 1.0zM91.4 657.0l1.8-.5l1.7 .8l.1 1.8l-1.4 0l-3.1-.2zM96.4 650.7l1.5-1.7l1.2 1.1l.1 1.7l-1.4 .4zM103.7 657.5l.3-4.1l1.1-1.3l.9 .5l1.8 2.5l-1.3 1.3l-1.2 1.8zM111.9 621.0l-1.4-.7l1.5-1.3l1.2-.9l.8 1.9l-1.0 .9zM136.5 658.4l.6-.5l1.1-.9l.7 1.5l.4 1.4l-1.6-.2l-1.0 0zM130.2 638.9l-1.0-2.0l2.1-.1l1.7 .7l-1.6 2.2zM98.4 643.6l-1.3 1.4l-1.4-1.1l.4-1.2l1.3-.9l1.5 .4zM103.0 625.6l.4-1.7l2.6-.4l-.1 2.1l-1.6 1.1zM98.4 628.9l-.1 2.8l-1.5 1.6l-1.0-.6l-.2-2.5l.3-2.4l1.5 1.4zM118.0 627.7l1.7 1.8l0 2.3l-.7 1.7l-1.5-1.1l-1.7-1.1l1.1-3.6zM106.9 635.5l-2.6-.2l-.6-1.8l1.5-1.2l1.6 1.0zM92.0 651.5l1.6-.9l1.3 .7l.7 .2l0 1.9l-1.5 0l-2.5 .1zM84.3 641.4l1.0 1.9l-.1 3.9l-3.4-.9l-.2-5.4zM113.4 658.2l.5 1.3l-1.0 1.2l-.7-.5l-.6-1.3zM110.8 662.3l-2.6-.7l1.2-1.7l1.9-1.3l.8 2.7zM92.4 646.4l3.1-.5l.4 1.7l-1.3 2.1l-3.2-2.2zM81.4 648.1l1.8-1.6l2.1-1.1l2.5 .7l.3 2.0l-1.8 .4l-2.2 .7zM104.0 621.3l-4.5 .9l-.7-2.5l.6-2.1l4.4 .5zM88.5 635.7l-2.5-2.5l1.4-1.2l2.4 .5l.6 .8l-.8 1.2zM88.7 621.9l-.8 4.0l-1.2-1.9l-.8-3.2l1.0-1.1l1.9-1.3zM128.3 661.4l2.1 .8l-.2 1.4l-2.4 .6l-2.1-.7l0-2.3zM82.9 617.6l2.0 .1l.8 1.6l-.6 2.3l-2.3 .6l-.5-1.4l-.9-1.5zM95.4 652.5l-1.4-2.1l2.1-.7l1.9 .1l-.2 2.6zM86.8 664.9l-1.3 1.9l-1.2 1.1l-1.7-1.1l0-1.4l-.3-1.7l2.6 .9zM78.6 624.1l-2.2-.9l-.5-1.7l3.2-.4l.7 1.6zM136.9 657.3l-2.1-3.9l2.3-.9l2.4 1.7l.8 2.5zM119.8 622.2l1.8-.7l1.8 1.0l0 1.8l-2.1 .2zM82.4 633.7l.1-1.9l1.6 .1l.3 2.3l-.9 2.0l-.5-.5zM79.9 633.0l-.8 2.5l-1.1 .6l-2.0-.2l0-1.6l-.1-1.5l1.9-.4zM83.0 622.9l1.1 .9l-.9 .7l-2.3 .7l-.7-1.1l1.3-1.3zM109.9 664.3l-.5-1.6l1.5-2.2l2.6 2.6l-.8 1.3zM106.3 616.9l1.5 .2l.4 2.4l.2 3.6l-1.9-.1l-.5-1.8zM113.9 632.6l1.6-1.0l1.8 .2l-.4 3.0l-2.0 1.2l-.9-2.2zM101.6 622.5l-.9-.8l1.1-.9l1.4-.9l.6 1.6l.8 .8l-1.9 .8zM121.5 628.6l1.3 .3l1.4 .8l-1.2 .7l-1.8 .9l-2.0-1.7l1.2-.5zM110.5 662.2l.7 .9l.6 1.0l-1.0 .6l-1.6 .6l-.5-1.8l.3-.8zM78.1 643.6l-.9 2.2l-2.0 .1l-1.8-1.4l2.8-1.4zM116.4 651.0l.3 1.2l-2.4 .6l-.8-1.5l.8-.8zM79.9 665.7l-.1-1.5l2.0-.8l.5 1.2l-1.0 1.9zM112.5 642.7l-1.6-3.3l2.9-4.1l1.7 2.2l-.4 5.2zM77.9 644.0l-.1-1.5l1.2-1.6l1.3 2.0l-.8 1.2zM109.8 661.1l-1.5 1.6l-2.6 .1l.2-1.6l1.1-1.0l1.7-.1zM114.9 619.0l2.3-.4l.5 1.5l-1.1 1.5l-2.3-.2zM120.8 658.3l1.7 2.5l-1.0 3.0l-1.6 .4l-.8-4.0zM126.5 654.0l-2.4-.1l-.9-.8l.8-2.0l2.5 .8l1.0 1.5zM126.6 616.7l1.1 2.3l-1.3 1.8l-1.5 .5l-1.5-1.4l1.8-2.8zM100.7 650.3l-3.2 .8l-2.0-.8l-2.7-.8l2.4-1.8l3.4-.3l.9 1.6zM121.6 649.2l-2.0 .1l-1.0 0l-1.2-1.2l1.5-1.5l1.4-.4l1.8 .6zM135.6 668.0l-2.7-.4l-.2-2.8l1.8-1.0l4.4 1.1l-.9 1.8zM99.1 624.6l-1.5 .9l-1.6 .8l-1.7-.1l-.4-1.2l.7-1.3l1.8-.1zM96.1 622.7l1.6-2.3l1.2 .5l1.9 1.7l-1.5 1.1l-1.8 1.1zM119.5 664.4l1.5-.8l1.0-.3l1.7 .8l-1.5 1.8l-1.1 .4zM96.2 639.4l2.2-1.6l2.6-.3l-.6 3.2l-1.9 .9zM101.9 640.4l-1.9 .5l-1.6-.6l-.3-1.8l2.2-1.1l1.2 1.8zM120.3 657.4l-2.3 .4l-1.9-.7l2.4-1.9l1.9 .6zM104.0 666.5l-2.5 .8l-2.2-1.4l1.2-2.0l2.4-.6zM120.9 628.8l1.7-.8l1.6 1.3l-.9 1.5l-2.4-.2zM132.6 656.1l.1-1.8l2.2 .7l.7 1.5l0 1.4l-.8 1.6l-1.9-.1zM117.5 648.9l2.8 .1l3.4 1.2l.2 1.1l-2.1 1.7l-4.5-.1l-.6-2.0zM100.2 644.3l1.4 2.2l-1.2 2.5l-1.9 .5l-.2-4.0zM75.0 622.5l-2.1 .2l-.1-1.4l.3-2.2l2.0 .8l1.7-.1l-.4 1.6zM98.4 635.7l-2.1 1.3l-2.3-1.0l.6-1.3l2.5-.6zM108.6 647.8l-1.6 0l0-1.2l.8-1.1l1.3 1.6zM85.0 621.9l1.0 2.2l-.8 1.0l-2.0 .7l-1.2-2.0l1.0-1.9zM104.9 658.8l.1 2.8l-1.7 .4l-2.4 .1l-1.3-1.3l.3-1.8l2.3 .4zM98.7 642.2l0-2.0l2.1-1.2l1.1 2.8l-.5 1.9zM83.0 656.9l-1.0 1.4l-2.7 .6l-.4-2.1l-.5-1.3l2.8-.8l1.6 .1zM90.9 647.7l2.9-1.5l1.4 1.5l-.6 1.3l-1.0 2.0l-1.6-.9l-2.0-.2zM121.2 650.5l-.5-1.4l1.2-.4l1.5 .1l.6 1.4l-1.1 .7l-1.3 .1zM130.0 649.7l-.9-1.8l1.3-2.1l1.3 2.1l.8 1.7l-1.6 1.1zM79.1 638.3l.7 1.8l-2.4 .6l-1.9-.6l2.0-3.5zM118.0 649.9l-2.3-1.0l2.1-1.9l1.8-.2l1.6 .7l.1 2.0l-.8 .9zM75.8 643.6l-2.0 .2l-1.2-3.1l1.5-1.1l2.8 .7zM91.1 635.3l.5 1.0l-.7 1.6l-1.7-.9l-1.1-1.3zM117.9 647.9l-.8 1.1l-1.0-.6l-1.4-.9l1.4-2.6l1.4 .4l.4 1.1zM97.7 660.2l-1.6 .9l-1.7-1.1l-.3-1.8l1.4-1.4l1.8 1.0l-.2 .8z" fill="#5b6ec4" opacity="0.72"/><path d="M109.0 621.2l-.7 .2l.2-1.7l.4 0l.6 1.1zM120.6 662.8l.8-.9l1.2 .2l-.3 .7l-.7 .7zM109.0 621.2l.4-.5l.3 .2l0 .6l-.7 .8zM99.5 649.1l-.3-1.3l1.5 .1l.4 .7l-.9 1.3zM92.3 658.1l.7-1.2l.7 1.0l0 1.8l-1.1-.1zM97.3 649.9l.5-.1l.2 .8l-.1 .7l-.8-.9zM104.5 654.5l1.5-.7l0 1.7l-.8 .8l-1.2 .1zM112.5 621.2l-.7 .4l-.3-.7l.3-1.6l.9 .7zM139.0 658.5l-.8 1.0l-.5-.9l.2-1.0l.6-.5zM131.3 638.2l-.7 .5l-.3-.8l.1-.8l.6 .1zM98.0 643.5l.1 .8l-1.2 0l-.2-.6l.5-.5zM105.1 625.6l-.8-.3l-.4-.8l.9-.8l.6 1.0zM97.4 630.1l.9 .6l-.1 1.1l-1.5-.1l-.6-1.3zM117.1 629.6l1.0-.9l1.0 .7l-.4 1.0l-1.0 .2zM105.2 634.5l.5-.8l.8 .1l0 1.1l-1.4 .4zM94.3 651.4l.5-.2l.1 1.2l-.6 .5l-.3-.9zM84.9 642.4l.2 1.3l-2.1 1.2l-.5-1.3l-.1-1.2zM113.0 659.8l-.1 .7l-1.0 0l0-.8l.7-.5zM110.7 661.7l-1.5-.2l.3-1.3l1.0-.7l1.2 1.4zM93.5 647.0l.8-.6l.6 1.5l-.7 .6l-.7-.2zM86.1 647.4l-.6 1.0l-.9 .2l-.2-.8l.5-1.4zM99.9 618.6l1.6 .1l.2 1.1l-1.6 1.1l-.2-1.2zM88.3 633.6l-.3-1.0l1.1-.7l1.8 .4l-.7 .9zM89.0 621.9l-.8 1.0l-1.4 0l-.8-1.2l1.3-.8zM128.5 661.9l0 1.0l-.8 .5l-1.0-.7l.3-.7zM83.1 618.0l1.1 .9l-.9 1.6l-1.3-1.0l-.9-1.1zM96.6 650.2l1.4 .3l-.5 1.8l-1.4-.1l-1.0-1.0zM83.3 665.4l1.3 .9l.1 .8l-2.2-.2l-.6-.9zM77.6 623.4l.4-.7l.5 0l0 1.1l-.6 .7zM137.0 654.1l-.1-1.1l2.0 .4l-.3 1.9l-1.4 0zM121.2 622.7l1.4-.1l0 1.0l-.8 .4l-1.1-.4zM82.8 634.6l-.6-.7l.6-.5l.6 .2l-.3 .8zM77.4 632.8l.9 .8l-.2 1.4l-.7-.1l-.8-1.1zM80.7 624.4l.4-1.0l1.2 .1l.3 .8l-.4 1.1zM111.2 661.9l.2 1.1l-.7 .6l-.5-.3l0-1.2zM106.2 620.8l-.6-.9l1.5 0l.8 .4l-.5 .7zM115.5 632.5l.5 .9l-.6 .5l-1.3-.4l.3-.8zM101.9 620.4l.8 .6l-.6 .7l-1.1 .1l-.3-1.0zM122.3 628.8l-.1 .6l-.6 .4l-.7-1.1l1.0-.7zM110.8 663.7l-.2 .7l-.7 0l-.1-.5l.6-.5zM76.0 644.3l-.1 .7l-1.0 0l0-.5l.3-.5zM115.0 651.5l.2-1.2l.8 .5l.1 1.2l-.7 .3zM80.6 664.1l.7 .1l-.2 1.5l-1.0-.4l-.4-.8zM114.6 637.7l.2 1.4l-1.4 .9l-.2-1.1l.3-1.4zM77.8 643.4l.4-.6l.9 0l.6 .6l-1.1 .4zM107.5 660.2l.4 .2l.1 .7l-.4 1.1l-.4-.6zM115.3 619.7l.1-.6l.8-.3l.6 .8l-.8 .6zM121.4 659.7l.4 1.5l-.5 1.6l-1.2-.6l.5-2.0zM124.3 652.8l-.6-.4l1.2-.9l.9 .6l-.3 .7zM126.7 620.1l-1.5 .6l-.4-1.6l.5-1.3l1.2 .4zM96.8 649.2l1.2-.1l.4 .7l-1.6 .6l-.4-.6zM119.2 648.7l-.4-.8l.4-.6l.8 .3l.3 .9zM137.0 667.0l-1.9 .5l-.8-1.6l1.1-.7l1.6 .2zM95.5 624.9l-.6-.7l1.6-.2l.4 .7l-.6 1.1zM99.5 623.2l-.6 .6l-1.6 .2l0-1.2l1.5-.3zM120.7 664.4l1.7 .3l-.7 .8l-1.2 .3l-.5-.9zM98.4 638.2l1.3 .4l0 1.4l-1.0 .5l-.8-1.0zM99.8 639.3l1.0 0l.1 .9l-.8 .2l-.5-.5zM118.0 657.5l-.3-1.7l1.1-.8l.9 .8l-.5 1.1zM101.4 666.6l-.7-1.1l.5-1.3l1.6 0l-.2 1.2zM122.1 627.8l.6 .5l0 1.1l-.5 .4l-.3-.9zM135.0 655.4l.9 1.6l-1.1 1.4l-.7-.2l-.1-2.7zM119.0 650.7l.8-1.7l2.0 .2l.6 1.4l-1.7 1.0zM98.9 647.6l.4-1.5l.7 .3l.6 .8l-.7 1.3zM74.1 622.3l-.1-1.0l.4-1.4l1.2 .5l.2 1.7zM96.3 635.6l-.9 .2l-.2-.7l.4-.5l.6 .2zM107.4 647.9l-.2-.4l.6-.4l.8 .5l-.3 .4zM85.8 624.9l-1.3 0l-.9-.3l.9-.4l.7-.1zM102.2 659.3l.1 1.2l-.6 .5l-.6-.4l-.2-1.3zM100.4 640.6l.9 .9l-.8 1.0l-.9-.9l.2-.8zM81.8 656.7l-1.6 .3l-.4-1.3l.8-.7l1.4 .9zM92.4 647.6l1.0 .3l-.4 1.3l-1.1 .3l-1.0-1.8zM123.0 649.7l0 1.3l-.9 .6l-.3-.7l.3-1.1zM131.7 648.8l-1.4 .5l-1.1-.8l.8-1.0l1.1 .6zM77.7 638.1l1.0 .2l0 .9l-1.1 0l-.6-.4zM118.5 647.6l.7 .4l-.1 1.6l-.6 .4l-.5-1.0zM75.0 641.4l.3 1.9l-1.2 0l-.6-1.6l1.0-1.1zM90.9 635.9l.2 .7l-.4 .4l-.7 0l0-.7zM116.8 646.4l.1 1.4l-.7-.5l-.2-.9l.5-.4zM94.9 659.4l.6-.9l.9 .4l0 .9l-1.3 .4z" fill="#26359a" opacity="0.7"/></g><g filter="url(#bl)"><path d="M107.0 618.7l1.2 0.9M101.7 644.4l1.0 0.1M139.8 658.5l1.2 0.4M87.8 645.8l1.4 -0.7M86.5 623.7l-1.0 -0.7M99.1 650.5l-0.7 -1.2M83.1 634.1l1.3 -1.1M123.8 629.0l-0.5 -0.3M83.4 662.4l-0.1 -1.4M120.7 662.6l-1.1 -0.0M125.1 622.3l1.1 0.4M94.6 647.8l1.4 -1.2M118.6 668.3l0.8 0.3M100.8 640.6l-0.7 -0.0M98.8 661.2l-1.1 -0.5M96.1 648.4l0.4 -0.7M98.3 637.2l0.4 1.3M94.1 647.1l1.5 -0.5" stroke="#0c0f25" stroke-width="0.95" stroke-linecap="round" opacity="0.9"/></g></svg>
<rect x="139" y="619" width="65.0" height="49.0" fill="#c9cbda"/><svg x="139" y="619" width="65.0" height="49.0" viewBox="139 619 65.0 49.0" overflow="hidden"><g filter="url(#bl)"><path d="M190.9 655.2h0M149.4 625.6h0M196.7 656.1h0M173.7 658.1h0M158.4 634.6h0M140.1 646.5h0M153.9 620.2h0M154.5 623.0h0M199.3 633.4h0M144.0 665.0h0M145.4 657.1h0M184.7 649.3h0M171.5 631.8h0M153.2 629.5h0M170.5 662.9h0M147.6 657.1h0M167.7 625.0h0M162.5 660.0h0M149.6 624.7h0M203.7 666.6h0M203.2 619.1h0M152.2 644.8h0M152.7 656.1h0M151.1 642.3h0M150.7 666.8h0M194.6 663.8h0M141.8 633.6h0M143.5 642.7h0M153.1 642.4h0M200.3 621.5h0M166.9 626.9h0M177.7 664.3h0M175.2 649.7h0M197.7 665.0h0M152.6 665.8h0M149.4 667.6h0M173.5 663.9h0M151.3 650.4h0M162.8 652.4h0M174.5 657.5h0M150.6 639.3h0M153.7 665.4h0M173.3 632.8h0M203.2 656.5h0M196.1 654.6h0M175.2 636.0h0M172.0 653.6h0M176.6 666.7h0M182.4 644.9h0M198.3 658.2h0M178.1 632.2h0M175.5 643.3h0M196.8 646.5h0M157.5 657.2h0M139.1 631.5h0M152.0 664.0h0M187.4 662.8h0M159.7 628.2h0M159.1 628.2h0M175.6 641.2h0M145.4 648.2h0M147.3 619.6h0M142.3 664.4h0M175.7 665.2h0M151.0 626.3h0M189.4 659.6h0M202.1 660.0h0M141.1 620.2h0M180.9 652.4h0M201.8 641.5h0M146.3 628.4h0M147.7 650.7h0M139.2 644.3h0M190.8 643.4h0M201.4 634.0h0M170.2 630.7h0M176.2 620.4h0M170.6 662.9h0M144.4 663.3h0M162.8 649.4h0M174.1 647.8h0M199.7 667.2h0M142.2 633.9h0M146.2 667.5h0M193.3 651.3h0M169.6 627.0h0M157.3 650.9h0M162.4 668.0h0M167.6 647.0h0M179.9 622.8h0M148.3 663.4h0M152.7 623.4h0M189.3 641.7h0M171.9 636.5h0M166.7 636.6h0M198.4 664.6h0M196.1 621.4h0M163.2 633.5h0M140.4 626.1h0M167.4 621.9h0M182.2 625.2h0M145.3 625.7h0M193.8 637.0h0M140.6 620.6h0M153.0 661.2h0M187.8 636.1h0M195.0 630.7h0M189.6 667.3h0M203.6 630.6h0M156.6 658.1h0M202.1 659.0h0M144.9 653.0h0M156.5 663.6h0M171.7 661.4h0M153.7 621.3h0M150.5 627.5h0M191.3 645.3h0M151.5 628.5h0M194.5 666.6h0M160.5 624.5h0M148.1 651.5h0M199.7 655.5h0M152.4 656.0h0M144.6 626.6h0M148.9 640.6h0M162.6 637.8h0M168.5 633.4h0M186.0 627.5h0M161.8 661.3h0M148.9 626.8h0M157.3 662.6h0M164.6 665.7h0M188.1 651.9h0M171.1 629.9h0M144.0 648.5h0M158.3 636.3h0M177.7 660.3h0M152.4 635.6h0M162.1 655.6h0M194.5 632.8h0M193.1 629.0h0M149.3 666.9h0M167.4 641.1h0M164.0 660.4h0M149.9 663.7h0M170.3 622.6h0M158.8 640.6h0M139.8 658.4h0M203.7 635.4h0M149.8 626.0h0M186.1 627.4h0M141.8 648.3h0M166.7 666.5h0M148.6 633.2h0M168.2 621.6h0M156.7 642.6h0M179.1 665.2h0M181.6 638.5h0M184.1 628.3h0M194.3 658.4h0M179.5 663.7h0M153.4 624.3h0M142.0 636.1h0M194.0 630.5h0M196.5 648.5h0M151.0 623.5h0M189.2 650.3h0M200.6 634.6h0M191.8 631.5h0M145.1 620.1h0M187.2 629.5h0M180.6 648.9h0M190.3 653.5h0M166.0 645.9h0M173.5 644.1h0M161.0 654.2h0M163.0 636.3h0M171.7 665.4h0M153.6 631.8h0M156.1 646.5h0M163.2 649.0h0M176.3 656.8h0M185.2 631.7h0M161.7 633.3h0M149.5 647.5h0M202.9 654.8h0M194.1 629.4h0M173.5 658.1h0M160.2 644.2h0M177.0 643.2h0M182.7 635.1h0M191.4 662.6h0M168.5 661.2h0M195.8 663.5h0M170.3 627.9h0M159.6 621.8h0M172.3 635.3h0M139.4 661.1h0M201.6 644.6h0M189.6 662.4h0M156.0 624.3h0M194.0 662.9h0M197.7 652.3h0M194.7 658.4h0M165.8 622.5h0M185.4 646.6h0M177.6 641.7h0M150.1 640.5h0M145.9 662.0h0M186.1 654.7h0M179.5 657.8h0M195.4 650.4h0M151.4 622.6h0M188.8 660.5h0M161.8 621.7h0M152.3 627.9h0M175.6 631.0h0M144.0 652.5h0M140.3 633.1h0M191.5 632.4h0M201.7 649.5h0M170.4 653.8h0M193.0 651.2h0M143.6 621.8h0M166.8 635.1h0M200.9 638.0h0M189.7 629.9h0M185.1 656.8h0M186.0 662.7h0M156.3 622.5h0M144.9 622.8h0M151.3 620.7h0M155.1 653.6h0M140.8 641.5h0M173.4 639.2h0M168.8 621.8h0M169.2 658.2h0M154.2 629.6h0M180.4 666.8h0M191.1 657.9h0M168.1 648.9h0M170.9 639.3h0M142.1 621.1h0M202.0 650.2h0M198.3 658.9h0M169.6 621.5h0M177.6 641.6h0M143.1 629.6h0M163.1 652.1h0M189.9 637.7h0M195.3 645.7h0M163.6 619.2h0M198.2 657.5h0M191.7 621.0h0M171.5 659.6h0M145.5 664.0h0M187.8 625.5h0M146.6 653.4h0M175.4 629.7h0M202.6 649.1h0M159.7 660.4h0M141.3 664.2h0M193.1 656.3h0M197.1 663.5h0M186.7 646.7h0M190.3 654.6h0M146.3 657.4h0M198.5 640.4h0M172.7 642.4h0M143.2 660.1h0M146.1 649.1h0M144.2 657.8h0M200.1 667.6h0M153.9 627.8h0M148.7 626.4h0M146.3 637.7h0M189.2 663.7h0M198.6 664.9h0M171.9 637.9h0M167.1 626.1h0M143.1 661.8h0M140.3 657.4h0M191.8 631.4h0M158.6 658.9h0M164.4 635.0h0M202.2 653.6h0M199.0 626.7h0M185.5 660.4h0M182.1 657.8h0M198.5 659.9h0M156.1 644.7h0M160.5 641.9h0M161.4 660.0h0M160.4 667.2h0M150.1 625.9h0M155.4 656.6h0M166.2 631.0h0M163.4 630.1h0M181.9 649.8h0M157.7 640.7h0" stroke="#2a2a40" stroke-width="0.65" stroke-linecap="round" opacity="0.42"/></g><g filter="url(#bl3)"><path d="M159.2 636.3l-3.1-2.3l-3.4-4.3l-2.5-5.5l5.1-2.6l4.2 3.4l2.2 6.0zM186.7 642.2l2.8 3.0l2.5 2.7l-7.7 2.5l-3.6-1.0l-1.4-2.8l.4-4.3zM198.2 615.8l.4 8.7l-2.0 3.7l-3.3-1.3l-2.1-2.3l1.3-6.6l3.2-1.8z" fill="#7f8fd0" opacity="0.45"/><path d="M201.9 659.6l-1.4 3.7l-2.1 .7l.3-5.9l2.8-2.5zM181.6 664.9l-.7 2.1l-1.6 1.3l-1.2-2.7l.9-2.3l1.2-1.7zM148.5 654.9l1.5 1.8l-.2 1.7l-1.7 1.5l-1.8-2.2l.9-1.2zM152.6 664.5l1.2 1.1l.9 2.8l-1.6 1.1l-1.3-.7l-.6-2.5zM144.6 635.5l-.6-1.5l1.2-1.1l1.7 1.0l0 2.1zM183.4 661.0l-2.5 1.7l-1.4-1.3l0-2.5l2.8-.4zM197.0 665.8l.1 1.7l-1.3 1.9l-3.1-.4l.2-1.8l.3-1.2zM199.5 645.1l-2.4-2.2l-.4-1.3l3.1-1.6l2.7 .4l.4 2.3l-.2 1.3zM177.5 653.9l.9 4.1l-1.4 4.0l-1.6-.8l-1.3-1.1l-1.0-2.5l1.8-3.9zM161.2 637.3l-2.0-.8l-1.0-2.7l1.6-1.2l3.5 1.4l-.8 1.8zM174.7 655.6l-1.8 1.1l-.9-2.4l-.2-2.2l3.2 .8l1.0 1.7zM203.3 630.2l-1.6 .1l-1.5-3.8l.7-2.2l1.9 .6zM204.8 634.7l-3.3 3.0l-3.3-2.5l-.3-2.6l3.7-1.0zM207.1 628.3l-2.7 2.5l-1.8-1.6l-2.2-2.3l1.7-2.0l4.0 .9zM141.9 617.6l1.1-.6l.6 1.8l-.4 2.5l-1.1 .5l-.9-1.1l.1-2.1zM168.0 635.7l-4.2 1.6l-.6-2.5l1.5-2.3l2.2-.2l2.1 .3zM140.1 661.9l-.3-2.0l3.6-.9l2.4 1.8l-.4 2.0l-3.1 1.5zM169.2 660.8l5.8-1.3l1.7 3.5l-4.3 2.0l-2.6 .2zM164.4 628.8l-.4 2.2l-2.6 2.7l-1.9-.4l-2.0-3.3l.7-1.6l3.2-.6zM183.5 628.3l1.4 2.3l.6 3.2l-3.2 0l-2.3-3.0zM168.5 632.0l1.5-1.2l2.9-.6l1.8 1.2l-.8 1.9l-2.0 .1l-2.0 .5zM184.9 650.1l2.8-.7l1.7 .1l2.8 4.0l-2.1 1.4l-4.6-.7zM202.9 642.2l1.3 .5l1.4 2.1l-.9 2.0l-1.4 2.3l-1.2-1.6l-1.0-2.0zM179.3 648.2l-1.1 3.1l-2.7-2.0l-1.6-2.7l3.3-1.8zM188.9 656.0l2.4 1.4l.2 1.0l-3.0 1.1l-2.3-.2l-.2-1.8l.6-1.6zM161.6 649.6l-2.5 1.7l-1.7-1.3l.1-2.7l2.7-.2l1.7 .5zM168.1 620.0l1.1-.9l1.1-1.5l1.7 1.5l.5 .9l-.4 .9l-2.2 0zM147.2 646.9l.6-3.6l2.2 .3l2.4 1.5l1.4 2.3l-3.5 .7l-1.7-.2zM174.2 658.4l2.1-1.4l1.2 2.4l.4 1.9l-1.3 .5l-2.2 .4l.5-2.5zM188.1 655.8l1.5 .5l.3 2.1l-1.4 1.6l-1.1-1.1l-1.6-.9l.5-2.2zM171.9 662.8l3.9 .1l-1.5 2.0l-1.9 .8l-2.8-1.3zM167.5 668.8l-1.3-.4l-.4-3.8l-.4-1.8l1.8-.1l1.4 1.7l-.2 2.2zM175.6 620.2l-.6 1.5l-1.8 1.6l-1.3-.5l-1.6-2.2l.7-1.7l2.7 .4zM199.0 632.3l2.9-.8l1.6 2.6l-1.0 1.8l-2.3 3.0l-2.4-2.8zM169.4 646.8l-.9 3.1l-2.1-1.5l-2.3-.8l.5-2.7l3.4-1.4l.9 2.2zM161.1 627.8l1.4 0l.2 2.7l-1.8 1.3l-1.6-1.3l.6-1.5zM145.2 626.4l-1.7 2.8l-3.2-1.7l-1.2-2.6l2.8-.8l3.0-.2zM146.6 638.5l.5-1.6l2.5-.3l.5 2.1l.1 1.9l-2.2 0l-1.5-1.0zM164.7 621.0l-2.7 .4l.9-4.6l2.5-1.0l.9 2.0l.1 2.9zM154.1 626.9l-.4-1.9l.3-2.5l2.0-1.8l2.3 2.1l-2.1 2.1zM182.4 646.2l-.4 2.7l-4.6-1.3l1.3-2.5l2.0-.7zM193.2 655.8l2.1-1.8l2.3-1.4l1.8 3.2l-2.1 1.5l-2.3 2.0zM155.3 637.8l1.6-2.0l1.8-.1l0 4.4l-1.0 1.5l-2.2-.2l-1.7-.8zM171.2 632.3l1.4-1.2l1.5 2.1l-.2 1.6l-1.3 1.5l-1.7 1.0l-1.4-2.1zM186.5 640.3l2.3 .6l1.5 1.7l-1.1 2.0l-2.1-.7l-2.5-.3l.1-1.9zM145.6 646.6l-.2-2.4l-.1-3.8l2.5 .1l1.8 2.0l-2.1 3.5zM141.4 663.3l.5-1.5l2.4-1.2l.8 1.0l1.1 1.1l-2.7 1.3zM155.3 641.4l1.2 2.5l-.8 4.5l-2.4-1.2l-.7-1.8l1.4-3.5zM155.7 671.7l-2.5-1.7l-.5-2.1l1.4-3.2l1.3-.4l.9 3.4zM143.4 650.8l2.0-1.6l1.5 1.1l.3 2.0l-1.2 2.6l-.9 .1l-2.1-1.2zM148.1 643.2l2.5-.1l1.5 1.2l-.6 1.0l-2.1 .7l-1.0-1.0zM144.1 624.6l-2.0 .3l-.3-2.2l1.1-2.7l.8 1.7zM201.1 655.0l-3.2 1.0l-.7-3.2l2.3-3.7l1.8 .1l1.2 3.9zM154.2 636.5l-1.9 1.1l-1.5-2.3l1.6-2.2l1.8 1.6zM187.6 668.1l-.9-1.8l-.4-2.1l2.5-.4l2.5 .7l-.4 1.8l-1.1 2.5zM151.8 638.5l.9-1.2l1.0 .1l.7 2.0l-.4 3.4l-1.8-.6l-.2-1.6zM199.8 643.5l1.1 1.7l-2.9 1.5l-2.3-2.3l2.5-1.7zM183.1 634.5l-.9-1.4l1.3-1.4l1.6 .6l-.3 2.8zM182.7 658.5l-2.4 2.2l-1.4-2.3l.5-2.1l1.0-4.4l.9 1.3l1.0 1.6zM182.9 655.9l-.6-2.9l-.4-3.2l3.9 .8l-.1 3.8zM148.4 631.7l-.8 1.6l-2.0-.1l-.6-1.3l.3-1.9l2.0-.1l1.0 .7zM147.4 631.7l-3.1-.8l.5-1.3l2.7-.4l.6 1.4zM175.2 628.9l1.3 .2l1.8 1.0l-1.5 2.9l-1.6 0l-.9-1.0zM146.1 649.9l-.8-1.2l1.0-2.6l.6 1.2l1.4 .2l-1.0 2.2l-1.0 2.3zM152.7 663.7l-1.7 2.7l-2.0 .9l-1.5-3.6l2.5-1.9zM199.6 650.1l.3-1.3l1.7-.6l1.6 2.9l-1.6 4.1l-1.5-.4l-.7-2.0zM178.1 650.3l-1.3-.7l.9-1.4l.9 .3l3.1 .1l.3 1.2l-1.9 1.5zM182.8 627.0l.1-4.0l2.4-.1l.4 4.2l-1.3 1.0zM187.4 661.8l-.6-2.9l.2-3.3l2.5 1.2l1.7 1.8l-.8 3.6zM201.5 654.7l-1.2-1.4l2.8-2.2l2.1-.2l2.1 1.8l-2.2 1.4l-2.5 .7zM147.7 663.6l-2.8 .7l-.5-2.4l1.1-1.6l2.8 2.0zM157.5 636.1l2.3 3.7l-1.6 1.9l-1.5 2.6l-1.3-2.7l.2-5.6zM156.0 620.1l1.8 0l.3 1.8l-1.9 1.6l-1.9-2.0zM204.8 667.0l-.4 2.7l-2.3-.6l.5-3.1l1.9-1.8zM145.1 624.8l-1.7 1.1l-1.9-.4l-.6-2.1l1.0-1.3l1.5 .1l2.0 1.5zM159.1 653.2l2.0 2.1l-1.4 2.6l-2.9-.5l.1-2.8zM204.2 655.5l-3.7 1.9l-1.7 .3l-1.8-2.4l.8-2.1l3.6-1.4l1.0 1.1zM150.6 663.2l2.2 .2l.7 4.1l-1.8 .1l-2.8-.6l.7-2.2zM137.7 653.9l.2-1.1l3.5-.5l-.2 1.2l.1 2.1l-2.4 .4l-1.1-1.0zM188.5 660.5l1.6 2.4l-.1 3.8l-2.7-.5l-.8-3.5zM181.8 622.5l1.4 1.1l-2.0 1.7l-1.8-.8l-.8-.7l1.1-1.6zM160.3 625.7l1.2 1.2l-2.3 1.9l-1.7-.8l-.4-1.0l.3-.9zM152.4 619.8l0 3.1l-2.0 2.2l-3.0-1.7l1.2-4.3zM163.5 667.7l.7-1.8l.1-1.6l2.1-.2l.3 2.2l-.5 1.0l-.8 1.6zM140.9 630.6l-2.2-1.1l-.2-.8l.3-2.0l2.1-.7l1.4 1.3l-.2 1.8zM163.4 659.0l2.6 1.4l-.9 3.5l-3.5-.1l-1.5-1.6l-.3-2.8zM167.7 637.4l.6-1.1l1.7 3.3l-1.7 1.3l-1.0 .6l-.3-2.4zM160.3 643.4l2.5 1.2l-.5 1.6l-2.3 1.3l-1.8-2.0l.2-2.5zM153.4 633.9l-.6 2.4l-3.2-.3l-2.9-1.8l2.9-2.9l2.2 .6zM184.0 633.0l-1.5 1.5l-.9-5.4l2.2-.6l2.1 1.0zM146.1 663.3l1.3-.6l1.7-1.9l1.2 2.4l-.8 1.2l-.9 2.7l-1.6-1.7zM176.1 626.3l1.6 .1l1.9 1.8l-3.1 .4l-2.6-.5zM138.4 631.3l.9-3.1l3.1-1.1l1.2 3.3l-2.0 4.7l-2.1-.2zM195.3 653.7l-1.2-2.3l3.7-.7l3.0 1.2l1.2 2.5zM145.2 630.5l-.8 .7l-.8 1.1l-2.3-.9l.6-1.6l1.6-1.7l1.2 1.1zM151.7 645.6l1.2 2.3l-4.7 .2l.2-2.8l2.1-.8zM197.5 668.1l-.5 1.0l-1.3 2.1l-.9-2.2l.5-3.7l1.4 .1l.5 .9zM171.0 647.3l3.1 1.1l2.3 1.9l-2.4 1.7l-3.7-1.3l-1.6-1.5zM187.6 665.8l0-1.8l.3-2.1l3.9 .8l1.7 2.9l-4.0 .7zM181.5 628.6l-2.5-.4l-2.0-2.8l3.2-2.6l.8-.6l2.8 1.3l-.2 5.1zM203.3 662.3l-.7 2.3l-1.5 .7l-.6-2.1l.5-1.5l1.4-.1zM156.9 622.4l2.0-.3l2.5 2.6l-3.1 3.2l-2.2-.5zM180.1 649.4l-.3 1.8l-1.9 .7l-.9-1.3l.7-2.7l.6-1.7l1.6 1.0zM162.9 637.1l-.9 2.8l-1.8-.3l-3.2-.2l.6-2.4l1.2-1.1zM173.3 634.2l-.2 2.8l-.9 .8l-1.5 1.1l-.5-3.2l.9-.5l1.2-1.9zM169.1 644.1l-2.0 .6l-2.0 .2l1.3-2.5l.9-1.5l1.7 2.2zM177.5 655.7l.3-2.4l3.1-2.2l2.5 .8l-.4 2.9l-1.3 1.4zM145.3 643.6l-1.7-2.1l1.0-1.7l4.5-.1l2.2 1.8l-1.9 2.2l-2.5 .4zM171.4 622.3l-3.2 .3l-1.5-.3l.4-2.0l1.5-1.5l2.2-.2l1.2 2.4zM173.0 659.5l2.8 1.3l-.9 2.8l-2.6 .4l-2.0-.1l-.7-1.6l-.2-1.8zM170.3 626.9l-1.4-2.1l.6-2.9l2.5 1.8l0 1.7zM167.9 622.7l-1.3 2.4l-2.0-1.0l.3-2.4l.1-2.9l2.7 .7l.3 2.0zM161.8 657.1l1.8 2.1l-3.1 1.0l-2.4-1.2l.2-1.8zM175.8 661.5l1.3-2.4l1.8-.9l2.5 1.2l.5 1.8l-1.1 1.8l-3.2 .5zM147.4 640.0l2.2-.7l.9 1.2l-1.3 2.0l-1.0-.1l-1.0-.8zM202.8 663.7l-3.0-1.7l1.5-1.0l.8-1.5l2.6-.1l1.8 2.8l-2.5 .7zM177.0 631.9l-2.1 2.0l-1.4-2.7l2.0-2.5l2.1 .9zM149.3 640.8l0 3.0l-1.3 .7l-1.6-.6l-1.2-2.2l1.1-1.4zM150.8 631.7l1.9-.9l1.4 .6l.4 1.2l-1.3 1.2l-2.0-.5zM165.3 634.4l4.1 .6l-1.3 2.4l-3.4 .4l-.9-1.8zM173.3 626.2l2.1 1.4l-1.6 2.2l-1.2 .8l-1.9-1.3l-.8-2.7l2.0-1.0zM152.4 655.7l3.6-.7l2.3 1.8l-1.0 2.4l-2.2-.3l-2.5 .2l-1.6-1.8zM141.8 646.4l-.6 2.4l-2.5 1.5l-.1-2.3l.5-4.0l1.5 1.1zM201.7 649.6l.8 1.6l-.7 1.7l-1.1 .1l-2.8-.3l.8-1.8l1.0-1.6zM166.0 629.7l1.3-.9l3.4 .2l.5 3.0l-3.7 2.4l-2.3-1.6l-1.8-1.3zM188.9 651.7l.3 2.5l-2.8 .6l-2.6-1.2l3.3-2.5zM180.5 631.9l-.4 2.4l-3.7-1.8l-.6-2.6l4.4-.5zM141.7 625.8l-.9 2.5l-1.6-2.8l.5-3.6l1.7-.1zM142.1 626.2l3.0-3.1l4.1 .4l.7 2.6l-2.0 1.0l-2.2 2.1l-2.3-1.1zM193.4 634.4l-.6-2.1l2.7 .4l1.4 .8l-.6 1.6l-1.3 1.6zM200.5 638.7l-3.1-2.6l2.2-2.5l3.6-.8l2.2 2.8l-2.3 2.8zM175.2 622.7l1.1 .7l.5 1.6l-1.8 1.1l-2.7-1.1l.5-2.0zM202.7 661.1l-2.9 .8l-4.1-2.7l3.8-1.2l3.8-.9zM152.0 660.4l.7-1.8l1.7 .9l.9 .8l-.8 1.1l-1.8 1.9l-.8-1.7zM142.5 656.2l-1.4-4.1l2.7-1.0l1.4-1.2l2.0 4.5l-.9 2.4zM157.7 639.2l-2.3-.1l-.7-3.7l3.1 .1l2.8 0l.4 1.8l-.7 2.0zM193.6 670.5l-.8-1.6l-1.7-3.4l.3-1.8l2.6-1.8l2.4 2.9l-1.5 2.4zM151.7 644.1l-2.8 0l-.4-2.4l.4-3.1l2.0-.3l3.1 1.9l-1.3 2.7zM163.6 654.3l.5-1.4l3.6 .6l-.3 1.8l-1.8 1.2l-1.6-.8zM197.2 623.3l1.3 0l1.6 1.7l-1.8 2.3l-1.3 1.0l-.6-2.3zM175.7 656.6l2.0 1.5l-.4 2.0l-1.4 1.2l-1.1-1.5l-1.1-.5l.3-2.2zM190.9 663.9l-1.5-1.7l.2-4.3l2.7-2.0l1.6 2.1l-.2 3.4zM194.7 628.1l1.5 .8l1.1 1.2l.1 2.3l-.2 1.0l-2.4 .9l-1.4-2.5zM193.7 637.3l-1.2 .6l-1.6-2.1l1.9-1.4l1.2 1.1zM143.8 655.7l3.2 1.0l.9 .5l-.2 2.9l-1.3 .7l-2.6-.7l-1.6-1.3zM185.7 642.8l1.3 1.5l1.0 1.8l-1.3 2.4l-1.8-2.7l-.2-1.9zM178.9 637.7l.9 2.0l-.2 4.4l-2.0-.9l-1.4-1.2l.4-2.3l.8-1.1zM140.2 619.8l1.5 .7l2.5 2.0l-2.2 2.1l-1.7-1.0l-1.0-1.1zM166.2 636.4l3.1-.4l1.4 2.1l-2.6 1.8l-2.3-1.4zM177.7 657.2l-1.9 1.2l-2.1-1.1l2.1-2.5l1.6 1.3z" fill="#5b6ec4" opacity="0.78"/><path d="M198.5 660.7l1.4-1.1l1.0 .4l-.3 .8l-1.0 .5zM179.5 666.7l-.8-1.0l1.1-1.4l.7 .5l.4 1.4zM148.5 658.0l-.4 .6l-.9-.6l0-.8l1.1 0zM154.0 667.2l.2 1.0l-1.9-.3l.1-1.1l.9-.5zM146.8 634.7l-.8 .3l-.9-.6l.5-1.5l.8 0zM181.4 661.6l-.9-.5l-.1-.6l.4-.6l.9 .8zM196.0 668.3l-.8 .8l-.8-.9l.1-1.1l1.5 .2zM201.4 641.5l.5 1.3l-1.2 .5l-1.0 0l.4-1.4zM174.8 659.1l-.3-.6l1.0-.5l1.0 .3l-.7 1.1zM160.8 635.4l1.1 .7l-.5 .6l-1.5-.2l-.1-.6zM175.1 655.0l-1.0 .8l-.9-.6l-.5-1.1l1.2-.8zM201.6 626.1l.8 1.8l-.8 .7l-.9-1.0l0-.9zM202.0 635.1l-.7 .7l-1.3-1.7l.9-.8l1.1 .1zM204.9 629.3l-1.6 .7l-1.4-1.3l1.2-1.5l2.3 .7zM141.9 619.1l.1-.9l1.2-.2l.4 1.3l-.9 0zM166.4 635.8l-1.4-1.5l.6-1.1l1.1 0l.3 1.0zM143.7 659.4l.6 1.4l-.3 1.8l-1.0-1.2l-.1-1.4zM172.3 663.5l-1.5-.2l.1-1.3l2.1-.2l.4 .9zM162.9 629.6l.9 1.3l-1.7 1.6l-1.6-.9l-.7-1.4zM183.5 631.2l-.1 1.0l-.3 .1l-.7-.5l.3-1.1zM169.9 633.3l.4-1.8l1.5 .2l1.4 1.2l-1.0 .8zM189.0 650.2l1.1 1.2l-.6 1.2l-1.0-.2l-.2-1.2zM203.5 646.2l0-2.1l.7-.8l.6 2.0l-.7 1.8zM176.7 646.4l.8 .7l.4 1.5l-1.1 .2l-.4-1.3zM187.6 656.1l1.6-.1l-.3 1.5l-.9 .2l-1.3-1.1zM158.7 648.7l.3-1.6l1.7 .2l.1 1.8l-1.2 1.0zM170.7 619.8l-.5-.9l.9-.8l1.2 1.0l-.4 1.1zM149.6 646.0l.6-.9l.6 0l.4 1.6l-1.2 .1zM176.2 660.2l-.1-.7l.4-.7l1.3 .3l-.3 1.0zM187.7 658.7l-.6-1.8l1.3-.7l.6 1.4l-.8 1.2zM173.9 664.3l-1.4 .5l-.5-.6l.3-1.4l1.0 .3zM166.4 664.8l.8-.3l1.7 .8l-2.0 .7l-1.4 0zM174.1 620.5l-.4 .4l-1.4 .1l-.5-1.1l1.7-.4zM201.7 634.2l-.1 2.2l-1.1-.7l-.4-1.7l1.3-1.0zM166.1 645.6l2.6 .5l.5 2.0l-1.9-.3l-1.6-.6zM160.3 628.8l1.0-.7l.2 .9l-.3 1.7l-.7-.3zM142.3 625.5l1.8-.3l1.1 .6l-.8 .8l-1.3-.2zM149.3 638.0l.3 1.0l-.5 .8l-.6-.7l0-1.8zM166.1 619.6l-1.0 1.4l-1.2-.7l.1-1.7l1.6 0zM155.3 622.1l.3 1.0l-.6 1.0l-1.0 .4l.1-1.6zM179.7 647.9l-1.3-1.5l.6-1.4l1.2-.1l.5 2.1zM195.4 657.6l-1.4-1.2l1.9-.5l1.7-.2l0 1.6zM157.1 637.3l1.0 1.3l-.9 1.1l-1.6 .2l-.3-1.9zM171.5 634.1l.1-1.2l1.0-.1l-.1 1.0l-.3 1.5zM187.4 643.4l-1.1-.7l.7-.7l1.1 .1l.5 1.0zM146.4 645.1l-.4-1.1l1.3-.7l.5 .8l-.1 1.3zM143.1 662.7l-.2-1.0l.9-.9l.4 1.0l-.3 .9zM153.7 646.0l-.1-3.0l1.1-1.3l.5 2.3l-.1 1.7zM154.2 667.1l1.3 .4l-.6 1.8l-1.7-.5l-.1-1.3zM144.7 651.2l.6-.2l.6 .9l-.7 1.2l-.5-1.2zM149.1 645.5l-.2-1.6l.9-.9l.3 1.2l-.2 1.2zM142.9 623.5l-.8-.8l.8-.7l1.0 0l.3 .9zM201.3 654.2l-.8 .5l-.6-1.5l.5-1.5l1.2 .4zM153.0 636.5l-1.0 .1l-1.0-.7l.9-1.3l1.1 .5zM189.7 664.7l.7 1.1l-1.3 1.0l-1.7-.2l1.1-2.6zM152.6 639.1l1.5-.1l-.1 .7l-.6 .8l-1.3-.5zM198.0 644.9l.5-.5l1.5 .3l-.3 1.0l-1.4 .2zM183.4 632.6l.9 .3l.5 .6l-.4 1.1l-.8-.7zM179.8 657.1l.7-1.6l1.0 .3l.8 1.3l-1.4 .5zM183.4 652.4l1.6 .6l-.3 1.7l-1.8-.6l-1.0-1.0zM146.2 630.7l.9 0l.3 .8l-.8 .8l-.7-1.0zM146.1 631.0l-.6-.9l.1-.9l.8-.7l.6 1.1zM175.7 630.0l1.5-.1l.3 1.4l-1.4 .2l-1.2-.8zM145.6 648.2l.9-.2l.2 .8l-.7 .4l-.8-.2zM150.1 665.6l-1.4-.5l-.2-.8l1.5-1.2l1.6 1.7zM200.0 651.7l.8-1.9l1.0 .4l-.1 2.6l-.9-.3zM179.7 650.7l-1.0-.2l.1-1.5l.8-.2l.4 1.0zM182.7 625.9l.9-.8l1.1 .2l.7 1.6l-2.6 .3zM189.8 659.6l-1.4 .5l0-1.0l.3-1.0l1.5 .7zM203.4 652.7l.9 .4l-.2 1.1l-1.1 .7l-.5-1.8zM146.9 660.8l.5 .9l-.2 1.6l-.6 0l-.5-1.2zM157.9 640.3l-1.0 .4l-.3-.6l.5-1.1l1.2 .5zM157.1 620.4l.3 .7l-.5 .5l-1.1 .2l.2-1.1zM202.2 667.5l.7-.6l1.3 .5l-.9 1.6l-1.4-.6zM144.3 623.8l.2 1.7l-1.2-.3l-.9-.9l.6-1.3zM160.0 655.4l.6 .8l-1.0 1.4l-.5-1.6l.3-.7zM199.3 654.8l.2-.7l1.1-.1l.1 .8l-.6 .7zM149.6 665.7l.4-1.0l1.0 .4l.1 .6l-.5 .6zM140.0 654.4l-1.1 .4l0-1.0l.5-1.2l1.2 .8zM188.9 662.7l1.2 .8l-.3 1.8l-1.2 0l-.3-1.2zM181.6 623.6l0 1.0l-1.4 .4l-.7-.4l.2-1.3zM158.1 627.9l-.2-.7l.5-.2l.5 .4l.2 .8zM149.4 620.6l1.8-.3l1.6 1.3l-1.2 1.0l-1.4-.3zM164.3 667.5l.2-1.0l.6-.5l1.2 1.2l-.8 .4zM140.0 628.9l.6-.4l.7 .1l.4 .7l-.8 .4zM162.1 663.1l-.9-2.2l1.6-.2l1.3 .6l-.1 1.9zM167.5 638.2l1.4 0l0 1.2l-1.4 .9l-1.0-1.0zM161.2 645.5l-.9 .6l-1.1-1.1l1.1-.9l1.0 .5zM150.6 633.8l.6 .6l0 1.3l-1.2-.7l-.5-1.4zM183.2 630.8l1.2-.7l.9 .9l-.9 1.5l-1.4-.5zM148.1 663.6l1.1-.7l.6 .9l-.1 .7l-1.2-.1zM177.2 627.1l-.5 1.6l-.7-1.3l-.3-1.4l1.1 .3zM140.8 632.6l-1.2-1.0l.6-1.6l1.0 0l.8 1.7zM197.5 652.9l.4-2.9l1.4 .7l0 2.4l-1.0 1.5zM142.6 629.5l.7-.5l.5 .6l-.4 1.0l-.4-.2zM149.9 645.8l1.4-.4l.1 1.1l-.8 .9l-.9-.7zM196.5 665.5l.4 1.7l-.5 1.0l-.9-.7l.3-2.3zM173.4 650.0l-.8 .9l-1.3 .5l-1.1-1.6l2.2-.7zM189.4 663.8l.5 .4l-.2 1.7l-.9-.5l-.5-1.2zM180.3 625.1l.8 1.0l.2 1.1l-1.2-.1l-1.1-.9zM202.6 662.5l-.7 .6l-.7-.3l.5-.8l.8-.2zM159.1 625.7l-1.0-1.2l-.1-1.4l.9-1.0l.4 2.0zM177.7 648.7l.7-.6l.5 .4l-.4 1.5l-.6-.2zM159.9 637.0l.7 1.1l-.4 1.1l-1.0-.4l0-1.4zM173.4 636.1l-1.5 .5l-.3-.9l.4-.6l1.2-.7zM167.1 645.6l-1.0-1.0l.6-1.7l.6-.4l.4 2.3zM182.6 653.1l.4 1.9l-2.0-.4l-1.7-1.6l2.2-1.2zM145.7 642.6l.3-1.3l1.9 .1l.9 1.1l-1.8 .6zM170.2 620.1l-.8 1.7l-1.6 .5l.5-1.9l.6-.4zM171.0 661.1l1.7 .4l-.3 1.9l-1.6 .6l-1.1-1.6zM171.2 624.1l1.1 .5l-.7 .6l-1.4-.2l0-.9zM165.2 621.3l1.0-.6l.8 1.2l-.4 .7l-2.1 0zM160.1 659.1l-.6-.8l.2-1.1l.9 .8l-.1 .7zM178.3 661.0l-.2-.9l.8-.2l1.4 .5l-.8 .6zM149.2 641.1l.1 1.3l-.6-.1l-.4-1.2l.3-1.0zM201.7 661.5l.1-1.4l.8 .4l.6 1.7l-.7 .7zM175.3 630.9l.6-.8l.9 1.5l-.6 1.1l-.6-.3zM147.5 644.2l-1.0-.2l-.2-1.0l1.3-.6l.4 1.0zM153.4 632.4l0 .9l-1.0-.2l-.4-.5l.3-.5zM165.0 637.2l.5-.9l1.0-.8l1.6 .8l-1.3 .7zM173.3 628.8l-.7 1.0l-.8-1.9l.8-1.5l1.1 .6zM154.3 659.6l-.4-2.3l.4-1.8l.7 .9l-.1 1.9zM141.2 647.3l-.8 1.6l-1.1-.4l.1-3.0l1.5 .3zM200.7 651.5l-1.4 1.0l-.8-.4l.5-1.4l1.4-.2zM166.5 631.7l-1.1-1.1l1.1-.9l1.2 .3l0 1.4zM187.0 651.9l1.2 0l1.1 .9l-1.5 .9l-1.1-.7zM179.7 629.3l.1 2.9l-1.6 1.6l-.8-2.9l.4-1.3zM139.7 623.1l1.4 .7l-.2 1.5l-1.1 .4l-.9-1.2zM147.6 626.4l-2.0 .1l-1.6-1.1l2.1-.4l1.9 .5zM194.2 634.1l1.5-.3l.5 1.3l-1.1 .5l-.9-.9zM200.4 635.9l.6-1.9l1.4 .9l.2 1.5l-1.3 1.1zM174.4 623.1l.8-1.2l.5 2.0l-.4 .7l-.9 .2zM199.1 657.2l2.1 .5l-.6 3.2l-1.3-.7l-1.1-.9zM153.5 661.5l-.5-.2l-.3-1.0l.9 .2l.6 .1zM144.6 652.9l.1 1.2l-1.0 .4l-.9-1.2l.8-.7zM158.8 638.2l-1.8-.8l.8-1.5l1.5-.2l.2 1.4zM193.4 664.8l1.2 1.3l-.1 2.1l-2.1-.9l0-1.6zM149.7 640.8l1.0-.2l1.1 .8l-.5 .7l-1.4-.3zM165.4 654.0l.8 .8l-.6 .9l-1.4-.3l.1-1.0zM197.7 625.1l1.1 1.2l-1.3 .3l-1.3-.1l.1-1.0zM175.9 659.3l-.7 .5l-.6-1.1l.7-.5l.8 .3zM192.5 659.2l-.4 2.0l-1.3-.6l.5-1.7l.7-1.7zM196.8 632.3l-1.2-.4l.3-1.2l.6-1.2l1.3 1.8zM192.0 636.4l0-.8l.6-.5l.3 1.3l-.7 .7zM144.6 658.1l.8-.7l.9 1.7l-.8 1.5l-1.1-.7zM186.6 644.8l-.4 1.5l-.6 .7l-.4-1.7l.4-1.3zM177.6 640.4l1.3 .2l.5 1.1l-1.7 .8l-1.5-1.1zM142.9 620.9l.1 2.1l-1.4 .1l-1.2-.7l.9-1.4zM167.3 637.0l.4 0l.4 .6l-.7 1.3l-.6-.9zM176.7 657.9l-1.3 .4l.2-1.5l1.2-.7l.2 1.1z" fill="#26359a" opacity="0.7"/></g><g filter="url(#bl)"><path d="M199.9 663.0l-1.0 -0.4M182.9 665.6l1.0 0.8M146.7 635.1l1.0 -1.3M195.6 667.5l-0.5 0.9M202.6 643.5l1.0 -0.9M173.0 656.6l0.2 -1.0M162.1 636.6l1.3 -0.2M172.2 656.4l0.6 -0.5M202.5 636.6l-0.3 -1.3M204.1 625.8l0.2 0.8M144.0 620.7l-0.5 -1.1M144.7 659.6l-0.7 -1.1M172.3 662.5l-0.8 -1.2M174.4 634.3l1.2 1.3M192.4 653.9l-0.2 0.6M179.7 650.7l-0.3 1.0M168.4 617.0l-0.9 0.2M185.3 658.3l0.1 -0.4M173.4 663.1l0.2 -0.7M165.7 667.7l0.9 0.5M139.6 629.4l0.7 0.2M157.3 620.8l-0.0 -0.9M181.8 649.3l0.2 -0.5M159.3 636.4l-0.4 1.4M187.6 640.6l-0.6 -1.1M150.6 640.7l0.6 -0.6M145.8 664.9l0.1 0.1M144.6 652.5l0.4 0.5M141.8 621.2l-1.4 1.1M191.0 667.1l-1.5 -1.0M150.1 636.8l-0.5 -0.0M198.0 646.8l1.3 0.7M186.4 636.7l-0.2 -0.2M181.1 651.7l1.4 -0.3M145.9 631.5l-0.0 -1.4M150.4 631.4l0.5 -0.6M174.5 629.0l0.4 -0.5M146.9 661.5l-0.1 -1.0M180.2 626.2l-0.6 -1.1M187.4 655.4l0.6 -1.2M199.8 655.3l0.8 1.4M156.3 637.6l0.3 -1.2M157.8 623.5l0.6 -0.1M205.2 668.4l-0.8 -0.4M141.0 622.7l-0.2 1.1M158.0 656.5l-0.9 -0.5M202.3 655.2l-0.0 0.3M150.1 662.5l1.1 0.6M138.3 653.0l1.1 0.8M189.5 667.0l0.1 -1.2M180.1 623.2l-0.7 0.6M159.7 625.5l1.2 1.4M147.6 624.1l-0.9 1.0M165.8 669.1l0.2 0.2M140.5 628.9l-1.4 -0.0M160.6 664.8l0.5 -0.2M165.1 635.5l-0.9 0.8M163.7 646.5l-0.4 1.1M154.7 632.6l1.1 -0.4M183.3 634.3l-0.9 -1.3M178.7 625.1l-1.0 0.7M141.6 631.2l-1.1 -0.9M200.9 652.1l0.5 1.4M144.4 629.4l-0.9 0.7M152.6 643.3l1.2 1.1M192.7 666.5l-0.5 0.7M175.6 648.9l-0.3 -0.1M158.1 623.7l0.8 0.7M179.0 649.2l-0.3 0.5M167.1 643.3l-1.1 -0.6M181.1 650.9l0.7 -0.5M148.2 644.5l0.0 -1.4M171.4 622.1l0.3 0.9M173.1 666.2l-0.6 0.7M163.3 621.3l1.3 -0.4M159.5 658.2l0.9 0.5M148.8 640.2l0.7 -1.1M176.1 633.7l-1.2 -0.9M145.5 641.2l-1.2 -0.2M168.3 637.1l1.1 0.3M156.3 657.7l1.2 1.4M141.7 648.1l-1.3 -0.6M198.6 654.9l1.3 0.4M189.7 656.4l1.2 -0.7M180.7 632.1l0.5 -0.2M144.8 623.0l-1.4 1.5M201.9 631.5l1.3 -0.5M179.0 620.8l-0.5 0.9M141.3 653.2l0.7 -1.4M162.5 637.9l-0.2 1.0M193.9 667.5l-0.9 0.6M152.4 645.3l1.1 1.3M161.9 652.3l0.2 -0.7M194.1 625.2l1.4 1.3M172.9 658.7l0.6 -0.6M198.8 631.6l-0.3 -0.4M196.0 634.9l-0.5 -0.8M144.8 660.1l1.3 1.2M175.1 641.9l-0.1 0.8M144.9 622.5l1.0 -0.9M176.8 656.6l0.4 -0.4" stroke="#0c0f25" stroke-width="0.95" stroke-linecap="round" opacity="0.9"/></g></svg>
<rect x="205" y="619" width="64.0" height="49.0" fill="#c9cbda"/><svg x="205" y="619" width="64.0" height="49.0" viewBox="205 619 64.0 49.0" overflow="hidden"><g filter="url(#bl)"><path d="M229.2 666.5h0M250.9 632.5h0M262.4 624.3h0M261.0 662.2h0M256.7 641.4h0M208.5 633.0h0M225.9 636.0h0M262.3 650.0h0M215.7 662.8h0M206.1 656.2h0M206.3 645.5h0M256.2 625.3h0M248.7 626.2h0M266.3 619.8h0M248.6 627.4h0M235.2 619.4h0M245.8 654.8h0M240.3 649.7h0M232.0 649.9h0M218.0 648.9h0M214.6 665.7h0M212.7 644.2h0M211.6 649.5h0M218.1 665.6h0M257.5 659.1h0M254.5 663.4h0M250.9 626.3h0M215.7 626.0h0M224.5 625.8h0M209.6 656.7h0M230.1 621.8h0M218.7 644.7h0M246.2 623.0h0M253.5 647.6h0M243.1 645.6h0M247.8 667.5h0M215.5 652.6h0M217.3 627.6h0M265.1 633.8h0M253.3 667.3h0M212.6 647.6h0M233.5 621.2h0M250.3 656.5h0M230.6 626.2h0M263.6 624.4h0M246.2 640.9h0M253.2 634.6h0M265.5 660.9h0M210.2 631.7h0M247.4 659.4h0M221.5 625.4h0M235.6 654.0h0M260.9 667.5h0M263.1 664.0h0M245.8 667.6h0M256.3 656.8h0M215.6 627.6h0M227.0 652.5h0M234.0 620.6h0M236.5 644.2h0M256.6 650.7h0M238.6 657.4h0M233.0 632.2h0M219.2 655.0h0M253.1 662.5h0M268.4 638.6h0M205.3 650.8h0M240.2 619.1h0M265.9 642.9h0M266.1 655.6h0M229.4 656.3h0M266.1 636.4h0M238.2 663.3h0M266.1 654.6h0M263.3 634.5h0M258.8 630.1h0M226.3 629.9h0M218.6 656.5h0M242.7 620.8h0M220.8 654.4h0M268.5 648.0h0M266.5 657.3h0M208.6 640.4h0M251.8 652.3h0M234.3 656.3h0M265.9 627.3h0M265.1 662.4h0M212.7 655.4h0M262.7 641.6h0M245.4 626.6h0M239.6 662.1h0M256.0 636.3h0M215.2 651.2h0M253.3 635.1h0M212.4 641.0h0M220.7 666.7h0M214.7 622.9h0M259.5 653.0h0M265.3 622.1h0M233.6 650.3h0M226.3 638.2h0M234.4 633.4h0M220.9 624.5h0M262.0 641.2h0M224.4 633.6h0M249.3 657.7h0M255.6 646.6h0M207.7 653.8h0M265.7 653.3h0M236.2 643.1h0M262.4 655.2h0M238.0 630.5h0M256.8 666.9h0M268.0 647.2h0M213.7 652.1h0M251.7 666.9h0M205.6 629.5h0M224.4 663.0h0M235.7 666.7h0M254.9 653.6h0M255.6 619.9h0M256.8 649.2h0M217.4 657.1h0M219.7 665.2h0M264.9 628.3h0M228.6 629.1h0M257.9 631.2h0M252.1 624.4h0M264.6 647.0h0M255.9 620.4h0M254.6 646.0h0M238.0 661.0h0M263.1 645.7h0M254.4 645.5h0M249.9 646.7h0M268.3 641.7h0M213.8 627.7h0M242.3 661.9h0M235.8 620.9h0M242.8 663.5h0M220.1 658.3h0M247.4 660.4h0M230.4 661.8h0M211.0 620.9h0M216.4 632.5h0M232.4 641.5h0M231.5 628.6h0M207.6 629.9h0M209.1 638.0h0M209.3 647.0h0M221.5 638.3h0M207.5 650.8h0M249.7 665.5h0M253.0 660.5h0M257.4 632.4h0M222.5 622.1h0M239.9 623.0h0M211.8 631.9h0M215.7 657.1h0M216.2 635.4h0M234.4 619.7h0M211.6 643.7h0M208.0 643.2h0M226.6 633.8h0M259.7 619.8h0M215.3 654.9h0M264.4 664.3h0M216.5 652.9h0M258.2 626.8h0M249.0 660.3h0M215.8 657.2h0M251.7 664.7h0M247.7 630.8h0M260.4 653.4h0M219.2 622.3h0M229.7 665.9h0M220.0 626.8h0M234.6 656.1h0M255.9 640.5h0M234.8 641.8h0M246.8 643.9h0M222.6 620.3h0M217.1 664.3h0M266.0 664.0h0M226.2 663.4h0M223.3 656.2h0M208.9 637.7h0M239.4 631.7h0M246.4 665.8h0M255.0 648.2h0M236.3 639.9h0M223.6 666.9h0M255.5 649.1h0M241.2 656.4h0M235.7 628.5h0M254.2 635.0h0M253.4 648.3h0M263.5 667.5h0M263.2 623.2h0M205.8 620.6h0M259.4 642.1h0M220.1 662.0h0M268.5 644.4h0M267.7 654.9h0M218.0 650.3h0M209.5 645.5h0M248.4 621.3h0M263.3 628.1h0M208.6 644.2h0M245.0 630.3h0M248.1 626.9h0M267.3 631.7h0M223.6 637.1h0M247.2 636.2h0M267.0 656.7h0M263.4 665.4h0M233.4 663.8h0M250.4 660.0h0M223.6 658.1h0M257.3 654.7h0M234.4 659.0h0M234.2 620.2h0M264.2 646.3h0M233.8 656.8h0M252.7 625.2h0M205.4 656.8h0M212.7 642.1h0M244.0 645.1h0M215.6 641.2h0M210.5 646.5h0M225.3 654.3h0M259.8 660.1h0M218.1 620.5h0M236.5 661.1h0M236.6 620.4h0M209.5 643.5h0M209.9 665.4h0M265.3 663.0h0M218.9 658.1h0M266.7 657.6h0M212.1 640.3h0M209.8 627.5h0M262.8 627.4h0M250.4 656.0h0M252.1 648.8h0M217.3 639.5h0M256.0 656.9h0M260.4 633.2h0M236.2 628.0h0M239.6 662.3h0M237.0 620.4h0M262.3 661.5h0M227.7 653.2h0M208.7 632.0h0M216.9 646.6h0M209.5 626.7h0M253.8 624.8h0M223.7 663.8h0M230.4 639.5h0M263.3 651.4h0M237.8 620.3h0M267.2 643.0h0M243.2 632.1h0M244.4 629.6h0M268.5 636.2h0M218.6 639.4h0M262.0 645.2h0M256.4 645.0h0M224.4 651.0h0M250.6 655.1h0M236.7 649.1h0M268.9 623.9h0M223.6 635.0h0M244.9 619.1h0M251.2 632.3h0M244.8 639.9h0M221.0 644.1h0M210.8 646.9h0M207.5 664.9h0M239.5 655.9h0M227.2 658.5h0M242.2 629.5h0M221.1 664.9h0M211.4 659.9h0M228.3 627.6h0M234.0 658.9h0M243.9 642.2h0M213.9 666.3h0M226.7 657.5h0M247.1 634.7h0M213.2 627.6h0M244.5 662.8h0M257.0 651.4h0M261.7 628.0h0M235.4 637.3h0M261.3 652.2h0M241.5 636.9h0M225.2 619.6h0M248.6 641.2h0M225.3 625.5h0" stroke="#2a2a40" stroke-width="0.65" stroke-linecap="round" opacity="0.42"/></g><g filter="url(#bl3)"><path d="M243.5 658.9l7.1-3.0l7.4 1.5l4.8 4.4l-4.9 1.9l-6.1 1.1l-4.8-.4zM270.9 668.3l-2.6 2.3l-2.1 1.8l-4.2 .4l-.3-5.4l3.1-3.3l1.5 .4zM237.9 659.0l-1.2 5.5l-6.4-1.4l-1.2-3.5l.1-7.6l4.0-1.8l5.0 6.0z" fill="#7f8fd0" opacity="0.45"/><path d="M221.0 643.3l-3.5-1.8l2.2-3.0l2.0-.3l1.9 2.4zM214.5 625.5l.4-3.2l1.9-2.8l.8 1.1l.9 2.8l-1.1 4.2zM217.9 650.3l1.5-1.9l1.9 2.3l-.8 2.1l-1.3 2.0l-1.0-1.5zM228.8 622.2l1.9-1.3l2.0-1.3l0 3.3l.3 2.5l-2.9 0l-1.0-.9zM249.0 634.8l1.1-1.4l1.9-1.0l2.2 2.0l-.3 1.9l-2.5 .9zM220.5 637.4l-1.7-.5l-.4-1.2l.6-2.7l2.6-.3l1.9 1.1l-.4 3.1zM236.0 646.5l-1.8-1.8l2.2-2.9l2.2 .6l1.6 .7l-1.0 3.4zM254.4 624.7l.4 3.2l-1.6 4.9l-1.0-3.3l-1.2-3.7zM252.4 653.1l-1.4-3.1l1.8-1.6l2.7 .9l.1 2.8zM263.2 649.7l-.9-2.2l1.5-1.3l3.1 .9l.6 2.6zM211.0 666.2l-1.4 .8l-1.4-.2l.1-2.2l2.0-1.3zM254.3 657.6l.6 3.2l-1.4 2.6l-2.5-2.6l1.3-3.6zM252.1 628.4l2.3 .1l-.5 2.0l-2.0 1.5l-1.6-1.7l-1.3-1.7l.6-.8zM256.4 620.7l2.1 3.2l1.3 3.7l-2.4 .1l-3.2-1.1l1.7-3.1zM237.7 638.0l-1.8-.8l-1.1-2.6l1.5-.7l2.3 .3zM219.8 625.2l.3 2.7l-3.1 .7l.2-2.8l1.5-2.3zM257.2 663.0l-.5 3.5l-5.8 .1l-.8-2.8l2.6-1.2zM259.3 661.9l1.1-1.1l.8 .2l.5 .4l0 2.1l-.4 1.9l-1.5-.3zM233.3 646.3l1.4-.1l.1 1.8l-1.3 1.9l-1.6-1.1zM253.3 622.9l-1.3-.5l1.0-1.8l2.1 0l1.0 1.2l-.6 1.1l-.3 1.4zM247.2 649.7l2.2-3.5l1.0 2.4l.7 2.6l-1.7 2.1l-1.4-2.0zM261.3 626.6l-1.5 .7l-1.4-1.3l.7-1.5l1.8-.5l1.3 .8l.9 1.2zM227.2 642.3l1.0 1.3l-1.4 3.4l-1.8-1.1l-2.0-.9l.1-1.5l.7-1.1zM207.9 627.2l-3.7 .9l-1.0-1.1l.6-3.0l2.4 1.1l1.5 .6zM260.6 623.2l.7 2.3l-1.2 .7l-1.8 .3l-.1-1.9l-.3-1.2l1.7-1.4zM249.9 631.0l-.1 2.2l-2.5 .4l-3.3-2.1l4.6-1.6zM213.5 665.1l2.2-.9l2.4 1.9l-2.6 1.0l-2.4-.2zM246.4 627.6l1.6 1.9l-1.2 1.8l-2.3 .7l-1.3-2.7zM232.1 649.3l-.9 1.1l-3.7 .2l-1.5-1.9l2.4-1.9l3.0-1.0l2.4 2.2zM235.0 651.6l0-2.5l2.8-1.5l1.0 2.2l2.2 1.0l-3.4 1.9l-1.1 1.2zM209.7 646.1l4.6-.7l2.3 .5l1.0 2.6l-4.8 1.0l-3.0-1.6zM216.4 644.6l1.2-3.5l1.2 .1l1.0 4.3l-2.4 1.0zM262.7 651.3l-3.5 .1l-1.1-2.1l1.7-1.6l3.0 1.1zM215.5 664.3l.6 3.7l-2.8 1.6l-3.5-1.8l1.9-2.8zM220.4 624.0l-2.7 .8l-.7-3.4l.9-2.1l1.8 1.6zM209.0 630.3l-1.2-1.0l.7-2.3l1.8 .6l1.3 .9l-1.7 2.6zM257.7 631.1l-2.0-1.9l.9-3.0l4.2 .7l-.4 2.5zM224.6 649.3l4.3 .3l.6 4.5l-3.0 1.8l-2.0-1.5zM224.3 628.1l-2.8 .2l-1.4-1.5l.3-1.7l2.7-.7l1.4 1.1zM228.3 625.3l-1.0-3.6l3.9 .1l1.8 3.2l-2.3 2.4zM208.4 655.7l-1.1-1.6l1.6-1.4l3.5 1.2l-2.1 1.6zM236.8 660.9l2.7 3.9l-3.2 2.3l-2.8-2.0l-.3-2.0zM214.4 634.7l1.2-2.2l1.0-.5l.4 1.4l0 1.9l-1.4 .5zM256.9 653.4l.8-3.2l3.1 1.4l.5 3.6l-3.5 1.2zM260.5 633.2l.5 3.0l-.1 3.1l-3.3-.6l.1-4.5l1.7-2.2zM245.7 644.3l-2.5 1.4l-1.5-1.1l-1.0-2.2l3.6-.5zM263.9 624.2l2.0-.4l1.1 1.9l0 3.5l-1.6 1.9l-2.1-2.8l-.5-3.4zM248.4 664.6l1.3-1.9l3.7 .1l1.1 1.6l-2.6 2.0l-1.4 .2zM223.5 641.8l-2.0 2.7l-4.0 1.0l.8-3.7l1.8-.6zM266.4 647.3l-.2 4.1l-1.4 .9l-1.1-.5l-.1-2.5l1.2-3.1zM266.1 625.2l1.9 1.8l-1.0 2.1l-1.6 0l-1.6-2.9zM238.8 625.1l.8 1.3l.3 2.7l-1.4 1.2l-1.8-.6l-.5-2.3l.5-1.4zM264.0 639.2l-2.9-.8l-3.5 0l.6-3.6l1.8-.8l2.5 0l1.0 1.3zM265.0 644.0l1.1-2.5l2.3-1.2l1.6 1.7l-2.1 2.7zM244.8 636.9l1.0 3.2l-2.5 1.3l-.6-2.2l-1.1-2.8l2.4-.5zM209.5 637.8l3.5 0l1.2 0l2.2 .5l.9 2.4l-2.9 1.3l-4.0-.9zM221.9 644.3l3.4 1.8l-1.7 2.9l-3.0 .8l.5-3.3zM259.1 661.0l-1.1-2.0l-.9-2.0l1.7-1.8l2.6 .5l-.5 2.5zM217.4 658.9l.5-1.5l2.3-.6l2.0 0l-.8 2.1l0 1.3l-2.3-.3zM236.4 639.8l-.7-4.3l2.1-.9l2.5 1.9l-.6 2.3l-1.2 2.7zM252.7 629.0l-1.5 2.4l-1.7-1.3l-1.1-2.6l1.2-2.4l1.9 .5l.4 2.3zM237.7 662.5l-1.0 3.0l-1.2-2.1l-.6-2.7l2.0-1.4zM207.3 632.9l2.0 3.2l-.8 1.6l-2.3 .9l-2.1-.7l-.8-2.3l1.2-2.2zM257.0 638.3l2.1-.4l3.7 0l-.4 1.7l-4.1 .8zM241.4 623.7l2.6-.8l1.4 2.4l-1.0 3.4l-1.6 .2l-1.7-.5zM255.6 638.3l1.0 1.3l-.8 1.3l-1.7 1.8l-2.8-2.8l1.7-2.1l1.2-1.1zM211.8 650.5l-1.0 .3l-2.5-.1l-1.1-1.4l3.5-1.2l1.9 1.3zM253.0 661.1l1.3 2.8l-3.3 1.5l-2.4-.8l-.2-1.5zM247.1 669.5l-2.0-1.5l2.3-1.9l1.6 0l1.0 2.0l-1.1 2.9zM242.1 636.7l-1.0-1.6l1.5-1.0l3.0-.1l-1.1 1.9zM258.3 663.5l1.6 2.5l-.4 2.5l-2.5-.8l-1.8-1.2l.1-3.2l2.2-.3zM226.5 622.3l-2.1-1.0l-.4-2.3l2.8-1.0l2.0 2.3zM256.9 626.4l-.7-2.4l0-2.7l1.9-1.7l2.6 1.9l-1.6 3.0zM225.8 635.2l-4.0 .1l-.8-4.6l3.6 0l1.7 .9zM219.9 631.9l-2.3 1.3l-2.9-1.6l2.3-2.3l2.5-2.1zM254.4 646.2l-2.6-1.9l1.2-1.8l3.1-.1l.3 2.2zM220.7 635.2l1.8-1.4l2.0 3.0l.2 2.6l-4.3 .5l-1.4-2.0l-1.9-1.7zM210.0 639.1l-.5 2.2l-1.9-.7l-.2-1.6l-.6-1.6l1.8-.6l.9 .2zM238.7 638.5l.7 1.3l-1.4 2.0l-2.0-.6l-1.0-1.4l.6-1.4zM227.5 636.5l.9 1.4l.5 .8l-1.1 .5l-1.8 .4l-.8-1.7l1.1-.8zM221.2 650.6l-.3 1.8l-1.5 .7l-1.0-1.3l-.1-1.9l.4-.5l1.3 .1zM213.6 626.4l-1.1-3.6l2.3-1.4l2.9 1.0l1.2 3.2l-3.7 1.5zM253.6 630.6l2.3-.1l.6 3.2l-1.8 2.3l-1.7-.5l-.6-2.4zM216.2 664.2l1.3 2.7l-2.7 .5l-2.0-1.3l1.2-3.7zM231.4 630.7l1.4 .7l.7 3.7l-2.5 1.9l-.7-3.9zM242.9 626.5l-2.3-2.2l-.6-2.1l1.9-2.0l3.0 .4l1.5 2.1l-.3 2.7zM209.7 622.5l-1.0 1.2l-1.2-.9l-.3-2.1l1.2-1.6l1.2 1.0l1.2 .2zM247.3 655.6l-2.1 1.2l-2.3-2.3l1.1-2.4l3.3 .8zM227.4 626.7l1.5 2.2l-2.9 .5l-2.3-1.0l1.7-1.3zM249.6 650.9l1.2-.9l1.6 .5l.1 3.6l-1.8-.1l-.7-1.7zM251.5 634.2l1.9 3.2l-1.2 1.0l-2.5 1.5l-1.5-3.3l1.1-1.8zM203.7 664.8l.5-3.3l2.3-.6l1.1 .5l1.2 3.0l-2.4 3.6l-1.6-2.2zM210.6 637.5l-2.0 1.7l-1.2-2.5l.2-3.3l3.7 1.2zM261.0 648.2l-3.3 .6l-.7-1.9l2.7-1.5l2.6 .7zM234.4 646.5l-1.9-1.5l-1.0-2.7l3.6-1.0l.1 2.7zM246.4 654.4l.5 3.6l-2.8-.5l-3.8-1.7l3.2-1.1zM209.9 656.5l-2.6-1.3l1.2-1.4l-.8-2.1l3.8 .5l1.3 1.0l.4 1.4zM232.0 624.0l1.7 1.4l.6 2.9l-2.4 0l-2.2 0l1.1-2.7zM234.9 649.0l1.7-1.5l3.3-.8l2.6 2.9l-4.2 1.0zM259.1 652.9l0 2.2l-1.9 .8l-1.7-.5l-.1-1.6l.6-.5l2.2-.9zM209.2 641.6l-.3 1.8l-3.6 1.4l-.6-1.2l-2.2-1.4l2.6-1.0l3.0-.4zM213.8 627.7l0 .9l-1.1 .9l-1.5 .1l-1.1-1.3l.1-1.4l3.0 0zM219.3 663.1l-1.2-3.0l3.0-.8l4.0 2.0l-1.0 1.7l-2.1 .9zM266.0 647.9l1.9-.2l1.2 2.8l-2.8 .8l-2.1-1.5zM220.8 618.2l1.2 1.4l0 3.0l-.7 2.3l-2.5-.3l-1.5-3.6l2.5-1.9zM209.0 628.1l-1.1-2.5l2.1-1.0l1.2 1.5l-1.0 1.5zM261.9 622.3l.2-3.6l3.0 0l1.5 2.0l-.1 1.4l-2.2 2.1zM234.9 646.2l-2.5-2.1l-2.4-.9l3.1-2.0l1.5-.8l2.1 1.4l-1.2 2.8zM224.1 619.2l2.0 1.8l1.1 2.6l-3.6 2.2l-2.5-1.8l.7-3.2l.2-2.5zM240.9 628.6l1.9-1.3l1.3 1.3l-.3 2.7l-1.2 1.6zM248.1 665.9l-.8-2.1l.4-1.2l.8-1.3l.9 .7l1.4 2.1l-.8 2.0zM227.6 636.5l-.7 1.1l-1.7 1.1l-.5-1.8l0-1.6l.8 0l1.4 .2zM241.3 619.5l1.7-1.4l1.2 .4l-.2 2.4l-1.4 2.9l-1.8-2.6zM219.2 669.2l-3.2 1.2l-2.5-2.4l.7-2.3l5.0 .4zM239.9 641.9l-.1 4.0l-3.9 .4l-1.1-3.7l1.5-2.4zM251.3 617.5l3.5 .7l-1.5 2.1l-2.0 1.2l-3.1-.1l-.2-3.0zM225.3 630.4l-.3 .7l-1.5 .9l-2.2-1.2l1.3-1.8l.7-1.8l2.1-.4zM227.5 646.7l-2.3 .4l-2.0-.8l-.4-1.0l3.1-.4zM224.3 662.0l-1.2 3.7l-4.1-1.0l.9-2.7l1.6-.5zM244.2 629.7l.6 2.9l-3.4 1.2l-1.6-3.6l2.3-2.0zM212.1 660.2l.1 1.3l-2.6 2.2l-1.0-1.4l-2.1-2.3l2.5-.4zM265.4 651.9l1.1-2.2l4.0-.5l.8 1.4l-.7 1.7l-3.5 .5zM227.4 652.8l-1.2 .3l-2.1-.3l1.0-2.1l2.8-.7l.7 1.3zM207.3 632.8l1.0 .4l-.3 4.3l-1.1-.6l-.8-.8l-.7-1.8l.6-2.1zM249.0 642.2l.7 2.4l-.3 3.1l-2.1-1.6l-1.4-1.1l1.2-1.3zM270.4 644.8l-1.2 1.8l-1.4 .4l-2.0-.8l.5-1.5l.9-.7l3.1-.5zM217.5 635.3l-4.4-.7l0-2.8l3.9-2.3l2.0 2.1zM251.3 642.4l1.2 1.7l0 3.3l-1.6 .1l-1.1-2.6zM243.6 641.5l-2.7-.6l-1.9-1.5l1.4-1.2l2.3 .4l2.1 .2zM221.9 622.2l1.9-2.0l1.3 3.7l-.7 2.8l-3.3-2.8zM271.1 638.4l-3.3 .7l-2.8-1.3l-.3-2.4l2.5-2.1l2.8 .9l.6 1.8zM264.4 665.1l.9 3.7l-2.2 .5l-2.3-3.6l2.7-1.1zM241.4 634.4l-1.7-2.0l2.1-.7l2.6-.7l1.3 1.2l0 1.5l-2.6 1.1zM251.0 659.3l-.5 4.4l-2.1-1.2l0-3.0l1.5-.1zM262.7 620.7l.4 .8l-.3 1.7l-2.6-.3l-.5-1.2l.2-1.4l1.3-.4zM264.1 653.7l1.9-1.2l.7 0l1.4 1.2l.6 1.5l-1.9 .5l-1.1 .5zM240.7 625.5l.2-3.1l2.2-3.6l1.8 1.7l-.4 3.7l-1.8 2.0zM242.4 648.0l-.9 1.3l-1.8-.1l0-3.4l1.4 .3zM220.3 660.9l-.1-4.5l3.2 2.0l1.4 1.9l-3.6 3.4zM219.8 658.3l.8 3.6l-1.1 2.3l-3.5 .4l-1.1-3.3l1.6-1.2l1.2-3.2zM207.7 630.7l.5 3.2l-1.5 1.2l-1.0-1.0l.3-1.4zM236.7 617.4l1.2 1.9l-1.0 3.0l-1.3 .8l-.9-3.2l.8-2.4zM215.7 639.2l2.6 .8l-.4 1.3l-2.4 .4l-1.0 .7l-1.3-1.5l1.1-.8zM255.7 656.2l2.6 .8l1.3 1.1l-2.1 2.2l-2.3-1.0l-.2-1.4zM211.7 652.4l-2.5-2.5l-.1-1.3l3.6 0l3.2 1.0l-2.1 1.3zM210.0 646.4l1.4-.1l1.5 .9l-1.3 4.0l-2.0-1.0l-.7-1.4zM259.2 634.6l-1.9-5.6l1.7-1.3l1.9 .8l-.4 3.1zM247.0 653.8l-1.2 1.7l-1.5 .8l-.8-4.2l1.6-2.1l1.8 2.0zM240.0 665.9l-3.1 .1l-1.7-.9l-.3-2.8l-.1-1.3l3.6 .7l1.8 .2zM245.3 657.6l1.0 1.3l.7 1.4l-.9 2.1l-1.0-.7l-1.1-1.1l.1-1.4z" fill="#5b6ec4" opacity="0.78"/><path d="M221.0 639.6l.8 .5l.5 1.0l-1.5 0l-.8-.4zM217.1 622.0l-.1 2.8l-1.0 .2l-1.0-1.6l.6-2.2zM219.7 652.0l-.1-.7l.7-.5l.6 .3l-.2 .8zM230.7 621.5l1.3 .9l-.4 .9l-.8 .2l-.4-.9zM251.8 635.6l-1.4-1.2l1.0-.9l.8 0l.4 1.0zM220.2 637.3l.1-1.8l.2-.6l.9 .4l.1 .9zM238.3 644.1l-1.6 .1l-.8-1.1l.9-.2l1.3 .6zM253.6 626.4l.8 .8l-.6 1.8l-.8 .2l-.1-1.3zM252.1 651.3l.1-2.1l.9-.5l.5 1.5l-.6 .9zM264.1 648.0l1.1 .2l.7 .5l-1.4 1.0l-.8-.6zM209.9 665.1l.4 1.5l-.7 .5l-.5 0l0-1.5zM254.2 660.8l-1.0 .2l-.9-.4l-.3-1.2l2.4 .3zM251.8 628.0l.6 1.7l-.7 .6l-.3-.1l-.3-1.1zM255.6 625.0l1.3-1.1l2.0-.2l-.3 2.1l-2.0 .4zM237.6 635.2l-.8 .6l-1.0-.1l-.6-.7l1.4-.3zM219.2 627.2l-1.5 .1l-.6-.8l1.5-.8l1.0 .7zM254.4 664.7l-1.9 .2l-1.2-.6l.7-1.0l1.7 .3zM260.8 661.3l.1 1.7l-.4 .2l-.4-.7l.1-1.2zM234.1 646.1l.1 1.0l-.8 1.1l-1.4-1.3l.6-.9zM254.6 621.9l-.1 .6l-1.0-.1l-.5-.6l1.0-.7zM248.8 648.8l1.0 .1l.9 1.4l-1.5 0l-.6-.6zM260.9 625.5l-1.1-.4l-.3-.8l1.0-.1l.7 .7zM225.3 645.2l-1.7 .3l-.6-1.1l1.1-.4l1.6-.1zM205.0 627.3l.2-1.6l1.1-.8l.4 1.3l-.4 1.3zM258.9 626.4l-.4-1.0l.1-.7l.8-.2l.3 1.1zM250.4 631.8l-1.3 .9l-1.8 .4l-.5-1.6l1.7-.3zM214.7 667.0l-.6-1.9l.7-.7l.7 .3l.2 1.3zM245.5 629.5l.7-.9l1.9 .3l-.8 1.5l-1.5 .4zM229.1 648.5l1.4-.3l.5 .8l-1.2 1.1l-.7-.7zM236.4 652.2l0-1.8l.9-.8l1.8 1.0l-.8 1.0zM211.3 647.7l1.8-1.4l1.1 1.0l.1 1.1l-1.7 .3zM216.8 643.9l.5-1.2l1.6 .1l1.1 1.1l-1.4 .3zM260.8 650.5l-.9-.7l.2-.9l.9-.5l.6 1.5zM213.5 667.2l-.9-.8l0-1.4l1.6-.3l.4 1.9zM218.9 623.3l-.9-.8l.3-1.0l.8 .2l.2 .5zM208.4 628.4l.9-.3l.9 .6l-.4 .6l-1.6 .3zM258.7 628.1l-.4 1.4l-1.2 0l-.6-1.4l1.6-1.0zM228.0 652.3l-.6 .9l-1.8 1.1l0-1.6l1.0-1.3zM222.9 627.4l-1.3 .7l-.7-.8l1.1-1.9l.7 .4zM231.7 625.4l-2.6-.2l-.4-1.5l2.0 0l1.6 .8zM210.0 654.5l-.4 .6l-1.1-.1l.3-1.3l1.1 .1zM236.0 665.5l-1.8-.9l.6-.8l1.4 0l1.2 .5zM216.4 633.5l.8 .7l-.5 .5l-.7 0l-.7-.6zM260.6 653.4l-1.0 .8l-1.0 0l-.6-1.5l.9-.3zM259.7 633.9l1.1 1.2l-.9 1.0l-.6-.2l-.4-1.0zM242.4 642.6l1.3 .1l-.3 2.0l-1.2-.4l-.9-.7zM264.7 625.7l1.5 .7l-.8 1.5l-1.5 .7l-.1-1.2zM253.1 664.8l-1.2 1.3l-.7-.4l0-1.3l1.3-.8zM219.3 642.8l.9-.6l1.4 .7l-1.3 1.2l-.7-.1zM265.1 649.9l.7 .4l-.5 1.0l-1.6-.3l-.4-1.1zM266.3 628.0l-1.3-.4l.3-1.1l1.5 .1l-.1 .9zM238.9 627.7l0 1.6l-1.0-.5l-.1-1.4l.8-.9zM262.6 637.5l-2.4-.3l-.5-1.7l2.2 0l1.4 .6zM268.4 642.9l-1.1-.4l-.5-.7l1.3-.9l.7 .9zM243.9 639.3l-1.3-.4l1.2-1.6l.9 .7l.4 .8zM214.2 639.5l-.9 .7l-1.1-1.1l.7-1.4l1.6 .1zM221.9 648.1l-.5-1.1l1.3-.4l.8 .5l-.7 1.8zM258.7 657.5l1.8-.6l-.1 2.3l-1.2 1.1l-1.2-1.6zM220.7 659.9l-1.1-.4l-.9-1.0l.8-1.1l1.3 .7zM236.6 636.1l1.3-.3l1.5 .5l-.8 2.3l-1.4 0zM252.3 628.3l-1.3 .5l-1.3-.2l.5-1.4l1.2 0zM236.5 662.0l-.6 .3l-.5-.7l.7-.7l.5 .5zM208.1 635.0l.3 1.9l-1.5 .2l-1.5-.9l1.3-1.0zM259.3 638.7l.1-1.0l.9 0l.3 1.5l-1.1 .5zM243.4 625.4l.8 .6l-.6 1.3l-.7 .4l-.3-1.5zM253.8 640.5l.9-1.4l.7-.3l0 1.8l-.9 .4zM209.7 648.5l.7 .8l.1 1.1l-.7 .3l-.5-1.4zM249.1 663.5l2.1-.2l.1 1.3l-1.2 .4l-.9-.7zM248.9 667.2l-.1 1.5l-.7-.1l-.6-.9l1.0-1.0zM243.1 636.3l-.5-.6l.4-.5l.8 .2l.4 .5zM258.0 665.6l-.9 .6l-1.4-.7l.8-.8l1.0-.7zM226.6 618.5l1.1 1.5l-.7 2.1l-1.6-1.0l.4-2.1zM255.6 623.3l2.2-.4l.8 .6l-.9 1.3l-1.6 0zM224.8 634.9l-1.2-2.0l.4-1.8l1.2-.9l.4 3.5zM218.7 630.9l-.8 .1l-.5-.9l.7-.7l1.1 .3zM254.4 643.4l.4 .7l-.9 .3l-1.1-.3l.8-1.1zM220.1 637.0l.8-.5l.7 1.0l-.6 1.3l-.9-.4zM208.2 638.9l.3-1.0l.8 .3l0 1.0l-.7 .6zM237.4 640.2l.1 .9l-1.0-.2l-.4-.8l1.1-.4zM228.4 638.1l-.1 .7l-1.4-.4l.5-.7l.9-.3zM219.3 650.9l-.2-1.1l.9-.1l.7 .5l-.2 1.0zM214.6 624.6l.9-1.1l1.3 .1l-.1 2.6l-1.0-.5zM255.9 632.4l-.1 .8l-1.2 .5l-1.1-.8l1.3-.6zM214.6 664.6l1.1-.4l1.0 1.1l-.7 .4l-1.0 0zM231.7 634.5l-.3-2.1l1.0-.3l.8 .7l.5 1.3zM241.6 623.4l.3-.9l1.3 .1l.8 .6l-.7 .8zM209.2 621.4l-.7 .6l-.4-.6l-.1-.9l1.2-.1zM244.7 654.5l.3-1.2l1.0 .1l.9 .7l-1.0 .6zM226.4 629.2l-1.7-.9l.3-1.4l1.0-.2l1.0 1.1zM251.1 651.5l.6-.3l-.1 1.1l-.7 .7l-.1-1.0zM250.7 638.8l-.8-2.3l.7-1.3l1.6 .2l-.5 2.2zM205.4 664.6l-1.1-.6l-.1-1.3l1.4-.6l.8 1.7zM210.6 636.7l-1.7 .2l-.1-.6l.4-1.0l1.1 .2zM260.1 646.2l.8 .4l-1.0 .5l-.8 0l-.1-.7zM232.3 643.6l1.6-.9l.8 1.2l-.7 1.5l-1.5-.5zM245.6 656.3l-.5 1.1l-.9-.6l-.1-2.7l1.3-.1zM208.4 653.9l2.4-.8l.9 .2l0 1.2l-2.4 .2zM232.9 627.8l-1.2-1.1l.4-.6l1.1-.2l.7 .8zM239.0 647.9l.8 .4l-.5 .8l-1.2 .4l-.2-.9zM256.8 655.1l-.5-.8l.4-.8l.7 .1l-.2 1.2zM205.5 642.7l-.1-.9l.6-1.1l1.1 1.1l-.6 1.4zM213.6 628.5l-.4 .5l-.8 0l-.8-.4l.8-.4zM220.6 660.2l1.2-.3l1.0 .4l-.5 1.7l-1.0 1.2zM266.7 649.4l1.3 .6l.5 1.0l-1.1 .4l-1.7-.7zM221.5 619.4l.9 1.7l-1.4 .6l-1.5-.9l.7-.9zM210.3 626.5l-.3 .9l-1.3 .2l.1-1.4l.6-.4zM265.0 621.4l-1.0 .9l-.8-1.7l.9-1.2l1.4 0zM233.6 642.0l.7-.4l.7 1.8l-.5 .7l-.8-.7zM224.4 621.4l-.2 .7l-1.5-.1l0-.8l1.1-.4zM243.3 628.6l.5 .6l.1 .7l-.7 .7l-.2-1.1zM250.0 663.8l-1.0 .5l-1.4-.3l.4-1.1l1.3 0zM225.2 636.3l.5-.3l.8 .4l-.3 .2l-.8 .2zM241.7 618.8l1.1-.2l.5 .9l-.6 1.4l-.6-.2zM218.0 667.0l.4 3.4l-1.7 .5l-.6-2.1l.8-2.8zM236.7 642.6l.9-.2l1.0 .9l-.8 1.3l-1.1 0zM252.5 620.9l-1.0-.1l-.7-.5l.8-1.8l.9 .8zM224.4 630.6l-.9 .7l0-1.8l.5-.8l.7 1.1zM223.7 646.3l.9-.1l.8 .4l-.5 .3l-1.0-.1zM220.8 661.5l1.6 1.2l-1.0 1.3l-1.5 .2l-.5-1.8zM241.9 631.5l-1.1-.5l.9-1.3l2.4 0l-.4 1.3zM209.3 661.9l-.5-1.5l.7-.7l1.0 .4l.1 1.7zM269.6 651.3l.5 1.4l-2.3-.3l-.4-1.0l1.7-.7zM226.6 653.6l-.5-1.1l.2-.7l1.0 .2l-.1 .8zM207.4 635.6l-1.2 .1l-.2-.7l.3-.5l1.0 .1zM249.2 644.1l.2 1.8l-1.0-.3l-.3-1.3l.4-1.7zM267.7 645.6l.1-1.1l.5-.3l.7 .9l-.6 .8zM216.9 631.2l-.6 1.7l-1.3 .6l-.8-1.3l.8-.6zM252.1 646.6l-.8-.8l-.2-.9l1.3-.1l.3 1.0zM242.3 638.8l.3 1.3l-1.3-.5l-.9-.7l1.1-.9zM224.8 623.5l-1.2 .8l-1.0-.4l.3-.8l1.0-.4zM267.1 635.4l1.2-.6l1.4 .6l.1 1.0l-1.8-.3zM263.9 664.6l.7 .8l-.5 1.2l-.6 .2l-.2-1.0zM243.6 633.2l-.7-.5l-.1-.7l.7-.4l.7 .7zM248.5 660.6l.8-.4l.4 .4l-.3 1.2l-.5-.6zM261.2 621.5l0-1.2l.9-.2l.9 .7l-.8 1.2zM267.7 654.1l-1.0 .4l-.8-1.0l.9-.8l1.4 .5zM243.5 625.4l-1.5-1.8l.5-1.2l2.5-.1l.8 1.8zM240.1 647.9l.3-.6l.4-.4l.3 1.1l-.4 .8zM222.6 660.0l-.9 .5l-.5-1.2l.5-.5l1.2 0zM218.0 660.7l.3 1.5l-1.3-.1l-.5-1.1l.8-.7zM206.7 634.0l-.6-.9l1.1-1.0l.3 .9l-.1 1.3zM236.6 618.7l1.1 .5l-.5 .8l-.8 .1l-1.1-.8zM213.8 640.5l1.2-.7l1.3 .2l-.5 .6l-.8 .4zM258.1 658.1l-1.0 1.5l-.8-.9l.2-1.3l1.3-.6zM211.8 650.6l.3-2.3l.7 0l.4 2.1l-.8 .8zM210.1 647.4l.3-.7l1.9 .8l-.9 .7l-1.1-.1zM259.3 631.2l-.4-2.9l1.6-.9l.7 1.3l-.7 3.0zM245.2 653.8l.5-1.5l1.2 .2l-.5 1.7l-.7 .5zM235.5 664.2l.2-1.0l1.9-1.0l1.7 .5l-.4 1.8zM245.8 660.7l-1.1-1.1l1.1-.7l1.7 .6l-.4 .6z" fill="#26359a" opacity="0.7"/></g><g filter="url(#bl)"><path d="M222.4 638.8l-0.7 0.5M212.9 619.0l1.3 1.0M216.3 653.5l0.0 -1.4M219.6 634.7l-1.2 0.2M236.7 641.0l-1.0 -1.1M250.0 628.2l-1.3 -1.4M254.5 651.6l0.2 -1.3M266.1 647.4l1.0 1.3M206.4 663.6l1.1 0.4M250.6 658.7l0.1 -0.1M259.2 623.3l1.4 0.2M233.0 636.4l0.1 0.6M218.6 627.3l0.4 0.6M264.4 658.9l1.0 -0.6M230.1 648.7l1.0 -0.3M257.4 619.1l0.2 0.5M258.6 623.3l1.1 -1.1M222.2 646.3l-1.4 0.7M247.7 630.3l-0.5 0.1M227.5 650.0l1.1 1.0M236.6 653.3l-0.7 0.5M219.0 643.6l1.5 0.9M262.5 652.9l0.9 -0.6M214.4 669.0l0.9 1.2M221.2 622.8l0.4 1.2M212.0 632.6l0.7 0.7M225.0 623.6l-1.4 0.3M232.5 662.6l1.1 -1.4M218.7 631.9l1.1 0.5M246.6 646.4l-0.4 0.9M262.0 627.0l0.0 -1.3M248.3 664.2l-0.1 -0.6M267.9 652.7l-0.2 -1.3M236.7 628.0l1.2 -1.2M215.1 636.4l-0.3 0.9M220.2 649.1l-1.1 -1.4M219.9 660.3l0.5 -1.1M241.8 639.2l-0.7 0.4M253.3 624.8l-0.2 0.1M260.0 639.0l0.1 -1.4M207.3 653.7l-1.0 -0.9M247.4 664.3l1.0 0.3M241.3 635.4l-0.5 0.0M255.1 665.8l1.2 1.1M223.5 618.2l-1.1 -1.1M256.4 621.3l-1.0 0.5M216.3 632.4l-0.3 -1.0M253.2 644.6l1.2 1.2M210.7 642.5l-1.2 0.8M240.1 638.1l-1.3 1.3M226.3 635.3l-0.9 -0.6M217.4 648.1l-0.4 -0.0M213.6 627.8l-0.3 0.4M218.4 665.9l-0.7 0.9M235.0 635.8l1.1 -0.3M208.4 625.4l1.4 0.3M230.4 629.1l-1.4 0.5M247.4 648.1l-1.2 1.1M254.3 634.7l1.3 0.4M207.9 660.2l1.4 -0.4M210.7 635.3l1.3 1.2M212.5 653.6l0.5 -0.1M232.4 625.6l-0.5 -1.3M236.4 646.2l-0.7 0.1M258.3 653.5l1.1 1.3M214.1 630.7l1.1 -1.0M207.4 629.5l-0.1 -0.8M230.6 645.5l-0.4 1.0M221.2 618.7l-1.1 -0.9M248.7 665.1l0.2 -1.4M227.3 633.4l-0.7 1.2M244.5 616.3l-0.4 0.4M213.4 671.4l1.1 1.3M254.2 618.0l-0.3 -0.2M227.1 630.1l1.4 -0.9M217.9 661.9l1.2 -0.5M239.4 632.9l-1.1 -1.0M268.0 654.5l1.4 0.8M206.7 634.3l-0.5 -0.1M267.4 649.1l-0.5 0.4M248.3 645.5l1.2 -0.7M239.4 641.5l0.6 1.5M223.6 621.0l-1.4 -0.5M267.3 638.5l0.1 0.9M261.1 668.7l-1.3 -1.4M243.9 634.1l0.5 -0.9M251.3 663.2l0.8 -0.2M260.9 620.4l1.3 0.9M265.6 656.1l-0.3 -1.3M239.7 648.0l-0.3 1.1M221.8 656.2l0.5 -1.0M238.5 616.6l0.4 0.2M217.4 638.8l0.9 0.5M210.0 649.8l-0.8 -0.5M245.0 656.1l1.1 -1.2" stroke="#0c0f25" stroke-width="0.95" stroke-linecap="round" opacity="0.9"/></g></svg>
<rect x="270" y="619" width="64.3" height="49.0" fill="#c9cbda"/><svg x="270" y="619" width="64.3" height="49.0" viewBox="270 619 64.3 49.0" overflow="hidden"><g filter="url(#bl)"><path d="M278.2 662.4h0M333.0 629.0h0M291.1 656.7h0M323.5 646.0h0M297.2 652.7h0M330.0 657.5h0M328.1 661.1h0M301.4 665.7h0M294.7 658.6h0M270.8 661.8h0M326.3 637.8h0M270.6 621.6h0M292.1 661.9h0M315.8 633.2h0M292.8 623.3h0M284.7 646.0h0M287.7 659.6h0M317.9 651.3h0M316.6 621.0h0M309.9 632.4h0M328.7 667.6h0M327.1 659.0h0M290.7 624.0h0M282.2 626.2h0M288.7 624.3h0M328.0 636.6h0M280.0 650.9h0M275.2 631.2h0M286.8 633.4h0M305.5 664.7h0M278.9 654.9h0M306.4 661.8h0M294.7 645.4h0M284.1 665.4h0M281.2 630.8h0M283.2 666.2h0M311.8 649.2h0M320.7 645.8h0M296.2 654.1h0M296.3 663.4h0M309.3 634.9h0M296.1 649.8h0M287.6 621.5h0M309.0 629.5h0M275.2 637.4h0M306.5 647.9h0M291.2 624.1h0M332.1 631.0h0M318.1 661.7h0M322.6 667.0h0M319.8 648.8h0M309.7 619.2h0M311.9 646.1h0M291.1 661.0h0M302.3 631.3h0M311.9 622.0h0M321.8 658.6h0M285.0 642.5h0M326.3 624.6h0M334.1 634.2h0M294.8 635.2h0M314.2 651.0h0M313.4 626.3h0M297.1 660.1h0M334.2 643.9h0M298.6 659.9h0M334.3 620.5h0M274.7 663.1h0M305.2 648.4h0M276.3 650.8h0M284.1 644.9h0M277.2 621.2h0M299.5 643.9h0M311.4 632.6h0M320.6 631.5h0M325.1 630.3h0M333.7 652.0h0M292.4 642.0h0M275.7 659.5h0M314.7 646.6h0M320.5 622.7h0M326.7 619.4h0M287.5 654.6h0M313.7 625.5h0M292.7 656.1h0M311.1 625.5h0M296.1 636.5h0M289.3 640.2h0M313.8 661.5h0M324.7 619.3h0M334.3 645.6h0M303.5 666.7h0M300.3 639.6h0M317.9 624.2h0M285.4 662.9h0M280.6 627.8h0M293.7 665.2h0M297.6 647.4h0M316.6 628.3h0M324.0 632.7h0M284.9 633.1h0M305.9 654.4h0M316.4 643.1h0M279.2 639.4h0M329.4 653.9h0M274.6 652.1h0M309.1 621.0h0M298.8 642.1h0M285.9 623.8h0M321.0 659.1h0M290.5 658.7h0M320.3 667.2h0M290.5 663.7h0M284.1 635.2h0M305.0 624.6h0M333.8 651.7h0M310.2 647.2h0M272.5 620.0h0M287.0 659.2h0M326.0 642.2h0M284.6 641.4h0M310.0 659.8h0M329.5 645.3h0M275.2 644.7h0M302.5 623.7h0M329.9 655.8h0M298.2 660.9h0M319.1 620.6h0M312.8 656.6h0M329.2 662.7h0M304.4 650.0h0M314.0 667.7h0M272.9 626.1h0M284.4 640.5h0M300.1 648.1h0M334.2 642.4h0M286.0 660.2h0M327.1 647.8h0M294.6 663.1h0M329.5 657.5h0M281.3 650.1h0M283.8 655.9h0M301.9 625.2h0M305.4 636.7h0M277.5 626.6h0M295.9 660.2h0M332.4 663.1h0M298.0 648.5h0M313.2 637.9h0M310.5 652.7h0M300.7 632.0h0M303.7 661.6h0M312.0 632.0h0M295.5 634.9h0M314.1 633.2h0M323.0 649.9h0M310.5 665.8h0M295.9 643.8h0M306.9 664.9h0M332.5 648.8h0M326.2 667.2h0M274.5 622.8h0M323.2 655.3h0M282.1 620.5h0M287.9 625.2h0M300.8 634.9h0M283.5 665.9h0M304.2 636.0h0M286.2 636.2h0M270.9 634.3h0M280.8 620.2h0M319.9 652.6h0M318.7 650.8h0M334.1 623.7h0M329.9 623.5h0M316.6 654.1h0M318.3 656.6h0M288.5 623.7h0M273.5 622.1h0M284.1 647.7h0M286.5 660.0h0M298.3 658.1h0M277.5 655.7h0M272.5 658.4h0M313.3 620.1h0M326.1 656.1h0M271.7 659.8h0M319.3 639.5h0M329.5 655.9h0M316.6 651.7h0M276.2 643.4h0M302.2 643.8h0M270.8 658.7h0M287.7 665.6h0M300.7 630.5h0M331.8 646.5h0M314.5 661.7h0M279.4 637.6h0M308.5 657.0h0M329.0 664.6h0M284.5 649.3h0M327.2 644.6h0M331.8 640.4h0M274.0 655.1h0M315.9 621.2h0M293.9 646.2h0M318.8 647.2h0M315.8 652.8h0M292.5 640.4h0M301.9 660.3h0M280.8 624.4h0M298.4 654.3h0M331.4 634.7h0M296.1 642.7h0M303.0 642.0h0M312.8 640.1h0M285.5 653.2h0M318.0 642.3h0M326.7 667.9h0M319.6 631.5h0M311.9 634.4h0M286.7 622.8h0M284.1 651.6h0M305.6 653.3h0M315.3 629.2h0M305.6 623.4h0M271.2 620.7h0M313.7 666.1h0M326.8 662.0h0M332.9 650.5h0M295.1 624.6h0M291.4 665.7h0M311.4 648.5h0M313.5 619.4h0M305.8 665.7h0M330.2 643.5h0M294.4 664.0h0M270.2 664.2h0M294.3 620.4h0M274.1 640.3h0M314.1 664.9h0M274.2 636.0h0M302.6 622.3h0M294.2 644.9h0M283.0 626.3h0M314.8 640.1h0M282.4 640.0h0M294.7 624.5h0M292.9 651.8h0M305.6 646.5h0M305.9 661.9h0M331.8 658.9h0M289.3 653.9h0M294.7 622.7h0M291.8 633.0h0M318.7 651.3h0M316.1 661.9h0M332.0 664.1h0M332.0 652.2h0M278.4 622.1h0M322.4 626.8h0M280.0 657.9h0M320.8 649.6h0M320.8 629.4h0M299.2 619.8h0M313.9 620.9h0M285.1 626.8h0M329.9 643.8h0M298.5 657.3h0M314.6 665.4h0M284.6 655.4h0M299.7 640.3h0M317.7 652.8h0M310.5 633.5h0M276.6 646.0h0M325.1 637.1h0M272.0 625.2h0M319.7 648.8h0M287.5 619.3h0M301.8 631.8h0M289.2 622.9h0M333.0 665.1h0M330.1 644.1h0M326.9 631.5h0M290.5 626.6h0M329.0 659.3h0M290.8 666.0h0M310.0 631.5h0M278.1 644.0h0M334.2 664.2h0M286.7 662.7h0M318.4 655.1h0M279.5 662.2h0M303.9 640.1h0M277.0 629.3h0M282.2 651.0h0M270.7 640.0h0M321.9 649.8h0M284.6 622.8h0M313.2 653.3h0M301.7 665.2h0M314.8 661.6h0M297.0 654.1h0M309.9 644.1h0M317.7 625.1h0M283.6 661.6h0M316.7 627.6h0M329.4 622.7h0M277.5 624.1h0M307.7 665.3h0M305.3 651.5h0M273.1 642.6h0M306.6 662.4h0M283.3 648.5h0M322.9 628.2h0M321.8 648.6h0M310.5 648.8h0M330.5 658.8h0M322.9 620.0h0M271.1 656.1h0M328.1 626.5h0M306.3 651.2h0M312.7 643.8h0M277.6 624.8h0M285.2 656.5h0M329.3 650.6h0M334.0 644.4h0M281.5 645.6h0M326.8 637.1h0M316.2 619.4h0M332.9 644.7h0M319.7 642.8h0M331.2 648.1h0M302.2 641.4h0M305.8 646.9h0M281.5 632.9h0M286.8 626.8h0M282.8 635.9h0M307.0 654.4h0M310.7 637.7h0M303.1 620.4h0M316.7 657.2h0M281.9 656.9h0M271.9 626.1h0M272.6 642.7h0M294.0 667.2h0M321.2 664.5h0M329.6 650.4h0M305.6 646.1h0M275.8 641.7h0M304.8 646.0h0M324.7 629.2h0M295.8 650.7h0M309.0 624.3h0M327.6 638.2h0M319.2 637.4h0M313.5 654.3h0M276.9 621.6h0M285.8 632.3h0M324.7 662.5h0M331.9 634.9h0M297.1 646.8h0M326.8 628.2h0M318.6 663.4h0M282.2 631.8h0M313.9 621.9h0M313.1 622.5h0M300.5 667.0h0M326.8 637.5h0M321.8 665.7h0M288.7 651.3h0M295.0 644.5h0M287.2 647.7h0M303.7 648.7h0M329.5 636.2h0M277.9 642.7h0M294.7 623.7h0M325.9 665.0h0M280.7 629.5h0M311.2 662.8h0M328.8 639.5h0M294.2 636.2h0M291.5 636.2h0M281.4 656.3h0M320.3 667.0h0M271.5 651.9h0M288.6 640.3h0M321.6 632.3h0M303.1 667.2h0M304.3 653.4h0M313.7 654.3h0M274.3 624.4h0M288.3 640.5h0M290.3 638.7h0M331.2 640.2h0M283.7 640.2h0M314.9 619.6h0M272.3 643.9h0M312.4 665.2h0M331.2 650.8h0M273.0 639.8h0M332.1 653.3h0M319.1 641.8h0M287.7 640.4h0M331.1 629.5h0M289.1 619.3h0M315.5 641.4h0M290.6 635.5h0M271.9 653.1h0M313.2 628.8h0M282.5 666.7h0M319.8 661.3h0M334.2 655.6h0M333.1 642.0h0M278.6 652.5h0M315.0 649.5h0M297.2 630.0h0M302.2 643.8h0M285.1 631.6h0M319.1 638.2h0M278.0 652.2h0M277.9 655.5h0M324.3 666.4h0M279.8 629.2h0M280.9 664.1h0M273.0 653.4h0M320.8 660.6h0M310.3 635.5h0M300.5 652.7h0M288.1 625.9h0M272.1 660.1h0M278.6 655.7h0M275.6 644.4h0M295.2 644.0h0M300.2 638.6h0M317.8 621.3h0M320.2 645.7h0M288.2 640.5h0M316.1 654.4h0M276.9 663.6h0M322.8 652.7h0M278.1 622.9h0M292.9 663.2h0M318.1 624.1h0M282.4 624.4h0M287.4 627.3h0M304.6 656.4h0M300.0 653.2h0M287.4 658.0h0M286.9 630.4h0M298.7 624.1h0M321.3 658.5h0M295.8 645.3h0M282.7 667.5h0M300.4 630.3h0M300.0 635.3h0M277.1 659.9h0M332.9 640.9h0M298.8 665.1h0M317.8 648.2h0M283.0 661.9h0M311.8 648.4h0M271.7 622.6h0M285.9 639.8h0M303.0 652.5h0M316.6 635.2h0M287.4 658.1h0M280.3 629.8h0M285.8 652.5h0M299.0 651.5h0M330.4 632.3h0M276.6 659.8h0M291.6 666.1h0M304.3 639.3h0M283.9 632.2h0M279.7 637.0h0M318.4 664.1h0M272.1 630.9h0M327.2 641.4h0M290.6 635.6h0M286.7 667.7h0M288.4 660.3h0M288.2 622.3h0M270.2 665.6h0M314.1 647.3h0M308.0 644.5h0M291.5 639.0h0M270.3 652.3h0M296.1 639.5h0M312.4 638.1h0M298.4 629.0h0M307.4 655.3h0M301.7 645.3h0M330.2 638.0h0M316.0 661.5h0M315.3 663.1h0M307.4 648.3h0M315.9 646.8h0M317.3 664.9h0M330.9 649.8h0M322.3 643.5h0M328.2 647.2h0M333.5 665.4h0M315.0 644.5h0M326.6 624.3h0M318.7 638.8h0M278.4 619.3h0M317.8 623.0h0M291.5 652.3h0M316.0 653.6h0M286.8 638.4h0M288.4 631.4h0M290.7 652.9h0M282.4 654.5h0M281.4 664.8h0M328.9 635.1h0M293.5 650.8h0M300.0 644.6h0M303.5 651.4h0M302.2 646.2h0" stroke="#2a2a40" stroke-width="0.65" stroke-linecap="round" opacity="0.42"/></g><g filter="url(#bl3)"><path d="M326.4 648.1l-6.6 1.5l-5.4-1.3l-1.3-2.3l-2.3-6.1l9.9 1.6l6.4-.3z" fill="#7f8fd0" opacity="0.45"/><path d="M322.7 619.0l.4-3.1l2.1 2.8l-.2 2.2l-1.0 2.4l-2.7-2.8zM293.8 656.7l2.3-1.0l1.2 .9l1.0 1.2l-3.2 .4zM270.9 635.8l.9-.5l.6 2.2l-.1 1.9l-.9 1.5l-1.2-2.3l-.6-1.4zM324.9 668.2l-1.9 0l.1-2.3l.9-.8l1.0 1.5zM322.4 659.3l-2.0 .9l-1.2-1.5l.1-1.2l2.0-.2zM322.4 662.6l-1.7 .8l-1.6 0l.7-2.8l1.5-1.3zM281.6 655.8l2.2-.4l.6 .5l-.7 1.4l-1.2 .8l-1.4-1.0l-.8-.9zM279.7 637.9l1.2-1.2l3.1 .1l.4 1.5l.3 1.0l-1.6 0l-1.4 .3zM296.7 624.5l-1.8-3.3l2.8-.4l3.0 .5l-1.0 2.1zM291.3 647.2l-2.2-1.4l0-2.2l3.1-2.1l2.2 2.1l-1.4 2.7zM327.0 649.6l-1.3-1.4l-.1-2.4l1.6-1.7l.7 1.3l1.1 2.5l-.8 1.4zM332.8 657.4l-1.2-4.3l1.9-.9l1.0 1.1l-.4 3.1zM290.8 640.5l-1.3-1.0l1.2-2.9l1.4 .3l.9 2.9zM272.5 647.7l-.5-1.8l1.3-.7l.7-.3l1.1 2.1l-.4 1.0l-.8 1.2zM275.1 630.3l-2.2 1.6l-1.8-.6l.1-2.0l1.3-2.3l1.4 1.7zM321.6 638.0l.5 1.8l-2.6 .2l-2.3-1.3l1.6-1.4zM335.4 642.3l-1.3 2.4l-1.2-1.7l-.6-2.0l1.2-.7l.8 .4zM287.0 644.1l-.2 2.4l-1.8 0l-1.3-2.5l1.6-1.1l1.2 .1zM298.2 635.5l.8-.2l.8 1.4l.4 1.0l-2.2 0l-.7-.2l-.8-1.2zM316.1 623.5l-.7-1.1l-.3-1.1l.5-1.7l1.9 .3l1.1 .9l-.8 2.7zM294.6 652.9l-2.5-.6l0-2.6l1.5-2.2l1.3 .9l1.0 2.3zM280.9 628.9l-2.4 .3l-.6-1.8l1.5-1.2l1.4 .4l2.0 .8zM271.7 638.1l.5-1.9l1.9 .6l.2 3.1l-1.7 2.0zM275.3 633.1l-.9-.9l-.9-2.4l1.8-1.0l.6 2.3zM273.4 621.0l2.0-.9l.6 2.5l-.9 2.0l-2.6-1.4zM287.2 656.8l-2.1-1.3l.9-.9l.8-1.8l1.9 .7l-.2 2.6zM285.2 651.5l.5 1.1l.2 2.0l-1.4 1.1l-2.1-.6l1.1-3.0zM301.0 630.2l3.0-.5l1.6 1.3l-2.0 2.1l-1.8 .1l-2.2-.9zM284.3 651.5l.7-.9l1.4-2.7l1.4 2.1l.6 1.4l-1.3 1.9l-1.8 1.2zM327.7 640.3l.5 2.4l-.6 1.8l-1.0-.1l-2.3-.8l.3-2.8l2.0-.6zM329.7 656.9l.7-4.1l1.9 1.2l.8 1.6l-1.2 3.2zM273.7 628.2l-1.3-.8l.7-.8l.5-1.4l1.7 .5l1.3 1.5l-.9 1.1zM306.1 638.4l-.8 1.4l-2.1 1.2l-2.8-2.0l1.5-.7l3.3-1.2zM276.5 639.9l1.4 2.6l-.5 2.4l-1.8 .9l-1.9-2.4l1.6-2.3zM329.6 655.8l-.3-3.1l2.2 .1l2.1-.7l-1.1 3.1l-.5 2.6zM324.7 644.1l2.2-.5l1.4 1.2l.7 3.2l-2.3-.3l-2.4 .7l-1.4-2.2zM271.6 652.4l-.2-1.1l-.1-1.7l2.2 .2l1.7 .8l-.7 .8l.1 2.2zM328.0 663.1l-.7 1.9l-2.8-.4l1.2-2.2l1.2-2.4zM329.2 653.5l.6 1.6l-.2 1.4l-1.8-.2l-.9-.2l.2-1.5l.9-1.7zM323.5 619.5l1.1 1.0l-.1 1.6l-1.9 .6l-.7-2.1zM322.1 654.4l1.8-3.3l2.1 .1l1.1 2.9l-2.2 2.3zM302.9 665.8l-2.9 .9l-2.3-1.8l1.0-1.2l3.3 .4zM291.4 634.7l-.7-2.0l.2-1.1l1.0-.2l.4 1.4zM330.8 654.4l1.8 .7l-.9 2.0l-1.6 .3l-.8-2.0zM274.6 638.7l2.1 1.6l-1.4 1.9l-2.5-.6l-2.3-1.3l2.3-1.0zM280.5 636.2l1.7 .9l1.1 1.8l-.5 1.2l-1.5 .7l-1.2-.9l.3-1.9zM327.1 630.4l2.1-.2l.8 .2l.2 1.1l-2.4 .5zM295.2 624.1l.6 1.4l-2.3 1.9l-2.9-1.2l1.6-2.1zM275.1 624.8l1.0-.5l1.3-.4l2.2 .9l.7 .8l-2.4 .3l-1.8 .1zM285.0 649.3l0 1.5l-1.8 1.1l-2.3 .4l-2.8-1.1l2.8-2.1zM286.4 639.1l-.5 .3l-2.6 0l.5-1.2l.3-1.5l.8-.1l1.8 .5zM305.7 663.6l0 .7l-.4 1.8l-1.1-.4l-1.6-1.4l0-.6l1.6-1.4zM287.0 646.1l-.7 2.6l-1.5 2.2l-1.4-3.6l-.2-2.1l2.5-1.6zM274.8 621.0l1.5-2.1l2.3-.9l.5 2.7l-1.6 1.6zM286.4 644.8l-1.5-3.0l1.6-.7l2.6-1.1l.3 2.7l-1.7 2.0zM277.0 653.6l1.4 1.4l-.2 1.5l-1.4 1.4l-1.7-.2l-.6-1.3l1.2-2.3zM294.8 624.3l1.9-1.7l1.8-.1l.4 1.6l-1.0 1.9l-2.2-.1zM315.9 660.9l-1.7 2.3l-1.8-1.6l.6-1.9l2.1 0zM295.3 668.1l-.8-2.0l.4-2.5l2.9 1.6l-.3 1.4zM330.3 624.1l-2.5-.3l1.2-1.1l1.0-.9l2.0 1.0l-.6 1.0zM325.7 626.3l1.0-1.9l3.1 1.7l-.8 3.7l-3.2-.2zM304.2 634.4l3.3-1.3l.5 1.1l2.2 2.3l-2.3 .4l-3.2-.7zM300.4 625.4l-1.7 .4l.1-1.3l1.3-1.1l1.6 .7l0 1.0zM273.9 644.0l1.3-.1l.5 2.1l-2.1 .3l-.9-1.2zM271.9 623.3l.2 1.3l-.6 1.9l-1.0-1.1l-.8-2.6zM317.4 625.2l-2.6-1.2l.5-2.2l2.4-.3l.9 .7l-.4 1.5zM320.9 665.2l-3.0 1.2l-.3-3.1l1.7-.6l3.4 1.2zM279.6 640.5l0-1.6l1.4-.6l1.1 .8l.3 2.8l-1.1 .8l-1.0-.6zM299.8 634.5l2.0 .2l3.5 1.2l-.9 1.9l-4.7-.1l-2.1-.3zM311.5 638.9l-.6-2.1l.9-.5l1.2 .3l-.4 1.3zM308.4 655.7l-2.3 1.8l-2.2-.7l.5-3.1l2.0 0zM309.8 636.5l.7 .7l1.2 .9l-1.0 1.3l-1.3 .2l-1.1-.5l.2-3.4zM310.8 625.4l.3 1.4l-1.7 1.3l-1.8-1.1l0-1.2l1.5-2.1zM317.6 629.9l-2.8-.9l1.8-3.7l2.5-.1l-.2 2.3zM314.3 664.4l1.3 .6l-1.4 2.1l-2.7 1.0l-.6-3.3l.5-1.8zM319.8 663.8l1.6-1.3l4.4 .6l.2 1.6l-3.9 .8zM306.4 621.9l1.7 1.6l-1.2 2.3l-2.5 0l.3-1.7l-.3-1.6zM279.3 669.1l-1.5-2.1l1.8-3.1l1.5 2.0l-.5 2.1zM303.5 658.3l-.1 2.0l-2.2 1.2l-1.4-1.6l.7-2.3l.7-1.0l1.7 0zM329.8 655.9l2.3-2.3l2.4-.1l-.8 2.3l-1.6 .6zM329.3 662.5l-2.7-1.5l1.1-2.9l1.5 .6l1.6 1.6zM289.2 639.8l0-1.2l1.0-.8l1.1-.4l1.2 .8l-1.0 1.8zM330.8 630.6l-.6-.1l-.8-.9l.2-2.1l1.5 .2l.6 1.4zM291.0 620.0l2.3-.7l2.3 1.6l.2 1.7l-2.9 .3l-1.9-.7zM325.7 628.8l1.5 1.3l-.7 2.2l-1.5 1.2l-.3-1.5l.4-2.5zM314.2 668.6l-2.7 1.1l-.2-2.1l2.1-2.6l1.1 2.3zM296.5 659.1l-.6-.6l-.4-1.3l1.1-1.8l1.5 1.6l.9 1.1l-1.4 1.1zM274.4 631.7l-1.1 2.4l-3.3-.1l-1.2-2.1l2.0-1.0zM282.2 656.1l1.4-2.0l3.0 2.0l-.6 1.7l-2.0 2.7l-1.8-2.3zM316.3 657.3l-.6 1.1l-1.6 .5l-1.6-.2l-.2-2.9l1.8-1.5l.8 1.1z" fill="#5b6ec4" opacity="0.72"/><path d="M323.4 617.9l1.5-.2l.1 2.4l-.9 1.2l-.9-1.9zM296.9 657.1l-.6 .5l-1.3-.2l-.1-.6l1.6-.1zM271.0 638.1l.7 0l.2 .6l-.8 .1l-.4-.2zM324.0 666.4l.9-.3l.2 .7l-.2 .4l-.6-.1zM318.8 658.6l1.1-.5l1.1 .8l-.2 .7l-1.5 .1zM321.2 661.6l-.5 .7l-.7-.2l-.7-.4l1.0-.6zM283.1 656.5l.1 .6l0 .5l-1.1-.4l-.2-.5zM281.7 638.7l.5-1.2l.6 .7l0 1.5l-.8-.2zM296.7 622.8l1.2-.8l.9 .6l.4 .9l-1.8 .2zM291.4 643.1l1.7 .2l.5 1.7l-1.4 1.3l-1.5-.3zM327.9 645.8l.1 .8l-.6 .4l-.7-.5l.5-.6zM334.3 654.2l.5 1.2l-1.1-.1l-.8-.6l.6-.7zM290.5 638.0l1.4 .2l-.2 .9l-.8 .3l-.6-.6zM273.7 647.3l.2-.9l.6 .3l.5 1.0l-1.0 .2zM272.2 629.6l0-1.4l1.1-.2l.9 .9l-.9 1.0zM320.9 639.1l-1.0-.4l-.1-.7l.9-.3l.4 .4zM333.4 643.0l-.9-.4l.3-.5l1.5 0l0 .8zM284.9 645.6l.1-1.7l1.0-.4l.9 .7l-.6 1.2zM298.1 635.6l1.4 .8l-.7 .7l-1.3 .1l0-1.2zM316.8 620.9l.1 1.2l-.7 .6l-.6-1.4l.6-.9zM293.6 650.6l-.6-1.0l1.5 .1l.7 .3l-.8 .7zM279.1 626.9l1.0 .1l.6 .5l-.8 .7l-1.3-.3zM274.3 638.4l-.4 1.4l-1.4-.1l-.5-.7l1.0-.7zM275.0 631.7l-.9 .1l-.1-.7l.6-.6l.3 .6zM275.0 621.7l-.3 .9l-.8-.6l-.3-.7l1.0-.2zM286.9 655.3l.4-.8l.6 .1l0 1.1l-1.0 .3zM283.7 653.3l1.4-.5l.7 1.1l-.5 .6l-1.3-.3zM303.6 631.9l-1.2 .5l-1.3-1.0l.9-1.1l1.1 .4zM286.8 650.5l1.0 .6l-.4 1.5l-.9-.3l-.1-.7zM326.9 642.9l-1.0 .3l-.5-1.1l.6-.6l.9 .3zM332.1 656.7l-.8 0l-.7-1.2l.9-.7l.7 .7zM274.7 627.1l-.5 .5l-.5 .3l-.4-.7l.5-.5zM302.9 638.9l.8-.9l.6 1.2l-.6 1.0l-.5-.4zM274.6 643.1l.4-1.9l1.9 .3l.3 .7l-.8 1.3zM332.7 654.5l.3 1.1l-1.8 1.1l-.7-1.8l.7-.8zM325.8 647.5l-.8-.9l.2-1.3l1.1 .5l.6 1.4zM273.8 650.8l-.6 .8l-.8-.3l0-.7l.5-1.4zM327.2 662.1l.5 .5l.2 1.0l-1.1 .3l-.4-.6zM327.0 654.7l.7-.9l1.0-.4l.5 1.3l-1.2 .9zM324.1 620.8l-.6 .7l-.5-.6l.2-.9l.4-.1zM325.3 651.9l.5 1.3l-.8 1.0l-.4-1.5l.1-1.6zM298.5 664.0l1.8-.1l.6 1.0l-.7 .5l-1.7-.3zM291.5 633.3l-.4-.7l.6-.4l.8 .6l-.3 .8zM331.7 656.8l-1.0-.4l-.4-1.1l1.0-.4l.8 .7zM272.8 639.7l.7 .2l.5 .8l-.9 .1l-.8-.3zM281.4 638.0l.7-.3l.3 1.1l-.5 .9l-.7-.8zM329.5 629.9l.2 .9l-.3 .9l-.2-.7l.1-.6zM295.5 625.9l-1.5 .3l-1.4-.4l.5-1.6l1.8-.3zM275.9 624.6l.7-.9l1.7 .4l-.2 .7l-1.6 .7zM283.7 651.9l-2.0-.1l-.4-.4l1.0-.8l1.6 .2zM285.3 637.3l-.3 1.0l-.5 .1l0-1.1l.5-.7zM305.0 664.9l-1.0 .9l-.3-.9l0-.9l1.0 0zM286.9 645.2l.1 2.3l-1.6 .6l-.9-1.6l.8-1.2zM278.4 621.6l-1.9 .1l-.5-1.1l.6-1.3l1.1 .8zM288.1 644.0l-1.5 .5l-1.0-1.8l1.0-.9l1.2 .8zM277.1 655.4l-.3 .6l-.6 .6l-.9-.5l.7-.6zM295.9 623.7l1.2-.7l.7 1.4l-.1 .7l-1.8 .4zM315.3 660.6l-.8 .9l-.9-.6l-.8-.6l1.9-.2zM295.2 665.3l.7-.7l.5 .1l0 2.0l-1.2-.4zM329.8 622.5l.8 .5l-.4 .5l-.7 .1l-.5-1.0zM327.3 626.2l0 1.3l-.7 .6l-.6-.7l.1-1.1zM306.6 636.8l-1.0-.5l.7-1.7l1.3 .5l.3 1.5zM299.9 626.1l-.5-1.0l0-.8l.5-.6l.3 1.4zM273.4 645.8l.3-.9l.4-.2l.3 .7l-.4 .8zM272.0 622.8l.4 .8l.1 1.4l-.8-.3l-.5-.8zM316.6 623.8l.5-1.3l.7 .5l.5 1.0l-.8 .8zM319.9 663.5l.9 .6l-1.2 1.6l-1.5-.4l.5-1.4zM280.3 640.5l-.2-.7l1.1-.8l.4 .8l.1 .7zM301.3 634.7l.5 .8l-.3 1.6l-1.0 .2l-.2-1.5zM313.0 637.6l-1.3 .3l-.4-.5l.3-.4l1.2 .1zM306.8 656.3l-1.0 .1l-.5-1.0l1.0-.5l.5 .6zM309.7 637.0l.8-.1l.4 .6l-.3 .8l-.9-.2zM309.5 626.2l-.2 1.1l-.6 0l-.6-.6l.7-1.5zM317.5 625.0l1.1 1.1l-1.3 2.4l-1.0-1.2l.3-1.8zM312.2 665.8l.4-.9l1.1-.3l-.1 1.7l-.8 1.0zM322.2 663.6l.9 .6l0 1.3l-.7 .1l-.4-.9zM306.0 623.2l.4 .3l-.2 .8l-.4 .1l-.2-.9zM278.6 667.0l1.1-1.0l1.2 .4l-.2 1.0l-1.1 .4zM302.3 658.3l-.5 1.0l-1.4 .1l-.2-1.9l1.2 .2zM331.7 656.2l-.6-.7l1.1-.8l.7 .8l0 1.2zM328.0 658.5l.8 1.1l-.2 1.8l-1.2 .1l-.2-2.0zM290.5 637.8l.3-.2l.4 .3l-.2 .5l-.5-.1zM330.7 628.6l.2 .4l0 .9l-.3 .4l-.2-.9zM294.7 621.2l-.4 1.3l-1.5-1.1l.4-1.9l1.0 .9zM324.3 631.0l.6-.6l.9 0l0 1.0l-.9 .1zM311.5 667.8l1.6-.6l1.5 .8l-1.4 1.3l-1.8-.5zM297.8 657.9l-.6 .3l-.6-.9l.4-.5l1.4 .2zM272.4 632.2l-1.4 .2l-1.6-.4l.8-.7l1.2 0zM284.4 656.1l-.3 1.1l-1.3-.1l-.5-.9l.8-.6zM314.0 657.8l-.7-.6l-.7-1.3l1.5-.7l1.0 1.6z" fill="#26359a" opacity="0.7"/></g><g filter="url(#bl)"><path d="M273.6 641.1l-0.7 -1.2M316.9 661.9l0.4 0.6M284.4 657.2l0.9 -0.1M281.4 639.6l0.3 -0.9M296.9 619.4l0.4 -0.3M293.8 642.3l1.0 0.9M324.5 648.3l-1.3 1.5M333.3 657.4l-0.4 1.5M290.0 638.8l-1.2 -1.2M275.9 630.8l1.1 -1.1M300.0 635.4l0.6 -0.7M274.5 632.6l0.7 0.3M274.8 619.5l0.5 -1.4M288.1 650.1l1.5 -0.3M300.6 628.3l-0.5 -0.0M288.5 649.7l0.2 -1.3M324.8 644.2l0.8 1.3M274.0 625.8l-0.1 -0.8M328.1 655.6l-1.3 0.5M326.2 648.5l0.9 0.8M325.6 663.3l0.5 -0.8M325.9 658.8l1.3 -0.2M325.2 650.6l1.5 0.6M292.9 629.3l0.7 -0.6M278.0 635.5l0.4 1.2M330.8 627.9l0.0 0.0M297.0 621.9l-1.2 -0.7M273.7 624.9l-0.9 0.7M285.7 639.7l-1.2 1.0M306.0 665.4l0.2 0.2M286.0 643.3l0.5 -0.7M277.0 623.6l0.8 -0.6M295.0 620.9l1.2 0.1M313.9 657.8l-0.7 1.3M296.5 662.0l-0.9 0.6M305.4 638.9l0.6 1.5M299.5 623.0l1.2 0.8M314.9 624.9l-1.0 -0.4M278.8 644.2l-0.7 -0.9M304.4 634.2l-0.3 0.8M306.3 652.7l-0.2 -0.9M311.0 627.2l-1.5 1.1M320.8 628.0l0.6 0.2M317.0 661.9l0.5 1.2M325.2 660.9l-0.9 0.0M305.2 625.8l-0.3 0.4M283.3 668.9l-0.2 -1.1M300.7 656.2l1.3 1.1M332.9 651.5l-1.4 -1.2M289.3 636.9l0.4 -0.9M331.4 630.4l0.5 -0.3M327.2 632.1l0.6 -0.2M300.8 654.6l-0.7 0.8M311.9 659.7l0.3 -1.3" stroke="#0c0f25" stroke-width="0.95" stroke-linecap="round" opacity="0.9"/></g></svg><rect x="324.1" y="664" width="7" height="1.3" fill="#fff"/>
<text x="107.5" y="465.2" font-size="6.9" font-weight="bold" text-anchor="middle" textLength="64.3" lengthAdjust="spacingAndGlyphs" stroke="#000" stroke-width="0.22">miR-217 inhibitor NC</text>
<text x="172.5" y="465.2" font-size="6.9" font-weight="bold" text-anchor="middle" textLength="53" lengthAdjust="spacingAndGlyphs" stroke="#000" stroke-width="0.22">miR-217 inhibitor</text>
<text x="237" y="465.2" font-size="6.9" font-weight="bold" text-anchor="middle" textLength="38" lengthAdjust="spacingAndGlyphs" stroke="#000" stroke-width="0.22">miR-217 NC</text>
<text x="299.7" y="465.2" font-size="6.9" font-weight="bold" text-anchor="middle" textLength="46.4" lengthAdjust="spacingAndGlyphs" stroke="#000" stroke-width="0.22">miR-217 mimic</text>
<line x1="58.8" y1="491.8" x2="58.8" y2="545" stroke="#000" stroke-width="1.1"/>
<line x1="58.8" y1="593.7" x2="58.8" y2="640.6" stroke="#000" stroke-width="1.1"/>
<text transform="translate(55.1 521.5) rotate(-90)" font-size="6" text-anchor="middle" font-weight="bold" textLength="33" lengthAdjust="spacingAndGlyphs">MIA PaCa-2</text>
<text transform="translate(55.1 616.8) rotate(-90)" font-size="6" text-anchor="middle" font-weight="bold" textLength="22.4" lengthAdjust="spacingAndGlyphs">PANC-1</text>
<text transform="translate(70.2 495.9) rotate(-90)" font-size="5.5" text-anchor="middle" textLength="22.5" lengthAdjust="spacingAndGlyphs">migration</text>
<text transform="translate(70.2 543.5) rotate(-90)" font-size="5.5" text-anchor="middle" textLength="19.5" lengthAdjust="spacingAndGlyphs">invasion</text>
<text transform="translate(70.2 596.6) rotate(-90)" font-size="5.5" text-anchor="middle" textLength="22.8" lengthAdjust="spacingAndGlyphs">migration</text>
<text transform="translate(70.2 643.7) rotate(-90)" font-size="5.5" text-anchor="middle" textLength="19.8" lengthAdjust="spacingAndGlyphs">invasion</text>
</svg>
<svg width="641" height="766" viewBox="0 0 641 766" style="pointer-events:none">
<text x="11.2" y="685.60" font-size="9.2" fill="#000" stroke="#000" stroke-width="0.12" textLength="19.4" lengthAdjust="spacingAndGlyphs"><tspan font-weight="bold">Fig. 4</tspan></text>
<text x="41.2" y="685.60" font-size="9.2" fill="#000" stroke="#000" stroke-width="0.12" textLength="586.5" lengthAdjust="spacingAndGlyphs"><tspan font-weight="bold">CERS6-AS1 behaves like a sponge for miR-217 and miR-217 inhibits PC proliferation and invasion. A</tspan> miR-217 was identified as the</text>
<text x="11.2" y="696.33" font-size="9.2" fill="#000" stroke="#000" stroke-width="0.12" textLength="616.5" lengthAdjust="spacingAndGlyphs">target of CERS6-AS1 by Venn analysis. <tspan font-weight="bold">B</tspan> RT-qPCR analysis of miR-217 expression in PC tissues. <tspan font-weight="bold">C</tspan> Pearson correlation analysis was used to</text>
<text x="11.2" y="707.06" font-size="9.2" fill="#000" stroke="#000" stroke-width="0.12" textLength="616.5" lengthAdjust="spacingAndGlyphs">investigate the correlation between CERS6-AS1 and miR-217. <tspan font-weight="bold">D</tspan> miR-217 expression in shCtrl and shCERS6-AS1 groups. <tspan font-weight="bold">E</tspan> The prediction</text>
<text x="11.2" y="717.79" font-size="9.2" fill="#000" stroke="#000" stroke-width="0.12" textLength="616.5" lengthAdjust="spacingAndGlyphs">binding site between miR-217 and CERS6-AS1. <tspan font-weight="bold">F</tspan> Luciferase assay was applied to investigate the direct interaction between CERS6 and miR-</text>
<text x="11.2" y="728.52" font-size="9.2" fill="#000" stroke="#000" stroke-width="0.12" textLength="616.5" lengthAdjust="spacingAndGlyphs">217. <tspan font-weight="bold">G</tspan> RIP analysis demonstrated the co-interaction of CERS6-AS1 and miR-217 with Ago2. <tspan font-weight="bold">H</tspan> Functional experiments were performed to verify</text>
<text x="11.2" y="739.25" font-size="9.2" fill="#000" stroke="#000" stroke-width="0.12" textLength="616.5" lengthAdjust="spacingAndGlyphs">the effect of miR-335-5p mimic or inhibitor on proliferation in MIA PaCa-2 and PANC-1. <tspan font-weight="bold">I</tspan> Functional experiments were performed to verify the</text>
<text x="11.2" y="749.98" font-size="9.2" fill="#000" stroke="#000" stroke-width="0.12" textLength="593.2" lengthAdjust="spacingAndGlyphs">effect of miR-217 mimic or inhibitor on migration and invasion in MIA PaCa-2 and PANC-1 (scale bar: 100 μm). **<tspan font-style="italic">p</tspan> &lt; 0.01, ***<tspan font-style="italic">p</tspan> &lt; 0.001.</text>
</svg>
</body></html>
